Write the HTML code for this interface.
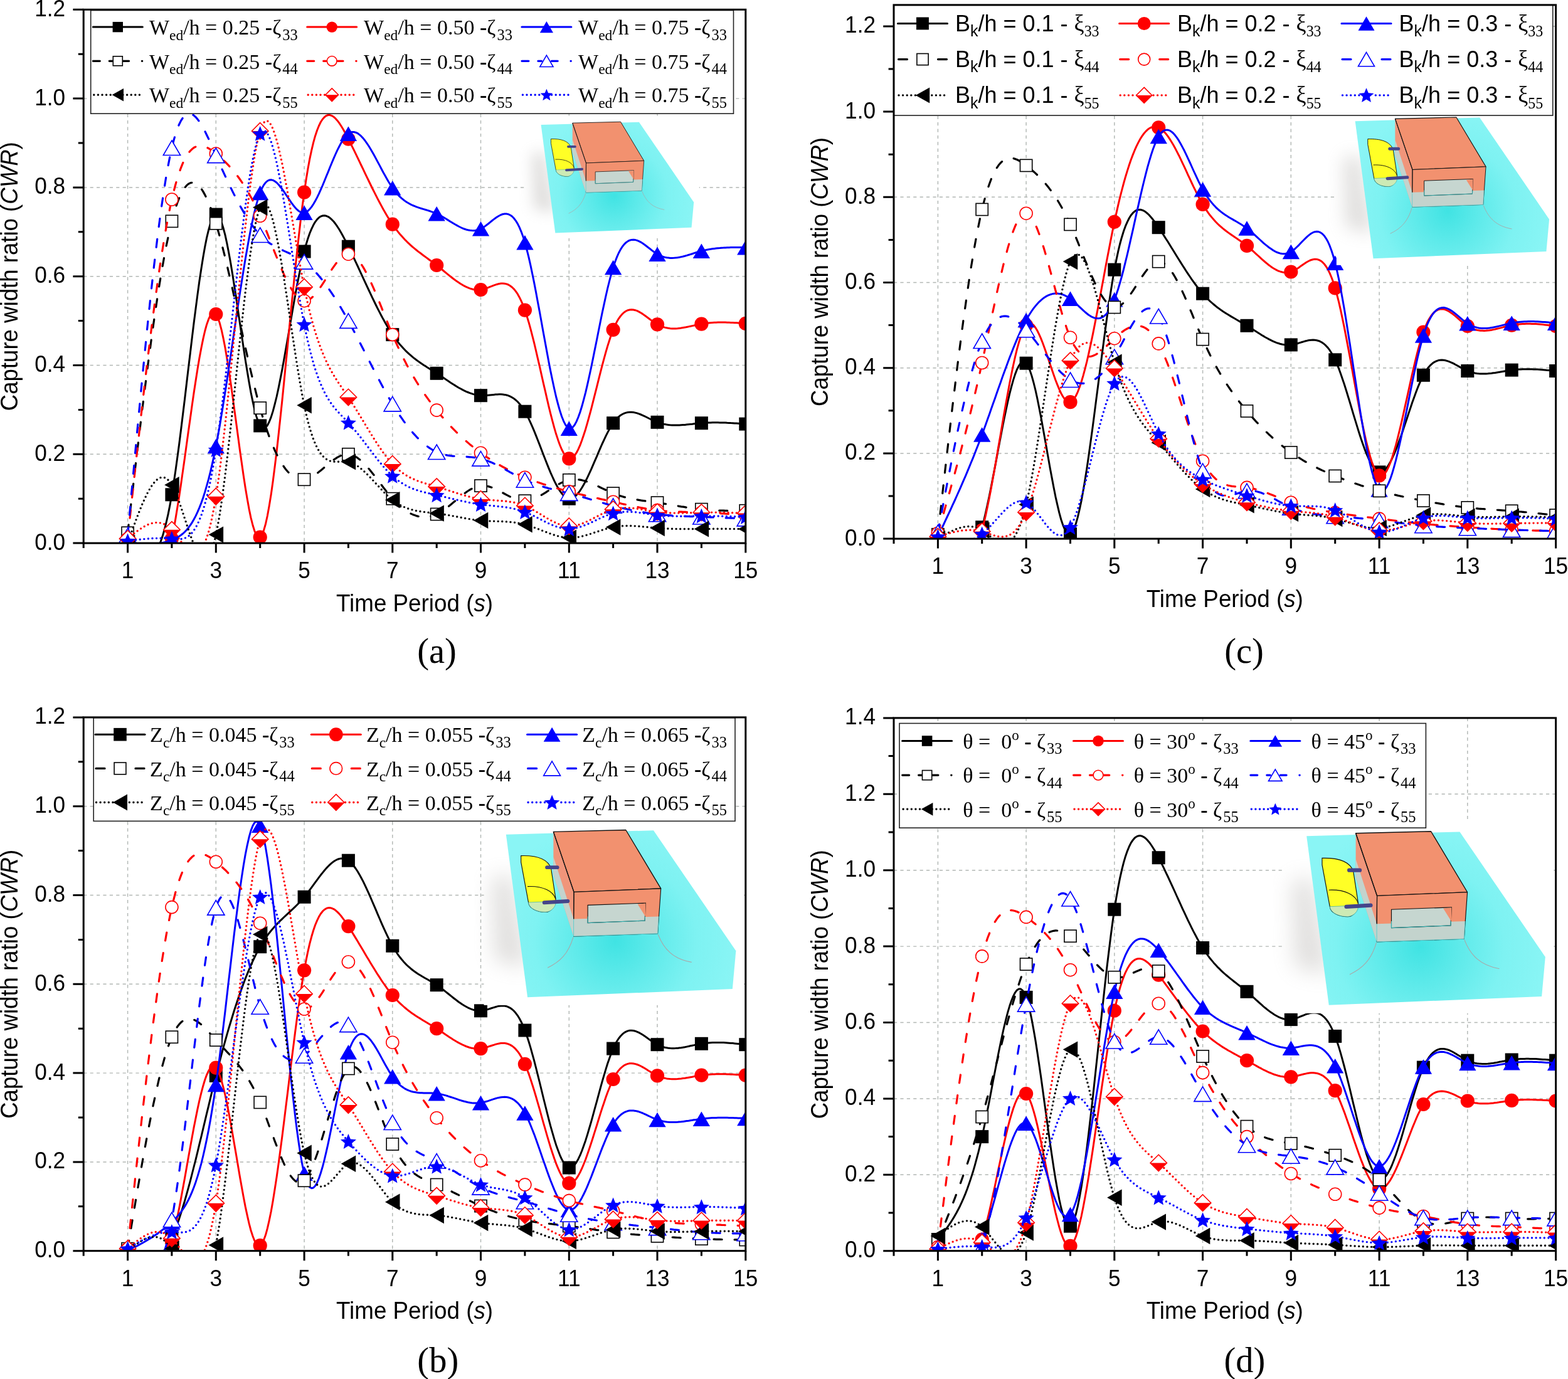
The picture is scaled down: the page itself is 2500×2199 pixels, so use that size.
<!DOCTYPE html>
<html><head><meta charset="utf-8"><title>CWR figure</title>
<style>html,body{margin:0;padding:0;background:#fff;} svg{display:block;}</style></head>
<body><svg xmlns="http://www.w3.org/2000/svg" width="2500" height="2199" viewBox="0 0 2500 2199">
<defs>
<filter id="blur" x="-50%" y="-50%" width="200%" height="200%"><feGaussianBlur stdDeviation="75"/></filter>
<radialGradient id="water" gradientUnits="userSpaceOnUse" cx="1080" cy="900" r="900">
<stop offset="0" stop-color="#40e3e3"/><stop offset="0.3" stop-color="#5eeaea"/><stop offset="0.65" stop-color="#7ef2f2"/><stop offset="1" stop-color="#8af5f5"/></radialGradient>
<clipPath id="clipa"><rect x="133.2" y="15.3" width="1055.6" height="850.8"/></clipPath>
<clipPath id="clipc"><rect x="1425" y="7.9" width="1055.6" height="851.2"/></clipPath>
<clipPath id="clipb"><rect x="133.2" y="1143.9" width="1055.6" height="850.8"/></clipPath>
<clipPath id="clipd"><rect x="1425" y="1144.9" width="1055.6" height="849.8"/></clipPath>
</defs>
<rect width="2500" height="2199" fill="#fff"/>
<path d="M203.6 15.3V866.1M344.3 15.3V866.1M485.1 15.3V866.1M625.8 15.3V866.1M766.5 15.3V866.1M907.3 15.3V866.1M1048 15.3V866.1M133.2 724.3H1188.8M133.2 582.5H1188.8M133.2 440.7H1188.8M133.2 298.9H1188.8M133.2 157.1H1188.8" stroke="#b2b7b4" stroke-width="1.45" stroke-dasharray="5.2 5.2" fill="none"/>
<g clip-path="url(#clipa)">
<g><path d="M203.6 866.1 L206.5 869.9 L209.4 873.6 L212.4 877.1 L215.3 880.5 L218.2 883.5 L221.2 886.2 L224.1 888.4 L227 890.2 L230 891.3 L232.9 891.8 L235.8 891.6 L238.8 890.5 L241.7 888.6 L244.6 885.8 L247.6 881.9 L250.5 876.9 L253.4 870.7 L256.3 863.3 L259.3 854.6 L262.2 844.5 L265.1 833 L268.1 819.9 L271 805.2 L273.9 788.8 L276.9 770.7 L279.8 751.1 L282.7 730.1 L285.7 708 L288.6 685 L291.5 661.2 L294.5 636.9 L297.4 612.3 L300.3 587.6 L303.3 563 L306.2 538.6 L309.1 514.8 L312.1 491.6 L315 469.4 L317.9 448.3 L320.9 428.5 L323.8 410.2 L326.7 393.7 L329.6 379.1 L332.6 366.6 L335.5 356.4 L338.4 348.9 L341.4 344 L344.3 342.1 L347.2 343.4 L350.2 347.5 L353.1 354.3 L356 363.5 L359 374.9 L361.9 388.2 L364.8 403.2 L367.8 419.7 L370.7 437.4 L373.6 456 L376.6 475.3 L379.5 495.1 L382.4 515 L385.4 535 L388.3 554.7 L391.2 573.9 L394.2 592.2 L397.1 609.6 L400 625.8 L403 640.4 L405.9 653.3 L408.8 664.1 L411.7 672.8 L414.7 678.9 L417.6 682.4 L420.5 683.3 L423.5 681.9 L426.4 678.2 L429.3 672.5 L432.3 664.9 L435.2 655.6 L438.1 644.7 L441.1 632.5 L444 619.1 L446.9 604.6 L449.9 589.3 L452.8 573.3 L455.7 556.8 L458.7 540 L461.6 523 L464.5 506 L467.5 489.1 L470.4 472.6 L473.3 456.6 L476.3 441.2 L479.2 426.7 L482.1 413.3 L485.1 401 L488 390 L490.9 380.4 L493.8 372 L496.8 364.8 L499.7 358.8 L502.6 353.8 L505.6 349.9 L508.5 347 L511.4 345.1 L514.4 344 L517.3 343.8 L520.2 344.3 L523.2 345.6 L526.1 347.6 L529 350.2 L532 353.3 L534.9 357 L537.8 361.2 L540.8 365.8 L543.7 370.8 L546.6 376 L549.6 381.6 L552.5 387.3 L555.4 393.2 L558.4 399.2 L561.3 405.3 L564.2 411.5 L567.1 417.7 L570.1 424 L573 430.4 L575.9 436.7 L578.9 443.1 L581.8 449.4 L584.7 455.7 L587.7 462 L590.6 468.2 L593.5 474.4 L596.5 480.5 L599.4 486.5 L602.3 492.3 L605.3 498.1 L608.2 503.7 L611.1 509.1 L614.1 514.4 L617 519.5 L619.9 524.4 L622.9 529.1 L625.8 533.6 L628.7 537.8 L631.7 541.8 L634.6 545.6 L637.5 549.2 L640.5 552.5 L643.4 555.7 L646.3 558.8 L649.2 561.6 L652.2 564.4 L655.1 566.9 L658 569.4 L661 571.8 L663.9 574 L666.8 576.1 L669.8 578.2 L672.7 580.2 L675.6 582.2 L678.6 584.1 L681.5 586 L684.4 587.8 L687.4 589.7 L690.3 591.5 L693.2 593.4 L696.2 595.3 L699.1 597.2 L702 599.1 L705 601.1 L707.9 603.1 L710.8 605.1 L713.8 607 L716.7 609 L719.6 610.9 L722.5 612.8 L725.5 614.6 L728.4 616.4 L731.3 618.2 L734.3 619.8 L737.2 621.4 L740.1 622.9 L743.1 624.3 L746 625.5 L748.9 626.7 L751.9 627.7 L754.8 628.6 L757.7 629.4 L760.7 630 L763.6 630.4 L766.5 630.7 L769.5 630.8 L772.4 630.8 L775.3 630.6 L778.3 630.3 L781.2 630 L784.1 629.7 L787.1 629.4 L790 629.1 L792.9 628.9 L795.9 628.8 L798.8 628.8 L801.7 629 L804.6 629.4 L807.6 630 L810.5 630.9 L813.4 632.1 L816.4 633.7 L819.3 635.6 L822.2 637.8 L825.2 640.5 L828.1 643.7 L831 647.4 L834 651.5 L836.9 656.2 L839.8 661.5 L842.8 667.3 L845.7 673.6 L848.6 680.2 L851.6 687.2 L854.5 694.4 L857.4 701.8 L860.4 709.4 L863.3 717 L866.2 724.6 L869.2 732.2 L872.1 739.6 L875 746.9 L877.9 753.8 L880.9 760.5 L883.8 766.8 L886.7 772.6 L889.7 777.9 L892.6 782.6 L895.5 786.7 L898.5 790 L901.4 792.6 L904.3 794.4 L907.3 795.2 L910.2 795.1 L913.1 794.1 L916.1 792.2 L919 789.6 L921.9 786.3 L924.9 782.3 L927.8 777.8 L930.7 772.7 L933.7 767.2 L936.6 761.3 L939.5 755.1 L942.5 748.6 L945.4 741.9 L948.3 735.1 L951.3 728.3 L954.2 721.4 L957.1 714.7 L960 708 L963 701.6 L965.9 695.4 L968.8 689.6 L971.8 684.1 L974.7 679.1 L977.6 674.7 L980.6 670.8 L983.5 667.4 L986.4 664.6 L989.4 662.3 L992.3 660.5 L995.2 659.1 L998.2 658.1 L1001.1 657.5 L1004 657.2 L1007 657.2 L1009.9 657.5 L1012.8 658.1 L1015.8 658.9 L1018.7 659.9 L1021.6 661 L1024.6 662.3 L1027.5 663.6 L1030.4 665 L1033.3 666.5 L1036.3 668 L1039.2 669.4 L1042.1 670.8 L1045.1 672.1 L1048 673.3 L1050.9 674.3 L1053.9 675.2 L1056.8 675.9 L1059.7 676.6 L1062.7 677.1 L1065.6 677.5 L1068.5 677.8 L1071.5 678 L1074.4 678.1 L1077.3 678.1 L1080.3 678.1 L1083.2 678 L1086.1 677.8 L1089.1 677.6 L1092 677.4 L1094.9 677.1 L1097.9 676.8 L1100.8 676.5 L1103.7 676.2 L1106.7 675.8 L1109.6 675.5 L1112.5 675.2 L1115.4 674.9 L1118.4 674.7 L1121.3 674.4 L1124.2 674.3 L1127.2 674.1 L1130.1 674 L1133 673.9 L1136 673.8 L1138.9 673.8 L1141.8 673.8 L1144.8 673.8 L1147.7 673.9 L1150.6 673.9 L1153.6 674 L1156.5 674.1 L1159.4 674.3 L1162.4 674.4 L1165.3 674.6 L1168.2 674.7 L1171.2 674.9 L1174.1 675.1 L1177 675.3 L1180 675.5 L1182.9 675.7 L1185.8 675.9 L1188.8 676.1" fill="none" stroke="#000000" stroke-width="3" stroke-linejoin="round"/><rect x="193.1" y="855.6" width="21" height="21" fill="#000000"/><rect x="263.4" y="778.3" width="21" height="21" fill="#000000"/><rect x="333.8" y="331.6" width="21" height="21" fill="#000000"/><rect x="404.2" y="668.4" width="21" height="21" fill="#000000"/><rect x="474.6" y="390.5" width="21" height="21" fill="#000000"/><rect x="544.9" y="382.7" width="21" height="21" fill="#000000"/><rect x="615.3" y="523.1" width="21" height="21" fill="#000000"/><rect x="685.7" y="584.8" width="21" height="21" fill="#000000"/><rect x="756" y="620.2" width="21" height="21" fill="#000000"/><rect x="826.4" y="645.7" width="21" height="21" fill="#000000"/><rect x="896.8" y="784.7" width="21" height="21" fill="#000000"/><rect x="967.1" y="664.2" width="21" height="21" fill="#000000"/><rect x="1037.5" y="662.8" width="21" height="21" fill="#000000"/><rect x="1107.9" y="664.2" width="21" height="21" fill="#000000"/><rect x="1178.3" y="665.6" width="21" height="21" fill="#000000"/></g>
<g><path d="M203.6 866.1 L206.5 872.7 L209.4 879.1 L212.4 885.5 L215.3 891.6 L218.2 897.5 L221.2 902.9 L224.1 908 L227 912.6 L230 916.5 L232.9 919.9 L235.8 922.5 L238.8 924.3 L241.7 925.3 L244.6 925.4 L247.6 924.4 L250.5 922.4 L253.4 919.2 L256.3 914.8 L259.3 909.2 L262.2 902.1 L265.1 893.7 L268.1 883.7 L271 872.2 L273.9 859 L276.9 844.2 L279.8 827.8 L282.7 810.1 L285.7 791.4 L288.6 771.7 L291.5 751.4 L294.5 730.5 L297.4 709.4 L300.3 688.2 L303.3 667.2 L306.2 646.4 L309.1 626.2 L312.1 606.8 L315 588.3 L317.9 571 L320.9 555 L323.8 540.6 L326.7 528 L329.6 517.4 L332.6 508.9 L335.5 502.8 L338.4 499.3 L341.4 498.6 L344.3 501 L347.2 506.4 L350.2 514.8 L353.1 525.8 L356 539.1 L359 554.5 L361.9 571.7 L364.8 590.4 L367.8 610.2 L370.7 631 L373.6 652.4 L376.6 674.2 L379.5 695.9 L382.4 717.5 L385.4 738.5 L388.3 758.7 L391.2 777.8 L394.2 795.5 L397.1 811.6 L400 825.6 L403 837.5 L405.9 846.8 L408.8 853.2 L411.7 856.6 L414.7 856.5 L417.6 852.9 L420.5 845.8 L423.5 835.5 L426.4 822.3 L429.3 806.3 L432.3 787.8 L435.2 767.1 L438.1 744.4 L441.1 720 L444 694 L446.9 666.8 L449.9 638.5 L452.8 609.5 L455.7 579.9 L458.7 550 L461.6 520 L464.5 490.2 L467.5 460.8 L470.4 432.1 L473.3 404.2 L476.3 377.5 L479.2 352.2 L482.1 328.5 L485.1 306.7 L488 286.9 L490.9 269.2 L493.8 253.4 L496.8 239.4 L499.7 227.2 L502.6 216.7 L505.6 207.8 L508.5 200.5 L511.4 194.5 L514.4 190 L517.3 186.7 L520.2 184.5 L523.2 183.5 L526.1 183.6 L529 184.5 L532 186.3 L534.9 188.9 L537.8 192.2 L540.8 196.1 L543.7 200.5 L546.6 205.3 L549.6 210.5 L552.5 216 L555.4 221.6 L558.4 227.4 L561.3 233.3 L564.2 239.2 L567.1 245.2 L570.1 251.3 L573 257.4 L575.9 263.5 L578.9 269.6 L581.8 275.8 L584.7 281.9 L587.7 288 L590.6 294 L593.5 300 L596.5 305.9 L599.4 311.7 L602.3 317.4 L605.3 323 L608.2 328.4 L611.1 333.8 L614.1 338.9 L617 343.9 L619.9 348.7 L622.9 353.3 L625.8 357.7 L628.7 361.9 L631.7 365.9 L634.6 369.6 L637.5 373.2 L640.5 376.6 L643.4 379.8 L646.3 382.9 L649.2 385.8 L652.2 388.6 L655.1 391.3 L658 393.9 L661 396.4 L663.9 398.7 L666.8 401.1 L669.8 403.3 L672.7 405.5 L675.6 407.7 L678.6 409.9 L681.5 412 L684.4 414.2 L687.4 416.3 L690.3 418.5 L693.2 420.7 L696.2 423 L699.1 425.3 L702 427.7 L705 430 L707.9 432.5 L710.8 434.9 L713.8 437.3 L716.7 439.6 L719.6 442 L722.5 444.3 L725.5 446.5 L728.4 448.6 L731.3 450.6 L734.3 452.5 L737.2 454.3 L740.1 455.9 L743.1 457.4 L746 458.7 L748.9 459.9 L751.9 460.8 L754.8 461.5 L757.7 462 L760.7 462.3 L763.6 462.3 L766.5 462 L769.5 461.4 L772.4 460.6 L775.3 459.7 L778.3 458.6 L781.2 457.4 L784.1 456.3 L787.1 455.1 L790 454.1 L792.9 453.2 L795.9 452.5 L798.8 452.1 L801.7 452 L804.6 452.2 L807.6 452.9 L810.5 454 L813.4 455.7 L816.4 458 L819.3 460.8 L822.2 464.4 L825.2 468.7 L828.1 473.9 L831 479.8 L834 486.7 L836.9 494.6 L839.8 503.4 L842.8 513.2 L845.7 523.7 L848.6 534.9 L851.6 546.7 L854.5 559 L857.4 571.6 L860.4 584.4 L863.3 597.4 L866.2 610.3 L869.2 623.2 L872.1 635.9 L875 648.3 L877.9 660.2 L880.9 671.6 L883.8 682.3 L886.7 692.3 L889.7 701.4 L892.6 709.5 L895.5 716.5 L898.5 722.3 L901.4 726.8 L904.3 729.9 L907.3 731.4 L910.2 731.3 L913.1 729.6 L916.1 726.6 L919 722.2 L921.9 716.6 L924.9 709.9 L927.8 702.1 L930.7 693.6 L933.7 684.2 L936.6 674.2 L939.5 663.6 L942.5 652.6 L945.4 641.2 L948.3 629.6 L951.3 617.9 L954.2 606.2 L957.1 594.7 L960 583.3 L963 572.2 L965.9 561.6 L968.8 551.6 L971.8 542.2 L974.7 533.5 L977.6 525.8 L980.6 519 L983.5 513.1 L986.4 508.1 L989.4 504 L992.3 500.6 L995.2 498 L998.2 496 L1001.1 494.7 L1004 494 L1007 493.8 L1009.9 494 L1012.8 494.7 L1015.8 495.7 L1018.7 497.1 L1021.6 498.8 L1024.6 500.6 L1027.5 502.7 L1030.4 504.8 L1033.3 507 L1036.3 509.2 L1039.2 511.4 L1042.1 513.5 L1045.1 515.5 L1048 517.3 L1050.9 518.8 L1053.9 520.1 L1056.8 521.2 L1059.7 522.1 L1062.7 522.8 L1065.6 523.3 L1068.5 523.7 L1071.5 523.9 L1074.4 524 L1077.3 523.9 L1080.3 523.7 L1083.2 523.4 L1086.1 523.1 L1089.1 522.6 L1092 522.1 L1094.9 521.5 L1097.9 520.9 L1100.8 520.3 L1103.7 519.6 L1106.7 519 L1109.6 518.3 L1112.5 517.7 L1115.4 517.1 L1118.4 516.6 L1121.3 516.1 L1124.2 515.7 L1127.2 515.3 L1130.1 515 L1133 514.7 L1136 514.5 L1138.9 514.3 L1141.8 514.2 L1144.8 514.1 L1147.7 514 L1150.6 514 L1153.6 514 L1156.5 514.1 L1159.4 514.2 L1162.4 514.3 L1165.3 514.4 L1168.2 514.5 L1171.2 514.7 L1174.1 514.8 L1177 515 L1180 515.2 L1182.9 515.4 L1185.8 515.6 L1188.8 515.9" fill="none" stroke="#ff0000" stroke-width="3" stroke-linejoin="round"/><circle cx="203.6" cy="866.1" r="11.1" fill="#ff0000"/><circle cx="273.9" cy="859" r="11.1" fill="#ff0000"/><circle cx="344.3" cy="501" r="11.1" fill="#ff0000"/><circle cx="414.7" cy="856.5" r="11.1" fill="#ff0000"/><circle cx="485.1" cy="306.7" r="11.1" fill="#ff0000"/><circle cx="555.4" cy="221.6" r="11.1" fill="#ff0000"/><circle cx="625.8" cy="357.7" r="11.1" fill="#ff0000"/><circle cx="696.2" cy="423" r="11.1" fill="#ff0000"/><circle cx="766.5" cy="462" r="11.1" fill="#ff0000"/><circle cx="836.9" cy="494.6" r="11.1" fill="#ff0000"/><circle cx="907.3" cy="731.4" r="11.1" fill="#ff0000"/><circle cx="977.6" cy="525.8" r="11.1" fill="#ff0000"/><circle cx="1048" cy="517.3" r="11.1" fill="#ff0000"/><circle cx="1118.4" cy="516.6" r="11.1" fill="#ff0000"/><circle cx="1188.8" cy="515.9" r="11.1" fill="#ff0000"/></g>
<g><path d="M203.6 866.1 L206.5 866.3 L209.4 866.6 L212.4 866.8 L215.3 867 L218.2 867.3 L221.2 867.4 L224.1 867.6 L227 867.7 L230 867.8 L232.9 867.8 L235.8 867.8 L238.8 867.7 L241.7 867.6 L244.6 867.4 L247.6 867.2 L250.5 866.9 L253.4 866.5 L256.3 866 L259.3 865.4 L262.2 864.8 L265.1 864 L268.1 863.2 L271 862.2 L273.9 861.1 L276.9 860 L279.8 858.6 L282.7 857.1 L285.7 855.3 L288.6 853.3 L291.5 851 L294.5 848.3 L297.4 845.2 L300.3 841.7 L303.3 837.7 L306.2 833.3 L309.1 828.2 L312.1 822.6 L315 816.4 L317.9 809.6 L320.9 802 L323.8 793.7 L326.7 784.6 L329.6 774.7 L332.6 763.9 L335.5 752.3 L338.4 739.7 L341.4 726.1 L344.3 711.5 L347.2 695.9 L350.2 679.4 L353.1 662.1 L356 644 L359 625.3 L361.9 606.2 L364.8 586.7 L367.8 566.9 L370.7 547 L373.6 527 L376.6 507.1 L379.5 487.4 L382.4 468.1 L385.4 449.1 L388.3 430.7 L391.2 412.9 L394.2 395.9 L397.1 379.7 L400 364.5 L403 350.5 L405.9 337.6 L408.8 326.1 L411.7 316 L414.7 307.4 L417.6 300.5 L420.5 295.1 L423.5 291.1 L426.4 288.5 L429.3 287.1 L432.3 286.8 L435.2 287.4 L438.1 289 L441.1 291.3 L444 294.2 L446.9 297.7 L449.9 301.5 L452.8 305.7 L455.7 310.1 L458.7 314.5 L461.6 318.9 L464.5 323.2 L467.5 327.2 L470.4 330.8 L473.3 333.9 L476.3 336.5 L479.2 338.3 L482.1 339.3 L485.1 339.3 L488 338.3 L490.9 336.4 L493.8 333.5 L496.8 329.9 L499.7 325.5 L502.6 320.5 L505.6 314.9 L508.5 308.8 L511.4 302.3 L514.4 295.5 L517.3 288.5 L520.2 281.3 L523.2 274.1 L526.1 266.8 L529 259.7 L532 252.7 L534.9 246 L537.8 239.6 L540.8 233.7 L543.7 228.2 L546.6 223.4 L549.6 219.2 L552.5 215.7 L555.4 213.1 L558.4 211.4 L561.3 210.5 L564.2 210.5 L567.1 211.2 L570.1 212.5 L573 214.6 L575.9 217.2 L578.9 220.4 L581.8 224 L584.7 228.1 L587.7 232.5 L590.6 237.3 L593.5 242.3 L596.5 247.5 L599.4 252.9 L602.3 258.4 L605.3 263.9 L608.2 269.5 L611.1 275 L614.1 280.3 L617 285.5 L619.9 290.5 L622.9 295.2 L625.8 299.6 L628.7 303.6 L631.7 307.3 L634.6 310.6 L637.5 313.6 L640.5 316.3 L643.4 318.7 L646.3 320.9 L649.2 322.8 L652.2 324.5 L655.1 326.1 L658 327.5 L661 328.7 L663.9 329.9 L666.8 330.9 L669.8 331.9 L672.7 332.8 L675.6 333.6 L678.6 334.5 L681.5 335.4 L684.4 336.3 L687.4 337.3 L690.3 338.3 L693.2 339.5 L696.2 340.7 L699.1 342.1 L702 343.7 L705 345.3 L707.9 347 L710.8 348.8 L713.8 350.6 L716.7 352.4 L719.6 354.2 L722.5 356 L725.5 357.8 L728.4 359.4 L731.3 361 L734.3 362.5 L737.2 363.8 L740.1 365 L743.1 366 L746 366.7 L748.9 367.3 L751.9 367.6 L754.8 367.7 L757.7 367.5 L760.7 366.9 L763.6 366.1 L766.5 364.8 L769.5 363.3 L772.4 361.4 L775.3 359.3 L778.3 357 L781.2 354.6 L784.1 352.3 L787.1 349.9 L790 347.7 L792.9 345.7 L795.9 344 L798.8 342.5 L801.7 341.5 L804.6 341 L807.6 341 L810.5 341.6 L813.4 343 L816.4 345 L819.3 348 L822.2 351.8 L825.2 356.6 L828.1 362.4 L831 369.3 L834 377.4 L836.9 386.8 L839.8 397.5 L842.8 409.3 L845.7 422.2 L848.6 436 L851.6 450.6 L854.5 465.8 L857.4 481.4 L860.4 497.4 L863.3 513.6 L866.2 529.8 L869.2 545.9 L872.1 561.8 L875 577.4 L877.9 592.4 L880.9 606.8 L883.8 620.3 L886.7 633 L889.7 644.5 L892.6 654.8 L895.5 663.8 L898.5 671.3 L901.4 677.1 L904.3 681.1 L907.3 683.2 L910.2 683.2 L913.1 681.4 L916.1 677.7 L919 672.4 L921.9 665.5 L924.9 657.3 L927.8 647.8 L930.7 637.2 L933.7 625.6 L936.6 613.1 L939.5 600 L942.5 586.2 L945.4 572.1 L948.3 557.6 L951.3 543 L954.2 528.3 L957.1 513.8 L960 499.5 L963 485.6 L965.9 472.2 L968.8 459.5 L971.8 447.5 L974.7 436.5 L977.6 426.5 L980.6 417.7 L983.5 410.1 L986.4 403.5 L989.4 397.9 L992.3 393.3 L995.2 389.6 L998.2 386.7 L1001.1 384.6 L1004 383.2 L1007 382.4 L1009.9 382.2 L1012.8 382.6 L1015.8 383.4 L1018.7 384.6 L1021.6 386.1 L1024.6 388 L1027.5 390 L1030.4 392.2 L1033.3 394.5 L1036.3 396.8 L1039.2 399.1 L1042.1 401.3 L1045.1 403.4 L1048 405.2 L1050.9 406.8 L1053.9 408.2 L1056.8 409.2 L1059.7 410.1 L1062.7 410.7 L1065.6 411.1 L1068.5 411.4 L1071.5 411.4 L1074.4 411.3 L1077.3 411.1 L1080.3 410.7 L1083.2 410.2 L1086.1 409.6 L1089.1 409 L1092 408.2 L1094.9 407.4 L1097.9 406.5 L1100.8 405.6 L1103.7 404.7 L1106.7 403.7 L1109.6 402.8 L1112.5 401.9 L1115.4 401.1 L1118.4 400.3 L1121.3 399.6 L1124.2 398.9 L1127.2 398.3 L1130.1 397.7 L1133 397.2 L1136 396.8 L1138.9 396.4 L1141.8 396 L1144.8 395.7 L1147.7 395.5 L1150.6 395.2 L1153.6 395.1 L1156.5 394.9 L1159.4 394.8 L1162.4 394.7 L1165.3 394.6 L1168.2 394.6 L1171.2 394.5 L1174.1 394.5 L1177 394.5 L1180 394.5 L1182.9 394.6 L1185.8 394.6 L1188.8 394.6" fill="none" stroke="#0000ff" stroke-width="3" stroke-linejoin="round"/><polygon points="203.6,854.4 217.2,877.9 189.9,877.9" fill="#0000ff"/><polygon points="273.9,849.4 287.6,872.9 260.3,872.9" fill="#0000ff"/><polygon points="344.3,699.8 358,723.3 330.7,723.3" fill="#0000ff"/><polygon points="414.7,295.7 428.3,319.2 401,319.2" fill="#0000ff"/><polygon points="485.1,327.6 498.7,351.1 471.4,351.1" fill="#0000ff"/><polygon points="555.4,201.4 569.1,224.9 541.8,224.9" fill="#0000ff"/><polygon points="625.8,287.9 639.4,311.4 612.1,311.4" fill="#0000ff"/><polygon points="696.2,329 709.8,352.5 682.5,352.5" fill="#0000ff"/><polygon points="766.5,353.1 780.2,376.6 752.9,376.6" fill="#0000ff"/><polygon points="836.9,375.1 850.6,398.6 823.3,398.6" fill="#0000ff"/><polygon points="907.3,671.4 920.9,694.9 893.6,694.9" fill="#0000ff"/><polygon points="977.6,414.8 991.3,438.3 964,438.3" fill="#0000ff"/><polygon points="1048,393.5 1061.7,417 1034.4,417" fill="#0000ff"/><polygon points="1118.4,388.5 1132,412 1104.7,412" fill="#0000ff"/><polygon points="1188.8,382.9 1202.4,406.4 1175.1,406.4" fill="#0000ff"/></g>
<g><path d="M203.6 849.8 L206.5 824.5 L209.4 799.2 L212.4 774 L215.3 749 L218.2 724.2 L221.2 699.6 L224.1 675.3 L227 651.3 L230 627.7 L232.9 604.6 L235.8 581.9 L238.8 559.8 L241.7 538.2 L244.6 517.3 L247.6 497 L250.5 477.4 L253.4 458.7 L256.3 440.7 L259.3 423.6 L262.2 407.4 L265.1 392.2 L268.1 378 L271 364.8 L273.9 352.8 L276.9 341.9 L279.8 332.1 L282.7 323.4 L285.7 315.8 L288.6 309.3 L291.5 303.8 L294.5 299.4 L297.4 295.9 L300.3 293.4 L303.3 291.8 L306.2 291.2 L309.1 291.4 L312.1 292.6 L315 294.6 L317.9 297.4 L320.9 301 L323.8 305.4 L326.7 310.6 L329.6 316.5 L332.6 323.1 L335.5 330.5 L338.4 338.4 L341.4 347.1 L344.3 356.3 L347.2 366.2 L350.2 376.6 L353.1 387.5 L356 398.9 L359 410.6 L361.9 422.8 L364.8 435.3 L367.8 448 L370.7 461 L373.6 474.1 L376.6 487.4 L379.5 500.7 L382.4 514.1 L385.4 527.5 L388.3 540.8 L391.2 554.1 L394.2 567.1 L397.1 580 L400 592.7 L403 605 L405.9 617 L408.8 628.6 L411.7 639.8 L414.7 650.6 L417.6 660.8 L420.5 670.5 L423.5 679.6 L426.4 688.3 L429.3 696.5 L432.3 704.1 L435.2 711.3 L438.1 718 L441.1 724.2 L444 730 L446.9 735.3 L449.9 740.1 L452.8 744.5 L455.7 748.5 L458.7 752 L461.6 755 L464.5 757.7 L467.5 759.9 L470.4 761.7 L473.3 763.1 L476.3 764.1 L479.2 764.7 L482.1 764.9 L485.1 764.7 L488 764.2 L490.9 763.3 L493.8 762.1 L496.8 760.6 L499.7 758.8 L502.6 756.9 L505.6 754.8 L508.5 752.5 L511.4 750.2 L514.4 747.7 L517.3 745.2 L520.2 742.7 L523.2 740.3 L526.1 737.8 L529 735.5 L532 733.3 L534.9 731.3 L537.8 729.4 L540.8 727.8 L543.7 726.5 L546.6 725.4 L549.6 724.7 L552.5 724.3 L555.4 724.3 L558.4 724.7 L561.3 725.6 L564.2 726.8 L567.1 728.4 L570.1 730.2 L573 732.4 L575.9 734.9 L578.9 737.6 L581.8 740.6 L584.7 743.8 L587.7 747.1 L590.6 750.6 L593.5 754.2 L596.5 757.9 L599.4 761.7 L602.3 765.5 L605.3 769.4 L608.2 773.3 L611.1 777.2 L614.1 781 L617 784.7 L619.9 788.3 L622.9 791.8 L625.8 795.2 L628.7 798.4 L631.7 801.4 L634.6 804.3 L637.5 806.9 L640.5 809.4 L643.4 811.7 L646.3 813.8 L649.2 815.8 L652.2 817.5 L655.1 819.1 L658 820.4 L661 821.6 L663.9 822.6 L666.8 823.4 L669.8 824 L672.7 824.3 L675.6 824.5 L678.6 824.5 L681.5 824.3 L684.4 823.9 L687.4 823.2 L690.3 822.4 L693.2 821.3 L696.2 820 L699.1 818.5 L702 816.8 L705 815 L707.9 813 L710.8 810.8 L713.8 808.6 L716.7 806.3 L719.6 803.9 L722.5 801.4 L725.5 799 L728.4 796.5 L731.3 794.1 L734.3 791.7 L737.2 789.4 L740.1 787.2 L743.1 785 L746 783 L748.9 781.2 L751.9 779.5 L754.8 778.1 L757.7 776.8 L760.7 775.8 L763.6 775.1 L766.5 774.6 L769.5 774.5 L772.4 774.6 L775.3 775 L778.3 775.6 L781.2 776.4 L784.1 777.4 L787.1 778.6 L790 779.9 L792.9 781.3 L795.9 782.8 L798.8 784.3 L801.7 785.9 L804.6 787.5 L807.6 789.1 L810.5 790.6 L813.4 792.1 L816.4 793.5 L819.3 794.8 L822.2 795.9 L825.2 796.9 L828.1 797.7 L831 798.3 L834 798.7 L836.9 798.7 L839.8 798.6 L842.8 798.1 L845.7 797.4 L848.6 796.5 L851.6 795.4 L854.5 794.1 L857.4 792.7 L860.4 791.1 L863.3 789.4 L866.2 787.7 L869.2 785.8 L872.1 783.9 L875 782 L877.9 780.1 L880.9 778.2 L883.8 776.3 L886.7 774.5 L889.7 772.8 L892.6 771.2 L895.5 769.7 L898.5 768.4 L901.4 767.2 L904.3 766.2 L907.3 765.4 L910.2 764.9 L913.1 764.5 L916.1 764.4 L919 764.5 L921.9 764.8 L924.9 765.2 L927.8 765.7 L930.7 766.5 L933.7 767.3 L936.6 768.3 L939.5 769.3 L942.5 770.5 L945.4 771.7 L948.3 773 L951.3 774.4 L954.2 775.8 L957.1 777.2 L960 778.6 L963 780 L965.9 781.4 L968.8 782.8 L971.8 784.2 L974.7 785.5 L977.6 786.7 L980.6 787.8 L983.5 788.9 L986.4 789.9 L989.4 790.9 L992.3 791.7 L995.2 792.6 L998.2 793.3 L1001.1 794 L1004 794.7 L1007 795.3 L1009.9 795.9 L1012.8 796.4 L1015.8 796.9 L1018.7 797.4 L1021.6 797.9 L1024.6 798.3 L1027.5 798.7 L1030.4 799.2 L1033.3 799.6 L1036.3 800 L1039.2 800.4 L1042.1 800.8 L1045.1 801.2 L1048 801.6 L1050.9 802 L1053.9 802.5 L1056.8 802.9 L1059.7 803.4 L1062.7 803.9 L1065.6 804.3 L1068.5 804.8 L1071.5 805.3 L1074.4 805.8 L1077.3 806.3 L1080.3 806.8 L1083.2 807.3 L1086.1 807.8 L1089.1 808.2 L1092 808.7 L1094.9 809.2 L1097.9 809.6 L1100.8 810 L1103.7 810.4 L1106.7 810.8 L1109.6 811.2 L1112.5 811.6 L1115.4 811.9 L1118.4 812.2 L1121.3 812.5 L1124.2 812.8 L1127.2 813 L1130.1 813.2 L1133 813.4 L1136 813.6 L1138.9 813.7 L1141.8 813.8 L1144.8 814 L1147.7 814.1 L1150.6 814.1 L1153.6 814.2 L1156.5 814.3 L1159.4 814.3 L1162.4 814.3 L1165.3 814.4 L1168.2 814.4 L1171.2 814.4 L1174.1 814.4 L1177 814.4 L1180 814.4 L1182.9 814.4 L1185.8 814.4 L1188.8 814.3" fill="none" stroke="#000000" stroke-width="3.2" stroke-dasharray="13 20" stroke-linecap="round" stroke-linejoin="round"/><rect x="194" y="840.2" width="19.2" height="19.2" fill="#fff" stroke="#000000" stroke-width="1.6"/><rect x="264.3" y="343.2" width="19.2" height="19.2" fill="#fff" stroke="#000000" stroke-width="1.6"/><rect x="334.7" y="346.7" width="19.2" height="19.2" fill="#fff" stroke="#000000" stroke-width="1.6"/><rect x="405.1" y="641" width="19.2" height="19.2" fill="#fff" stroke="#000000" stroke-width="1.6"/><rect x="475.4" y="755.1" width="19.2" height="19.2" fill="#fff" stroke="#000000" stroke-width="1.6"/><rect x="545.8" y="714.7" width="19.2" height="19.2" fill="#fff" stroke="#000000" stroke-width="1.6"/><rect x="616.2" y="785.6" width="19.2" height="19.2" fill="#fff" stroke="#000000" stroke-width="1.6"/><rect x="686.6" y="810.4" width="19.2" height="19.2" fill="#fff" stroke="#000000" stroke-width="1.6"/><rect x="756.9" y="765" width="19.2" height="19.2" fill="#fff" stroke="#000000" stroke-width="1.6"/><rect x="827.3" y="789.1" width="19.2" height="19.2" fill="#fff" stroke="#000000" stroke-width="1.6"/><rect x="897.7" y="755.8" width="19.2" height="19.2" fill="#fff" stroke="#000000" stroke-width="1.6"/><rect x="968" y="777.1" width="19.2" height="19.2" fill="#fff" stroke="#000000" stroke-width="1.6"/><rect x="1038.4" y="792" width="19.2" height="19.2" fill="#fff" stroke="#000000" stroke-width="1.6"/><rect x="1108.8" y="802.6" width="19.2" height="19.2" fill="#fff" stroke="#000000" stroke-width="1.6"/><rect x="1179.2" y="804.7" width="19.2" height="19.2" fill="#fff" stroke="#000000" stroke-width="1.6"/></g>
<g><path d="M203.6 859 L206.5 831.7 L209.4 804.4 L212.4 777.2 L215.3 750.2 L218.2 723.4 L221.2 696.8 L224.1 670.5 L227 644.6 L230 619.1 L232.9 594 L235.8 569.4 L238.8 545.4 L241.7 521.9 L244.6 499.2 L247.6 477.1 L250.5 455.7 L253.4 435.2 L256.3 415.5 L259.3 396.7 L262.2 378.9 L265.1 362.1 L268.1 346.3 L271 331.6 L273.9 318 L276.9 305.7 L279.8 294.5 L282.7 284.4 L285.7 275.3 L288.6 267.3 L291.5 260.2 L294.5 254.1 L297.4 248.8 L300.3 244.4 L303.3 240.7 L306.2 237.8 L309.1 235.5 L312.1 233.9 L315 232.9 L317.9 232.4 L320.9 232.4 L323.8 232.9 L326.7 233.8 L329.6 235 L332.6 236.6 L335.5 238.4 L338.4 240.5 L341.4 242.7 L344.3 245 L347.2 247.4 L350.2 250 L353.1 252.6 L356 255.3 L359 258.1 L361.9 261.1 L364.8 264.2 L367.8 267.4 L370.7 270.8 L373.6 274.3 L376.6 278 L379.5 281.8 L382.4 285.8 L385.4 290.1 L388.3 294.5 L391.2 299.1 L394.2 303.9 L397.1 308.9 L400 314.2 L403 319.7 L405.9 325.5 L408.8 331.5 L411.7 337.7 L414.7 344.3 L417.6 351.1 L420.5 358.1 L423.5 365.3 L426.4 372.7 L429.3 380.1 L432.3 387.6 L435.2 395.2 L438.1 402.6 L441.1 410 L444 417.3 L446.9 424.3 L449.9 431.2 L452.8 437.8 L455.7 444.1 L458.7 450 L461.6 455.5 L464.5 460.6 L467.5 465.1 L470.4 469.2 L473.3 472.6 L476.3 475.5 L479.2 477.6 L482.1 479 L485.1 479.7 L488 479.6 L490.9 478.7 L493.8 477.1 L496.8 475 L499.7 472.3 L502.6 469.1 L505.6 465.5 L508.5 461.5 L511.4 457.3 L514.4 452.8 L517.3 448.3 L520.2 443.6 L523.2 438.9 L526.1 434.3 L529 429.7 L532 425.4 L534.9 421.3 L537.8 417.5 L540.8 414.1 L543.7 411.2 L546.6 408.8 L549.6 406.9 L552.5 405.7 L555.4 405.2 L558.4 405.5 L561.3 406.5 L564.2 408.3 L567.1 410.6 L570.1 413.6 L573 417.2 L575.9 421.3 L578.9 425.9 L581.8 430.9 L584.7 436.4 L587.7 442.2 L590.6 448.4 L593.5 454.9 L596.5 461.6 L599.4 468.5 L602.3 475.6 L605.3 482.8 L608.2 490.1 L611.1 497.5 L614.1 504.9 L617 512.2 L619.9 519.5 L622.9 526.6 L625.8 533.6 L628.7 540.4 L631.7 547 L634.6 553.4 L637.5 559.6 L640.5 565.7 L643.4 571.6 L646.3 577.3 L649.2 582.9 L652.2 588.3 L655.1 593.5 L658 598.6 L661 603.6 L663.9 608.5 L666.8 613.2 L669.8 617.7 L672.7 622.2 L675.6 626.5 L678.6 630.8 L681.5 634.9 L684.4 638.9 L687.4 642.8 L690.3 646.7 L693.2 650.4 L696.2 654.1 L699.1 657.7 L702 661.2 L705 664.7 L707.9 668.1 L710.8 671.4 L713.8 674.6 L716.7 677.8 L719.6 680.9 L722.5 683.9 L725.5 686.9 L728.4 689.8 L731.3 692.6 L734.3 695.4 L737.2 698.1 L740.1 700.8 L743.1 703.4 L746 705.9 L748.9 708.4 L751.9 710.8 L754.8 713.2 L757.7 715.5 L760.7 717.8 L763.6 720 L766.5 722.2 L769.5 724.3 L772.4 726.3 L775.3 728.4 L778.3 730.3 L781.2 732.2 L784.1 734.1 L787.1 735.9 L790 737.7 L792.9 739.5 L795.9 741.2 L798.8 742.8 L801.7 744.5 L804.6 746 L807.6 747.6 L810.5 749.1 L813.4 750.6 L816.4 752 L819.3 753.4 L822.2 754.8 L825.2 756.1 L828.1 757.4 L831 758.7 L834 759.9 L836.9 761.2 L839.8 762.4 L842.8 763.5 L845.7 764.7 L848.6 765.8 L851.6 766.9 L854.5 767.9 L857.4 769 L860.4 770 L863.3 771 L866.2 772 L869.2 772.9 L872.1 773.9 L875 774.8 L877.9 775.7 L880.9 776.6 L883.8 777.4 L886.7 778.3 L889.7 779.1 L892.6 779.9 L895.5 780.8 L898.5 781.5 L901.4 782.3 L904.3 783.1 L907.3 783.9 L910.2 784.6 L913.1 785.3 L916.1 786.1 L919 786.8 L921.9 787.5 L924.9 788.2 L927.8 788.9 L930.7 789.6 L933.7 790.3 L936.6 791 L939.5 791.6 L942.5 792.3 L945.4 793 L948.3 793.6 L951.3 794.3 L954.2 794.9 L957.1 795.6 L960 796.2 L963 796.9 L965.9 797.5 L968.8 798.2 L971.8 798.9 L974.7 799.5 L977.6 800.2 L980.6 800.8 L983.5 801.5 L986.4 802.1 L989.4 802.8 L992.3 803.5 L995.2 804.1 L998.2 804.7 L1001.1 805.4 L1004 806 L1007 806.6 L1009.9 807.2 L1012.8 807.8 L1015.8 808.4 L1018.7 809 L1021.6 809.6 L1024.6 810.1 L1027.5 810.6 L1030.4 811.1 L1033.3 811.6 L1036.3 812.1 L1039.2 812.5 L1042.1 812.9 L1045.1 813.3 L1048 813.6 L1050.9 814 L1053.9 814.3 L1056.8 814.5 L1059.7 814.8 L1062.7 815 L1065.6 815.2 L1068.5 815.4 L1071.5 815.6 L1074.4 815.7 L1077.3 815.9 L1080.3 816 L1083.2 816.1 L1086.1 816.2 L1089.1 816.3 L1092 816.4 L1094.9 816.5 L1097.9 816.6 L1100.8 816.7 L1103.7 816.7 L1106.7 816.8 L1109.6 816.9 L1112.5 817 L1115.4 817.1 L1118.4 817.2 L1121.3 817.3 L1124.2 817.4 L1127.2 817.5 L1130.1 817.7 L1133 817.8 L1136 818 L1138.9 818.1 L1141.8 818.3 L1144.8 818.4 L1147.7 818.6 L1150.6 818.8 L1153.6 819 L1156.5 819.2 L1159.4 819.4 L1162.4 819.6 L1165.3 819.8 L1168.2 820 L1171.2 820.2 L1174.1 820.4 L1177 820.6 L1180 820.8 L1182.9 821 L1185.8 821.2 L1188.8 821.4" fill="none" stroke="#ff0000" stroke-width="3.2" stroke-dasharray="13 20" stroke-linecap="round" stroke-linejoin="round"/><circle cx="203.6" cy="859" r="10" fill="#fff" stroke="#ff0000" stroke-width="1.6"/><circle cx="273.9" cy="318" r="10" fill="#fff" stroke="#ff0000" stroke-width="1.6"/><circle cx="344.3" cy="245" r="10" fill="#fff" stroke="#ff0000" stroke-width="1.6"/><circle cx="414.7" cy="344.3" r="10" fill="#fff" stroke="#ff0000" stroke-width="1.6"/><circle cx="485.1" cy="479.7" r="10" fill="#fff" stroke="#ff0000" stroke-width="1.6"/><circle cx="555.4" cy="405.2" r="10" fill="#fff" stroke="#ff0000" stroke-width="1.6"/><circle cx="625.8" cy="533.6" r="10" fill="#fff" stroke="#ff0000" stroke-width="1.6"/><circle cx="696.2" cy="654.1" r="10" fill="#fff" stroke="#ff0000" stroke-width="1.6"/><circle cx="766.5" cy="722.2" r="10" fill="#fff" stroke="#ff0000" stroke-width="1.6"/><circle cx="836.9" cy="761.2" r="10" fill="#fff" stroke="#ff0000" stroke-width="1.6"/><circle cx="907.3" cy="783.9" r="10" fill="#fff" stroke="#ff0000" stroke-width="1.6"/><circle cx="977.6" cy="800.2" r="10" fill="#fff" stroke="#ff0000" stroke-width="1.6"/><circle cx="1048" cy="813.6" r="10" fill="#fff" stroke="#ff0000" stroke-width="1.6"/><circle cx="1118.4" cy="817.2" r="10" fill="#fff" stroke="#ff0000" stroke-width="1.6"/><circle cx="1188.8" cy="821.4" r="10" fill="#fff" stroke="#ff0000" stroke-width="1.6"/></g>
<g><path d="M203.6 854 L206.5 821.7 L209.4 789.4 L212.4 757.2 L215.3 725.3 L218.2 693.6 L221.2 662.3 L224.1 631.3 L227 600.9 L230 571 L232.9 541.8 L235.8 513.2 L238.8 485.4 L241.7 458.4 L244.6 432.3 L247.6 407.2 L250.5 383.1 L253.4 360.1 L256.3 338.2 L259.3 317.7 L262.2 298.4 L265.1 280.5 L268.1 264.1 L271 249.1 L273.9 235.8 L276.9 224.1 L279.8 214 L282.7 205.3 L285.7 198.2 L288.6 192.4 L291.5 187.9 L294.5 184.6 L297.4 182.5 L300.3 181.4 L303.3 181.4 L306.2 182.3 L309.1 184.1 L312.1 186.7 L315 190.1 L317.9 194 L320.9 198.6 L323.8 203.7 L326.7 209.2 L329.6 215.2 L332.6 221.4 L335.5 227.8 L338.4 234.4 L341.4 241.1 L344.3 247.9 L347.2 254.5 L350.2 261.1 L353.1 267.7 L356 274.2 L359 280.6 L361.9 286.9 L364.8 293 L367.8 299.1 L370.7 305.1 L373.6 310.9 L376.6 316.6 L379.5 322.2 L382.4 327.6 L385.4 332.9 L388.3 337.9 L391.2 342.8 L394.2 347.6 L397.1 352.1 L400 356.4 L403 360.5 L405.9 364.4 L408.8 368.1 L411.7 371.6 L414.7 374.8 L417.6 377.7 L420.5 380.4 L423.5 382.9 L426.4 385.2 L429.3 387.4 L432.3 389.3 L435.2 391.2 L438.1 392.9 L441.1 394.4 L444 395.9 L446.9 397.4 L449.9 398.7 L452.8 400.1 L455.7 401.4 L458.7 402.7 L461.6 404 L464.5 405.4 L467.5 406.8 L470.4 408.3 L473.3 409.8 L476.3 411.5 L479.2 413.3 L482.1 415.2 L485.1 417.3 L488 419.6 L490.9 422 L493.8 424.6 L496.8 427.4 L499.7 430.3 L502.6 433.4 L505.6 436.6 L508.5 440 L511.4 443.5 L514.4 447.2 L517.3 451 L520.2 455 L523.2 459.1 L526.1 463.3 L529 467.6 L532 472.1 L534.9 476.6 L537.8 481.3 L540.8 486.1 L543.7 491 L546.6 496 L549.6 501.1 L552.5 506.3 L555.4 511.6 L558.4 517 L561.3 522.4 L564.2 527.9 L567.1 533.5 L570.1 539.1 L573 544.8 L575.9 550.5 L578.9 556.3 L581.8 562 L584.7 567.8 L587.7 573.5 L590.6 579.3 L593.5 585 L596.5 590.7 L599.4 596.3 L602.3 602 L605.3 607.5 L608.2 613 L611.1 618.4 L614.1 623.8 L617 629 L619.9 634.2 L622.9 639.2 L625.8 644.2 L628.7 649 L631.7 653.7 L634.6 658.2 L637.5 662.7 L640.5 666.9 L643.4 671.1 L646.3 675.1 L649.2 679 L652.2 682.7 L655.1 686.3 L658 689.8 L661 693.1 L663.9 696.3 L666.8 699.3 L669.8 702.1 L672.7 704.9 L675.6 707.4 L678.6 709.8 L681.5 712 L684.4 714.1 L687.4 716 L690.3 717.8 L693.2 719.3 L696.2 720.8 L699.1 722 L702 723.1 L705 724 L707.9 724.8 L710.8 725.5 L713.8 726.1 L716.7 726.6 L719.6 726.9 L722.5 727.3 L725.5 727.5 L728.4 727.7 L731.3 727.9 L734.3 728 L737.2 728.1 L740.1 728.3 L743.1 728.4 L746 728.6 L748.9 728.8 L751.9 729 L754.8 729.3 L757.7 729.7 L760.7 730.2 L763.6 730.7 L766.5 731.4 L769.5 732.2 L772.4 733.1 L775.3 734.1 L778.3 735.2 L781.2 736.4 L784.1 737.6 L787.1 739 L790 740.4 L792.9 741.8 L795.9 743.4 L798.8 744.9 L801.7 746.5 L804.6 748.1 L807.6 749.8 L810.5 751.4 L813.4 753.1 L816.4 754.7 L819.3 756.3 L822.2 757.9 L825.2 759.5 L828.1 761.1 L831 762.6 L834 764 L836.9 765.4 L839.8 766.7 L842.8 768 L845.7 769.2 L848.6 770.4 L851.6 771.4 L854.5 772.5 L857.4 773.5 L860.4 774.4 L863.3 775.3 L866.2 776.2 L869.2 777.1 L872.1 777.9 L875 778.7 L877.9 779.4 L880.9 780.2 L883.8 780.9 L886.7 781.6 L889.7 782.4 L892.6 783.1 L895.5 783.8 L898.5 784.5 L901.4 785.2 L904.3 785.9 L907.3 786.7 L910.2 787.5 L913.1 788.2 L916.1 789 L919 789.8 L921.9 790.6 L924.9 791.5 L927.8 792.3 L930.7 793.1 L933.7 794 L936.6 794.9 L939.5 795.7 L942.5 796.6 L945.4 797.4 L948.3 798.3 L951.3 799.1 L954.2 800 L957.1 800.8 L960 801.7 L963 802.5 L965.9 803.4 L968.8 804.2 L971.8 805 L974.7 805.8 L977.6 806.5 L980.6 807.3 L983.5 808.1 L986.4 808.8 L989.4 809.5 L992.3 810.2 L995.2 810.9 L998.2 811.5 L1001.1 812.2 L1004 812.8 L1007 813.4 L1009.9 814 L1012.8 814.6 L1015.8 815.1 L1018.7 815.7 L1021.6 816.2 L1024.6 816.7 L1027.5 817.2 L1030.4 817.6 L1033.3 818.1 L1036.3 818.5 L1039.2 818.9 L1042.1 819.3 L1045.1 819.7 L1048 820 L1050.9 820.3 L1053.9 820.6 L1056.8 820.9 L1059.7 821.2 L1062.7 821.5 L1065.6 821.7 L1068.5 821.9 L1071.5 822.1 L1074.4 822.3 L1077.3 822.5 L1080.3 822.7 L1083.2 822.8 L1086.1 823 L1089.1 823.1 L1092 823.3 L1094.9 823.4 L1097.9 823.5 L1100.8 823.6 L1103.7 823.7 L1106.7 823.8 L1109.6 824 L1112.5 824.1 L1115.4 824.2 L1118.4 824.3 L1121.3 824.4 L1124.2 824.5 L1127.2 824.6 L1130.1 824.7 L1133 824.8 L1136 824.9 L1138.9 825 L1141.8 825.2 L1144.8 825.3 L1147.7 825.4 L1150.6 825.5 L1153.6 825.6 L1156.5 825.8 L1159.4 825.9 L1162.4 826 L1165.3 826.1 L1168.2 826.2 L1171.2 826.4 L1174.1 826.5 L1177 826.6 L1180 826.7 L1182.9 826.9 L1185.8 827 L1188.8 827.1" fill="none" stroke="#0000ff" stroke-width="3.2" stroke-dasharray="13 20" stroke-linecap="round" stroke-linejoin="round"/><polygon points="203.6,842.3 217.2,865.8 189.9,865.8" fill="#fff" stroke="#0000ff" stroke-width="1.6"/><polygon points="273.9,224 287.6,247.5 260.3,247.5" fill="#fff" stroke="#0000ff" stroke-width="1.6"/><polygon points="344.3,236.1 358,259.6 330.7,259.6" fill="#fff" stroke="#0000ff" stroke-width="1.6"/><polygon points="414.7,363 428.3,386.5 401,386.5" fill="#fff" stroke="#0000ff" stroke-width="1.6"/><polygon points="485.1,405.6 498.7,429.1 471.4,429.1" fill="#fff" stroke="#0000ff" stroke-width="1.6"/><polygon points="555.4,499.9 569.1,523.4 541.8,523.4" fill="#fff" stroke="#0000ff" stroke-width="1.6"/><polygon points="625.8,632.4 639.4,655.9 612.1,655.9" fill="#fff" stroke="#0000ff" stroke-width="1.6"/><polygon points="696.2,709 709.8,732.5 682.5,732.5" fill="#fff" stroke="#0000ff" stroke-width="1.6"/><polygon points="766.5,719.6 780.2,743.1 752.9,743.1" fill="#fff" stroke="#0000ff" stroke-width="1.6"/><polygon points="836.9,753.7 850.6,777.2 823.3,777.2" fill="#fff" stroke="#0000ff" stroke-width="1.6"/><polygon points="907.3,774.9 920.9,798.4 893.6,798.4" fill="#fff" stroke="#0000ff" stroke-width="1.6"/><polygon points="977.6,794.8 991.3,818.3 964,818.3" fill="#fff" stroke="#0000ff" stroke-width="1.6"/><polygon points="1048,808.3 1061.7,831.8 1034.4,831.8" fill="#fff" stroke="#0000ff" stroke-width="1.6"/><polygon points="1118.4,812.5 1132,836 1104.7,836" fill="#fff" stroke="#0000ff" stroke-width="1.6"/><polygon points="1188.8,815.4 1202.4,838.9 1175.1,838.9" fill="#fff" stroke="#0000ff" stroke-width="1.6"/></g>
<g><path d="M203.6 866.1 L206.5 857.8 L209.4 849.5 L212.4 841.4 L215.3 833.4 L218.2 825.5 L221.2 817.9 L224.1 810.6 L227 803.6 L230 796.9 L232.9 790.7 L235.8 784.9 L238.8 779.7 L241.7 775 L244.6 770.9 L247.6 767.5 L250.5 764.7 L253.4 762.7 L256.3 761.5 L259.3 761.1 L262.2 761.6 L265.1 763 L268.1 765.4 L271 768.8 L273.9 773.2 L276.9 778.8 L279.8 785.3 L282.7 792.5 L285.7 800.5 L288.6 808.9 L291.5 817.6 L294.5 826.6 L297.4 835.5 L300.3 844.3 L303.3 852.8 L306.2 860.8 L309.1 868.2 L312.1 874.9 L315 880.6 L317.9 885.2 L320.9 888.7 L323.8 890.7 L326.7 891.1 L329.6 889.9 L332.6 886.8 L335.5 881.7 L338.4 874.4 L341.4 864.8 L344.3 852.6 L347.2 837.9 L350.2 820.8 L353.1 801.6 L356 780.4 L359 757.5 L361.9 733.3 L364.8 707.8 L367.8 681.4 L370.7 654.4 L373.6 626.8 L376.6 599.1 L379.5 571.4 L382.4 544 L385.4 517.1 L388.3 490.9 L391.2 465.8 L394.2 442 L397.1 419.7 L400 399.1 L403 380.4 L405.9 364.1 L408.8 350.2 L411.7 339 L414.7 330.8 L417.6 325.7 L420.5 323.7 L423.5 324.5 L426.4 327.9 L429.3 333.7 L432.3 341.7 L435.2 351.8 L438.1 363.8 L441.1 377.4 L444 392.4 L446.9 408.7 L449.9 426.1 L452.8 444.3 L455.7 463.2 L458.7 482.6 L461.6 502.3 L464.5 522 L467.5 541.7 L470.4 561 L473.3 579.8 L476.3 598 L479.2 615.2 L482.1 631.4 L485.1 646.3 L488 659.8 L490.9 671.8 L493.8 682.6 L496.8 692.1 L499.7 700.4 L502.6 707.6 L505.6 713.8 L508.5 719 L511.4 723.4 L514.4 727 L517.3 729.9 L520.2 732.1 L523.2 733.8 L526.1 735 L529 735.7 L532 736.1 L534.9 736.3 L537.8 736.3 L540.8 736.1 L543.7 735.9 L546.6 735.8 L549.6 735.8 L552.5 735.9 L555.4 736.4 L558.4 737.1 L561.3 738.2 L564.2 739.6 L567.1 741.2 L570.1 743.1 L573 745.3 L575.9 747.6 L578.9 750.1 L581.8 752.8 L584.7 755.6 L587.7 758.6 L590.6 761.6 L593.5 764.7 L596.5 767.9 L599.4 771.1 L602.3 774.3 L605.3 777.5 L608.2 780.6 L611.1 783.7 L614.1 786.7 L617 789.5 L619.9 792.3 L622.9 794.9 L625.8 797.3 L628.7 799.6 L631.7 801.6 L634.6 803.5 L637.5 805.2 L640.5 806.7 L643.4 808.1 L646.3 809.3 L649.2 810.5 L652.2 811.5 L655.1 812.4 L658 813.1 L661 813.8 L663.9 814.5 L666.8 815 L669.8 815.5 L672.7 815.9 L675.6 816.3 L678.6 816.6 L681.5 817 L684.4 817.3 L687.4 817.6 L690.3 817.9 L693.2 818.2 L696.2 818.6 L699.1 819 L702 819.4 L705 819.8 L707.9 820.3 L710.8 820.8 L713.8 821.3 L716.7 821.8 L719.6 822.4 L722.5 822.9 L725.5 823.5 L728.4 824 L731.3 824.6 L734.3 825.1 L737.2 825.7 L740.1 826.2 L743.1 826.7 L746 827.2 L748.9 827.7 L751.9 828.1 L754.8 828.6 L757.7 829 L760.7 829.3 L763.6 829.7 L766.5 829.9 L769.5 830.2 L772.4 830.4 L775.3 830.6 L778.3 830.7 L781.2 830.9 L784.1 831 L787.1 831.1 L790 831.2 L792.9 831.3 L795.9 831.4 L798.8 831.5 L801.7 831.6 L804.6 831.8 L807.6 831.9 L810.5 832.1 L813.4 832.4 L816.4 832.7 L819.3 833 L822.2 833.4 L825.2 833.8 L828.1 834.4 L831 834.9 L834 835.6 L836.9 836.3 L839.8 837.1 L842.8 838 L845.7 839 L848.6 840 L851.6 841.1 L854.5 842.2 L857.4 843.3 L860.4 844.5 L863.3 845.6 L866.2 846.8 L869.2 847.9 L872.1 849 L875 850.1 L877.9 851.2 L880.9 852.2 L883.8 853.2 L886.7 854.1 L889.7 854.9 L892.6 855.6 L895.5 856.2 L898.5 856.7 L901.4 857.2 L904.3 857.4 L907.3 857.6 L910.2 857.6 L913.1 857.5 L916.1 857.2 L919 856.9 L921.9 856.4 L924.9 855.8 L927.8 855.2 L930.7 854.5 L933.7 853.7 L936.6 852.8 L939.5 851.9 L942.5 851 L945.4 850.1 L948.3 849.1 L951.3 848.1 L954.2 847.1 L957.1 846.2 L960 845.2 L963 844.3 L965.9 843.5 L968.8 842.6 L971.8 841.9 L974.7 841.2 L977.6 840.6 L980.6 840.1 L983.5 839.6 L986.4 839.3 L989.4 839 L992.3 838.8 L995.2 838.6 L998.2 838.5 L1001.1 838.5 L1004 838.5 L1007 838.6 L1009.9 838.7 L1012.8 838.9 L1015.8 839.1 L1018.7 839.3 L1021.6 839.5 L1024.6 839.8 L1027.5 840.1 L1030.4 840.3 L1033.3 840.6 L1036.3 840.9 L1039.2 841.2 L1042.1 841.5 L1045.1 841.7 L1048 842 L1050.9 842.2 L1053.9 842.4 L1056.8 842.6 L1059.7 842.8 L1062.7 842.9 L1065.6 843 L1068.5 843.1 L1071.5 843.2 L1074.4 843.3 L1077.3 843.4 L1080.3 843.4 L1083.2 843.5 L1086.1 843.5 L1089.1 843.5 L1092 843.5 L1094.9 843.5 L1097.9 843.5 L1100.8 843.5 L1103.7 843.5 L1106.7 843.5 L1109.6 843.5 L1112.5 843.4 L1115.4 843.4 L1118.4 843.4 L1121.3 843.4 L1124.2 843.4 L1127.2 843.4 L1130.1 843.4 L1133 843.4 L1136 843.3 L1138.9 843.3 L1141.8 843.3 L1144.8 843.3 L1147.7 843.3 L1150.6 843.3 L1153.6 843.3 L1156.5 843.3 L1159.4 843.3 L1162.4 843.3 L1165.3 843.4 L1168.2 843.4 L1171.2 843.4 L1174.1 843.4 L1177 843.4 L1180 843.4 L1182.9 843.4 L1185.8 843.4 L1188.8 843.4" fill="none" stroke="#000000" stroke-width="3.4" stroke-dasharray="0 6.6" stroke-linecap="round" stroke-linejoin="round"/><polygon points="191.8,866.1 215.3,852.9 215.3,879.3" fill="#000000"/><polygon points="262.2,773.2 285.7,760 285.7,786.4" fill="#000000"/><polygon points="332.6,852.6 356.1,839.4 356.1,865.8" fill="#000000"/><polygon points="402.9,330.8 426.4,317.6 426.4,344" fill="#000000"/><polygon points="473.3,646.3 496.8,633.1 496.8,659.5" fill="#000000"/><polygon points="543.7,736.4 567.2,723.2 567.2,749.6" fill="#000000"/><polygon points="614,797.3 637.5,784.1 637.5,810.5" fill="#000000"/><polygon points="684.4,818.6 707.9,805.4 707.9,831.8" fill="#000000"/><polygon points="754.8,829.9 778.3,816.7 778.3,843.1" fill="#000000"/><polygon points="825.2,836.3 848.7,823.1 848.7,849.5" fill="#000000"/><polygon points="895.5,857.6 919,844.4 919,870.8" fill="#000000"/><polygon points="965.9,840.6 989.4,827.4 989.4,853.8" fill="#000000"/><polygon points="1036.3,842 1059.8,828.8 1059.8,855.2" fill="#000000"/><polygon points="1106.6,843.4 1130.1,830.2 1130.1,856.6" fill="#000000"/><polygon points="1177,843.4 1200.5,830.2 1200.5,856.6" fill="#000000"/></g>
<g><path d="M203.6 859 L206.5 856.6 L209.4 854.2 L212.4 851.8 L215.3 849.5 L218.2 847.3 L221.2 845.2 L224.1 843.2 L227 841.3 L230 839.6 L232.9 838 L235.8 836.6 L238.8 835.5 L241.7 834.5 L244.6 833.9 L247.6 833.4 L250.5 833.3 L253.4 833.5 L256.3 834 L259.3 834.8 L262.2 836 L265.1 837.6 L268.1 839.6 L271 842 L273.9 844.8 L276.9 848.1 L279.8 851.7 L282.7 855.6 L285.7 859.6 L288.6 863.5 L291.5 867.4 L294.5 871.1 L297.4 874.4 L300.3 877.3 L303.3 879.7 L306.2 881.3 L309.1 882.2 L312.1 882.2 L315 881.3 L317.9 879.2 L320.9 875.8 L323.8 871.2 L326.7 865.1 L329.6 857.4 L332.6 848 L335.5 836.9 L338.4 823.9 L341.4 808.8 L344.3 791.7 L347.2 772.3 L350.2 750.9 L353.1 727.8 L356 703 L359 676.9 L361.9 649.6 L364.8 621.4 L367.8 592.5 L370.7 563.1 L373.6 533.4 L376.6 503.6 L379.5 474 L382.4 444.7 L385.4 416 L388.3 388.2 L391.2 361.3 L394.2 335.6 L397.1 311.5 L400 288.9 L403 268.3 L405.9 249.7 L408.8 233.5 L411.7 219.8 L414.7 208.9 L417.6 200.8 L420.5 195.6 L423.5 192.9 L426.4 192.8 L429.3 195 L432.3 199.3 L435.2 205.6 L438.1 213.7 L441.1 223.5 L444 234.8 L446.9 247.4 L449.9 261.1 L452.8 275.9 L455.7 291.5 L458.7 307.8 L461.6 324.6 L464.5 341.7 L467.5 359 L470.4 376.4 L473.3 393.6 L476.3 410.5 L479.2 426.9 L482.1 442.7 L485.1 457.7 L488 471.8 L490.9 485 L493.8 497.2 L496.8 508.7 L499.7 519.4 L502.6 529.3 L505.6 538.6 L508.5 547.2 L511.4 555.2 L514.4 562.7 L517.3 569.6 L520.2 576.1 L523.2 582.1 L526.1 587.8 L529 593.1 L532 598.2 L534.9 603 L537.8 607.6 L540.8 612.1 L543.7 616.4 L546.6 620.7 L549.6 624.9 L552.5 629.2 L555.4 633.5 L558.4 638 L561.3 642.5 L564.2 647.2 L567.1 651.9 L570.1 656.7 L573 661.5 L575.9 666.3 L578.9 671.2 L581.8 676 L584.7 680.9 L587.7 685.7 L590.6 690.5 L593.5 695.2 L596.5 699.9 L599.4 704.5 L602.3 709 L605.3 713.4 L608.2 717.6 L611.1 721.8 L614.1 725.7 L617 729.6 L619.9 733.2 L622.9 736.7 L625.8 739.9 L628.7 742.9 L631.7 745.8 L634.6 748.4 L637.5 750.8 L640.5 753.1 L643.4 755.2 L646.3 757.1 L649.2 758.9 L652.2 760.6 L655.1 762.1 L658 763.5 L661 764.8 L663.9 766 L666.8 767.2 L669.8 768.2 L672.7 769.2 L675.6 770.2 L678.6 771 L681.5 771.9 L684.4 772.7 L687.4 773.6 L690.3 774.4 L693.2 775.2 L696.2 776.1 L699.1 776.9 L702 777.8 L705 778.7 L707.9 779.7 L710.8 780.6 L713.8 781.6 L716.7 782.5 L719.6 783.5 L722.5 784.4 L725.5 785.4 L728.4 786.3 L731.3 787.3 L734.3 788.2 L737.2 789.1 L740.1 789.9 L743.1 790.7 L746 791.5 L748.9 792.3 L751.9 793 L754.8 793.7 L757.7 794.3 L760.7 794.9 L763.6 795.4 L766.5 795.9 L769.5 796.3 L772.4 796.7 L775.3 797 L778.3 797.2 L781.2 797.4 L784.1 797.7 L787.1 797.8 L790 798 L792.9 798.2 L795.9 798.4 L798.8 798.6 L801.7 798.9 L804.6 799.1 L807.6 799.4 L810.5 799.8 L813.4 800.2 L816.4 800.7 L819.3 801.2 L822.2 801.9 L825.2 802.6 L828.1 803.4 L831 804.3 L834 805.4 L836.9 806.5 L839.8 807.8 L842.8 809.2 L845.7 810.7 L848.6 812.3 L851.6 814 L854.5 815.7 L857.4 817.4 L860.4 819.2 L863.3 821 L866.2 822.8 L869.2 824.6 L872.1 826.3 L875 828 L877.9 829.6 L880.9 831.2 L883.8 832.6 L886.7 834 L889.7 835.2 L892.6 836.3 L895.5 837.2 L898.5 838 L901.4 838.6 L904.3 839 L907.3 839.2 L910.2 839.1 L913.1 838.9 L916.1 838.4 L919 837.8 L921.9 837.1 L924.9 836.1 L927.8 835.1 L930.7 833.9 L933.7 832.6 L936.6 831.3 L939.5 829.9 L942.5 828.4 L945.4 826.9 L948.3 825.3 L951.3 823.8 L954.2 822.3 L957.1 820.8 L960 819.3 L963 817.9 L965.9 816.5 L968.8 815.3 L971.8 814.1 L974.7 813.1 L977.6 812.2 L980.6 811.5 L983.5 810.9 L986.4 810.4 L989.4 810 L992.3 809.8 L995.2 809.7 L998.2 809.7 L1001.1 809.7 L1004 809.9 L1007 810.1 L1009.9 810.4 L1012.8 810.8 L1015.8 811.2 L1018.7 811.6 L1021.6 812.1 L1024.6 812.6 L1027.5 813.1 L1030.4 813.6 L1033.3 814.1 L1036.3 814.7 L1039.2 815.2 L1042.1 815.6 L1045.1 816.1 L1048 816.5 L1050.9 816.8 L1053.9 817.1 L1056.8 817.4 L1059.7 817.6 L1062.7 817.8 L1065.6 817.9 L1068.5 818 L1071.5 818.1 L1074.4 818.1 L1077.3 818.1 L1080.3 818.1 L1083.2 818.1 L1086.1 818.1 L1089.1 818 L1092 817.9 L1094.9 817.9 L1097.9 817.8 L1100.8 817.7 L1103.7 817.6 L1106.7 817.5 L1109.6 817.4 L1112.5 817.3 L1115.4 817.2 L1118.4 817.2 L1121.3 817.1 L1124.2 817.1 L1127.2 817.1 L1130.1 817.1 L1133 817.1 L1136 817.1 L1138.9 817.1 L1141.8 817.1 L1144.8 817.2 L1147.7 817.2 L1150.6 817.3 L1153.6 817.4 L1156.5 817.4 L1159.4 817.5 L1162.4 817.6 L1165.3 817.7 L1168.2 817.8 L1171.2 817.9 L1174.1 818 L1177 818.1 L1180 818.2 L1182.9 818.4 L1185.8 818.5 L1188.8 818.6" fill="none" stroke="#ff0000" stroke-width="3.4" stroke-dasharray="0 6.6" stroke-linecap="round" stroke-linejoin="round"/><polygon points="203.6,845.8 216.8,859 203.6,872.2 190.4,859" fill="#fff" stroke="#ff0000" stroke-width="1.6"/><polygon points="190.4,859 216.8,859 203.6,872.2" fill="#ff0000"/><polygon points="273.9,831.6 287.1,844.8 273.9,858 260.7,844.8" fill="#fff" stroke="#ff0000" stroke-width="1.6"/><polygon points="260.7,844.8 287.1,844.8 273.9,858" fill="#ff0000"/><polygon points="344.3,778.5 357.5,791.7 344.3,804.9 331.1,791.7" fill="#fff" stroke="#ff0000" stroke-width="1.6"/><polygon points="331.1,791.7 357.5,791.7 344.3,804.9" fill="#ff0000"/><polygon points="414.7,195.7 427.9,208.9 414.7,222.1 401.5,208.9" fill="#fff" stroke="#ff0000" stroke-width="1.6"/><polygon points="401.5,208.9 427.9,208.9 414.7,222.1" fill="#ff0000"/><polygon points="485.1,444.5 498.2,457.7 485.1,470.9 471.9,457.7" fill="#fff" stroke="#ff0000" stroke-width="1.6"/><polygon points="471.9,457.7 498.2,457.7 485.1,470.9" fill="#ff0000"/><polygon points="555.4,620.3 568.6,633.5 555.4,646.7 542.2,633.5" fill="#fff" stroke="#ff0000" stroke-width="1.6"/><polygon points="542.2,633.5 568.6,633.5 555.4,646.7" fill="#ff0000"/><polygon points="625.8,726.7 639,739.9 625.8,753.1 612.6,739.9" fill="#fff" stroke="#ff0000" stroke-width="1.6"/><polygon points="612.6,739.9 639,739.9 625.8,753.1" fill="#ff0000"/><polygon points="696.2,762.9 709.4,776.1 696.2,789.3 683,776.1" fill="#fff" stroke="#ff0000" stroke-width="1.6"/><polygon points="683,776.1 709.4,776.1 696.2,789.3" fill="#ff0000"/><polygon points="766.5,782.7 779.7,795.9 766.5,809.1 753.3,795.9" fill="#fff" stroke="#ff0000" stroke-width="1.6"/><polygon points="753.3,795.9 779.7,795.9 766.5,809.1" fill="#ff0000"/><polygon points="836.9,793.3 850.1,806.5 836.9,819.7 823.7,806.5" fill="#fff" stroke="#ff0000" stroke-width="1.6"/><polygon points="823.7,806.5 850.1,806.5 836.9,819.7" fill="#ff0000"/><polygon points="907.3,826 920.5,839.2 907.3,852.4 894.1,839.2" fill="#fff" stroke="#ff0000" stroke-width="1.6"/><polygon points="894.1,839.2 920.5,839.2 907.3,852.4" fill="#ff0000"/><polygon points="977.6,799 990.8,812.2 977.6,825.4 964.4,812.2" fill="#fff" stroke="#ff0000" stroke-width="1.6"/><polygon points="964.4,812.2 990.8,812.2 977.6,825.4" fill="#ff0000"/><polygon points="1048,803.3 1061.2,816.5 1048,829.7 1034.8,816.5" fill="#fff" stroke="#ff0000" stroke-width="1.6"/><polygon points="1034.8,816.5 1061.2,816.5 1048,829.7" fill="#ff0000"/><polygon points="1118.4,804 1131.6,817.2 1118.4,830.4 1105.2,817.2" fill="#fff" stroke="#ff0000" stroke-width="1.6"/><polygon points="1105.2,817.2 1131.6,817.2 1118.4,830.4" fill="#ff0000"/><polygon points="1188.8,805.4 1202,818.6 1188.8,831.8 1175.6,818.6" fill="#fff" stroke="#ff0000" stroke-width="1.6"/><polygon points="1175.6,818.6 1202,818.6 1188.8,831.8" fill="#ff0000"/></g>
<g><path d="M203.6 862.6 L206.5 862.2 L209.4 861.8 L212.4 861.5 L215.3 861.1 L218.2 860.8 L221.2 860.5 L224.1 860.1 L227 859.8 L230 859.6 L232.9 859.3 L235.8 859 L238.8 858.8 L241.7 858.6 L244.6 858.5 L247.6 858.4 L250.5 858.3 L253.4 858.2 L256.3 858.2 L259.3 858.2 L262.2 858.3 L265.1 858.4 L268.1 858.5 L271 858.8 L273.9 859 L276.9 859.3 L279.8 859.6 L282.7 859.8 L285.7 859.8 L288.6 859.6 L291.5 859.1 L294.5 858.3 L297.4 856.9 L300.3 855.1 L303.3 852.7 L306.2 849.6 L309.1 845.8 L312.1 841.2 L315 835.7 L317.9 829.3 L320.9 821.8 L323.8 813.3 L326.7 803.6 L329.6 792.7 L332.6 780.5 L335.5 766.9 L338.4 751.9 L341.4 735.3 L344.3 717.2 L347.2 697.5 L350.2 676.3 L353.1 653.8 L356 630.2 L359 605.6 L361.9 580.4 L364.8 554.6 L367.8 528.5 L370.7 502.2 L373.6 475.9 L376.6 449.8 L379.5 424.1 L382.4 398.9 L385.4 374.5 L388.3 351.1 L391.2 328.8 L394.2 307.8 L397.1 288.3 L400 270.4 L403 254.5 L405.9 240.6 L408.8 228.9 L411.7 219.7 L414.7 213.1 L417.6 209.2 L420.5 208 L423.5 209.2 L426.4 212.8 L429.3 218.5 L432.3 226.2 L435.2 235.7 L438.1 246.8 L441.1 259.4 L444 273.4 L446.9 288.6 L449.9 304.7 L452.8 321.7 L455.7 339.3 L458.7 357.5 L461.6 376 L464.5 394.8 L467.5 413.5 L470.4 432.1 L473.3 450.4 L476.3 468.2 L479.2 485.4 L482.1 501.8 L485.1 517.3 L488 531.6 L490.9 544.9 L493.8 557.2 L496.8 568.6 L499.7 579 L502.6 588.6 L505.6 597.3 L508.5 605.3 L511.4 612.6 L514.4 619.3 L517.3 625.4 L520.2 630.9 L523.2 635.9 L526.1 640.5 L529 644.7 L532 648.6 L534.9 652.2 L537.8 655.6 L540.8 658.8 L543.7 661.9 L546.6 664.9 L549.6 667.8 L552.5 670.9 L555.4 674 L558.4 677.2 L561.3 680.5 L564.2 684 L567.1 687.6 L570.1 691.2 L573 694.9 L575.9 698.7 L578.9 702.5 L581.8 706.4 L584.7 710.3 L587.7 714.1 L590.6 718 L593.5 721.9 L596.5 725.7 L599.4 729.4 L602.3 733.2 L605.3 736.8 L608.2 740.3 L611.1 743.8 L614.1 747.1 L617 750.3 L619.9 753.4 L622.9 756.3 L625.8 759 L628.7 761.6 L631.7 764 L634.6 766.2 L637.5 768.3 L640.5 770.2 L643.4 772 L646.3 773.7 L649.2 775.2 L652.2 776.7 L655.1 778 L658 779.2 L661 780.3 L663.9 781.3 L666.8 782.3 L669.8 783.2 L672.7 784 L675.6 784.8 L678.6 785.5 L681.5 786.3 L684.4 786.9 L687.4 787.6 L690.3 788.2 L693.2 788.9 L696.2 789.5 L699.1 790.2 L702 790.9 L705 791.5 L707.9 792.2 L710.8 792.9 L713.8 793.6 L716.7 794.3 L719.6 795 L722.5 795.7 L725.5 796.4 L728.4 797.1 L731.3 797.7 L734.3 798.4 L737.2 799.1 L740.1 799.7 L743.1 800.3 L746 800.9 L748.9 801.5 L751.9 802 L754.8 802.6 L757.7 803.1 L760.7 803.6 L763.6 804 L766.5 804.4 L769.5 804.8 L772.4 805.1 L775.3 805.5 L778.3 805.8 L781.2 806.1 L784.1 806.4 L787.1 806.7 L790 807 L792.9 807.3 L795.9 807.6 L798.8 807.9 L801.7 808.3 L804.6 808.6 L807.6 809.1 L810.5 809.5 L813.4 810 L816.4 810.6 L819.3 811.2 L822.2 811.9 L825.2 812.7 L828.1 813.5 L831 814.4 L834 815.4 L836.9 816.5 L839.8 817.6 L842.8 818.9 L845.7 820.2 L848.6 821.6 L851.6 823 L854.5 824.5 L857.4 826 L860.4 827.5 L863.3 829 L866.2 830.5 L869.2 832 L872.1 833.4 L875 834.8 L877.9 836.1 L880.9 837.3 L883.8 838.5 L886.7 839.6 L889.7 840.5 L892.6 841.4 L895.5 842.1 L898.5 842.7 L901.4 843.1 L904.3 843.3 L907.3 843.4 L910.2 843.3 L913.1 843 L916.1 842.5 L919 841.9 L921.9 841.2 L924.9 840.3 L927.8 839.3 L930.7 838.2 L933.7 837.1 L936.6 835.8 L939.5 834.6 L942.5 833.2 L945.4 831.9 L948.3 830.5 L951.3 829.1 L954.2 827.7 L957.1 826.3 L960 825 L963 823.7 L965.9 822.5 L968.8 821.4 L971.8 820.4 L974.7 819.4 L977.6 818.6 L980.6 817.9 L983.5 817.3 L986.4 816.9 L989.4 816.5 L992.3 816.3 L995.2 816.1 L998.2 816 L1001.1 816 L1004 816.1 L1007 816.3 L1009.9 816.5 L1012.8 816.7 L1015.8 817 L1018.7 817.4 L1021.6 817.8 L1024.6 818.2 L1027.5 818.6 L1030.4 819 L1033.3 819.5 L1036.3 819.9 L1039.2 820.3 L1042.1 820.7 L1045.1 821.1 L1048 821.4 L1050.9 821.7 L1053.9 822 L1056.8 822.3 L1059.7 822.5 L1062.7 822.6 L1065.6 822.8 L1068.5 822.9 L1071.5 823 L1074.4 823.1 L1077.3 823.1 L1080.3 823.2 L1083.2 823.2 L1086.1 823.2 L1089.1 823.2 L1092 823.2 L1094.9 823.1 L1097.9 823.1 L1100.8 823.1 L1103.7 823 L1106.7 823 L1109.6 822.9 L1112.5 822.9 L1115.4 822.9 L1118.4 822.9 L1121.3 822.8 L1124.2 822.8 L1127.2 822.8 L1130.1 822.9 L1133 822.9 L1136 822.9 L1138.9 822.9 L1141.8 823 L1144.8 823 L1147.7 823.1 L1150.6 823.1 L1153.6 823.2 L1156.5 823.3 L1159.4 823.4 L1162.4 823.4 L1165.3 823.5 L1168.2 823.6 L1171.2 823.7 L1174.1 823.8 L1177 823.9 L1180 824 L1182.9 824.1 L1185.8 824.2 L1188.8 824.3" fill="none" stroke="#0000ff" stroke-width="3.4" stroke-dasharray="0 6.6" stroke-linecap="round" stroke-linejoin="round"/><polygon points="203.6,850.4 207.1,858.7 216.1,859.5 209.2,865.4 211.3,874.2 203.6,869.5 195.8,874.2 197.9,865.4 191,859.5 200.1,858.7" fill="#0000ff"/><polygon points="273.9,846.8 277.4,855.2 286.5,855.9 279.6,861.8 281.7,870.7 273.9,866 266.2,870.7 268.3,861.8 261.4,855.9 270.4,855.2" fill="#0000ff"/><polygon points="344.3,705 347.8,713.4 356.9,714.1 350,720 352.1,728.9 344.3,724.2 336.6,728.9 338.7,720 331.8,714.1 340.8,713.4" fill="#0000ff"/><polygon points="414.7,200.9 418.2,209.3 427.2,210 420.3,215.9 422.4,224.8 414.7,220.1 406.9,224.8 409,215.9 402.1,210 411.2,209.3" fill="#0000ff"/><polygon points="485.1,505.1 488.5,513.5 497.6,514.2 490.7,520.1 492.8,529 485.1,524.2 477.3,529 479.4,520.1 472.5,514.2 481.6,513.5" fill="#0000ff"/><polygon points="555.4,661.8 558.9,670.2 568,670.9 561.1,676.8 563.2,685.6 555.4,680.9 547.7,685.6 549.8,676.8 542.9,670.9 551.9,670.2" fill="#0000ff"/><polygon points="625.8,746.8 629.3,755.2 638.3,756 631.4,761.9 633.5,770.7 625.8,766 618,770.7 620.1,761.9 613.2,756 622.3,755.2" fill="#0000ff"/><polygon points="696.2,777.3 699.7,785.7 708.7,786.4 701.8,792.4 703.9,801.2 696.2,796.5 688.4,801.2 690.5,792.4 683.6,786.4 692.7,785.7" fill="#0000ff"/><polygon points="766.5,792.2 770,800.6 779.1,801.3 772.2,807.3 774.3,816.1 766.5,811.4 758.8,816.1 760.9,807.3 754,801.3 763,800.6" fill="#0000ff"/><polygon points="836.9,804.3 840.4,812.7 849.5,813.4 842.5,819.3 844.7,828.1 836.9,823.4 829.1,828.1 831.3,819.3 824.3,813.4 833.4,812.7" fill="#0000ff"/><polygon points="907.3,831.2 910.8,839.6 919.8,840.3 912.9,846.2 915,855.1 907.3,850.4 899.5,855.1 901.6,846.2 894.7,840.3 903.8,839.6" fill="#0000ff"/><polygon points="977.6,806.4 981.1,814.8 990.2,815.5 983.3,821.4 985.4,830.3 977.6,825.5 969.9,830.3 972,821.4 965.1,815.5 974.1,814.8" fill="#0000ff"/><polygon points="1048,809.2 1051.5,817.6 1060.6,818.4 1053.7,824.3 1055.8,833.1 1048,828.4 1040.3,833.1 1042.4,824.3 1035.5,818.4 1044.5,817.6" fill="#0000ff"/><polygon points="1118.4,810.7 1121.9,819 1130.9,819.8 1124,825.7 1126.1,834.5 1118.4,829.8 1110.6,834.5 1112.7,825.7 1105.8,819.8 1114.9,819" fill="#0000ff"/><polygon points="1188.8,812.1 1192.2,820.5 1201.3,821.2 1194.4,827.1 1196.5,835.9 1188.8,831.2 1181,835.9 1183.1,827.1 1176.2,821.2 1185.3,820.5" fill="#0000ff"/></g>
</g>
<g transform="translate(820,180) scale(0.14678)">
<rect x="130" y="32" width="1878" height="1330" fill="#fff"/>
<polygon points="190,440 330,420 450,1090 210,1040" fill="#a09c98" opacity="0.32" filter="url(#blur)"/>
<polygon points="290,130 1355,100 1950,970 1925,1245 445,1305" fill="url(#water)"/>
<polygon points="632,110 780,545 778,865 632,420" fill="#f0957a"/>
<polygon points="632,110 1155,97 1408,520 780,545" fill="#f2916f" stroke="#111" stroke-width="6" stroke-linejoin="round"/>
<polygon points="780,545 1408,520 1385,845 778,865" fill="#f2916f" stroke="#111" stroke-width="5" stroke-linejoin="round"/>
<polygon points="632,290 778,740 1392,722 1385,845 778,865 632,420" fill="#c3d3cd"/>
<polygon points="880,640 1298,625 1292,752 880,768" fill="#c6d6d0" stroke="#111" stroke-width="5"/>
<polygon points="1240,632 1298,627 1296,722" fill="#f2916f"/>
<path d="M880,722 L880,768 L1292,752 L1294,722" fill="none" stroke="#3cc" stroke-width="4"/>
<path d="M778,740 L778,865 L1385,845 L1392,722" fill="none" stroke="#5cc" stroke-width="4"/>
<path d="M632,110 L780,545 L778,740" fill="none" stroke="#111" stroke-width="5"/>
<path d="M398,283 C500,280 590,300 615,375 L648,590 C655,640 615,690 575,690 C510,690 458,662 452,622 L398,330 Z" fill="#ffff26" stroke="#111" stroke-width="5"/>
<path d="M452,620 L648,612 C655,650 615,690 575,690 C510,690 458,662 452,622 Z" fill="#cdeab5" stroke="#3aa" stroke-width="3"/>
<path d="M445,505 C560,500 630,540 648,595" fill="none" stroke="#111" stroke-width="5"/>
<path d="M586,367 L660,367" stroke="#45458a" stroke-width="27" stroke-linecap="round"/>
<path d="M566,621 L736,611" stroke="#45458a" stroke-width="27" stroke-linecap="round"/>
<path d="M775,872 C740,990 680,1050 590,1092" fill="none" stroke="#a8a8a8" stroke-width="5"/>
<path d="M1388,852 C1430,960 1500,1030 1630,1052" fill="none" stroke="#a8a8a8" stroke-width="5"/>
</g>
<rect x="144.7" y="16.5" width="1024.8" height="164.7" fill="#fff" stroke="#222" stroke-width="1.6"/>
<path d="M148.3 43.1H227.3" stroke="#000000" stroke-width="3" fill="none" stroke-linecap="round"/>
<rect x="179.6" y="34.9" width="16.4" height="16.4" fill="#000000"/>
<text x="237.9" y="55.3" font-family="'Liberation Serif', 'Times New Roman', serif" font-size="34">W<tspan dy="8.5" font-size="23.5">ed</tspan><tspan dy="-8.5">/h = 0.25 </tspan><tspan font-weight="bold">-</tspan>ζ<tspan dy="8.5" dx="2" font-size="24.5">33</tspan></text>
<path d="M148.4 97.3H159.3M174.3 97.3H179.8M195.8 97.3H205.6M226.4 97.3H226.7" stroke="#000000" stroke-width="3.2" fill="none" stroke-linecap="round"/>
<rect x="180.3" y="89.8" width="15" height="15" fill="#fff" stroke="#000000" stroke-width="1.6"/>
<text x="237.9" y="109.5" font-family="'Liberation Serif', 'Times New Roman', serif" font-size="34">W<tspan dy="8.5" font-size="23.5">ed</tspan><tspan dy="-8.5">/h = 0.25 </tspan><tspan font-weight="bold">-</tspan>ζ<tspan dy="8.5" dx="2" font-size="24.5">44</tspan></text>
<path d="M149.8 151.2h0M156.4 151.2h0M163 151.2h0M169.6 151.2h0M176.2 151.2h0M196 151.2h0M202.6 151.2h0M209.2 151.2h0M215.8 151.2h0M222.4 151.2h0" stroke="#000000" stroke-width="3.4" fill="none" stroke-linecap="round"/>
<polygon points="178.6,151.2 197,140.9 197,161.5" fill="#000000"/>
<text x="237.9" y="163.4" font-family="'Liberation Serif', 'Times New Roman', serif" font-size="34">W<tspan dy="8.5" font-size="23.5">ed</tspan><tspan dy="-8.5">/h = 0.25 </tspan><tspan font-weight="bold">-</tspan>ζ<tspan dy="8.5" dx="2" font-size="24.5">55</tspan></text>
<path d="M489.7 43.1H568.7" stroke="#ff0000" stroke-width="3" fill="none" stroke-linecap="round"/>
<circle cx="529.2" cy="43.1" r="8.7" fill="#ff0000"/>
<text x="580.1" y="55.3" font-family="'Liberation Serif', 'Times New Roman', serif" font-size="34">W<tspan dy="8.5" font-size="23.5">ed</tspan><tspan dy="-8.5">/h = 0.50 </tspan><tspan font-weight="bold">-</tspan>ζ<tspan dy="8.5" dx="2" font-size="24.5">33</tspan></text>
<path d="M489.8 97.3H500.7M515.7 97.3H521.2M537.2 97.3H547M567.8 97.3H568.1" stroke="#ff0000" stroke-width="3.2" fill="none" stroke-linecap="round"/>
<circle cx="529.2" cy="97.3" r="7.8" fill="#fff" stroke="#ff0000" stroke-width="1.6"/>
<text x="580.1" y="109.5" font-family="'Liberation Serif', 'Times New Roman', serif" font-size="34">W<tspan dy="8.5" font-size="23.5">ed</tspan><tspan dy="-8.5">/h = 0.50 </tspan><tspan font-weight="bold">-</tspan>ζ<tspan dy="8.5" dx="2" font-size="24.5">44</tspan></text>
<path d="M491.2 151.2h0M497.8 151.2h0M504.4 151.2h0M511 151.2h0M517.6 151.2h0M537.4 151.2h0M544 151.2h0M550.6 151.2h0M557.2 151.2h0M563.8 151.2h0" stroke="#ff0000" stroke-width="3.4" fill="none" stroke-linecap="round"/>
<polygon points="529.2,140.9 539.5,151.2 529.2,161.5 518.9,151.2" fill="#fff" stroke="#ff0000" stroke-width="1.6"/><polygon points="518.9,151.2 539.5,151.2 529.2,161.5" fill="#ff0000"/>
<text x="580.1" y="163.4" font-family="'Liberation Serif', 'Times New Roman', serif" font-size="34">W<tspan dy="8.5" font-size="23.5">ed</tspan><tspan dy="-8.5">/h = 0.50 </tspan><tspan font-weight="bold">-</tspan>ζ<tspan dy="8.5" dx="2" font-size="24.5">55</tspan></text>
<path d="M831.9 43.1H910.9" stroke="#0000ff" stroke-width="3" fill="none" stroke-linecap="round"/>
<polygon points="871.4,33.9 882,52.3 860.8,52.3" fill="#0000ff"/>
<text x="922.1" y="55.3" font-family="'Liberation Serif', 'Times New Roman', serif" font-size="34">W<tspan dy="8.5" font-size="23.5">ed</tspan><tspan dy="-8.5">/h = 0.75 </tspan><tspan font-weight="bold">-</tspan>ζ<tspan dy="8.5" dx="2" font-size="24.5">33</tspan></text>
<path d="M832 97.3H842.9M857.9 97.3H863.4M879.4 97.3H889.2M910 97.3H910.3" stroke="#0000ff" stroke-width="3.2" fill="none" stroke-linecap="round"/>
<polygon points="871.4,88.1 882,106.5 860.8,106.5" fill="#fff" stroke="#0000ff" stroke-width="1.6"/>
<text x="922.1" y="109.5" font-family="'Liberation Serif', 'Times New Roman', serif" font-size="34">W<tspan dy="8.5" font-size="23.5">ed</tspan><tspan dy="-8.5">/h = 0.75 </tspan><tspan font-weight="bold">-</tspan>ζ<tspan dy="8.5" dx="2" font-size="24.5">44</tspan></text>
<path d="M833.4 151.2h0M840 151.2h0M846.6 151.2h0M853.2 151.2h0M859.8 151.2h0M879.6 151.2h0M886.2 151.2h0M892.8 151.2h0M899.4 151.2h0M906 151.2h0" stroke="#0000ff" stroke-width="3.4" fill="none" stroke-linecap="round"/>
<polygon points="871.4,141.7 874.1,148.2 881.2,148.8 875.8,153.4 877.5,160.3 871.4,156.6 865.3,160.3 867,153.4 861.6,148.8 868.7,148.2" fill="#0000ff"/>
<text x="922.1" y="163.4" font-family="'Liberation Serif', 'Times New Roman', serif" font-size="34">W<tspan dy="8.5" font-size="23.5">ed</tspan><tspan dy="-8.5">/h = 0.75 </tspan><tspan font-weight="bold">-</tspan>ζ<tspan dy="8.5" dx="2" font-size="24.5">55</tspan></text>
<path d="M133.2 866.1v8M203.6 866.1v15.5M273.9 866.1v8M344.3 866.1v15.5M414.7 866.1v8M485.1 866.1v15.5M555.4 866.1v8M625.8 866.1v15.5M696.2 866.1v8M766.5 866.1v15.5M836.9 866.1v8M907.3 866.1v15.5M977.6 866.1v8M1048 866.1v15.5M1118.4 866.1v8M1188.8 866.1v15.5M133.2 866.1h-16.8M133.2 795.2h-8.4M133.2 724.3h-16.8M133.2 653.4h-8.4M133.2 582.5h-16.8M133.2 511.6h-8.4M133.2 440.7h-16.8M133.2 369.8h-8.4M133.2 298.9h-16.8M133.2 228h-8.4M133.2 157.1h-16.8M133.2 86.2h-8.4M133.2 15.3h-16.8" stroke="#000" stroke-width="3" fill="none"/>
<rect x="133.2" y="15.3" width="1055.6" height="850.8" fill="none" stroke="#000" stroke-width="3"/>
<g font-family="'Liberation Sans', Arial, sans-serif" font-size="35.2" fill="#000"><text transform="translate(203.6,922.2) scale(1,1.045)" text-anchor="middle">1</text><text transform="translate(344.3,922.2) scale(1,1.045)" text-anchor="middle">3</text><text transform="translate(485.1,922.2) scale(1,1.045)" text-anchor="middle">5</text><text transform="translate(625.8,922.2) scale(1,1.045)" text-anchor="middle">7</text><text transform="translate(766.5,922.2) scale(1,1.045)" text-anchor="middle">9</text><text transform="translate(907.3,922.2) scale(1,1.045)" text-anchor="middle">11</text><text transform="translate(1048,922.2) scale(1,1.045)" text-anchor="middle">13</text><text transform="translate(1188.8,922.2) scale(1,1.045)" text-anchor="middle">15</text><text transform="translate(104.2,876.5) scale(1,1.045)" text-anchor="end">0.0</text><text transform="translate(104.2,734.7) scale(1,1.045)" text-anchor="end">0.2</text><text transform="translate(104.2,592.9) scale(1,1.045)" text-anchor="end">0.4</text><text transform="translate(104.2,451.1) scale(1,1.045)" text-anchor="end">0.6</text><text transform="translate(104.2,309.3) scale(1,1.045)" text-anchor="end">0.8</text><text transform="translate(104.2,167.5) scale(1,1.045)" text-anchor="end">1.0</text><text transform="translate(104.2,25.7) scale(1,1.045)" text-anchor="end">1.2</text></g>
<text transform="translate(661,974.8) scale(1,1.04)" text-anchor="middle" font-family="'Liberation Sans', Arial, sans-serif" font-size="36.8">Time Period (<tspan font-style="italic">s</tspan>)</text>
<text transform="translate(27.7,440.7) rotate(-90) scale(1,1.04)" text-anchor="middle" font-family="'Liberation Sans', Arial, sans-serif" font-size="36.6">Capture width ratio (<tspan font-style="italic">CWR</tspan>)</text>
<path d="M1495.4 7.9V859.1M1636.1 7.9V859.1M1776.8 7.9V859.1M1917.6 7.9V859.1M2058.3 7.9V859.1M2199.1 7.9V859.1M2339.8 7.9V859.1M1425 722.9H2480.6M1425 586.7H2480.6M1425 450.5H2480.6M1425 314.3H2480.6M1425 178.1H2480.6M1425 41.9H2480.6" stroke="#b2b7b4" stroke-width="1.45" stroke-dasharray="5.2 5.2" fill="none"/>
<g clip-path="url(#clipc)">
<g><path d="M1495.4 855.7 L1498.3 860 L1501.2 864.3 L1504.2 868.5 L1507.1 872.5 L1510 876.4 L1513 879.9 L1515.9 883.2 L1518.8 886.1 L1521.8 888.5 L1524.7 890.5 L1527.6 892 L1530.6 892.9 L1533.5 893.2 L1536.4 892.9 L1539.4 891.8 L1542.3 889.9 L1545.2 887.2 L1548.1 883.6 L1551.1 879.1 L1554 873.6 L1556.9 867.1 L1559.9 859.4 L1562.8 850.7 L1565.7 840.7 L1568.7 829.6 L1571.6 817.3 L1574.5 804.1 L1577.5 790.1 L1580.4 775.5 L1583.3 760.4 L1586.3 745 L1589.2 729.4 L1592.1 713.7 L1595.1 698.2 L1598 683 L1600.9 668.2 L1603.9 654 L1606.8 640.5 L1609.7 627.9 L1612.7 616.3 L1615.6 605.9 L1618.5 596.9 L1621.4 589.3 L1624.4 583.4 L1627.3 579.3 L1630.2 577.1 L1633.2 577 L1636.1 579.2 L1639 583.7 L1642 590.4 L1644.9 599.1 L1647.8 609.5 L1650.8 621.5 L1653.7 634.8 L1656.6 649.2 L1659.6 664.4 L1662.5 680.4 L1665.4 696.8 L1668.4 713.4 L1671.3 730 L1674.2 746.4 L1677.2 762.4 L1680.1 777.8 L1683 792.3 L1686 805.7 L1688.9 817.9 L1691.8 828.5 L1694.8 837.5 L1697.7 844.5 L1700.6 849.3 L1703.5 851.7 L1706.5 851.6 L1709.4 848.7 L1712.3 843.2 L1715.3 835.3 L1718.2 825.1 L1721.1 812.8 L1724.1 798.7 L1727 782.8 L1729.9 765.4 L1732.9 746.7 L1735.8 726.8 L1738.7 705.9 L1741.7 684.3 L1744.6 662.1 L1747.5 639.4 L1750.5 616.5 L1753.4 593.5 L1756.3 570.7 L1759.3 548.2 L1762.2 526.2 L1765.1 504.9 L1768.1 484.4 L1771 465 L1773.9 446.8 L1776.8 430.1 L1779.8 414.9 L1782.7 401.2 L1785.6 389 L1788.6 378.2 L1791.5 368.8 L1794.4 360.7 L1797.4 353.8 L1800.3 348 L1803.2 343.3 L1806.2 339.7 L1809.1 337.1 L1812 335.3 L1815 334.4 L1817.9 334.3 L1820.8 335 L1823.8 336.2 L1826.7 338.1 L1829.6 340.5 L1832.6 343.4 L1835.5 346.7 L1838.4 350.3 L1841.4 354.2 L1844.3 358.4 L1847.2 362.7 L1850.2 367 L1853.1 371.5 L1856 376.1 L1858.9 380.7 L1861.9 385.3 L1864.8 390 L1867.7 394.8 L1870.7 399.5 L1873.6 404.3 L1876.5 409 L1879.5 413.7 L1882.4 418.4 L1885.3 423 L1888.3 427.6 L1891.2 432.2 L1894.1 436.6 L1897.1 441 L1900 445.3 L1902.9 449.4 L1905.9 453.5 L1908.8 457.4 L1911.7 461.1 L1914.7 464.8 L1917.6 468.2 L1920.5 471.5 L1923.5 474.6 L1926.4 477.5 L1929.3 480.3 L1932.3 483 L1935.2 485.5 L1938.1 487.9 L1941 490.2 L1944 492.4 L1946.9 494.5 L1949.8 496.5 L1952.8 498.4 L1955.7 500.3 L1958.6 502.1 L1961.6 503.9 L1964.5 505.6 L1967.4 507.3 L1970.4 509 L1973.3 510.7 L1976.2 512.4 L1979.2 514.1 L1982.1 515.8 L1985 517.5 L1988 519.3 L1990.9 521.1 L1993.8 522.9 L1996.8 524.8 L1999.7 526.7 L2002.6 528.6 L2005.6 530.5 L2008.5 532.3 L2011.4 534.2 L2014.3 535.9 L2017.3 537.7 L2020.2 539.3 L2023.1 540.9 L2026.1 542.4 L2029 543.8 L2031.9 545.1 L2034.9 546.3 L2037.8 547.3 L2040.7 548.2 L2043.7 549 L2046.6 549.5 L2049.5 549.9 L2052.5 550.1 L2055.4 550.1 L2058.3 549.9 L2061.3 549.5 L2064.2 548.9 L2067.1 548.2 L2070.1 547.3 L2073 546.4 L2075.9 545.5 L2078.9 544.6 L2081.8 543.8 L2084.7 543.1 L2087.7 542.6 L2090.6 542.2 L2093.5 542.1 L2096.4 542.2 L2099.4 542.7 L2102.3 543.5 L2105.2 544.7 L2108.2 546.4 L2111.1 548.5 L2114 551.2 L2117 554.4 L2119.9 558.2 L2122.8 562.7 L2125.8 567.9 L2128.7 573.8 L2131.6 580.4 L2134.6 587.7 L2137.5 595.7 L2140.4 604.2 L2143.4 613 L2146.3 622.3 L2149.2 631.8 L2152.2 641.5 L2155.1 651.3 L2158 661.1 L2161 670.9 L2163.9 680.4 L2166.8 689.8 L2169.7 698.8 L2172.7 707.4 L2175.6 715.6 L2178.5 723.1 L2181.5 730 L2184.4 736.2 L2187.3 741.5 L2190.3 745.9 L2193.2 749.3 L2196.1 751.7 L2199.1 752.9 L2202 752.8 L2204.9 751.6 L2207.9 749.3 L2210.8 746 L2213.7 741.8 L2216.7 736.8 L2219.6 731 L2222.5 724.6 L2225.5 717.5 L2228.4 710 L2231.3 702 L2234.3 693.7 L2237.2 685.2 L2240.1 676.5 L2243.1 667.7 L2246 658.9 L2248.9 650.2 L2251.8 641.6 L2254.8 633.3 L2257.7 625.3 L2260.6 617.7 L2263.6 610.6 L2266.5 604.1 L2269.4 598.3 L2272.4 593.2 L2275.3 588.7 L2278.2 585 L2281.2 581.9 L2284.1 579.3 L2287 577.3 L2290 575.9 L2292.9 574.8 L2295.8 574.3 L2298.8 574.1 L2301.7 574.3 L2304.6 574.8 L2307.6 575.6 L2310.5 576.6 L2313.4 577.8 L2316.4 579.2 L2319.3 580.7 L2322.2 582.3 L2325.1 583.9 L2328.1 585.6 L2331 587.2 L2333.9 588.7 L2336.9 590.2 L2339.8 591.5 L2342.7 592.6 L2345.7 593.5 L2348.6 594.3 L2351.5 594.9 L2354.5 595.4 L2357.4 595.8 L2360.3 596 L2363.3 596.1 L2366.2 596.1 L2369.1 596 L2372.1 595.8 L2375 595.5 L2377.9 595.2 L2380.9 594.8 L2383.8 594.4 L2386.7 593.9 L2389.7 593.4 L2392.6 592.9 L2395.5 592.4 L2398.5 591.9 L2401.4 591.4 L2404.3 590.9 L2407.2 590.5 L2410.2 590.1 L2413.1 589.8 L2416 589.5 L2419 589.2 L2421.9 589 L2424.8 588.9 L2427.8 588.8 L2430.7 588.7 L2433.6 588.7 L2436.6 588.7 L2439.5 588.7 L2442.4 588.8 L2445.4 588.9 L2448.3 589 L2451.2 589.1 L2454.2 589.3 L2457.1 589.5 L2460 589.7 L2463 589.9 L2465.9 590.2 L2468.8 590.4 L2471.8 590.7 L2474.7 590.9 L2477.6 591.2 L2480.6 591.5" fill="none" stroke="#000000" stroke-width="3" stroke-linejoin="round"/><rect x="1484.9" y="845.2" width="21" height="21" fill="#000000"/><rect x="1555.2" y="830.2" width="21" height="21" fill="#000000"/><rect x="1625.6" y="568.7" width="21" height="21" fill="#000000"/><rect x="1696" y="841.1" width="21" height="21" fill="#000000"/><rect x="1766.3" y="419.6" width="21" height="21" fill="#000000"/><rect x="1836.7" y="352.2" width="21" height="21" fill="#000000"/><rect x="1907.1" y="457.7" width="21" height="21" fill="#000000"/><rect x="1977.5" y="508.8" width="21" height="21" fill="#000000"/><rect x="2047.8" y="539.4" width="21" height="21" fill="#000000"/><rect x="2118.2" y="563.3" width="21" height="21" fill="#000000"/><rect x="2188.6" y="742.4" width="21" height="21" fill="#000000"/><rect x="2258.9" y="587.8" width="21" height="21" fill="#000000"/><rect x="2329.3" y="581" width="21" height="21" fill="#000000"/><rect x="2399.7" y="579.6" width="21" height="21" fill="#000000"/><rect x="2470.1" y="581" width="21" height="21" fill="#000000"/></g>
<g><path d="M1495.4 855.7 L1498.3 860.5 L1501.2 865.2 L1504.2 869.8 L1507.1 874.3 L1510 878.5 L1513 882.5 L1515.9 886.2 L1518.8 889.4 L1521.8 892.2 L1524.7 894.6 L1527.6 896.4 L1530.6 897.6 L1533.5 898.1 L1536.4 898 L1539.4 897 L1542.3 895.3 L1545.2 892.7 L1548.1 889.2 L1551.1 884.6 L1554 879.1 L1556.9 872.5 L1559.9 864.7 L1562.8 855.7 L1565.7 845.5 L1568.7 834 L1571.6 821.3 L1574.5 807.6 L1577.5 793 L1580.4 777.6 L1583.3 761.6 L1586.3 745.1 L1589.2 728.2 L1592.1 711.1 L1595.1 693.9 L1598 676.8 L1600.9 659.8 L1603.9 643.1 L1606.8 626.9 L1609.7 611.3 L1612.7 596.3 L1615.6 582.2 L1618.5 569.1 L1621.4 557.1 L1624.4 546.4 L1627.3 537 L1630.2 529.2 L1633.2 523 L1636.1 518.6 L1639 516.1 L1642 515.3 L1644.9 516.2 L1647.8 518.5 L1650.8 522.2 L1653.7 527 L1656.6 532.9 L1659.6 539.6 L1662.5 547 L1665.4 555 L1668.4 563.4 L1671.3 572 L1674.2 580.8 L1677.2 589.5 L1680.1 598 L1683 606.2 L1686 613.9 L1688.9 620.9 L1691.8 627.2 L1694.8 632.5 L1697.7 636.7 L1700.6 639.6 L1703.5 641.2 L1706.5 641.2 L1709.4 639.5 L1712.3 636.2 L1715.3 631.5 L1718.2 625.3 L1721.1 617.7 L1724.1 609 L1727 599.1 L1729.9 588.3 L1732.9 576.5 L1735.8 563.8 L1738.7 550.4 L1741.7 536.4 L1744.6 521.9 L1747.5 506.9 L1750.5 491.5 L1753.4 475.9 L1756.3 460.2 L1759.3 444.4 L1762.2 428.6 L1765.1 413 L1768.1 397.6 L1771 382.5 L1773.9 367.9 L1776.8 353.8 L1779.8 340.3 L1782.7 327.4 L1785.6 315.2 L1788.6 303.5 L1791.5 292.5 L1794.4 282.2 L1797.4 272.4 L1800.3 263.3 L1803.2 254.8 L1806.2 246.9 L1809.1 239.7 L1812 233.1 L1815 227.1 L1817.9 221.8 L1820.8 217.1 L1823.8 213 L1826.7 209.6 L1829.6 206.8 L1832.6 204.6 L1835.5 203.1 L1838.4 202.2 L1841.4 201.9 L1844.3 202.3 L1847.2 203.3 L1850.2 204.9 L1853.1 207.2 L1856 210 L1858.9 213.3 L1861.9 217.1 L1864.8 221.4 L1867.7 226 L1870.7 231 L1873.6 236.3 L1876.5 241.9 L1879.5 247.7 L1882.4 253.7 L1885.3 259.8 L1888.3 266.1 L1891.2 272.4 L1894.1 278.8 L1897.1 285.2 L1900 291.5 L1902.9 297.7 L1905.9 303.7 L1908.8 309.6 L1911.7 315.3 L1914.7 320.7 L1917.6 325.9 L1920.5 330.7 L1923.5 335.2 L1926.4 339.4 L1929.3 343.3 L1932.3 346.9 L1935.2 350.3 L1938.1 353.5 L1941 356.5 L1944 359.3 L1946.9 361.9 L1949.8 364.4 L1952.8 366.7 L1955.7 369 L1958.6 371.1 L1961.6 373.2 L1964.5 375.2 L1967.4 377.2 L1970.4 379.2 L1973.3 381.2 L1976.2 383.2 L1979.2 385.3 L1982.1 387.4 L1985 389.6 L1988 391.9 L1990.9 394.4 L1993.8 396.9 L1996.8 399.5 L1999.7 402.1 L2002.6 404.8 L2005.6 407.5 L2008.5 410.2 L2011.4 412.8 L2014.3 415.4 L2017.3 418 L2020.2 420.4 L2023.1 422.7 L2026.1 424.9 L2029 426.9 L2031.9 428.7 L2034.9 430.4 L2037.8 431.8 L2040.7 432.9 L2043.7 433.8 L2046.6 434.4 L2049.5 434.7 L2052.5 434.6 L2055.4 434.2 L2058.3 433.5 L2061.3 432.3 L2064.2 430.8 L2067.1 429.1 L2070.1 427.2 L2073 425.1 L2075.9 423.1 L2078.9 421 L2081.8 419.1 L2084.7 417.3 L2087.7 415.7 L2090.6 414.5 L2093.5 413.7 L2096.4 413.3 L2099.4 413.4 L2102.3 414.2 L2105.2 415.6 L2108.2 417.7 L2111.1 420.7 L2114 424.5 L2117 429.3 L2119.9 435.1 L2122.8 442 L2125.8 450.1 L2128.7 459.4 L2131.6 469.9 L2134.6 481.7 L2137.5 494.4 L2140.4 508.1 L2143.4 522.6 L2146.3 537.6 L2149.2 553.1 L2152.2 569 L2155.1 585.1 L2158 601.3 L2161 617.4 L2163.9 633.3 L2166.8 648.8 L2169.7 663.9 L2172.7 678.4 L2175.6 692.1 L2178.5 704.9 L2181.5 716.7 L2184.4 727.4 L2187.3 736.7 L2190.3 744.6 L2193.2 750.9 L2196.1 755.5 L2199.1 758.3 L2202 759.1 L2204.9 758.1 L2207.9 755.4 L2210.8 751 L2213.7 745.2 L2216.7 738 L2219.6 729.7 L2222.5 720.3 L2225.5 709.9 L2228.4 698.7 L2231.3 686.8 L2234.3 674.4 L2237.2 661.6 L2240.1 648.4 L2243.1 635.1 L2246 621.8 L2248.9 608.5 L2251.8 595.5 L2254.8 582.9 L2257.7 570.7 L2260.6 559.1 L2263.6 548.3 L2266.5 538.4 L2269.4 529.5 L2272.4 521.7 L2275.3 515 L2278.2 509.2 L2281.2 504.5 L2284.1 500.6 L2287 497.6 L2290 495.4 L2292.9 493.9 L2295.8 493.1 L2298.8 492.8 L2301.7 493.1 L2304.6 493.9 L2307.6 495.2 L2310.5 496.8 L2313.4 498.7 L2316.4 500.8 L2319.3 503.2 L2322.2 505.6 L2325.1 508.2 L2328.1 510.8 L2331 513.3 L2333.9 515.7 L2336.9 517.9 L2339.8 520 L2342.7 521.7 L2345.7 523.2 L2348.6 524.4 L2351.5 525.4 L2354.5 526.2 L2357.4 526.8 L2360.3 527.2 L2363.3 527.3 L2366.2 527.4 L2369.1 527.3 L2372.1 527 L2375 526.7 L2377.9 526.2 L2380.9 525.6 L2383.8 525 L2386.7 524.3 L2389.7 523.6 L2392.6 522.9 L2395.5 522.1 L2398.5 521.3 L2401.4 520.6 L2404.3 519.9 L2407.2 519.2 L2410.2 518.6 L2413.1 518.1 L2416 517.6 L2419 517.2 L2421.9 516.9 L2424.8 516.7 L2427.8 516.5 L2430.7 516.4 L2433.6 516.3 L2436.6 516.3 L2439.5 516.3 L2442.4 516.4 L2445.4 516.5 L2448.3 516.6 L2451.2 516.8 L2454.2 517 L2457.1 517.3 L2460 517.6 L2463 517.9 L2465.9 518.2 L2468.8 518.5 L2471.8 518.9 L2474.7 519.2 L2477.6 519.6 L2480.6 520" fill="none" stroke="#ff0000" stroke-width="3" stroke-linejoin="round"/><circle cx="1495.4" cy="855.7" r="11.1" fill="#ff0000"/><circle cx="1565.7" cy="845.5" r="11.1" fill="#ff0000"/><circle cx="1636.1" cy="518.6" r="11.1" fill="#ff0000"/><circle cx="1706.5" cy="641.2" r="11.1" fill="#ff0000"/><circle cx="1776.8" cy="353.8" r="11.1" fill="#ff0000"/><circle cx="1847.2" cy="203.3" r="11.1" fill="#ff0000"/><circle cx="1917.6" cy="325.9" r="11.1" fill="#ff0000"/><circle cx="1988" cy="391.9" r="11.1" fill="#ff0000"/><circle cx="2058.3" cy="433.5" r="11.1" fill="#ff0000"/><circle cx="2128.7" cy="459.4" r="11.1" fill="#ff0000"/><circle cx="2199.1" cy="758.3" r="11.1" fill="#ff0000"/><circle cx="2269.4" cy="529.5" r="11.1" fill="#ff0000"/><circle cx="2339.8" cy="520" r="11.1" fill="#ff0000"/><circle cx="2410.2" cy="518.6" r="11.1" fill="#ff0000"/><circle cx="2480.6" cy="520" r="11.1" fill="#ff0000"/></g>
<g><path d="M1495.4 855.7 L1498.3 849.5 L1501.2 843.2 L1504.2 837 L1507.1 830.7 L1510 824.5 L1513 818.2 L1515.9 811.8 L1518.8 805.4 L1521.8 799 L1524.7 792.5 L1527.6 786 L1530.6 779.4 L1533.5 772.7 L1536.4 765.9 L1539.4 759.1 L1542.3 752.2 L1545.2 745.1 L1548.1 738 L1551.1 730.8 L1554 723.5 L1556.9 716 L1559.9 708.5 L1562.8 700.8 L1565.7 692.9 L1568.7 685 L1571.6 676.9 L1574.5 668.7 L1577.5 660.4 L1580.4 652.1 L1583.3 643.8 L1586.3 635.4 L1589.2 627 L1592.1 618.7 L1595.1 610.4 L1598 602.1 L1600.9 594 L1603.9 585.9 L1606.8 578 L1609.7 570.3 L1612.7 562.7 L1615.6 555.2 L1618.5 548.1 L1621.4 541.1 L1624.4 534.4 L1627.3 527.9 L1630.2 521.8 L1633.2 515.9 L1636.1 510.4 L1639 505.3 L1642 500.5 L1644.9 496 L1647.8 491.9 L1650.8 488.1 L1653.7 484.7 L1656.6 481.6 L1659.6 478.8 L1662.5 476.4 L1665.4 474.2 L1668.4 472.4 L1671.3 470.9 L1674.2 469.8 L1677.2 468.9 L1680.1 468.3 L1683 468.1 L1686 468.1 L1688.9 468.4 L1691.8 469 L1694.8 469.9 L1697.7 471.1 L1700.6 472.6 L1703.5 474.4 L1706.5 476.4 L1709.4 478.7 L1712.3 481.2 L1715.3 483.8 L1718.2 486.6 L1721.1 489.4 L1724.1 492.2 L1727 494.9 L1729.9 497.5 L1732.9 500 L1735.8 502.2 L1738.7 504.1 L1741.7 505.7 L1744.6 506.9 L1747.5 507.6 L1750.5 507.8 L1753.4 507.5 L1756.3 506.5 L1759.3 504.9 L1762.2 502.5 L1765.1 499.4 L1768.1 495.4 L1771 490.5 L1773.9 484.6 L1776.8 477.7 L1779.8 469.8 L1782.7 461 L1785.6 451.2 L1788.6 440.7 L1791.5 429.5 L1794.4 417.7 L1797.4 405.5 L1800.3 392.8 L1803.2 379.9 L1806.2 366.8 L1809.1 353.6 L1812 340.4 L1815 327.3 L1817.9 314.4 L1820.8 301.8 L1823.8 289.5 L1826.7 277.8 L1829.6 266.7 L1832.6 256.2 L1835.5 246.5 L1838.4 237.7 L1841.4 229.9 L1844.3 223.2 L1847.2 217.6 L1850.2 213.3 L1853.1 210.1 L1856 208.1 L1858.9 207.2 L1861.9 207.2 L1864.8 208.1 L1867.7 209.9 L1870.7 212.5 L1873.6 215.8 L1876.5 219.7 L1879.5 224.2 L1882.4 229.2 L1885.3 234.6 L1888.3 240.3 L1891.2 246.4 L1894.1 252.6 L1897.1 259 L1900 265.5 L1902.9 272 L1905.9 278.4 L1908.8 284.7 L1911.7 290.8 L1914.7 296.6 L1917.6 302 L1920.5 307.1 L1923.5 311.8 L1926.4 316.1 L1929.3 320 L1932.3 323.6 L1935.2 327 L1938.1 330.1 L1941 332.9 L1944 335.5 L1946.9 337.9 L1949.8 340.1 L1952.8 342.2 L1955.7 344.1 L1958.6 345.9 L1961.6 347.7 L1964.5 349.4 L1967.4 351.1 L1970.4 352.8 L1973.3 354.5 L1976.2 356.2 L1979.2 358 L1982.1 359.9 L1985 361.9 L1988 364 L1990.9 366.3 L1993.8 368.7 L1996.8 371.3 L1999.7 373.9 L2002.6 376.6 L2005.6 379.3 L2008.5 382 L2011.4 384.6 L2014.3 387.3 L2017.3 389.8 L2020.2 392.2 L2023.1 394.5 L2026.1 396.6 L2029 398.6 L2031.9 400.3 L2034.9 401.8 L2037.8 403 L2040.7 403.9 L2043.7 404.4 L2046.6 404.7 L2049.5 404.5 L2052.5 403.9 L2055.4 402.9 L2058.3 401.5 L2061.3 399.5 L2064.2 397.2 L2067.1 394.5 L2070.1 391.7 L2073 388.6 L2075.9 385.5 L2078.9 382.5 L2081.8 379.6 L2084.7 376.8 L2087.7 374.4 L2090.6 372.3 L2093.5 370.7 L2096.4 369.7 L2099.4 369.2 L2102.3 369.6 L2105.2 370.7 L2108.2 372.7 L2111.1 375.7 L2114 379.8 L2117 385 L2119.9 391.4 L2122.8 399.2 L2125.8 408.5 L2128.7 419.2 L2131.6 431.4 L2134.6 445.1 L2137.5 460.1 L2140.4 476.2 L2143.4 493.2 L2146.3 511 L2149.2 529.4 L2152.2 548.2 L2155.1 567.4 L2158 586.7 L2161 606 L2163.9 625.1 L2166.8 643.8 L2169.7 662.1 L2172.7 679.6 L2175.6 696.4 L2178.5 712.1 L2181.5 726.7 L2184.4 739.9 L2187.3 751.7 L2190.3 761.8 L2193.2 770.2 L2196.1 776.5 L2199.1 780.8 L2202 782.8 L2204.9 782.7 L2207.9 780.5 L2210.8 776.6 L2213.7 770.9 L2216.7 763.7 L2219.6 755 L2222.5 745.1 L2225.5 734.1 L2228.4 722.1 L2231.3 709.3 L2234.3 695.9 L2237.2 681.9 L2240.1 667.5 L2243.1 652.9 L2246 638.2 L2248.9 623.5 L2251.8 609.1 L2254.8 595 L2257.7 581.4 L2260.6 568.4 L2263.6 556.3 L2266.5 545.1 L2269.4 534.9 L2272.4 526 L2275.3 518.2 L2278.2 511.6 L2281.2 506 L2284.1 501.3 L2287 497.6 L2290 494.8 L2292.9 492.7 L2295.8 491.4 L2298.8 490.7 L2301.7 490.6 L2304.6 491.1 L2307.6 492 L2310.5 493.4 L2313.4 495.1 L2316.4 497.1 L2319.3 499.3 L2322.2 501.7 L2325.1 504.2 L2328.1 506.7 L2331 509.2 L2333.9 511.6 L2336.9 513.8 L2339.8 515.9 L2342.7 517.6 L2345.7 519.2 L2348.6 520.4 L2351.5 521.4 L2354.5 522.3 L2357.4 522.9 L2360.3 523.3 L2363.3 523.5 L2366.2 523.6 L2369.1 523.5 L2372.1 523.3 L2375 523 L2377.9 522.5 L2380.9 522 L2383.8 521.4 L2386.7 520.8 L2389.7 520.1 L2392.6 519.4 L2395.5 518.6 L2398.5 517.9 L2401.4 517.2 L2404.3 516.5 L2407.2 515.8 L2410.2 515.2 L2413.1 514.7 L2416 514.2 L2419 513.8 L2421.9 513.5 L2424.8 513.2 L2427.8 513 L2430.7 512.8 L2433.6 512.7 L2436.6 512.6 L2439.5 512.6 L2442.4 512.6 L2445.4 512.6 L2448.3 512.7 L2451.2 512.8 L2454.2 513 L2457.1 513.2 L2460 513.4 L2463 513.6 L2465.9 513.8 L2468.8 514.1 L2471.8 514.4 L2474.7 514.6 L2477.6 514.9 L2480.6 515.2" fill="none" stroke="#0000ff" stroke-width="3" stroke-linejoin="round"/><polygon points="1495.4,843.9 1509,867.4 1481.7,867.4" fill="#0000ff"/><polygon points="1565.7,681.2 1579.4,704.7 1552.1,704.7" fill="#0000ff"/><polygon points="1636.1,498.7 1649.8,522.2 1622.5,522.2" fill="#0000ff"/><polygon points="1706.5,464.6 1720.1,488.1 1692.8,488.1" fill="#0000ff"/><polygon points="1776.8,466 1790.5,489.5 1763.2,489.5" fill="#0000ff"/><polygon points="1847.2,205.8 1860.9,229.3 1833.6,229.3" fill="#0000ff"/><polygon points="1917.6,290.3 1931.2,313.8 1903.9,313.8" fill="#0000ff"/><polygon points="1988,352.3 2001.6,375.8 1974.3,375.8" fill="#0000ff"/><polygon points="2058.3,389.7 2072,413.2 2044.7,413.2" fill="#0000ff"/><polygon points="2128.7,407.4 2142.3,430.9 2115,430.9" fill="#0000ff"/><polygon points="2199.1,769 2212.7,792.5 2185.4,792.5" fill="#0000ff"/><polygon points="2269.4,523.2 2283.1,546.7 2255.8,546.7" fill="#0000ff"/><polygon points="2339.8,504.1 2353.5,527.6 2326.2,527.6" fill="#0000ff"/><polygon points="2410.2,503.4 2423.8,526.9 2396.5,526.9" fill="#0000ff"/><polygon points="2480.6,503.4 2494.2,526.9 2466.9,526.9" fill="#0000ff"/></g>
<g><path d="M1495.4 852.3 L1498.3 826.1 L1501.2 800 L1504.2 773.9 L1507.1 748 L1510 722.3 L1513 696.9 L1515.9 671.7 L1518.8 646.8 L1521.8 622.4 L1524.7 598.4 L1527.6 574.8 L1530.6 551.8 L1533.5 529.3 L1536.4 507.5 L1539.4 486.4 L1542.3 465.9 L1545.2 446.3 L1548.1 427.4 L1551.1 409.4 L1554 392.3 L1556.9 376.2 L1559.9 361.1 L1562.8 347 L1565.7 334 L1568.7 322.2 L1571.6 311.5 L1574.5 301.8 L1577.5 293.2 L1580.4 285.5 L1583.3 278.7 L1586.3 272.9 L1589.2 267.8 L1592.1 263.6 L1595.1 260 L1598 257.2 L1600.9 255.1 L1603.9 253.5 L1606.8 252.6 L1609.7 252.1 L1612.7 252.1 L1615.6 252.5 L1618.5 253.4 L1621.4 254.5 L1624.4 256 L1627.3 257.7 L1630.2 259.6 L1633.2 261.7 L1636.1 263.9 L1639 266.2 L1642 268.5 L1644.9 271 L1647.8 273.5 L1650.8 276.1 L1653.7 278.9 L1656.6 281.8 L1659.6 284.8 L1662.5 287.9 L1665.4 291.2 L1668.4 294.7 L1671.3 298.3 L1674.2 302.1 L1677.2 306.1 L1680.1 310.2 L1683 314.6 L1686 319.2 L1688.9 324 L1691.8 329 L1694.8 334.3 L1697.7 339.8 L1700.6 345.6 L1703.5 351.6 L1706.5 357.9 L1709.4 364.5 L1712.3 371.3 L1715.3 378.3 L1718.2 385.4 L1721.1 392.6 L1724.1 399.9 L1727 407.3 L1729.9 414.5 L1732.9 421.7 L1735.8 428.8 L1738.7 435.7 L1741.7 442.4 L1744.6 448.9 L1747.5 455 L1750.5 460.8 L1753.4 466.2 L1756.3 471.2 L1759.3 475.7 L1762.2 479.6 L1765.1 483 L1768.1 485.8 L1771 487.9 L1773.9 489.3 L1776.8 490 L1779.8 489.9 L1782.7 489 L1785.6 487.5 L1788.6 485.4 L1791.5 482.8 L1794.4 479.7 L1797.4 476.2 L1800.3 472.3 L1803.2 468.2 L1806.2 463.8 L1809.1 459.3 L1812 454.8 L1815 450.2 L1817.9 445.6 L1820.8 441.2 L1823.8 437 L1826.7 432.9 L1829.6 429.2 L1832.6 425.9 L1835.5 423 L1838.4 420.6 L1841.4 418.8 L1844.3 417.6 L1847.2 417.1 L1850.2 417.4 L1853.1 418.3 L1856 420 L1858.9 422.3 L1861.9 425.2 L1864.8 428.6 L1867.7 432.6 L1870.7 437.1 L1873.6 442 L1876.5 447.3 L1879.5 452.9 L1882.4 458.9 L1885.3 465.1 L1888.3 471.6 L1891.2 478.3 L1894.1 485.2 L1897.1 492.2 L1900 499.2 L1902.9 506.4 L1905.9 513.5 L1908.8 520.5 L1911.7 527.5 L1914.7 534.4 L1917.6 541.1 L1920.5 547.6 L1923.5 553.9 L1926.4 560 L1929.3 566 L1932.3 571.8 L1935.2 577.4 L1938.1 582.8 L1941 588.1 L1944 593.2 L1946.9 598.2 L1949.8 603 L1952.8 607.7 L1955.7 612.3 L1958.6 616.7 L1961.6 621 L1964.5 625.2 L1967.4 629.3 L1970.4 633.3 L1973.3 637.2 L1976.2 641 L1979.2 644.8 L1982.1 648.4 L1985 652 L1988 655.5 L1990.9 658.9 L1993.8 662.3 L1996.8 665.6 L1999.7 668.9 L2002.6 672.1 L2005.6 675.2 L2008.5 678.3 L2011.4 681.3 L2014.3 684.2 L2017.3 687.1 L2020.2 689.9 L2023.1 692.7 L2026.1 695.4 L2029 698.1 L2031.9 700.7 L2034.9 703.2 L2037.8 705.7 L2040.7 708.1 L2043.7 710.5 L2046.6 712.8 L2049.5 715.1 L2052.5 717.3 L2055.4 719.4 L2058.3 721.5 L2061.3 723.6 L2064.2 725.6 L2067.1 727.5 L2070.1 729.4 L2073 731.2 L2075.9 733 L2078.9 734.8 L2081.8 736.5 L2084.7 738.1 L2087.7 739.7 L2090.6 741.3 L2093.5 742.9 L2096.4 744.4 L2099.4 745.8 L2102.3 747.3 L2105.2 748.7 L2108.2 750.1 L2111.1 751.4 L2114 752.7 L2117 754 L2119.9 755.3 L2122.8 756.6 L2125.8 757.8 L2128.7 759 L2131.6 760.2 L2134.6 761.4 L2137.5 762.5 L2140.4 763.6 L2143.4 764.8 L2146.3 765.9 L2149.2 767 L2152.2 768 L2155.1 769.1 L2158 770.1 L2161 771.1 L2163.9 772.1 L2166.8 773.1 L2169.7 774.1 L2172.7 775 L2175.6 775.9 L2178.5 776.9 L2181.5 777.8 L2184.4 778.6 L2187.3 779.5 L2190.3 780.4 L2193.2 781.2 L2196.1 782 L2199.1 782.8 L2202 783.6 L2204.9 784.4 L2207.9 785.1 L2210.8 785.9 L2213.7 786.6 L2216.7 787.3 L2219.6 788 L2222.5 788.7 L2225.5 789.4 L2228.4 790.1 L2231.3 790.7 L2234.3 791.4 L2237.2 792 L2240.1 792.7 L2243.1 793.3 L2246 793.9 L2248.9 794.5 L2251.8 795.1 L2254.8 795.7 L2257.7 796.2 L2260.6 796.8 L2263.6 797.4 L2266.5 797.9 L2269.4 798.5 L2272.4 799 L2275.3 799.6 L2278.2 800.1 L2281.2 800.7 L2284.1 801.2 L2287 801.7 L2290 802.2 L2292.9 802.7 L2295.8 803.2 L2298.8 803.7 L2301.7 804.2 L2304.6 804.6 L2307.6 805.1 L2310.5 805.6 L2313.4 806 L2316.4 806.4 L2319.3 806.8 L2322.2 807.2 L2325.1 807.6 L2328.1 808 L2331 808.4 L2333.9 808.7 L2336.9 809.1 L2339.8 809.4 L2342.7 809.7 L2345.7 810 L2348.6 810.3 L2351.5 810.5 L2354.5 810.8 L2357.4 811.1 L2360.3 811.3 L2363.3 811.5 L2366.2 811.7 L2369.1 812 L2372.1 812.2 L2375 812.4 L2377.9 812.6 L2380.9 812.8 L2383.8 813 L2386.7 813.2 L2389.7 813.4 L2392.6 813.6 L2395.5 813.8 L2398.5 814 L2401.4 814.2 L2404.3 814.4 L2407.2 814.6 L2410.2 814.8 L2413.1 815.1 L2416 815.3 L2419 815.5 L2421.9 815.8 L2424.8 816 L2427.8 816.3 L2430.7 816.6 L2433.6 816.8 L2436.6 817.1 L2439.5 817.4 L2442.4 817.7 L2445.4 818 L2448.3 818.3 L2451.2 818.6 L2454.2 818.9 L2457.1 819.2 L2460 819.5 L2463 819.8 L2465.9 820.1 L2468.8 820.4 L2471.8 820.7 L2474.7 821 L2477.6 821.3 L2480.6 821.6" fill="none" stroke="#000000" stroke-width="3.2" stroke-dasharray="13 20" stroke-linecap="round" stroke-linejoin="round"/><rect x="1485.8" y="842.7" width="19.2" height="19.2" fill="#fff" stroke="#000000" stroke-width="1.6"/><rect x="1556.1" y="324.4" width="19.2" height="19.2" fill="#fff" stroke="#000000" stroke-width="1.6"/><rect x="1626.5" y="254.3" width="19.2" height="19.2" fill="#fff" stroke="#000000" stroke-width="1.6"/><rect x="1696.9" y="348.3" width="19.2" height="19.2" fill="#fff" stroke="#000000" stroke-width="1.6"/><rect x="1767.2" y="480.4" width="19.2" height="19.2" fill="#fff" stroke="#000000" stroke-width="1.6"/><rect x="1837.6" y="407.5" width="19.2" height="19.2" fill="#fff" stroke="#000000" stroke-width="1.6"/><rect x="1908" y="531.5" width="19.2" height="19.2" fill="#fff" stroke="#000000" stroke-width="1.6"/><rect x="1978.4" y="645.9" width="19.2" height="19.2" fill="#fff" stroke="#000000" stroke-width="1.6"/><rect x="2048.7" y="711.9" width="19.2" height="19.2" fill="#fff" stroke="#000000" stroke-width="1.6"/><rect x="2119.1" y="749.4" width="19.2" height="19.2" fill="#fff" stroke="#000000" stroke-width="1.6"/><rect x="2189.5" y="773.2" width="19.2" height="19.2" fill="#fff" stroke="#000000" stroke-width="1.6"/><rect x="2259.8" y="788.9" width="19.2" height="19.2" fill="#fff" stroke="#000000" stroke-width="1.6"/><rect x="2330.2" y="799.8" width="19.2" height="19.2" fill="#fff" stroke="#000000" stroke-width="1.6"/><rect x="2400.6" y="805.2" width="19.2" height="19.2" fill="#fff" stroke="#000000" stroke-width="1.6"/><rect x="2471" y="812" width="19.2" height="19.2" fill="#fff" stroke="#000000" stroke-width="1.6"/></g>
<g><path d="M1495.4 850.2 L1498.3 840 L1501.2 829.7 L1504.2 819.5 L1507.1 809.2 L1510 798.8 L1513 788.4 L1515.9 777.9 L1518.8 767.4 L1521.8 756.7 L1524.7 746 L1527.6 735.1 L1530.6 724.1 L1533.5 713 L1536.4 701.7 L1539.4 690.3 L1542.3 678.7 L1545.2 666.9 L1548.1 655 L1551.1 642.8 L1554 630.4 L1556.9 617.8 L1559.9 605 L1562.8 591.9 L1565.7 578.5 L1568.7 564.9 L1571.6 551.1 L1574.5 537.2 L1577.5 523.2 L1580.4 509.2 L1583.3 495.3 L1586.3 481.6 L1589.2 468.1 L1592.1 454.9 L1595.1 442 L1598 429.6 L1600.9 417.7 L1603.9 406.4 L1606.8 395.7 L1609.7 385.7 L1612.7 376.5 L1615.6 368.2 L1618.5 360.9 L1621.4 354.5 L1624.4 349.2 L1627.3 345.1 L1630.2 342.1 L1633.2 340.5 L1636.1 340.2 L1639 341.3 L1642 343.7 L1644.9 347.4 L1647.8 352.2 L1650.8 358.1 L1653.7 364.9 L1656.6 372.5 L1659.6 380.9 L1662.5 389.9 L1665.4 399.5 L1668.4 409.6 L1671.3 420 L1674.2 430.7 L1677.2 441.6 L1680.1 452.5 L1683 463.5 L1686 474.2 L1688.9 484.8 L1691.8 495.1 L1694.8 505 L1697.7 514.3 L1700.6 523.1 L1703.5 531.1 L1706.5 538.3 L1709.4 544.7 L1712.3 550.3 L1715.3 555 L1718.2 558.9 L1721.1 562.1 L1724.1 564.7 L1727 566.6 L1729.9 567.8 L1732.9 568.5 L1735.8 568.7 L1738.7 568.5 L1741.7 567.7 L1744.6 566.6 L1747.5 565.1 L1750.5 563.3 L1753.4 561.2 L1756.3 558.9 L1759.3 556.4 L1762.2 553.8 L1765.1 551 L1768.1 548.2 L1771 545.3 L1773.9 542.5 L1776.8 539.7 L1779.8 537 L1782.7 534.4 L1785.6 532 L1788.6 529.7 L1791.5 527.6 L1794.4 525.7 L1797.4 524 L1800.3 522.5 L1803.2 521.3 L1806.2 520.4 L1809.1 519.8 L1812 519.5 L1815 519.5 L1817.9 519.9 L1820.8 520.7 L1823.8 521.8 L1826.7 523.4 L1829.6 525.4 L1832.6 527.9 L1835.5 530.9 L1838.4 534.3 L1841.4 538.3 L1844.3 542.8 L1847.2 547.9 L1850.2 553.5 L1853.1 559.7 L1856 566.4 L1858.9 573.5 L1861.9 580.9 L1864.8 588.8 L1867.7 596.9 L1870.7 605.3 L1873.6 613.9 L1876.5 622.6 L1879.5 631.5 L1882.4 640.4 L1885.3 649.3 L1888.3 658.2 L1891.2 667 L1894.1 675.7 L1897.1 684.2 L1900 692.6 L1902.9 700.6 L1905.9 708.3 L1908.8 715.7 L1911.7 722.6 L1914.7 729.2 L1917.6 735.2 L1920.5 740.6 L1923.5 745.6 L1926.4 750 L1929.3 754 L1932.3 757.6 L1935.2 760.7 L1938.1 763.5 L1941 765.9 L1944 767.9 L1946.9 769.7 L1949.8 771.2 L1952.8 772.4 L1955.7 773.4 L1958.6 774.2 L1961.6 774.8 L1964.5 775.3 L1967.4 775.7 L1970.4 776 L1973.3 776.2 L1976.2 776.4 L1979.2 776.6 L1982.1 776.8 L1985 777.1 L1988 777.4 L1990.9 777.8 L1993.8 778.3 L1996.8 778.9 L1999.7 779.6 L2002.6 780.3 L2005.6 781.2 L2008.5 782 L2011.4 783 L2014.3 784 L2017.3 785 L2020.2 786.1 L2023.1 787.2 L2026.1 788.4 L2029 789.6 L2031.9 790.8 L2034.9 792 L2037.8 793.2 L2040.7 794.4 L2043.7 795.6 L2046.6 796.7 L2049.5 797.9 L2052.5 799 L2055.4 800.1 L2058.3 801.2 L2061.3 802.2 L2064.2 803.2 L2067.1 804.2 L2070.1 805.1 L2073 806 L2075.9 806.8 L2078.9 807.6 L2081.8 808.4 L2084.7 809.1 L2087.7 809.8 L2090.6 810.5 L2093.5 811.2 L2096.4 811.8 L2099.4 812.4 L2102.3 813 L2105.2 813.6 L2108.2 814.1 L2111.1 814.7 L2114 815.2 L2117 815.7 L2119.9 816.2 L2122.8 816.6 L2125.8 817.1 L2128.7 817.6 L2131.6 818 L2134.6 818.5 L2137.5 818.9 L2140.4 819.3 L2143.4 819.7 L2146.3 820.2 L2149.2 820.6 L2152.2 821 L2155.1 821.4 L2158 821.8 L2161 822.2 L2163.9 822.6 L2166.8 823 L2169.7 823.4 L2172.7 823.7 L2175.6 824.1 L2178.5 824.5 L2181.5 824.9 L2184.4 825.2 L2187.3 825.6 L2190.3 826 L2193.2 826.4 L2196.1 826.7 L2199.1 827.1 L2202 827.5 L2204.9 827.8 L2207.9 828.2 L2210.8 828.6 L2213.7 828.9 L2216.7 829.3 L2219.6 829.7 L2222.5 830 L2225.5 830.4 L2228.4 830.7 L2231.3 831.1 L2234.3 831.4 L2237.2 831.8 L2240.1 832.1 L2243.1 832.5 L2246 832.8 L2248.9 833.1 L2251.8 833.4 L2254.8 833.8 L2257.7 834.1 L2260.6 834.4 L2263.6 834.7 L2266.5 835 L2269.4 835.3 L2272.4 835.5 L2275.3 835.8 L2278.2 836.1 L2281.2 836.4 L2284.1 836.6 L2287 836.9 L2290 837.1 L2292.9 837.3 L2295.8 837.6 L2298.8 837.8 L2301.7 838 L2304.6 838.3 L2307.6 838.5 L2310.5 838.7 L2313.4 838.9 L2316.4 839.1 L2319.3 839.3 L2322.2 839.5 L2325.1 839.7 L2328.1 839.9 L2331 840.1 L2333.9 840.3 L2336.9 840.5 L2339.8 840.7 L2342.7 840.9 L2345.7 841.1 L2348.6 841.3 L2351.5 841.5 L2354.5 841.7 L2357.4 841.9 L2360.3 842.1 L2363.3 842.2 L2366.2 842.4 L2369.1 842.6 L2372.1 842.8 L2375 843 L2377.9 843.1 L2380.9 843.3 L2383.8 843.5 L2386.7 843.6 L2389.7 843.8 L2392.6 844 L2395.5 844.1 L2398.5 844.3 L2401.4 844.4 L2404.3 844.5 L2407.2 844.7 L2410.2 844.8 L2413.1 844.9 L2416 845 L2419 845.2 L2421.9 845.3 L2424.8 845.4 L2427.8 845.5 L2430.7 845.6 L2433.6 845.7 L2436.6 845.8 L2439.5 845.8 L2442.4 845.9 L2445.4 846 L2448.3 846.1 L2451.2 846.2 L2454.2 846.2 L2457.1 846.3 L2460 846.4 L2463 846.4 L2465.9 846.5 L2468.8 846.6 L2471.8 846.6 L2474.7 846.7 L2477.6 846.8 L2480.6 846.8" fill="none" stroke="#ff0000" stroke-width="3.2" stroke-dasharray="13 20" stroke-linecap="round" stroke-linejoin="round"/><circle cx="1495.4" cy="850.2" r="10" fill="#fff" stroke="#ff0000" stroke-width="1.6"/><circle cx="1565.7" cy="578.5" r="10" fill="#fff" stroke="#ff0000" stroke-width="1.6"/><circle cx="1636.1" cy="340.2" r="10" fill="#fff" stroke="#ff0000" stroke-width="1.6"/><circle cx="1706.5" cy="538.3" r="10" fill="#fff" stroke="#ff0000" stroke-width="1.6"/><circle cx="1776.8" cy="539.7" r="10" fill="#fff" stroke="#ff0000" stroke-width="1.6"/><circle cx="1847.2" cy="547.9" r="10" fill="#fff" stroke="#ff0000" stroke-width="1.6"/><circle cx="1917.6" cy="735.2" r="10" fill="#fff" stroke="#ff0000" stroke-width="1.6"/><circle cx="1988" cy="777.4" r="10" fill="#fff" stroke="#ff0000" stroke-width="1.6"/><circle cx="2058.3" cy="801.2" r="10" fill="#fff" stroke="#ff0000" stroke-width="1.6"/><circle cx="2128.7" cy="817.6" r="10" fill="#fff" stroke="#ff0000" stroke-width="1.6"/><circle cx="2199.1" cy="827.1" r="10" fill="#fff" stroke="#ff0000" stroke-width="1.6"/><circle cx="2269.4" cy="835.3" r="10" fill="#fff" stroke="#ff0000" stroke-width="1.6"/><circle cx="2339.8" cy="840.7" r="10" fill="#fff" stroke="#ff0000" stroke-width="1.6"/><circle cx="2410.2" cy="844.8" r="10" fill="#fff" stroke="#ff0000" stroke-width="1.6"/><circle cx="2480.6" cy="846.8" r="10" fill="#fff" stroke="#ff0000" stroke-width="1.6"/></g>
<g><path d="M1495.4 848.9 L1498.3 833.3 L1501.2 817.8 L1504.2 802.3 L1507.1 786.9 L1510 771.7 L1513 756.6 L1515.9 741.6 L1518.8 726.9 L1521.8 712.4 L1524.7 698.2 L1527.6 684.3 L1530.6 670.7 L1533.5 657.4 L1536.4 644.6 L1539.4 632.1 L1542.3 620.2 L1545.2 608.6 L1548.1 597.6 L1551.1 587.1 L1554 577.2 L1556.9 567.9 L1559.9 559.2 L1562.8 551.2 L1565.7 543.8 L1568.7 537.1 L1571.6 531.2 L1574.5 525.9 L1577.5 521.2 L1580.4 517.2 L1583.3 513.7 L1586.3 510.8 L1589.2 508.5 L1592.1 506.7 L1595.1 505.4 L1598 504.5 L1600.9 504.2 L1603.9 504.2 L1606.8 504.6 L1609.7 505.5 L1612.7 506.7 L1615.6 508.2 L1618.5 510 L1621.4 512.1 L1624.4 514.5 L1627.3 517.1 L1630.2 519.9 L1633.2 522.9 L1636.1 526.1 L1639 529.4 L1642 532.9 L1644.9 536.4 L1647.8 540.1 L1650.8 543.8 L1653.7 547.6 L1656.6 551.4 L1659.6 555.2 L1662.5 559.1 L1665.4 562.9 L1668.4 566.7 L1671.3 570.5 L1674.2 574.2 L1677.2 577.8 L1680.1 581.3 L1683 584.7 L1686 588 L1688.9 591.1 L1691.8 594.1 L1694.8 596.8 L1697.7 599.4 L1700.6 601.8 L1703.5 603.9 L1706.5 605.8 L1709.4 607.4 L1712.3 608.7 L1715.3 609.8 L1718.2 610.6 L1721.1 611.1 L1724.1 611.4 L1727 611.4 L1729.9 611.1 L1732.9 610.5 L1735.8 609.7 L1738.7 608.6 L1741.7 607.2 L1744.6 605.5 L1747.5 603.6 L1750.5 601.4 L1753.4 598.9 L1756.3 596.1 L1759.3 593.1 L1762.2 589.8 L1765.1 586.2 L1768.1 582.3 L1771 578.1 L1773.9 573.7 L1776.8 569 L1779.8 564 L1782.7 558.8 L1785.6 553.4 L1788.6 547.9 L1791.5 542.4 L1794.4 536.8 L1797.4 531.4 L1800.3 526 L1803.2 520.9 L1806.2 515.9 L1809.1 511.3 L1812 507 L1815 503.2 L1817.9 499.8 L1820.8 496.9 L1823.8 494.6 L1826.7 493 L1829.6 492 L1832.6 491.8 L1835.5 492.5 L1838.4 494 L1841.4 496.4 L1844.3 499.8 L1847.2 504.3 L1850.2 509.8 L1853.1 516.4 L1856 523.9 L1858.9 532.3 L1861.9 541.4 L1864.8 551.2 L1867.7 561.7 L1870.7 572.6 L1873.6 584 L1876.5 595.7 L1879.5 607.7 L1882.4 620 L1885.3 632.3 L1888.3 644.6 L1891.2 656.9 L1894.1 669 L1897.1 680.9 L1900 692.5 L1902.9 703.7 L1905.9 714.4 L1908.8 724.5 L1911.7 734.1 L1914.7 742.8 L1917.6 750.8 L1920.5 757.9 L1923.5 764.2 L1926.4 769.7 L1929.3 774.4 L1932.3 778.4 L1935.2 781.7 L1938.1 784.5 L1941 786.6 L1944 788.3 L1946.9 789.5 L1949.8 790.2 L1952.8 790.6 L1955.7 790.7 L1958.6 790.4 L1961.6 790 L1964.5 789.3 L1967.4 788.5 L1970.4 787.6 L1973.3 786.7 L1976.2 785.7 L1979.2 784.8 L1982.1 784 L1985 783.3 L1988 782.8 L1990.9 782.6 L1993.8 782.5 L1996.8 782.7 L1999.7 783 L2002.6 783.5 L2005.6 784.2 L2008.5 785.1 L2011.4 786.1 L2014.3 787.2 L2017.3 788.4 L2020.2 789.7 L2023.1 791.1 L2026.1 792.6 L2029 794.1 L2031.9 795.6 L2034.9 797.2 L2037.8 798.8 L2040.7 800.4 L2043.7 802 L2046.6 803.6 L2049.5 805.2 L2052.5 806.6 L2055.4 808 L2058.3 809.4 L2061.3 810.6 L2064.2 811.8 L2067.1 812.9 L2070.1 813.9 L2073 814.8 L2075.9 815.6 L2078.9 816.4 L2081.8 817.1 L2084.7 817.8 L2087.7 818.4 L2090.6 818.9 L2093.5 819.4 L2096.4 819.8 L2099.4 820.2 L2102.3 820.6 L2105.2 821 L2108.2 821.3 L2111.1 821.6 L2114 821.8 L2117 822.1 L2119.9 822.3 L2122.8 822.6 L2125.8 822.8 L2128.7 823 L2131.6 823.2 L2134.6 823.5 L2137.5 823.7 L2140.4 824 L2143.4 824.2 L2146.3 824.5 L2149.2 824.7 L2152.2 825 L2155.1 825.2 L2158 825.5 L2161 825.8 L2163.9 826.1 L2166.8 826.4 L2169.7 826.6 L2172.7 826.9 L2175.6 827.2 L2178.5 827.5 L2181.5 827.8 L2184.4 828.2 L2187.3 828.5 L2190.3 828.8 L2193.2 829.1 L2196.1 829.5 L2199.1 829.8 L2202 830.2 L2204.9 830.5 L2207.9 830.9 L2210.8 831.2 L2213.7 831.6 L2216.7 832 L2219.6 832.3 L2222.5 832.7 L2225.5 833.1 L2228.4 833.4 L2231.3 833.8 L2234.3 834.1 L2237.2 834.5 L2240.1 834.8 L2243.1 835.2 L2246 835.5 L2248.9 835.9 L2251.8 836.2 L2254.8 836.5 L2257.7 836.8 L2260.6 837.1 L2263.6 837.4 L2266.5 837.7 L2269.4 838 L2272.4 838.2 L2275.3 838.5 L2278.2 838.7 L2281.2 839 L2284.1 839.2 L2287 839.4 L2290 839.6 L2292.9 839.8 L2295.8 840 L2298.8 840.1 L2301.7 840.3 L2304.6 840.5 L2307.6 840.6 L2310.5 840.8 L2313.4 840.9 L2316.4 841.1 L2319.3 841.2 L2322.2 841.3 L2325.1 841.5 L2328.1 841.6 L2331 841.7 L2333.9 841.8 L2336.9 842 L2339.8 842.1 L2342.7 842.2 L2345.7 842.3 L2348.6 842.4 L2351.5 842.6 L2354.5 842.7 L2357.4 842.8 L2360.3 842.9 L2363.3 843 L2366.2 843.2 L2369.1 843.3 L2372.1 843.4 L2375 843.5 L2377.9 843.6 L2380.9 843.7 L2383.8 843.8 L2386.7 844 L2389.7 844.1 L2392.6 844.2 L2395.5 844.3 L2398.5 844.4 L2401.4 844.5 L2404.3 844.6 L2407.2 844.7 L2410.2 844.8 L2413.1 844.9 L2416 845 L2419 845.1 L2421.9 845.2 L2424.8 845.3 L2427.8 845.4 L2430.7 845.5 L2433.6 845.5 L2436.6 845.6 L2439.5 845.7 L2442.4 845.8 L2445.4 845.9 L2448.3 846 L2451.2 846 L2454.2 846.1 L2457.1 846.2 L2460 846.3 L2463 846.4 L2465.9 846.4 L2468.8 846.5 L2471.8 846.6 L2474.7 846.7 L2477.6 846.8 L2480.6 846.8" fill="none" stroke="#0000ff" stroke-width="3.2" stroke-dasharray="13 20" stroke-linecap="round" stroke-linejoin="round"/><polygon points="1495.4,837.1 1509,860.6 1481.7,860.6" fill="#fff" stroke="#0000ff" stroke-width="1.6"/><polygon points="1565.7,532 1579.4,555.5 1552.1,555.5" fill="#fff" stroke="#0000ff" stroke-width="1.6"/><polygon points="1636.1,514.3 1649.8,537.8 1622.5,537.8" fill="#fff" stroke="#0000ff" stroke-width="1.6"/><polygon points="1706.5,594 1720.1,617.5 1692.8,617.5" fill="#fff" stroke="#0000ff" stroke-width="1.6"/><polygon points="1776.8,557.2 1790.5,580.7 1763.2,580.7" fill="#fff" stroke="#0000ff" stroke-width="1.6"/><polygon points="1847.2,492.5 1860.9,516 1833.6,516" fill="#fff" stroke="#0000ff" stroke-width="1.6"/><polygon points="1917.6,739.1 1931.2,762.6 1903.9,762.6" fill="#fff" stroke="#0000ff" stroke-width="1.6"/><polygon points="1988,771.1 2001.6,794.6 1974.3,794.6" fill="#fff" stroke="#0000ff" stroke-width="1.6"/><polygon points="2058.3,797.6 2072,821.1 2044.7,821.1" fill="#fff" stroke="#0000ff" stroke-width="1.6"/><polygon points="2128.7,811.3 2142.3,834.8 2115,834.8" fill="#fff" stroke="#0000ff" stroke-width="1.6"/><polygon points="2199.1,818.1 2212.7,841.6 2185.4,841.6" fill="#fff" stroke="#0000ff" stroke-width="1.6"/><polygon points="2269.4,826.2 2283.1,849.7 2255.8,849.7" fill="#fff" stroke="#0000ff" stroke-width="1.6"/><polygon points="2339.8,830.3 2353.5,853.8 2326.2,853.8" fill="#fff" stroke="#0000ff" stroke-width="1.6"/><polygon points="2410.2,833 2423.8,856.5 2396.5,856.5" fill="#fff" stroke="#0000ff" stroke-width="1.6"/><polygon points="2480.6,835.1 2494.2,858.6 2466.9,858.6" fill="#fff" stroke="#0000ff" stroke-width="1.6"/></g>
<g><path d="M1495.4 859.1 L1498.3 857.4 L1501.2 855.6 L1504.2 853.9 L1507.1 852.3 L1510 850.6 L1513 849.1 L1515.9 847.6 L1518.8 846.2 L1521.8 844.9 L1524.7 843.7 L1527.6 842.6 L1530.6 841.7 L1533.5 840.9 L1536.4 840.3 L1539.4 839.8 L1542.3 839.6 L1545.2 839.5 L1548.1 839.6 L1551.1 840 L1554 840.6 L1556.9 841.4 L1559.9 842.5 L1562.8 843.8 L1565.7 845.5 L1568.7 847.4 L1571.6 849.5 L1574.5 851.8 L1577.5 854.2 L1580.4 856.6 L1583.3 858.9 L1586.3 861 L1589.2 862.9 L1592.1 864.6 L1595.1 865.9 L1598 866.7 L1600.9 867 L1603.9 866.8 L1606.8 865.9 L1609.7 864.2 L1612.7 861.8 L1615.6 858.5 L1618.5 854.2 L1621.4 848.9 L1624.4 842.6 L1627.3 835 L1630.2 826.2 L1633.2 816.1 L1636.1 804.6 L1639 791.7 L1642 777.5 L1644.9 762.1 L1647.8 745.6 L1650.8 728.3 L1653.7 710.2 L1656.6 691.5 L1659.6 672.3 L1662.5 652.8 L1665.4 633.1 L1668.4 613.3 L1671.3 593.7 L1674.2 574.3 L1677.2 555.3 L1680.1 536.8 L1683 518.9 L1686 501.9 L1688.9 485.8 L1691.8 470.8 L1694.8 457.1 L1697.7 444.7 L1700.6 433.8 L1703.5 424.6 L1706.5 417.1 L1709.4 411.6 L1712.3 407.9 L1715.3 405.9 L1718.2 405.6 L1721.1 406.7 L1724.1 409.3 L1727 413.2 L1729.9 418.3 L1732.9 424.5 L1735.8 431.7 L1738.7 439.7 L1741.7 448.6 L1744.6 458.1 L1747.5 468.2 L1750.5 478.8 L1753.4 489.8 L1756.3 501 L1759.3 512.3 L1762.2 523.7 L1765.1 535.1 L1768.1 546.3 L1771 557.2 L1773.9 567.8 L1776.8 577.8 L1779.8 587.4 L1782.7 596.3 L1785.6 604.8 L1788.6 612.7 L1791.5 620.2 L1794.4 627.2 L1797.4 633.8 L1800.3 640 L1803.2 645.8 L1806.2 651.3 L1809.1 656.4 L1812 661.3 L1815 665.9 L1817.9 670.2 L1820.8 674.3 L1823.8 678.3 L1826.7 682 L1829.6 685.6 L1832.6 689.2 L1835.5 692.6 L1838.4 695.9 L1841.4 699.2 L1844.3 702.6 L1847.2 705.9 L1850.2 709.2 L1853.1 712.6 L1856 716 L1858.9 719.5 L1861.9 722.9 L1864.8 726.3 L1867.7 729.8 L1870.7 733.2 L1873.6 736.6 L1876.5 740 L1879.5 743.3 L1882.4 746.6 L1885.3 749.9 L1888.3 753.1 L1891.2 756.2 L1894.1 759.2 L1897.1 762.2 L1900 765.1 L1902.9 767.9 L1905.9 770.6 L1908.8 773.1 L1911.7 775.6 L1914.7 777.9 L1917.6 780.1 L1920.5 782.2 L1923.5 784.1 L1926.4 785.9 L1929.3 787.5 L1932.3 789.1 L1935.2 790.5 L1938.1 791.9 L1941 793.1 L1944 794.3 L1946.9 795.4 L1949.8 796.4 L1952.8 797.3 L1955.7 798.2 L1958.6 799 L1961.6 799.7 L1964.5 800.4 L1967.4 801.1 L1970.4 801.8 L1973.3 802.4 L1976.2 803 L1979.2 803.6 L1982.1 804.1 L1985 804.7 L1988 805.3 L1990.9 805.9 L1993.8 806.5 L1996.8 807.1 L1999.7 807.8 L2002.6 808.4 L2005.6 809 L2008.5 809.7 L2011.4 810.3 L2014.3 810.9 L2017.3 811.6 L2020.2 812.2 L2023.1 812.8 L2026.1 813.4 L2029 814 L2031.9 814.6 L2034.9 815.2 L2037.8 815.7 L2040.7 816.2 L2043.7 816.7 L2046.6 817.2 L2049.5 817.7 L2052.5 818.1 L2055.4 818.5 L2058.3 818.9 L2061.3 819.3 L2064.2 819.6 L2067.1 819.9 L2070.1 820.2 L2073 820.4 L2075.9 820.7 L2078.9 820.9 L2081.8 821.1 L2084.7 821.3 L2087.7 821.6 L2090.6 821.8 L2093.5 822.1 L2096.4 822.3 L2099.4 822.6 L2102.3 822.9 L2105.2 823.2 L2108.2 823.5 L2111.1 823.9 L2114 824.3 L2117 824.8 L2119.9 825.3 L2122.8 825.8 L2125.8 826.4 L2128.7 827.1 L2131.6 827.8 L2134.6 828.6 L2137.5 829.4 L2140.4 830.2 L2143.4 831.1 L2146.3 832 L2149.2 832.9 L2152.2 833.7 L2155.1 834.6 L2158 835.5 L2161 836.4 L2163.9 837.2 L2166.8 838 L2169.7 838.8 L2172.7 839.5 L2175.6 840.1 L2178.5 840.7 L2181.5 841.2 L2184.4 841.6 L2187.3 841.9 L2190.3 842.1 L2193.2 842.2 L2196.1 842.2 L2199.1 842.1 L2202 841.8 L2204.9 841.4 L2207.9 840.9 L2210.8 840.3 L2213.7 839.6 L2216.7 838.9 L2219.6 838 L2222.5 837.1 L2225.5 836.1 L2228.4 835.1 L2231.3 834.1 L2234.3 833 L2237.2 831.9 L2240.1 830.8 L2243.1 829.7 L2246 828.7 L2248.9 827.6 L2251.8 826.6 L2254.8 825.6 L2257.7 824.7 L2260.6 823.8 L2263.6 823 L2266.5 822.3 L2269.4 821.6 L2272.4 821.1 L2275.3 820.7 L2278.2 820.3 L2281.2 820.1 L2284.1 819.9 L2287 819.8 L2290 819.7 L2292.9 819.7 L2295.8 819.8 L2298.8 819.9 L2301.7 820.1 L2304.6 820.3 L2307.6 820.5 L2310.5 820.8 L2313.4 821 L2316.4 821.4 L2319.3 821.7 L2322.2 822 L2325.1 822.3 L2328.1 822.6 L2331 822.9 L2333.9 823.2 L2336.9 823.5 L2339.8 823.7 L2342.7 823.9 L2345.7 824.1 L2348.6 824.2 L2351.5 824.3 L2354.5 824.4 L2357.4 824.5 L2360.3 824.5 L2363.3 824.5 L2366.2 824.5 L2369.1 824.5 L2372.1 824.5 L2375 824.5 L2377.9 824.4 L2380.9 824.3 L2383.8 824.3 L2386.7 824.2 L2389.7 824.1 L2392.6 824.1 L2395.5 824 L2398.5 823.9 L2401.4 823.8 L2404.3 823.8 L2407.2 823.7 L2410.2 823.7 L2413.1 823.7 L2416 823.6 L2419 823.6 L2421.9 823.6 L2424.8 823.6 L2427.8 823.7 L2430.7 823.7 L2433.6 823.7 L2436.6 823.8 L2439.5 823.8 L2442.4 823.9 L2445.4 823.9 L2448.3 824 L2451.2 824.1 L2454.2 824.2 L2457.1 824.3 L2460 824.3 L2463 824.4 L2465.9 824.5 L2468.8 824.6 L2471.8 824.7 L2474.7 824.8 L2477.6 824.9 L2480.6 825.1" fill="none" stroke="#000000" stroke-width="3.4" stroke-dasharray="0 6.6" stroke-linecap="round" stroke-linejoin="round"/><polygon points="1483.6,859.1 1507.1,845.9 1507.1,872.3" fill="#000000"/><polygon points="1554,845.5 1577.5,832.3 1577.5,858.7" fill="#000000"/><polygon points="1624.4,804.6 1647.9,791.4 1647.9,817.8" fill="#000000"/><polygon points="1694.7,417.1 1718.2,403.9 1718.2,430.3" fill="#000000"/><polygon points="1765.1,577.8 1788.6,564.6 1788.6,591" fill="#000000"/><polygon points="1835.5,705.9 1859,692.7 1859,719.1" fill="#000000"/><polygon points="1905.8,780.1 1929.3,766.9 1929.3,793.3" fill="#000000"/><polygon points="1976.2,805.3 1999.7,792.1 1999.7,818.5" fill="#000000"/><polygon points="2046.6,818.9 2070.1,805.7 2070.1,832.1" fill="#000000"/><polygon points="2116.9,827.1 2140.4,813.9 2140.4,840.3" fill="#000000"/><polygon points="2187.3,842.1 2210.8,828.9 2210.8,855.3" fill="#000000"/><polygon points="2257.7,821.6 2281.2,808.4 2281.2,834.8" fill="#000000"/><polygon points="2328.1,823.7 2351.6,810.5 2351.6,836.9" fill="#000000"/><polygon points="2398.4,823.7 2421.9,810.5 2421.9,836.9" fill="#000000"/><polygon points="2468.8,825.1 2492.3,811.9 2492.3,838.3" fill="#000000"/></g>
<g><path d="M1495.4 855.7 L1498.3 854.8 L1501.2 853.9 L1504.2 853 L1507.1 852.2 L1510 851.3 L1513 850.5 L1515.9 849.7 L1518.8 849 L1521.8 848.3 L1524.7 847.7 L1527.6 847.1 L1530.6 846.6 L1533.5 846.1 L1536.4 845.7 L1539.4 845.5 L1542.3 845.3 L1545.2 845.2 L1548.1 845.1 L1551.1 845.2 L1554 845.5 L1556.9 845.8 L1559.9 846.2 L1562.8 846.8 L1565.7 847.5 L1568.7 848.4 L1571.6 849.3 L1574.5 850.3 L1577.5 851.4 L1580.4 852.4 L1583.3 853.3 L1586.3 854.2 L1589.2 854.9 L1592.1 855.5 L1595.1 855.9 L1598 856 L1600.9 855.8 L1603.9 855.3 L1606.8 854.4 L1609.7 853.1 L1612.7 851.4 L1615.6 849.2 L1618.5 846.4 L1621.4 843.1 L1624.4 839.2 L1627.3 834.7 L1630.2 829.5 L1633.2 823.6 L1636.1 816.9 L1639 809.4 L1642 801.2 L1644.9 792.4 L1647.8 782.9 L1650.8 773 L1653.7 762.6 L1656.6 751.8 L1659.6 740.6 L1662.5 729.3 L1665.4 717.7 L1668.4 706.1 L1671.3 694.3 L1674.2 682.7 L1677.2 671.1 L1680.1 659.6 L1683 648.4 L1686 637.5 L1688.9 627 L1691.8 616.8 L1694.8 607.2 L1697.7 598.2 L1700.6 589.8 L1703.5 582.1 L1706.5 575.1 L1709.4 569 L1712.3 563.7 L1715.3 559.2 L1718.2 555.4 L1721.1 552.4 L1724.1 550 L1727 548.2 L1729.9 547.1 L1732.9 546.6 L1735.8 546.6 L1738.7 547.2 L1741.7 548.2 L1744.6 549.7 L1747.5 551.7 L1750.5 554 L1753.4 556.7 L1756.3 559.7 L1759.3 563 L1762.2 566.6 L1765.1 570.4 L1768.1 574.4 L1771 578.6 L1773.9 582.9 L1776.8 587.4 L1779.8 591.9 L1782.7 596.5 L1785.6 601.1 L1788.6 605.9 L1791.5 610.6 L1794.4 615.4 L1797.4 620.2 L1800.3 625.1 L1803.2 629.9 L1806.2 634.8 L1809.1 639.7 L1812 644.5 L1815 649.4 L1817.9 654.2 L1820.8 659 L1823.8 663.8 L1826.7 668.5 L1829.6 673.2 L1832.6 677.8 L1835.5 682.4 L1838.4 686.8 L1841.4 691.2 L1844.3 695.5 L1847.2 699.7 L1850.2 703.9 L1853.1 707.9 L1856 711.8 L1858.9 715.6 L1861.9 719.3 L1864.8 722.9 L1867.7 726.4 L1870.7 729.8 L1873.6 733.1 L1876.5 736.4 L1879.5 739.5 L1882.4 742.5 L1885.3 745.5 L1888.3 748.3 L1891.2 751.1 L1894.1 753.7 L1897.1 756.3 L1900 758.8 L1902.9 761.2 L1905.9 763.5 L1908.8 765.8 L1911.7 767.9 L1914.7 770 L1917.6 771.9 L1920.5 773.8 L1923.5 775.6 L1926.4 777.4 L1929.3 779 L1932.3 780.6 L1935.2 782.2 L1938.1 783.6 L1941 785 L1944 786.4 L1946.9 787.6 L1949.8 788.9 L1952.8 790 L1955.7 791.2 L1958.6 792.3 L1961.6 793.3 L1964.5 794.3 L1967.4 795.3 L1970.4 796.2 L1973.3 797.1 L1976.2 798 L1979.2 798.8 L1982.1 799.6 L1985 800.4 L1988 801.2 L1990.9 802 L1993.8 802.7 L1996.8 803.5 L1999.7 804.2 L2002.6 804.9 L2005.6 805.6 L2008.5 806.3 L2011.4 807 L2014.3 807.6 L2017.3 808.2 L2020.2 808.8 L2023.1 809.4 L2026.1 810 L2029 810.5 L2031.9 811.1 L2034.9 811.6 L2037.8 812.1 L2040.7 812.5 L2043.7 813 L2046.6 813.4 L2049.5 813.8 L2052.5 814.2 L2055.4 814.5 L2058.3 814.8 L2061.3 815.1 L2064.2 815.4 L2067.1 815.7 L2070.1 815.9 L2073 816.2 L2075.9 816.4 L2078.9 816.6 L2081.8 816.9 L2084.7 817.1 L2087.7 817.4 L2090.6 817.6 L2093.5 817.9 L2096.4 818.2 L2099.4 818.6 L2102.3 818.9 L2105.2 819.3 L2108.2 819.8 L2111.1 820.3 L2114 820.8 L2117 821.4 L2119.9 822.1 L2122.8 822.8 L2125.8 823.5 L2128.7 824.4 L2131.6 825.3 L2134.6 826.2 L2137.5 827.3 L2140.4 828.3 L2143.4 829.5 L2146.3 830.6 L2149.2 831.8 L2152.2 832.9 L2155.1 834.1 L2158 835.3 L2161 836.4 L2163.9 837.5 L2166.8 838.6 L2169.7 839.7 L2172.7 840.7 L2175.6 841.7 L2178.5 842.5 L2181.5 843.4 L2184.4 844.1 L2187.3 844.7 L2190.3 845.3 L2193.2 845.7 L2196.1 846 L2199.1 846.2 L2202 846.2 L2204.9 846.1 L2207.9 845.9 L2210.8 845.6 L2213.7 845.2 L2216.7 844.7 L2219.6 844.2 L2222.5 843.5 L2225.5 842.8 L2228.4 842.1 L2231.3 841.3 L2234.3 840.4 L2237.2 839.6 L2240.1 838.7 L2243.1 837.8 L2246 836.9 L2248.9 836.1 L2251.8 835.2 L2254.8 834.4 L2257.7 833.7 L2260.6 832.9 L2263.6 832.3 L2266.5 831.7 L2269.4 831.2 L2272.4 830.8 L2275.3 830.4 L2278.2 830.1 L2281.2 829.9 L2284.1 829.8 L2287 829.7 L2290 829.7 L2292.9 829.8 L2295.8 829.9 L2298.8 830 L2301.7 830.2 L2304.6 830.4 L2307.6 830.7 L2310.5 830.9 L2313.4 831.2 L2316.4 831.5 L2319.3 831.8 L2322.2 832.1 L2325.1 832.5 L2328.1 832.8 L2331 833.1 L2333.9 833.4 L2336.9 833.7 L2339.8 833.9 L2342.7 834.1 L2345.7 834.3 L2348.6 834.5 L2351.5 834.6 L2354.5 834.8 L2357.4 834.9 L2360.3 835 L2363.3 835 L2366.2 835.1 L2369.1 835.1 L2372.1 835.1 L2375 835.1 L2377.9 835.1 L2380.9 835.1 L2383.8 835.1 L2386.7 835 L2389.7 835 L2392.6 834.9 L2395.5 834.9 L2398.5 834.8 L2401.4 834.8 L2404.3 834.7 L2407.2 834.6 L2410.2 834.6 L2413.1 834.5 L2416 834.5 L2419 834.4 L2421.9 834.4 L2424.8 834.3 L2427.8 834.3 L2430.7 834.3 L2433.6 834.2 L2436.6 834.2 L2439.5 834.2 L2442.4 834.1 L2445.4 834.1 L2448.3 834.1 L2451.2 834.1 L2454.2 834.1 L2457.1 834 L2460 834 L2463 834 L2465.9 834 L2468.8 834 L2471.8 833.9 L2474.7 833.9 L2477.6 833.9 L2480.6 833.9" fill="none" stroke="#ff0000" stroke-width="3.4" stroke-dasharray="0 6.6" stroke-linecap="round" stroke-linejoin="round"/><polygon points="1495.4,842.5 1508.6,855.7 1495.4,868.9 1482.2,855.7" fill="#fff" stroke="#ff0000" stroke-width="1.6"/><polygon points="1482.2,855.7 1508.6,855.7 1495.4,868.9" fill="#ff0000"/><polygon points="1565.7,834.3 1578.9,847.5 1565.7,860.7 1552.5,847.5" fill="#fff" stroke="#ff0000" stroke-width="1.6"/><polygon points="1552.5,847.5 1578.9,847.5 1565.7,860.7" fill="#ff0000"/><polygon points="1636.1,803.7 1649.3,816.9 1636.1,830.1 1622.9,816.9" fill="#fff" stroke="#ff0000" stroke-width="1.6"/><polygon points="1622.9,816.9 1649.3,816.9 1636.1,830.1" fill="#ff0000"/><polygon points="1706.5,561.9 1719.7,575.1 1706.5,588.3 1693.3,575.1" fill="#fff" stroke="#ff0000" stroke-width="1.6"/><polygon points="1693.3,575.1 1719.7,575.1 1706.5,588.3" fill="#ff0000"/><polygon points="1776.8,574.2 1790,587.4 1776.8,600.6 1763.6,587.4" fill="#fff" stroke="#ff0000" stroke-width="1.6"/><polygon points="1763.6,587.4 1790,587.4 1776.8,600.6" fill="#ff0000"/><polygon points="1847.2,686.5 1860.4,699.7 1847.2,712.9 1834,699.7" fill="#fff" stroke="#ff0000" stroke-width="1.6"/><polygon points="1834,699.7 1860.4,699.7 1847.2,712.9" fill="#ff0000"/><polygon points="1917.6,758.7 1930.8,771.9 1917.6,785.1 1904.4,771.9" fill="#fff" stroke="#ff0000" stroke-width="1.6"/><polygon points="1904.4,771.9 1930.8,771.9 1917.6,785.1" fill="#ff0000"/><polygon points="1988,788 2001.2,801.2 1988,814.4 1974.8,801.2" fill="#fff" stroke="#ff0000" stroke-width="1.6"/><polygon points="1974.8,801.2 2001.2,801.2 1988,814.4" fill="#ff0000"/><polygon points="2058.3,801.6 2071.5,814.8 2058.3,828 2045.1,814.8" fill="#fff" stroke="#ff0000" stroke-width="1.6"/><polygon points="2045.1,814.8 2071.5,814.8 2058.3,828" fill="#ff0000"/><polygon points="2128.7,811.2 2141.9,824.4 2128.7,837.6 2115.5,824.4" fill="#fff" stroke="#ff0000" stroke-width="1.6"/><polygon points="2115.5,824.4 2141.9,824.4 2128.7,837.6" fill="#ff0000"/><polygon points="2199.1,833 2212.3,846.2 2199.1,859.4 2185.9,846.2" fill="#fff" stroke="#ff0000" stroke-width="1.6"/><polygon points="2185.9,846.2 2212.3,846.2 2199.1,859.4" fill="#ff0000"/><polygon points="2269.4,818 2282.6,831.2 2269.4,844.4 2256.2,831.2" fill="#fff" stroke="#ff0000" stroke-width="1.6"/><polygon points="2256.2,831.2 2282.6,831.2 2269.4,844.4" fill="#ff0000"/><polygon points="2339.8,820.7 2353,833.9 2339.8,847.1 2326.6,833.9" fill="#fff" stroke="#ff0000" stroke-width="1.6"/><polygon points="2326.6,833.9 2353,833.9 2339.8,847.1" fill="#ff0000"/><polygon points="2410.2,821.4 2423.4,834.6 2410.2,847.8 2397,834.6" fill="#fff" stroke="#ff0000" stroke-width="1.6"/><polygon points="2397,834.6 2423.4,834.6 2410.2,847.8" fill="#ff0000"/><polygon points="2480.6,820.7 2493.8,833.9 2480.6,847.1 2467.4,833.9" fill="#fff" stroke="#ff0000" stroke-width="1.6"/><polygon points="2467.4,833.9 2493.8,833.9 2480.6,847.1" fill="#ff0000"/></g>
<g><path d="M1495.4 855.7 L1498.3 856.6 L1501.2 857.5 L1504.2 858.3 L1507.1 859.2 L1510 860 L1513 860.7 L1515.9 861.3 L1518.8 861.9 L1521.8 862.4 L1524.7 862.8 L1527.6 863.1 L1530.6 863.3 L1533.5 863.3 L1536.4 863.2 L1539.4 862.9 L1542.3 862.5 L1545.2 861.8 L1548.1 861 L1551.1 860 L1554 858.8 L1556.9 857.4 L1559.9 855.7 L1562.8 853.8 L1565.7 851.6 L1568.7 849.2 L1571.6 846.5 L1574.5 843.6 L1577.5 840.6 L1580.4 837.5 L1583.3 834.2 L1586.3 831 L1589.2 827.7 L1592.1 824.4 L1595.1 821.1 L1598 818 L1600.9 814.9 L1603.9 812.1 L1606.8 809.4 L1609.7 807 L1612.7 804.8 L1615.6 802.9 L1618.5 801.4 L1621.4 800.2 L1624.4 799.5 L1627.3 799.1 L1630.2 799.3 L1633.2 800 L1636.1 801.2 L1639 803 L1642 805.3 L1644.9 808.1 L1647.8 811.2 L1650.8 814.6 L1653.7 818.3 L1656.6 822.1 L1659.6 825.9 L1662.5 829.8 L1665.4 833.7 L1668.4 837.4 L1671.3 840.9 L1674.2 844.1 L1677.2 847 L1680.1 849.4 L1683 851.4 L1686 852.8 L1688.9 853.5 L1691.8 853.6 L1694.8 852.9 L1697.7 851.3 L1700.6 848.8 L1703.5 845.3 L1706.5 840.7 L1709.4 835 L1712.3 828.3 L1715.3 820.7 L1718.2 812.1 L1721.1 802.9 L1724.1 793 L1727 782.5 L1729.9 771.5 L1732.9 760.2 L1735.8 748.6 L1738.7 736.8 L1741.7 725 L1744.6 713.1 L1747.5 701.4 L1750.5 689.9 L1753.4 678.6 L1756.3 667.8 L1759.3 657.5 L1762.2 647.7 L1765.1 638.7 L1768.1 630.4 L1771 623 L1773.9 616.6 L1776.8 611.2 L1779.8 607 L1782.7 603.9 L1785.6 601.8 L1788.6 600.8 L1791.5 600.6 L1794.4 601.3 L1797.4 602.8 L1800.3 605 L1803.2 608 L1806.2 611.5 L1809.1 615.6 L1812 620.2 L1815 625.2 L1817.9 630.6 L1820.8 636.3 L1823.8 642.2 L1826.7 648.4 L1829.6 654.7 L1832.6 661 L1835.5 667.3 L1838.4 673.6 L1841.4 679.8 L1844.3 685.8 L1847.2 691.6 L1850.2 697 L1853.1 702.2 L1856 707.1 L1858.9 711.8 L1861.9 716.2 L1864.8 720.3 L1867.7 724.2 L1870.7 727.9 L1873.6 731.3 L1876.5 734.6 L1879.5 737.6 L1882.4 740.5 L1885.3 743.2 L1888.3 745.7 L1891.2 748.1 L1894.1 750.4 L1897.1 752.5 L1900 754.5 L1902.9 756.3 L1905.9 758.1 L1908.8 759.8 L1911.7 761.4 L1914.7 763 L1917.6 764.4 L1920.5 765.9 L1923.5 767.3 L1926.4 768.6 L1929.3 769.9 L1932.3 771.2 L1935.2 772.4 L1938.1 773.6 L1941 774.7 L1944 775.8 L1946.9 776.9 L1949.8 778 L1952.8 779 L1955.7 780 L1958.6 781 L1961.6 782 L1964.5 783 L1967.4 783.9 L1970.4 784.9 L1973.3 785.8 L1976.2 786.7 L1979.2 787.6 L1982.1 788.5 L1985 789.4 L1988 790.3 L1990.9 791.2 L1993.8 792.1 L1996.8 793 L1999.7 793.9 L2002.6 794.8 L2005.6 795.7 L2008.5 796.6 L2011.4 797.4 L2014.3 798.2 L2017.3 799 L2020.2 799.8 L2023.1 800.6 L2026.1 801.3 L2029 802 L2031.9 802.7 L2034.9 803.3 L2037.8 803.9 L2040.7 804.4 L2043.7 804.9 L2046.6 805.4 L2049.5 805.8 L2052.5 806.1 L2055.4 806.4 L2058.3 806.7 L2061.3 806.8 L2064.2 807 L2067.1 807 L2070.1 807.1 L2073 807.1 L2075.9 807.1 L2078.9 807.1 L2081.8 807.1 L2084.7 807.1 L2087.7 807.1 L2090.6 807.1 L2093.5 807.2 L2096.4 807.3 L2099.4 807.4 L2102.3 807.6 L2105.2 807.9 L2108.2 808.2 L2111.1 808.7 L2114 809.2 L2117 809.8 L2119.9 810.6 L2122.8 811.4 L2125.8 812.4 L2128.7 813.5 L2131.6 814.7 L2134.6 816.1 L2137.5 817.6 L2140.4 819.1 L2143.4 820.8 L2146.3 822.5 L2149.2 824.3 L2152.2 826.1 L2155.1 828 L2158 829.8 L2161 831.6 L2163.9 833.5 L2166.8 835.2 L2169.7 837 L2172.7 838.6 L2175.6 840.2 L2178.5 841.7 L2181.5 843.1 L2184.4 844.3 L2187.3 845.5 L2190.3 846.4 L2193.2 847.2 L2196.1 847.8 L2199.1 848.2 L2202 848.4 L2204.9 848.4 L2207.9 848.2 L2210.8 847.8 L2213.7 847.3 L2216.7 846.6 L2219.6 845.8 L2222.5 844.9 L2225.5 843.9 L2228.4 842.8 L2231.3 841.6 L2234.3 840.4 L2237.2 839.1 L2240.1 837.7 L2243.1 836.4 L2246 835 L2248.9 833.7 L2251.8 832.4 L2254.8 831.1 L2257.7 829.9 L2260.6 828.7 L2263.6 827.6 L2266.5 826.6 L2269.4 825.7 L2272.4 825 L2275.3 824.3 L2278.2 823.8 L2281.2 823.3 L2284.1 822.9 L2287 822.7 L2290 822.5 L2292.9 822.4 L2295.8 822.4 L2298.8 822.4 L2301.7 822.5 L2304.6 822.6 L2307.6 822.8 L2310.5 823 L2313.4 823.2 L2316.4 823.5 L2319.3 823.8 L2322.2 824.1 L2325.1 824.4 L2328.1 824.7 L2331 825 L2333.9 825.2 L2336.9 825.5 L2339.8 825.7 L2342.7 825.9 L2345.7 826.1 L2348.6 826.2 L2351.5 826.4 L2354.5 826.4 L2357.4 826.5 L2360.3 826.5 L2363.3 826.6 L2366.2 826.6 L2369.1 826.6 L2372.1 826.5 L2375 826.5 L2377.9 826.4 L2380.9 826.4 L2383.8 826.3 L2386.7 826.3 L2389.7 826.2 L2392.6 826.1 L2395.5 826 L2398.5 826 L2401.4 825.9 L2404.3 825.8 L2407.2 825.8 L2410.2 825.7 L2413.1 825.7 L2416 825.7 L2419 825.7 L2421.9 825.7 L2424.8 825.7 L2427.8 825.7 L2430.7 825.7 L2433.6 825.8 L2436.6 825.8 L2439.5 825.9 L2442.4 825.9 L2445.4 826 L2448.3 826.1 L2451.2 826.1 L2454.2 826.2 L2457.1 826.3 L2460 826.4 L2463 826.5 L2465.9 826.6 L2468.8 826.7 L2471.8 826.8 L2474.7 826.9 L2477.6 827 L2480.6 827.1" fill="none" stroke="#0000ff" stroke-width="3.4" stroke-dasharray="0 6.6" stroke-linecap="round" stroke-linejoin="round"/><polygon points="1495.4,843.5 1498.9,851.9 1507.9,852.6 1501,858.5 1503.1,867.4 1495.4,862.6 1487.6,867.4 1489.7,858.5 1482.8,852.6 1491.9,851.9" fill="#0000ff"/><polygon points="1565.7,839.4 1569.2,847.8 1578.3,848.5 1571.4,854.4 1573.5,863.3 1565.7,858.5 1558,863.3 1560.1,854.4 1553.2,848.5 1562.2,847.8" fill="#0000ff"/><polygon points="1636.1,789 1639.6,797.4 1648.7,798.1 1641.8,804.1 1643.9,812.9 1636.1,808.2 1628.4,812.9 1630.5,804.1 1623.6,798.1 1632.6,797.4" fill="#0000ff"/><polygon points="1706.5,828.5 1710,836.9 1719,837.6 1712.1,843.5 1714.2,852.4 1706.5,847.7 1698.7,852.4 1700.8,843.5 1693.9,837.6 1703,836.9" fill="#0000ff"/><polygon points="1776.8,599 1780.3,607.4 1789.4,608.1 1782.5,614.1 1784.6,622.9 1776.8,618.2 1769.1,622.9 1771.2,614.1 1764.3,608.1 1773.4,607.4" fill="#0000ff"/><polygon points="1847.2,679.4 1850.7,687.8 1859.8,688.5 1852.9,694.4 1855,703.3 1847.2,698.5 1839.5,703.3 1841.6,694.4 1834.7,688.5 1843.7,687.8" fill="#0000ff"/><polygon points="1917.6,752.2 1921.1,760.6 1930.1,761.4 1923.2,767.3 1925.3,776.1 1917.6,771.4 1909.8,776.1 1911.9,767.3 1905,761.4 1914.1,760.6" fill="#0000ff"/><polygon points="1988,778.1 1991.5,786.5 2000.5,787.2 1993.6,793.2 1995.7,802 1988,797.3 1980.2,802 1982.3,793.2 1975.4,787.2 1984.5,786.5" fill="#0000ff"/><polygon points="2058.3,794.5 2061.8,802.9 2070.9,803.6 2064,809.5 2066.1,818.3 2058.3,813.6 2050.6,818.3 2052.7,809.5 2045.8,803.6 2054.8,802.9" fill="#0000ff"/><polygon points="2128.7,801.3 2132.2,809.7 2141.3,810.4 2134.3,816.3 2136.5,825.2 2128.7,820.4 2120.9,825.2 2123.1,816.3 2116.1,810.4 2125.2,809.7" fill="#0000ff"/><polygon points="2199.1,836 2202.6,844.4 2211.6,845.1 2204.7,851 2206.8,859.9 2199.1,855.1 2191.3,859.9 2193.4,851 2186.5,845.1 2195.6,844.4" fill="#0000ff"/><polygon points="2269.4,813.5 2272.9,821.9 2282,822.7 2275.1,828.6 2277.2,837.4 2269.4,832.7 2261.7,837.4 2263.8,828.6 2256.9,822.7 2265.9,821.9" fill="#0000ff"/><polygon points="2339.8,813.5 2343.3,821.9 2352.4,822.7 2345.5,828.6 2347.6,837.4 2339.8,832.7 2332.1,837.4 2334.2,828.6 2327.3,822.7 2336.3,821.9" fill="#0000ff"/><polygon points="2410.2,813.5 2413.7,821.9 2422.7,822.7 2415.8,828.6 2417.9,837.4 2410.2,832.7 2402.4,837.4 2404.5,828.6 2397.6,822.7 2406.7,821.9" fill="#0000ff"/><polygon points="2480.6,814.9 2484,823.3 2493.1,824 2486.2,829.9 2488.3,838.8 2480.6,834 2472.8,838.8 2474.9,829.9 2468,824 2477.1,823.3" fill="#0000ff"/></g>
</g>
<g transform="translate(2106.6,168.9) scale(0.18640)">
<rect x="130" y="32" width="1878" height="1330" fill="#fff"/>
<polygon points="190,440 330,420 450,1090 210,1040" fill="#a09c98" opacity="0.32" filter="url(#blur)"/>
<polygon points="290,130 1355,100 1950,970 1925,1245 445,1305" fill="url(#water)"/>
<polygon points="632,110 780,545 778,865 632,420" fill="#f0957a"/>
<polygon points="632,110 1155,97 1408,520 780,545" fill="#f2916f" stroke="#111" stroke-width="6" stroke-linejoin="round"/>
<polygon points="780,545 1408,520 1385,845 778,865" fill="#f2916f" stroke="#111" stroke-width="5" stroke-linejoin="round"/>
<polygon points="632,290 778,740 1392,722 1385,845 778,865 632,420" fill="#c3d3cd"/>
<polygon points="880,640 1298,625 1292,752 880,768" fill="#c6d6d0" stroke="#111" stroke-width="5"/>
<polygon points="1240,632 1298,627 1296,722" fill="#f2916f"/>
<path d="M880,722 L880,768 L1292,752 L1294,722" fill="none" stroke="#3cc" stroke-width="4"/>
<path d="M778,740 L778,865 L1385,845 L1392,722" fill="none" stroke="#5cc" stroke-width="4"/>
<path d="M632,110 L780,545 L778,740" fill="none" stroke="#111" stroke-width="5"/>
<path d="M398,283 C500,280 590,300 615,375 L648,590 C655,640 615,690 575,690 C510,690 458,662 452,622 L398,330 Z" fill="#ffff26" stroke="#111" stroke-width="5"/>
<path d="M452,620 L648,612 C655,650 615,690 575,690 C510,690 458,662 452,622 Z" fill="#cdeab5" stroke="#3aa" stroke-width="3"/>
<path d="M445,505 C560,500 630,540 648,595" fill="none" stroke="#111" stroke-width="5"/>
<path d="M586,367 L660,367" stroke="#45458a" stroke-width="27" stroke-linecap="round"/>
<path d="M566,621 L736,611" stroke="#45458a" stroke-width="27" stroke-linecap="round"/>
<path d="M775,872 C740,990 680,1050 590,1092" fill="none" stroke="#a8a8a8" stroke-width="5"/>
<path d="M1388,852 C1430,960 1500,1030 1630,1052" fill="none" stroke="#a8a8a8" stroke-width="5"/>
</g>
<rect x="1425" y="7.9" width="1050.8" height="176.2" fill="#fff" stroke="#222" stroke-width="1.6"/>
<path d="M1431.5 37.5H1510.5" stroke="#000000" stroke-width="3" fill="none" stroke-linecap="round"/>
<rect x="1461" y="27.5" width="19.9" height="19.9" fill="#000000"/>
<text transform="translate(1523,49.8) scale(1,1.04)" font-family="'Liberation Sans', Arial, sans-serif" font-size="36">B<tspan dy="8" font-size="25">k</tspan><tspan dy="-8">/h = 0.1 - </tspan><tspan font-family="'Liberation Serif', 'Times New Roman', serif">ξ</tspan><tspan dy="8" font-size="24" font-family="'Liberation Serif', 'Times New Roman', serif">33</tspan></text>
<path d="M1432.5 94.6H1446.5M1495.5 94.6H1509.5" stroke="#000000" stroke-width="3.2" fill="none" stroke-linecap="round"/>
<rect x="1461.9" y="85.5" width="18.2" height="18.2" fill="#fff" stroke="#000000" stroke-width="1.6"/>
<text transform="translate(1523,106.9) scale(1,1.04)" font-family="'Liberation Sans', Arial, sans-serif" font-size="36">B<tspan dy="8" font-size="25">k</tspan><tspan dy="-8">/h = 0.1 - </tspan><tspan font-family="'Liberation Serif', 'Times New Roman', serif">ξ</tspan><tspan dy="8" font-size="24" font-family="'Liberation Serif', 'Times New Roman', serif">44</tspan></text>
<path d="M1433 151.9h0M1439.6 151.9h0M1446.2 151.9h0M1452.8 151.9h0M1459.4 151.9h0M1485.8 151.9h0M1492.4 151.9h0M1499 151.9h0M1505.6 151.9h0" stroke="#000000" stroke-width="3.4" fill="none" stroke-linecap="round"/>
<polygon points="1459.8,151.9 1482.2,139.4 1482.2,164.4" fill="#000000"/>
<text transform="translate(1523,164.2) scale(1,1.04)" font-family="'Liberation Sans', Arial, sans-serif" font-size="36">B<tspan dy="8" font-size="25">k</tspan><tspan dy="-8">/h = 0.1 - </tspan><tspan font-family="'Liberation Serif', 'Times New Roman', serif">ξ</tspan><tspan dy="8" font-size="24" font-family="'Liberation Serif', 'Times New Roman', serif">55</tspan></text>
<path d="M1784.7 37.5H1863.7" stroke="#ff0000" stroke-width="3" fill="none" stroke-linecap="round"/>
<circle cx="1824.2" cy="37.5" r="10.5" fill="#ff0000"/>
<text transform="translate(1877,49.8) scale(1,1.04)" font-family="'Liberation Sans', Arial, sans-serif" font-size="36">B<tspan dy="8" font-size="25">k</tspan><tspan dy="-8">/h = 0.2 - </tspan><tspan font-family="'Liberation Serif', 'Times New Roman', serif">ξ</tspan><tspan dy="8" font-size="24" font-family="'Liberation Serif', 'Times New Roman', serif">33</tspan></text>
<path d="M1785.7 94.6H1799.7M1848.7 94.6H1862.7" stroke="#ff0000" stroke-width="3.2" fill="none" stroke-linecap="round"/>
<circle cx="1824.2" cy="94.6" r="9.5" fill="#fff" stroke="#ff0000" stroke-width="1.6"/>
<text transform="translate(1877,106.9) scale(1,1.04)" font-family="'Liberation Sans', Arial, sans-serif" font-size="36">B<tspan dy="8" font-size="25">k</tspan><tspan dy="-8">/h = 0.2 - </tspan><tspan font-family="'Liberation Serif', 'Times New Roman', serif">ξ</tspan><tspan dy="8" font-size="24" font-family="'Liberation Serif', 'Times New Roman', serif">44</tspan></text>
<path d="M1786.2 151.9h0M1792.8 151.9h0M1799.4 151.9h0M1806 151.9h0M1812.6 151.9h0M1839 151.9h0M1845.6 151.9h0M1852.2 151.9h0M1858.8 151.9h0" stroke="#ff0000" stroke-width="3.4" fill="none" stroke-linecap="round"/>
<polygon points="1824.2,139.4 1836.7,151.9 1824.2,164.4 1811.7,151.9" fill="#fff" stroke="#ff0000" stroke-width="1.6"/><polygon points="1811.7,151.9 1836.7,151.9 1824.2,164.4" fill="#ff0000"/>
<text transform="translate(1877,164.2) scale(1,1.04)" font-family="'Liberation Sans', Arial, sans-serif" font-size="36">B<tspan dy="8" font-size="25">k</tspan><tspan dy="-8">/h = 0.2 - </tspan><tspan font-family="'Liberation Serif', 'Times New Roman', serif">ξ</tspan><tspan dy="8" font-size="24" font-family="'Liberation Serif', 'Times New Roman', serif">55</tspan></text>
<path d="M2139 37.5H2218" stroke="#0000ff" stroke-width="3" fill="none" stroke-linecap="round"/>
<polygon points="2178.5,26.3 2191.5,48.7 2165.5,48.7" fill="#0000ff"/>
<text transform="translate(2230.6,49.8) scale(1,1.04)" font-family="'Liberation Sans', Arial, sans-serif" font-size="36">B<tspan dy="8" font-size="25">k</tspan><tspan dy="-8">/h = 0.3 - </tspan><tspan font-family="'Liberation Serif', 'Times New Roman', serif">ξ</tspan><tspan dy="8" font-size="24" font-family="'Liberation Serif', 'Times New Roman', serif">33</tspan></text>
<path d="M2140 94.6H2154M2203 94.6H2217" stroke="#0000ff" stroke-width="3.2" fill="none" stroke-linecap="round"/>
<polygon points="2178.5,83.4 2191.5,105.8 2165.5,105.8" fill="#fff" stroke="#0000ff" stroke-width="1.6"/>
<text transform="translate(2230.6,106.9) scale(1,1.04)" font-family="'Liberation Sans', Arial, sans-serif" font-size="36">B<tspan dy="8" font-size="25">k</tspan><tspan dy="-8">/h = 0.3 - </tspan><tspan font-family="'Liberation Serif', 'Times New Roman', serif">ξ</tspan><tspan dy="8" font-size="24" font-family="'Liberation Serif', 'Times New Roman', serif">44</tspan></text>
<path d="M2140.5 151.9h0M2147.1 151.9h0M2153.7 151.9h0M2160.3 151.9h0M2166.9 151.9h0M2193.3 151.9h0M2199.9 151.9h0M2206.5 151.9h0M2213.1 151.9h0" stroke="#0000ff" stroke-width="3.4" fill="none" stroke-linecap="round"/>
<polygon points="2178.5,140.3 2181.8,148.3 2190.4,149 2183.9,154.6 2185.9,163 2178.5,158.5 2171.1,163 2173.1,154.6 2166.6,149 2175.2,148.3" fill="#0000ff"/>
<text transform="translate(2230.6,164.2) scale(1,1.04)" font-family="'Liberation Sans', Arial, sans-serif" font-size="36">B<tspan dy="8" font-size="25">k</tspan><tspan dy="-8">/h = 0.3 - </tspan><tspan font-family="'Liberation Serif', 'Times New Roman', serif">ξ</tspan><tspan dy="8" font-size="24" font-family="'Liberation Serif', 'Times New Roman', serif">55</tspan></text>
<path d="M1425 859.1v8M1495.4 859.1v15.5M1565.7 859.1v8M1636.1 859.1v15.5M1706.5 859.1v8M1776.8 859.1v15.5M1847.2 859.1v8M1917.6 859.1v15.5M1988 859.1v8M2058.3 859.1v15.5M2128.7 859.1v8M2199.1 859.1v15.5M2269.4 859.1v8M2339.8 859.1v15.5M2410.2 859.1v8M2480.6 859.1v15.5M1425 859.1h-16.8M1425 791h-8.4M1425 722.9h-16.8M1425 654.8h-8.4M1425 586.7h-16.8M1425 518.6h-8.4M1425 450.5h-16.8M1425 382.4h-8.4M1425 314.3h-16.8M1425 246.2h-8.4M1425 178.1h-16.8M1425 110h-8.4M1425 41.9h-16.8" stroke="#000" stroke-width="3" fill="none"/>
<rect x="1425" y="7.9" width="1055.6" height="851.2" fill="none" stroke="#000" stroke-width="3"/>
<g font-family="'Liberation Sans', Arial, sans-serif" font-size="35.2" fill="#000"><text transform="translate(1495.4,915.2) scale(1,1.045)" text-anchor="middle">1</text><text transform="translate(1636.1,915.2) scale(1,1.045)" text-anchor="middle">3</text><text transform="translate(1776.8,915.2) scale(1,1.045)" text-anchor="middle">5</text><text transform="translate(1917.6,915.2) scale(1,1.045)" text-anchor="middle">7</text><text transform="translate(2058.3,915.2) scale(1,1.045)" text-anchor="middle">9</text><text transform="translate(2199.1,915.2) scale(1,1.045)" text-anchor="middle">11</text><text transform="translate(2339.8,915.2) scale(1,1.045)" text-anchor="middle">13</text><text transform="translate(2480.6,915.2) scale(1,1.045)" text-anchor="middle">15</text><text transform="translate(1396,869.5) scale(1,1.045)" text-anchor="end">0.0</text><text transform="translate(1396,733.3) scale(1,1.045)" text-anchor="end">0.2</text><text transform="translate(1396,597.1) scale(1,1.045)" text-anchor="end">0.4</text><text transform="translate(1396,460.9) scale(1,1.045)" text-anchor="end">0.6</text><text transform="translate(1396,324.7) scale(1,1.045)" text-anchor="end">0.8</text><text transform="translate(1396,188.5) scale(1,1.045)" text-anchor="end">1.0</text><text transform="translate(1396,52.3) scale(1,1.045)" text-anchor="end">1.2</text></g>
<text transform="translate(1952.8,967.8) scale(1,1.04)" text-anchor="middle" font-family="'Liberation Sans', Arial, sans-serif" font-size="36.8">Time Period (<tspan font-style="italic">s</tspan>)</text>
<text transform="translate(1319.5,433.5) rotate(-90) scale(1,1.04)" text-anchor="middle" font-family="'Liberation Sans', Arial, sans-serif" font-size="36.6">Capture width ratio (<tspan font-style="italic">CWR</tspan>)</text>
<path d="M203.6 1143.9V1994.7M344.3 1143.9V1994.7M485.1 1143.9V1994.7M625.8 1143.9V1994.7M766.5 1143.9V1994.7M907.3 1143.9V1994.7M1048 1143.9V1994.7M133.2 1852.9H1188.8M133.2 1711.1H1188.8M133.2 1569.3H1188.8M133.2 1427.5H1188.8M133.2 1285.7H1188.8" stroke="#b2b7b4" stroke-width="1.45" stroke-dasharray="5.2 5.2" fill="none"/>
<g clip-path="url(#clipb)">
<g><path d="M203.6 1994.7 L206.5 1996.5 L209.4 1998.3 L212.4 2000 L215.3 2001.6 L218.2 2003.1 L221.2 2004.5 L224.1 2005.7 L227 2006.8 L230 2007.5 L232.9 2008.1 L235.8 2008.3 L238.8 2008.3 L241.7 2007.9 L244.6 2007.2 L247.6 2006 L250.5 2004.4 L253.4 2002.4 L256.3 1999.9 L259.3 1997 L262.2 1993.4 L265.1 1989.3 L268.1 1984.7 L271 1979.4 L273.9 1973.4 L276.9 1966.8 L279.8 1959.6 L282.7 1951.8 L285.7 1943.4 L288.6 1934.4 L291.5 1925 L294.5 1915.2 L297.4 1904.9 L300.3 1894.3 L303.3 1883.3 L306.2 1872 L309.1 1860.5 L312.1 1848.8 L315 1836.8 L317.9 1824.7 L320.9 1812.5 L323.8 1800.2 L326.7 1787.9 L329.6 1775.6 L332.6 1763.3 L335.5 1751.1 L338.4 1739 L341.4 1727.1 L344.3 1715.4 L347.2 1703.8 L350.2 1692.5 L353.1 1681.5 L356 1670.6 L359 1660 L361.9 1649.7 L364.8 1639.6 L367.8 1629.7 L370.7 1620.2 L373.6 1610.8 L376.6 1601.8 L379.5 1593 L382.4 1584.4 L385.4 1576.2 L388.3 1568.2 L391.2 1560.5 L394.2 1553.1 L397.1 1546 L400 1539.2 L403 1532.7 L405.9 1526.5 L408.8 1520.6 L411.7 1515 L414.7 1509.7 L417.6 1504.8 L420.5 1500.1 L423.5 1495.7 L426.4 1491.6 L429.3 1487.7 L432.3 1484 L435.2 1480.6 L438.1 1477.2 L441.1 1474.1 L444 1471 L446.9 1468.1 L449.9 1465.3 L452.8 1462.5 L455.7 1459.8 L458.7 1457.1 L461.6 1454.4 L464.5 1451.6 L467.5 1448.9 L470.4 1446.1 L473.3 1443.2 L476.3 1440.2 L479.2 1437 L482.1 1433.8 L485.1 1430.3 L488 1426.7 L490.9 1423 L493.8 1419.1 L496.8 1415.1 L499.7 1411.1 L502.6 1407.1 L505.6 1403.1 L508.5 1399.1 L511.4 1395.3 L514.4 1391.6 L517.3 1388 L520.2 1384.6 L523.2 1381.5 L526.1 1378.6 L529 1376.1 L532 1373.8 L534.9 1372 L537.8 1370.5 L540.8 1369.5 L543.7 1368.9 L546.6 1368.9 L549.6 1369.4 L552.5 1370.5 L555.4 1372.2 L558.4 1374.5 L561.3 1377.5 L564.2 1381 L567.1 1385 L570.1 1389.5 L573 1394.4 L575.9 1399.7 L578.9 1405.4 L581.8 1411.4 L584.7 1417.6 L587.7 1424.1 L590.6 1430.7 L593.5 1437.5 L596.5 1444.3 L599.4 1451.2 L602.3 1458.1 L605.3 1465 L608.2 1471.8 L611.1 1478.4 L614.1 1484.9 L617 1491.2 L619.9 1497.2 L622.9 1502.9 L625.8 1508.3 L628.7 1513.3 L631.7 1518 L634.6 1522.3 L637.5 1526.3 L640.5 1530 L643.4 1533.4 L646.3 1536.6 L649.2 1539.5 L652.2 1542.2 L655.1 1544.7 L658 1547 L661 1549.2 L663.9 1551.3 L666.8 1553.2 L669.8 1555 L672.7 1556.8 L675.6 1558.5 L678.6 1560.2 L681.5 1561.8 L684.4 1563.5 L687.4 1565.2 L690.3 1567 L693.2 1568.8 L696.2 1570.7 L699.1 1572.7 L702 1574.9 L705 1577.1 L707.9 1579.3 L710.8 1581.6 L713.8 1584 L716.7 1586.3 L719.6 1588.7 L722.5 1591 L725.5 1593.3 L728.4 1595.5 L731.3 1597.7 L734.3 1599.7 L737.2 1601.7 L740.1 1603.5 L743.1 1605.2 L746 1606.8 L748.9 1608.2 L751.9 1609.3 L754.8 1610.3 L757.7 1611.1 L760.7 1611.6 L763.6 1611.9 L766.5 1611.8 L769.5 1611.5 L772.4 1611 L775.3 1610.3 L778.3 1609.4 L781.2 1608.5 L784.1 1607.5 L787.1 1606.6 L790 1605.7 L792.9 1604.9 L795.9 1604.3 L798.8 1604 L801.7 1603.9 L804.6 1604.1 L807.6 1604.7 L810.5 1605.8 L813.4 1607.3 L816.4 1609.4 L819.3 1612 L822.2 1615.3 L825.2 1619.3 L828.1 1624 L831 1629.5 L834 1635.8 L836.9 1643 L839.8 1651.2 L842.8 1660.2 L845.7 1669.9 L848.6 1680.3 L851.6 1691.2 L854.5 1702.5 L857.4 1714.2 L860.4 1726 L863.3 1738 L866.2 1750 L869.2 1762 L872.1 1773.7 L875 1785.1 L877.9 1796.2 L880.9 1806.7 L883.8 1816.7 L886.7 1825.9 L889.7 1834.3 L892.6 1841.8 L895.5 1848.3 L898.5 1853.7 L901.4 1857.9 L904.3 1860.7 L907.3 1862.1 L910.2 1862 L913.1 1860.5 L916.1 1857.7 L919 1853.6 L921.9 1848.4 L924.9 1842.2 L927.8 1835 L930.7 1827.1 L933.7 1818.4 L936.6 1809.1 L939.5 1799.3 L942.5 1789.1 L945.4 1778.6 L948.3 1767.9 L951.3 1757.1 L954.2 1746.3 L957.1 1735.6 L960 1725.1 L963 1714.9 L965.9 1705.1 L968.8 1695.8 L971.8 1687.2 L974.7 1679.2 L977.6 1672.1 L980.6 1665.9 L983.5 1660.5 L986.4 1656 L989.4 1652.2 L992.3 1649.2 L995.2 1646.8 L998.2 1645.1 L1001.1 1643.9 L1004 1643.3 L1007 1643.2 L1009.9 1643.5 L1012.8 1644.2 L1015.8 1645.3 L1018.7 1646.6 L1021.6 1648.2 L1024.6 1650 L1027.5 1651.9 L1030.4 1654 L1033.3 1656.1 L1036.3 1658.2 L1039.2 1660.3 L1042.1 1662.2 L1045.1 1664.1 L1048 1665.7 L1050.9 1667.2 L1053.9 1668.4 L1056.8 1669.4 L1059.7 1670.2 L1062.7 1670.8 L1065.6 1671.2 L1068.5 1671.5 L1071.5 1671.7 L1074.4 1671.7 L1077.3 1671.6 L1080.3 1671.4 L1083.2 1671 L1086.1 1670.7 L1089.1 1670.2 L1092 1669.7 L1094.9 1669.1 L1097.9 1668.5 L1100.8 1667.8 L1103.7 1667.2 L1106.7 1666.6 L1109.6 1665.9 L1112.5 1665.4 L1115.4 1664.8 L1118.4 1664.3 L1121.3 1663.9 L1124.2 1663.5 L1127.2 1663.2 L1130.1 1662.9 L1133 1662.7 L1136 1662.6 L1138.9 1662.5 L1141.8 1662.4 L1144.8 1662.4 L1147.7 1662.5 L1150.6 1662.5 L1153.6 1662.6 L1156.5 1662.8 L1159.4 1663 L1162.4 1663.2 L1165.3 1663.4 L1168.2 1663.6 L1171.2 1663.9 L1174.1 1664.2 L1177 1664.5 L1180 1664.8 L1182.9 1665.1 L1185.8 1665.4 L1188.8 1665.7" fill="none" stroke="#000000" stroke-width="3" stroke-linejoin="round"/><rect x="193.1" y="1984.2" width="21" height="21" fill="#000000"/><rect x="263.4" y="1962.9" width="21" height="21" fill="#000000"/><rect x="333.8" y="1704.9" width="21" height="21" fill="#000000"/><rect x="404.2" y="1499.2" width="21" height="21" fill="#000000"/><rect x="474.6" y="1419.8" width="21" height="21" fill="#000000"/><rect x="544.9" y="1361.7" width="21" height="21" fill="#000000"/><rect x="615.3" y="1497.8" width="21" height="21" fill="#000000"/><rect x="685.7" y="1560.2" width="21" height="21" fill="#000000"/><rect x="756" y="1601.3" width="21" height="21" fill="#000000"/><rect x="826.4" y="1632.5" width="21" height="21" fill="#000000"/><rect x="896.8" y="1851.6" width="21" height="21" fill="#000000"/><rect x="967.1" y="1661.6" width="21" height="21" fill="#000000"/><rect x="1037.5" y="1655.2" width="21" height="21" fill="#000000"/><rect x="1107.9" y="1653.8" width="21" height="21" fill="#000000"/><rect x="1178.3" y="1655.2" width="21" height="21" fill="#000000"/></g>
<g><path d="M203.6 1994.7 L206.5 1999.3 L209.4 2003.9 L212.4 2008.4 L215.3 2012.6 L218.2 2016.7 L221.2 2020.5 L224.1 2024 L227 2027.1 L230 2029.7 L232.9 2031.9 L235.8 2033.5 L238.8 2034.5 L241.7 2034.9 L244.6 2034.5 L247.6 2033.4 L250.5 2031.5 L253.4 2028.7 L256.3 2024.9 L259.3 2020.2 L262.2 2014.4 L265.1 2007.5 L268.1 1999.5 L271 1990.3 L273.9 1979.8 L276.9 1968.1 L279.8 1955.1 L282.7 1941.2 L285.7 1926.5 L288.6 1911.1 L291.5 1895.2 L294.5 1878.9 L297.4 1862.4 L300.3 1845.9 L303.3 1829.5 L306.2 1813.4 L309.1 1797.7 L312.1 1782.7 L315 1768.4 L317.9 1755 L320.9 1742.7 L323.8 1731.7 L326.7 1722 L329.6 1714 L332.6 1707.6 L335.5 1703.1 L338.4 1700.7 L341.4 1700.5 L344.3 1702.6 L347.2 1707.2 L350.2 1714.1 L353.1 1723 L356 1733.8 L359 1746.2 L361.9 1760 L364.8 1774.9 L367.8 1790.8 L370.7 1807.4 L373.6 1824.4 L376.6 1841.7 L379.5 1859.1 L382.4 1876.2 L385.4 1892.9 L388.3 1908.9 L391.2 1924.1 L394.2 1938.1 L397.1 1950.8 L400 1962 L403 1971.3 L405.9 1978.6 L408.8 1983.7 L411.7 1986.3 L414.7 1986.2 L417.6 1983.2 L420.5 1977.5 L423.5 1969.3 L426.4 1958.7 L429.3 1945.9 L432.3 1931.2 L435.2 1914.7 L438.1 1896.6 L441.1 1877.1 L444 1856.4 L446.9 1834.7 L449.9 1812.1 L452.8 1789 L455.7 1765.4 L458.7 1741.5 L461.6 1717.6 L464.5 1693.8 L467.5 1670.4 L470.4 1647.5 L473.3 1625.3 L476.3 1603.9 L479.2 1583.7 L482.1 1564.8 L485.1 1547.3 L488 1531.5 L490.9 1517.3 L493.8 1504.6 L496.8 1493.3 L499.7 1483.5 L502.6 1475 L505.6 1467.8 L508.5 1461.8 L511.4 1457 L514.4 1453.2 L517.3 1450.5 L520.2 1448.7 L523.2 1447.7 L526.1 1447.6 L529 1448.3 L532 1449.6 L534.9 1451.6 L537.8 1454.1 L540.8 1457.1 L543.7 1460.5 L546.6 1464.3 L549.6 1468.3 L552.5 1472.7 L555.4 1477.1 L558.4 1481.7 L561.3 1486.4 L564.2 1491.1 L567.1 1495.9 L570.1 1500.8 L573 1505.7 L575.9 1510.6 L578.9 1515.5 L581.8 1520.5 L584.7 1525.4 L587.7 1530.3 L590.6 1535.2 L593.5 1540 L596.5 1544.8 L599.4 1549.5 L602.3 1554.2 L605.3 1558.7 L608.2 1563.2 L611.1 1567.5 L614.1 1571.7 L617 1575.8 L619.9 1579.7 L622.9 1583.4 L625.8 1587 L628.7 1590.4 L631.7 1593.7 L634.6 1596.7 L637.5 1599.6 L640.5 1602.4 L643.4 1605 L646.3 1607.5 L649.2 1609.9 L652.2 1612.2 L655.1 1614.4 L658 1616.4 L661 1618.5 L663.9 1620.4 L666.8 1622.3 L669.8 1624.1 L672.7 1626 L675.6 1627.7 L678.6 1629.5 L681.5 1631.2 L684.4 1633 L687.4 1634.8 L690.3 1636.5 L693.2 1638.3 L696.2 1640.2 L699.1 1642.1 L702 1644 L705 1646 L707.9 1648 L710.8 1650 L713.8 1651.9 L716.7 1653.9 L719.6 1655.8 L722.5 1657.7 L725.5 1659.5 L728.4 1661.2 L731.3 1662.9 L734.3 1664.4 L737.2 1665.9 L740.1 1667.2 L743.1 1668.5 L746 1669.5 L748.9 1670.5 L751.9 1671.2 L754.8 1671.8 L757.7 1672.2 L760.7 1672.4 L763.6 1672.4 L766.5 1672.1 L769.5 1671.6 L772.4 1671 L775.3 1670.1 L778.3 1669.2 L781.2 1668.2 L784.1 1667.3 L787.1 1666.3 L790 1665.4 L792.9 1664.6 L795.9 1664 L798.8 1663.6 L801.7 1663.4 L804.6 1663.5 L807.6 1664 L810.5 1664.9 L813.4 1666.1 L816.4 1667.9 L819.3 1670.1 L822.2 1672.9 L825.2 1676.4 L828.1 1680.4 L831 1685.2 L834 1690.7 L836.9 1696.9 L839.8 1704 L842.8 1711.8 L845.7 1720.2 L848.6 1729.2 L851.6 1738.7 L854.5 1748.5 L857.4 1758.6 L860.4 1768.9 L863.3 1779.3 L866.2 1789.8 L869.2 1800.1 L872.1 1810.3 L875 1820.2 L877.9 1829.8 L880.9 1839 L883.8 1847.6 L886.7 1855.6 L889.7 1862.9 L892.6 1869.4 L895.5 1875 L898.5 1879.7 L901.4 1883.3 L904.3 1885.7 L907.3 1886.9 L910.2 1886.8 L913.1 1885.5 L916.1 1883 L919 1879.4 L921.9 1874.9 L924.9 1869.4 L927.8 1863.2 L930.7 1856.2 L933.7 1848.7 L936.6 1840.6 L939.5 1832 L942.5 1823.1 L945.4 1814 L948.3 1804.6 L951.3 1795.2 L954.2 1785.8 L957.1 1776.4 L960 1767.3 L963 1758.4 L965.9 1749.8 L968.8 1741.7 L971.8 1734.2 L974.7 1727.3 L977.6 1721 L980.6 1715.6 L983.5 1710.9 L986.4 1706.9 L989.4 1703.6 L992.3 1701 L995.2 1698.9 L998.2 1697.4 L1001.1 1696.4 L1004 1695.8 L1007 1695.7 L1009.9 1696 L1012.8 1696.6 L1015.8 1697.5 L1018.7 1698.7 L1021.6 1700 L1024.6 1701.6 L1027.5 1703.3 L1030.4 1705.1 L1033.3 1706.9 L1036.3 1708.7 L1039.2 1710.5 L1042.1 1712.3 L1045.1 1713.9 L1048 1715.4 L1050.9 1716.6 L1053.9 1717.7 L1056.8 1718.6 L1059.7 1719.3 L1062.7 1719.9 L1065.6 1720.3 L1068.5 1720.6 L1071.5 1720.8 L1074.4 1720.8 L1077.3 1720.7 L1080.3 1720.6 L1083.2 1720.3 L1086.1 1720 L1089.1 1719.6 L1092 1719.2 L1094.9 1718.7 L1097.9 1718.2 L1100.8 1717.7 L1103.7 1717.2 L1106.7 1716.6 L1109.6 1716.1 L1112.5 1715.6 L1115.4 1715.1 L1118.4 1714.6 L1121.3 1714.3 L1124.2 1713.9 L1127.2 1713.6 L1130.1 1713.4 L1133 1713.2 L1136 1713 L1138.9 1712.9 L1141.8 1712.8 L1144.8 1712.7 L1147.7 1712.7 L1150.6 1712.7 L1153.6 1712.8 L1156.5 1712.8 L1159.4 1712.9 L1162.4 1713 L1165.3 1713.2 L1168.2 1713.3 L1171.2 1713.5 L1174.1 1713.7 L1177 1713.8 L1180 1714 L1182.9 1714.2 L1185.8 1714.4 L1188.8 1714.6" fill="none" stroke="#ff0000" stroke-width="3" stroke-linejoin="round"/><circle cx="203.6" cy="1994.7" r="11.1" fill="#ff0000"/><circle cx="273.9" cy="1979.8" r="11.1" fill="#ff0000"/><circle cx="344.3" cy="1702.6" r="11.1" fill="#ff0000"/><circle cx="414.7" cy="1986.2" r="11.1" fill="#ff0000"/><circle cx="485.1" cy="1547.3" r="11.1" fill="#ff0000"/><circle cx="555.4" cy="1477.1" r="11.1" fill="#ff0000"/><circle cx="625.8" cy="1587" r="11.1" fill="#ff0000"/><circle cx="696.2" cy="1640.2" r="11.1" fill="#ff0000"/><circle cx="766.5" cy="1672.1" r="11.1" fill="#ff0000"/><circle cx="836.9" cy="1696.9" r="11.1" fill="#ff0000"/><circle cx="907.3" cy="1886.9" r="11.1" fill="#ff0000"/><circle cx="977.6" cy="1721" r="11.1" fill="#ff0000"/><circle cx="1048" cy="1715.4" r="11.1" fill="#ff0000"/><circle cx="1118.4" cy="1714.6" r="11.1" fill="#ff0000"/><circle cx="1188.8" cy="1714.6" r="11.1" fill="#ff0000"/></g>
<g><path d="M203.6 1994.7 L206.5 1993.2 L209.4 1991.7 L212.4 1990.1 L215.3 1988.6 L218.2 1987 L221.2 1985.4 L224.1 1983.8 L227 1982.2 L230 1980.5 L232.9 1978.8 L235.8 1977 L238.8 1975.3 L241.7 1973.4 L244.6 1971.5 L247.6 1969.5 L250.5 1967.5 L253.4 1965.4 L256.3 1963.3 L259.3 1961 L262.2 1958.7 L265.1 1956.3 L268.1 1953.9 L271 1951.3 L273.9 1948.6 L276.9 1945.8 L279.8 1942.9 L282.7 1939.8 L285.7 1936.4 L288.6 1932.6 L291.5 1928.5 L294.5 1924 L297.4 1919 L300.3 1913.5 L303.3 1907.4 L306.2 1900.6 L309.1 1893.2 L312.1 1884.9 L315 1875.9 L317.9 1866.1 L320.9 1855.3 L323.8 1843.5 L326.7 1830.7 L329.6 1816.9 L332.6 1801.9 L335.5 1785.7 L338.4 1768.3 L341.4 1749.6 L344.3 1729.5 L347.2 1708.1 L350.2 1685.5 L353.1 1661.9 L356 1637.6 L359 1612.7 L361.9 1587.4 L364.8 1562.1 L367.8 1536.8 L370.7 1511.8 L373.6 1487.3 L376.6 1463.5 L379.5 1440.6 L382.4 1418.9 L385.4 1398.6 L388.3 1379.8 L391.2 1362.8 L394.2 1347.8 L397.1 1335 L400 1324.6 L403 1316.8 L405.9 1311.8 L408.8 1310 L411.7 1311.3 L414.7 1316.2 L417.6 1324.6 L420.5 1336.5 L423.5 1351.4 L426.4 1369.2 L429.3 1389.5 L432.3 1412.1 L435.2 1436.6 L438.1 1462.7 L441.1 1490.3 L444 1518.9 L446.9 1548.3 L449.9 1578.2 L452.8 1608.3 L455.7 1638.4 L458.7 1668.1 L461.6 1697.1 L464.5 1725.2 L467.5 1752.1 L470.4 1777.5 L473.3 1801 L476.3 1822.5 L479.2 1841.5 L482.1 1857.9 L485.1 1871.3 L488 1881.6 L490.9 1888.8 L493.8 1893.1 L496.8 1894.8 L499.7 1894 L502.6 1891 L505.6 1885.9 L508.5 1879 L511.4 1870.4 L514.4 1860.3 L517.3 1849 L520.2 1836.6 L523.2 1823.3 L526.1 1809.4 L529 1795.1 L532 1780.4 L534.9 1765.7 L537.8 1751.2 L540.8 1736.9 L543.7 1723.2 L546.6 1710.3 L549.6 1698.2 L552.5 1687.3 L555.4 1677.8 L558.4 1669.7 L561.3 1663.1 L564.2 1657.8 L567.1 1653.8 L570.1 1651 L573 1649.4 L575.9 1648.7 L578.9 1649.1 L581.8 1650.2 L584.7 1652.2 L587.7 1654.9 L590.6 1658.2 L593.5 1662.1 L596.5 1666.4 L599.4 1671.1 L602.3 1676.1 L605.3 1681.3 L608.2 1686.6 L611.1 1692 L614.1 1697.4 L617 1702.6 L619.9 1707.6 L622.9 1712.4 L625.8 1716.8 L628.7 1720.7 L631.7 1724.3 L634.6 1727.4 L637.5 1730.2 L640.5 1732.6 L643.4 1734.6 L646.3 1736.4 L649.2 1737.9 L652.2 1739.2 L655.1 1740.2 L658 1741 L661 1741.6 L663.9 1742.1 L666.8 1742.4 L669.8 1742.7 L672.7 1742.8 L675.6 1742.9 L678.6 1742.9 L681.5 1743 L684.4 1743 L687.4 1743.1 L690.3 1743.2 L693.2 1743.4 L696.2 1743.7 L699.1 1744.2 L702 1744.7 L705 1745.4 L707.9 1746.1 L710.8 1746.9 L713.8 1747.8 L716.7 1748.8 L719.6 1749.7 L722.5 1750.7 L725.5 1751.7 L728.4 1752.7 L731.3 1753.7 L734.3 1754.6 L737.2 1755.5 L740.1 1756.3 L743.1 1757 L746 1757.7 L748.9 1758.2 L751.9 1758.7 L754.8 1759 L757.7 1759.1 L760.7 1759.1 L763.6 1759 L766.5 1758.6 L769.5 1758.1 L772.4 1757.3 L775.3 1756.5 L778.3 1755.6 L781.2 1754.6 L784.1 1753.6 L787.1 1752.6 L790 1751.7 L792.9 1750.9 L795.9 1750.2 L798.8 1749.7 L801.7 1749.4 L804.6 1749.3 L807.6 1749.5 L810.5 1750 L813.4 1750.9 L816.4 1752.1 L819.3 1753.8 L822.2 1756 L825.2 1758.6 L828.1 1761.8 L831 1765.5 L834 1769.9 L836.9 1774.9 L839.8 1780.6 L842.8 1786.9 L845.7 1793.7 L848.6 1801 L851.6 1808.6 L854.5 1816.6 L857.4 1824.8 L860.4 1833.2 L863.3 1841.7 L866.2 1850.2 L869.2 1858.6 L872.1 1866.9 L875 1875 L877.9 1882.8 L880.9 1890.3 L883.8 1897.4 L886.7 1903.9 L889.7 1909.9 L892.6 1915.2 L895.5 1919.8 L898.5 1923.6 L901.4 1926.5 L904.3 1928.5 L907.3 1929.5 L910.2 1929.4 L913.1 1928.3 L916.1 1926.2 L919 1923.2 L921.9 1919.5 L924.9 1915 L927.8 1909.9 L930.7 1904.2 L933.7 1898 L936.6 1891.3 L939.5 1884.3 L942.5 1877 L945.4 1869.4 L948.3 1861.7 L951.3 1854 L954.2 1846.2 L957.1 1838.5 L960 1830.9 L963 1823.6 L965.9 1816.5 L968.8 1809.8 L971.8 1803.6 L974.7 1797.8 L977.6 1792.6 L980.6 1788.1 L983.5 1784.2 L986.4 1780.8 L989.4 1778 L992.3 1775.7 L995.2 1773.9 L998.2 1772.6 L1001.1 1771.6 L1004 1771.1 L1007 1770.9 L1009.9 1771 L1012.8 1771.4 L1015.8 1772 L1018.7 1772.8 L1021.6 1773.9 L1024.6 1775 L1027.5 1776.3 L1030.4 1777.7 L1033.3 1779.1 L1036.3 1780.5 L1039.2 1781.9 L1042.1 1783.2 L1045.1 1784.4 L1048 1785.5 L1050.9 1786.5 L1053.9 1787.3 L1056.8 1788 L1059.7 1788.5 L1062.7 1788.9 L1065.6 1789.2 L1068.5 1789.4 L1071.5 1789.5 L1074.4 1789.5 L1077.3 1789.4 L1080.3 1789.3 L1083.2 1789 L1086.1 1788.8 L1089.1 1788.4 L1092 1788 L1094.9 1787.6 L1097.9 1787.2 L1100.8 1786.7 L1103.7 1786.3 L1106.7 1785.8 L1109.6 1785.4 L1112.5 1784.9 L1115.4 1784.5 L1118.4 1784.1 L1121.3 1783.8 L1124.2 1783.5 L1127.2 1783.2 L1130.1 1783 L1133 1782.8 L1136 1782.6 L1138.9 1782.5 L1141.8 1782.4 L1144.8 1782.3 L1147.7 1782.3 L1150.6 1782.3 L1153.6 1782.3 L1156.5 1782.3 L1159.4 1782.3 L1162.4 1782.4 L1165.3 1782.5 L1168.2 1782.6 L1171.2 1782.7 L1174.1 1782.8 L1177 1782.9 L1180 1783 L1182.9 1783.1 L1185.8 1783.3 L1188.8 1783.4" fill="none" stroke="#0000ff" stroke-width="3" stroke-linejoin="round"/><polygon points="203.6,1983 217.2,2006.5 189.9,2006.5" fill="#0000ff"/><polygon points="273.9,1936.9 287.6,1960.4 260.3,1960.4" fill="#0000ff"/><polygon points="344.3,1717.8 358,1741.3 330.7,1741.3" fill="#0000ff"/><polygon points="414.7,1304.4 428.3,1327.9 401,1327.9" fill="#0000ff"/><polygon points="485.1,1859.6 498.7,1883.1 471.4,1883.1" fill="#0000ff"/><polygon points="555.4,1666 569.1,1689.5 541.8,1689.5" fill="#0000ff"/><polygon points="625.8,1705 639.4,1728.5 612.1,1728.5" fill="#0000ff"/><polygon points="696.2,1732 709.8,1755.5 682.5,1755.5" fill="#0000ff"/><polygon points="766.5,1746.9 780.2,1770.4 752.9,1770.4" fill="#0000ff"/><polygon points="836.9,1763.2 850.6,1786.7 823.3,1786.7" fill="#0000ff"/><polygon points="907.3,1917.7 920.9,1941.2 893.6,1941.2" fill="#0000ff"/><polygon points="977.6,1780.9 991.3,1804.4 964,1804.4" fill="#0000ff"/><polygon points="1048,1773.8 1061.7,1797.3 1034.4,1797.3" fill="#0000ff"/><polygon points="1118.4,1772.4 1132,1795.9 1104.7,1795.9" fill="#0000ff"/><polygon points="1188.8,1771.7 1202.4,1795.2 1175.1,1795.2" fill="#0000ff"/></g>
<g><path d="M203.6 1991.2 L206.5 1973.5 L209.4 1955.8 L212.4 1938.2 L215.3 1920.7 L218.2 1903.4 L221.2 1886.3 L224.1 1869.4 L227 1852.7 L230 1836.4 L232.9 1820.4 L235.8 1804.8 L238.8 1789.6 L241.7 1774.9 L244.6 1760.6 L247.6 1746.9 L250.5 1733.8 L253.4 1721.2 L256.3 1709.3 L259.3 1698.1 L262.2 1687.6 L265.1 1677.9 L268.1 1669 L271 1660.9 L273.9 1653.7 L276.9 1647.3 L279.8 1641.9 L282.7 1637.3 L285.7 1633.4 L288.6 1630.3 L291.5 1628 L294.5 1626.2 L297.4 1625.1 L300.3 1624.6 L303.3 1624.6 L306.2 1625.2 L309.1 1626.1 L312.1 1627.5 L315 1629.3 L317.9 1631.4 L320.9 1633.8 L323.8 1636.5 L326.7 1639.3 L329.6 1642.4 L332.6 1645.5 L335.5 1648.8 L338.4 1652.1 L341.4 1655.4 L344.3 1658.6 L347.2 1661.8 L350.2 1665 L353.1 1668.1 L356 1671.1 L359 1674.2 L361.9 1677.3 L364.8 1680.4 L367.8 1683.6 L370.7 1686.9 L373.6 1690.2 L376.6 1693.7 L379.5 1697.3 L382.4 1701.1 L385.4 1705 L388.3 1709.1 L391.2 1713.4 L394.2 1718 L397.1 1722.8 L400 1727.9 L403 1733.2 L405.9 1738.9 L408.8 1744.9 L411.7 1751.2 L414.7 1757.9 L417.6 1765 L420.5 1772.3 L423.5 1780 L426.4 1787.8 L429.3 1795.7 L432.3 1803.7 L435.2 1811.7 L438.1 1819.6 L441.1 1827.3 L444 1834.9 L446.9 1842.2 L449.9 1849.1 L452.8 1855.7 L455.7 1861.8 L458.7 1867.3 L461.6 1872.3 L464.5 1876.6 L467.5 1880.2 L470.4 1882.9 L473.3 1884.9 L476.3 1885.9 L479.2 1885.9 L482.1 1884.8 L485.1 1882.7 L488 1879.4 L490.9 1875 L493.8 1869.6 L496.8 1863.3 L499.7 1856.3 L502.6 1848.5 L505.6 1840.2 L508.5 1831.4 L511.4 1822.2 L514.4 1812.6 L517.3 1802.9 L520.2 1793.1 L523.2 1783.3 L526.1 1773.7 L529 1764.2 L532 1755 L534.9 1746.2 L537.8 1737.9 L540.8 1730.2 L543.7 1723.1 L546.6 1716.9 L549.6 1711.6 L552.5 1707.3 L555.4 1704 L558.4 1701.9 L561.3 1701 L564.2 1701 L567.1 1702.1 L570.1 1704.1 L573 1706.9 L575.9 1710.5 L578.9 1714.8 L581.8 1719.8 L584.7 1725.3 L587.7 1731.4 L590.6 1737.8 L593.5 1744.7 L596.5 1751.8 L599.4 1759.2 L602.3 1766.7 L605.3 1774.3 L608.2 1782 L611.1 1789.6 L614.1 1797.1 L617 1804.4 L619.9 1811.4 L622.9 1818.2 L625.8 1824.5 L628.7 1830.5 L631.7 1836 L634.6 1841 L637.5 1845.7 L640.5 1850 L643.4 1854 L646.3 1857.6 L649.2 1861 L652.2 1864 L655.1 1866.8 L658 1869.3 L661 1871.6 L663.9 1873.7 L666.8 1875.6 L669.8 1877.4 L672.7 1879 L675.6 1880.4 L678.6 1881.8 L681.5 1883.1 L684.4 1884.3 L687.4 1885.5 L690.3 1886.7 L693.2 1887.9 L696.2 1889.1 L699.1 1890.3 L702 1891.6 L705 1892.9 L707.9 1894.2 L710.8 1895.6 L713.8 1897 L716.7 1898.4 L719.6 1899.8 L722.5 1901.3 L725.5 1902.8 L728.4 1904.2 L731.3 1905.7 L734.3 1907.2 L737.2 1908.7 L740.1 1910.2 L743.1 1911.7 L746 1913.2 L748.9 1914.7 L751.9 1916.1 L754.8 1917.6 L757.7 1919 L760.7 1920.4 L763.6 1921.7 L766.5 1923.1 L769.5 1924.4 L772.4 1925.7 L775.3 1926.9 L778.3 1928.1 L781.2 1929.3 L784.1 1930.5 L787.1 1931.6 L790 1932.7 L792.9 1933.7 L795.9 1934.7 L798.8 1935.7 L801.7 1936.7 L804.6 1937.6 L807.6 1938.5 L810.5 1939.4 L813.4 1940.2 L816.4 1941 L819.3 1941.8 L822.2 1942.5 L825.2 1943.2 L828.1 1943.9 L831 1944.6 L834 1945.2 L836.9 1945.8 L839.8 1946.3 L842.8 1946.9 L845.7 1947.4 L848.6 1947.9 L851.6 1948.3 L854.5 1948.8 L857.4 1949.2 L860.4 1949.6 L863.3 1950 L866.2 1950.3 L869.2 1950.7 L872.1 1951 L875 1951.4 L877.9 1951.7 L880.9 1952 L883.8 1952.3 L886.7 1952.7 L889.7 1953 L892.6 1953.3 L895.5 1953.6 L898.5 1954 L901.4 1954.3 L904.3 1954.6 L907.3 1955 L910.2 1955.4 L913.1 1955.7 L916.1 1956.1 L919 1956.5 L921.9 1956.9 L924.9 1957.4 L927.8 1957.8 L930.7 1958.2 L933.7 1958.6 L936.6 1959.1 L939.5 1959.5 L942.5 1960 L945.4 1960.4 L948.3 1960.8 L951.3 1961.3 L954.2 1961.7 L957.1 1962.1 L960 1962.5 L963 1963 L965.9 1963.4 L968.8 1963.8 L971.8 1964.2 L974.7 1964.6 L977.6 1964.9 L980.6 1965.3 L983.5 1965.6 L986.4 1966 L989.4 1966.3 L992.3 1966.6 L995.2 1966.9 L998.2 1967.2 L1001.1 1967.5 L1004 1967.8 L1007 1968.1 L1009.9 1968.3 L1012.8 1968.6 L1015.8 1968.8 L1018.7 1969.1 L1021.6 1969.3 L1024.6 1969.5 L1027.5 1969.8 L1030.4 1970 L1033.3 1970.2 L1036.3 1970.4 L1039.2 1970.7 L1042.1 1970.9 L1045.1 1971.1 L1048 1971.3 L1050.9 1971.5 L1053.9 1971.7 L1056.8 1971.9 L1059.7 1972.1 L1062.7 1972.3 L1065.6 1972.6 L1068.5 1972.8 L1071.5 1973 L1074.4 1973.1 L1077.3 1973.3 L1080.3 1973.5 L1083.2 1973.7 L1086.1 1973.9 L1089.1 1974.1 L1092 1974.2 L1094.9 1974.4 L1097.9 1974.6 L1100.8 1974.7 L1103.7 1974.9 L1106.7 1975 L1109.6 1975.2 L1112.5 1975.3 L1115.4 1975.4 L1118.4 1975.6 L1121.3 1975.7 L1124.2 1975.8 L1127.2 1975.9 L1130.1 1976 L1133 1976.1 L1136 1976.1 L1138.9 1976.2 L1141.8 1976.3 L1144.8 1976.4 L1147.7 1976.4 L1150.6 1976.5 L1153.6 1976.5 L1156.5 1976.6 L1159.4 1976.6 L1162.4 1976.7 L1165.3 1976.7 L1168.2 1976.7 L1171.2 1976.8 L1174.1 1976.8 L1177 1976.9 L1180 1976.9 L1182.9 1976.9 L1185.8 1976.9 L1188.8 1977" fill="none" stroke="#000000" stroke-width="3.2" stroke-dasharray="13 20" stroke-linecap="round" stroke-linejoin="round"/><rect x="194" y="1981.6" width="19.2" height="19.2" fill="#fff" stroke="#000000" stroke-width="1.6"/><rect x="264.3" y="1644.1" width="19.2" height="19.2" fill="#fff" stroke="#000000" stroke-width="1.6"/><rect x="334.7" y="1649" width="19.2" height="19.2" fill="#fff" stroke="#000000" stroke-width="1.6"/><rect x="405.1" y="1748.3" width="19.2" height="19.2" fill="#fff" stroke="#000000" stroke-width="1.6"/><rect x="475.4" y="1873.1" width="19.2" height="19.2" fill="#fff" stroke="#000000" stroke-width="1.6"/><rect x="545.8" y="1694.4" width="19.2" height="19.2" fill="#fff" stroke="#000000" stroke-width="1.6"/><rect x="616.2" y="1814.9" width="19.2" height="19.2" fill="#fff" stroke="#000000" stroke-width="1.6"/><rect x="686.6" y="1879.5" width="19.2" height="19.2" fill="#fff" stroke="#000000" stroke-width="1.6"/><rect x="756.9" y="1913.5" width="19.2" height="19.2" fill="#fff" stroke="#000000" stroke-width="1.6"/><rect x="827.3" y="1936.2" width="19.2" height="19.2" fill="#fff" stroke="#000000" stroke-width="1.6"/><rect x="897.7" y="1945.4" width="19.2" height="19.2" fill="#fff" stroke="#000000" stroke-width="1.6"/><rect x="968" y="1955.3" width="19.2" height="19.2" fill="#fff" stroke="#000000" stroke-width="1.6"/><rect x="1038.4" y="1961.7" width="19.2" height="19.2" fill="#fff" stroke="#000000" stroke-width="1.6"/><rect x="1108.8" y="1966" width="19.2" height="19.2" fill="#fff" stroke="#000000" stroke-width="1.6"/><rect x="1179.2" y="1967.4" width="19.2" height="19.2" fill="#fff" stroke="#000000" stroke-width="1.6"/></g>
<g><path d="M203.6 1991.2 L206.5 1963.6 L209.4 1936.1 L212.4 1908.8 L215.3 1881.5 L218.2 1854.5 L221.2 1827.7 L224.1 1801.3 L227 1775.2 L230 1749.4 L232.9 1724.2 L235.8 1699.4 L238.8 1675.2 L241.7 1651.6 L244.6 1628.7 L247.6 1606.5 L250.5 1585 L253.4 1564.4 L256.3 1544.6 L259.3 1525.7 L262.2 1507.7 L265.1 1490.8 L268.1 1475 L271 1460.2 L273.9 1446.6 L276.9 1434.3 L279.8 1423 L282.7 1412.9 L285.7 1403.9 L288.6 1395.9 L291.5 1388.8 L294.5 1382.7 L297.4 1377.5 L300.3 1373.1 L303.3 1369.5 L306.2 1366.6 L309.1 1364.4 L312.1 1362.8 L315 1361.9 L317.9 1361.5 L320.9 1361.5 L323.8 1362.1 L326.7 1363 L329.6 1364.3 L332.6 1365.9 L335.5 1367.7 L338.4 1369.8 L341.4 1372 L344.3 1374.3 L347.2 1376.7 L350.2 1379.2 L353.1 1381.8 L356 1384.5 L359 1387.2 L361.9 1390.1 L364.8 1393.2 L367.8 1396.3 L370.7 1399.6 L373.6 1403 L376.6 1406.6 L379.5 1410.4 L382.4 1414.3 L385.4 1418.5 L388.3 1422.8 L391.2 1427.3 L394.2 1432.1 L397.1 1437.1 L400 1442.3 L403 1447.7 L405.9 1453.4 L408.8 1459.4 L411.7 1465.6 L414.7 1472.2 L417.6 1479 L420.5 1486 L423.5 1493.3 L426.4 1500.7 L429.3 1508.2 L432.3 1515.7 L435.2 1523.3 L438.1 1530.8 L441.1 1538.3 L444 1545.6 L446.9 1552.8 L449.9 1559.7 L452.8 1566.4 L455.7 1572.7 L458.7 1578.7 L461.6 1584.3 L464.5 1589.5 L467.5 1594.1 L470.4 1598.2 L473.3 1601.8 L476.3 1604.6 L479.2 1606.8 L482.1 1608.3 L485.1 1609 L488 1608.9 L490.9 1608 L493.8 1606.5 L496.8 1604.3 L499.7 1601.6 L502.6 1598.4 L505.6 1594.8 L508.5 1590.8 L511.4 1586.6 L514.4 1582.1 L517.3 1577.4 L520.2 1572.7 L523.2 1568 L526.1 1563.3 L529 1558.7 L532 1554.3 L534.9 1550.2 L537.8 1546.4 L540.8 1543 L543.7 1540 L546.6 1537.5 L549.6 1535.6 L552.5 1534.4 L555.4 1533.8 L558.4 1534.1 L561.3 1535.1 L564.2 1536.8 L567.1 1539.1 L570.1 1542.1 L573 1545.7 L575.9 1549.8 L578.9 1554.4 L581.8 1559.4 L584.7 1564.9 L587.7 1570.7 L590.6 1576.9 L593.5 1583.4 L596.5 1590.1 L599.4 1597 L602.3 1604.1 L605.3 1611.4 L608.2 1618.7 L611.1 1626.1 L614.1 1633.4 L617 1640.8 L619.9 1648 L622.9 1655.2 L625.8 1662.2 L628.7 1669 L631.7 1675.6 L634.6 1682 L637.5 1688.2 L640.5 1694.3 L643.4 1700.2 L646.3 1705.9 L649.2 1711.5 L652.2 1716.9 L655.1 1722.1 L658 1727.2 L661 1732.2 L663.9 1737 L666.8 1741.7 L669.8 1746.3 L672.7 1750.8 L675.6 1755.1 L678.6 1759.3 L681.5 1763.5 L684.4 1767.5 L687.4 1771.4 L690.3 1775.3 L693.2 1779 L696.2 1782.7 L699.1 1786.3 L702 1789.9 L705 1793.3 L707.9 1796.7 L710.8 1800 L713.8 1803.3 L716.7 1806.5 L719.6 1809.6 L722.5 1812.6 L725.5 1815.6 L728.4 1818.5 L731.3 1821.4 L734.3 1824.2 L737.2 1826.9 L740.1 1829.6 L743.1 1832.2 L746 1834.7 L748.9 1837.2 L751.9 1839.6 L754.8 1841.9 L757.7 1844.2 L760.7 1846.5 L763.6 1848.6 L766.5 1850.8 L769.5 1852.8 L772.4 1854.9 L775.3 1856.8 L778.3 1858.7 L781.2 1860.6 L784.1 1862.4 L787.1 1864.2 L790 1865.9 L792.9 1867.6 L795.9 1869.2 L798.8 1870.8 L801.7 1872.4 L804.6 1873.9 L807.6 1875.4 L810.5 1876.9 L813.4 1878.4 L816.4 1879.8 L819.3 1881.2 L822.2 1882.5 L825.2 1883.9 L828.1 1885.2 L831 1886.5 L834 1887.8 L836.9 1889.1 L839.8 1890.3 L842.8 1891.6 L845.7 1892.8 L848.6 1894 L851.6 1895.2 L854.5 1896.4 L857.4 1897.6 L860.4 1898.7 L863.3 1899.9 L866.2 1901 L869.2 1902.1 L872.1 1903.2 L875 1904.2 L877.9 1905.3 L880.9 1906.3 L883.8 1907.3 L886.7 1908.3 L889.7 1909.3 L892.6 1910.2 L895.5 1911.1 L898.5 1912 L901.4 1912.9 L904.3 1913.8 L907.3 1914.6 L910.2 1915.4 L913.1 1916.2 L916.1 1916.9 L919 1917.7 L921.9 1918.4 L924.9 1919.1 L927.8 1919.8 L930.7 1920.5 L933.7 1921.1 L936.6 1921.8 L939.5 1922.4 L942.5 1923.1 L945.4 1923.7 L948.3 1924.4 L951.3 1925 L954.2 1925.6 L957.1 1926.3 L960 1926.9 L963 1927.5 L965.9 1928.2 L968.8 1928.9 L971.8 1929.5 L974.7 1930.2 L977.6 1930.9 L980.6 1931.6 L983.5 1932.3 L986.4 1933 L989.4 1933.8 L992.3 1934.5 L995.2 1935.3 L998.2 1936 L1001.1 1936.8 L1004 1937.5 L1007 1938.3 L1009.9 1939 L1012.8 1939.7 L1015.8 1940.5 L1018.7 1941.2 L1021.6 1941.9 L1024.6 1942.6 L1027.5 1943.2 L1030.4 1943.9 L1033.3 1944.5 L1036.3 1945.1 L1039.2 1945.7 L1042.1 1946.2 L1045.1 1946.7 L1048 1947.2 L1050.9 1947.6 L1053.9 1948.1 L1056.8 1948.5 L1059.7 1948.8 L1062.7 1949.1 L1065.6 1949.4 L1068.5 1949.7 L1071.5 1950 L1074.4 1950.2 L1077.3 1950.4 L1080.3 1950.6 L1083.2 1950.8 L1086.1 1951 L1089.1 1951.1 L1092 1951.2 L1094.9 1951.4 L1097.9 1951.5 L1100.8 1951.6 L1103.7 1951.7 L1106.7 1951.8 L1109.6 1951.9 L1112.5 1952 L1115.4 1952.1 L1118.4 1952.2 L1121.3 1952.3 L1124.2 1952.4 L1127.2 1952.5 L1130.1 1952.6 L1133 1952.7 L1136 1952.8 L1138.9 1952.9 L1141.8 1953 L1144.8 1953.1 L1147.7 1953.2 L1150.6 1953.4 L1153.6 1953.5 L1156.5 1953.6 L1159.4 1953.7 L1162.4 1953.8 L1165.3 1954 L1168.2 1954.1 L1171.2 1954.2 L1174.1 1954.3 L1177 1954.5 L1180 1954.6 L1182.9 1954.7 L1185.8 1954.9 L1188.8 1955" fill="none" stroke="#ff0000" stroke-width="3.2" stroke-dasharray="13 20" stroke-linecap="round" stroke-linejoin="round"/><circle cx="203.6" cy="1991.2" r="10" fill="#fff" stroke="#ff0000" stroke-width="1.6"/><circle cx="273.9" cy="1446.6" r="10" fill="#fff" stroke="#ff0000" stroke-width="1.6"/><circle cx="344.3" cy="1374.3" r="10" fill="#fff" stroke="#ff0000" stroke-width="1.6"/><circle cx="414.7" cy="1472.2" r="10" fill="#fff" stroke="#ff0000" stroke-width="1.6"/><circle cx="485.1" cy="1609" r="10" fill="#fff" stroke="#ff0000" stroke-width="1.6"/><circle cx="555.4" cy="1533.8" r="10" fill="#fff" stroke="#ff0000" stroke-width="1.6"/><circle cx="625.8" cy="1662.2" r="10" fill="#fff" stroke="#ff0000" stroke-width="1.6"/><circle cx="696.2" cy="1782.7" r="10" fill="#fff" stroke="#ff0000" stroke-width="1.6"/><circle cx="766.5" cy="1850.8" r="10" fill="#fff" stroke="#ff0000" stroke-width="1.6"/><circle cx="836.9" cy="1889.1" r="10" fill="#fff" stroke="#ff0000" stroke-width="1.6"/><circle cx="907.3" cy="1914.6" r="10" fill="#fff" stroke="#ff0000" stroke-width="1.6"/><circle cx="977.6" cy="1930.9" r="10" fill="#fff" stroke="#ff0000" stroke-width="1.6"/><circle cx="1048" cy="1947.2" r="10" fill="#fff" stroke="#ff0000" stroke-width="1.6"/><circle cx="1118.4" cy="1952.2" r="10" fill="#fff" stroke="#ff0000" stroke-width="1.6"/><circle cx="1188.8" cy="1955" r="10" fill="#fff" stroke="#ff0000" stroke-width="1.6"/></g>
<g><path d="M203.6 1991.2 L206.5 1996.3 L209.4 2001.3 L212.4 2006.1 L215.3 2010.8 L218.2 2015.2 L221.2 2019.2 L224.1 2022.7 L227 2025.8 L230 2028.2 L232.9 2030 L235.8 2031.1 L238.8 2031.4 L241.7 2030.7 L244.6 2029.2 L247.6 2026.6 L250.5 2022.9 L253.4 2018 L256.3 2011.9 L259.3 2004.5 L262.2 1995.7 L265.1 1985.4 L268.1 1973.6 L271 1960.2 L273.9 1945.1 L276.9 1928.2 L279.8 1909.8 L282.7 1890 L285.7 1868.9 L288.6 1846.8 L291.5 1823.7 L294.5 1799.9 L297.4 1775.5 L300.3 1750.8 L303.3 1725.8 L306.2 1700.8 L309.1 1675.8 L312.1 1651.2 L315 1627 L317.9 1603.4 L320.9 1580.6 L323.8 1558.8 L326.7 1538.1 L329.6 1518.8 L332.6 1500.8 L335.5 1484.6 L338.4 1470.1 L341.4 1457.7 L344.3 1447.4 L347.2 1439.3 L350.2 1433.5 L353.1 1429.7 L356 1427.9 L359 1427.9 L361.9 1429.5 L364.8 1432.8 L367.8 1437.5 L370.7 1443.5 L373.6 1450.7 L376.6 1458.9 L379.5 1468.1 L382.4 1478.1 L385.4 1488.8 L388.3 1500.1 L391.2 1511.7 L394.2 1523.7 L397.1 1535.9 L400 1548.1 L403 1560.2 L405.9 1572.1 L408.8 1583.7 L411.7 1594.9 L414.7 1605.5 L417.6 1615.4 L420.5 1624.6 L423.5 1633.1 L426.4 1641 L429.3 1648.2 L432.3 1654.8 L435.2 1660.8 L438.1 1666.2 L441.1 1671 L444 1675.2 L446.9 1678.9 L449.9 1682 L452.8 1684.7 L455.7 1686.8 L458.7 1688.4 L461.6 1689.6 L464.5 1690.2 L467.5 1690.5 L470.4 1690.3 L473.3 1689.7 L476.3 1688.7 L479.2 1687.3 L482.1 1685.6 L485.1 1683.4 L488 1681 L490.9 1678.3 L493.8 1675.3 L496.8 1672.1 L499.7 1668.7 L502.6 1665.3 L505.6 1661.7 L508.5 1658.1 L511.4 1654.6 L514.4 1651.1 L517.3 1647.7 L520.2 1644.5 L523.2 1641.4 L526.1 1638.7 L529 1636.1 L532 1634 L534.9 1632.2 L537.8 1630.8 L540.8 1629.9 L543.7 1629.5 L546.6 1629.6 L549.6 1630.4 L552.5 1631.7 L555.4 1633.8 L558.4 1636.6 L561.3 1640.1 L564.2 1644.2 L567.1 1648.9 L570.1 1654.1 L573 1659.8 L575.9 1666 L578.9 1672.5 L581.8 1679.4 L584.7 1686.6 L587.7 1694 L590.6 1701.6 L593.5 1709.3 L596.5 1717.2 L599.4 1725 L602.3 1732.9 L605.3 1740.7 L608.2 1748.5 L611.1 1756 L614.1 1763.4 L617 1770.5 L619.9 1777.3 L622.9 1783.7 L625.8 1789.8 L628.7 1795.4 L631.7 1800.6 L634.6 1805.4 L637.5 1809.8 L640.5 1813.9 L643.4 1817.6 L646.3 1821 L649.2 1824.1 L652.2 1826.9 L655.1 1829.5 L658 1831.8 L661 1833.9 L663.9 1835.9 L666.8 1837.7 L669.8 1839.3 L672.7 1840.9 L675.6 1842.3 L678.6 1843.7 L681.5 1845 L684.4 1846.2 L687.4 1847.5 L690.3 1848.8 L693.2 1850.1 L696.2 1851.5 L699.1 1852.9 L702 1854.4 L705 1856 L707.9 1857.7 L710.8 1859.4 L713.8 1861.1 L716.7 1862.9 L719.6 1864.7 L722.5 1866.6 L725.5 1868.4 L728.4 1870.3 L731.3 1872.2 L734.3 1874.1 L737.2 1876 L740.1 1877.9 L743.1 1879.8 L746 1881.6 L748.9 1883.4 L751.9 1885.2 L754.8 1886.9 L757.7 1888.6 L760.7 1890.2 L763.6 1891.8 L766.5 1893.3 L769.5 1894.7 L772.4 1896.1 L775.3 1897.4 L778.3 1898.6 L781.2 1899.8 L784.1 1900.9 L787.1 1902 L790 1903 L792.9 1904 L795.9 1904.9 L798.8 1905.8 L801.7 1906.7 L804.6 1907.5 L807.6 1908.3 L810.5 1909.1 L813.4 1909.9 L816.4 1910.7 L819.3 1911.4 L822.2 1912.2 L825.2 1912.9 L828.1 1913.7 L831 1914.4 L834 1915.2 L836.9 1916 L839.8 1916.8 L842.8 1917.6 L845.7 1918.5 L848.6 1919.3 L851.6 1920.2 L854.5 1921 L857.4 1921.9 L860.4 1922.8 L863.3 1923.7 L866.2 1924.6 L869.2 1925.5 L872.1 1926.4 L875 1927.3 L877.9 1928.1 L880.9 1929 L883.8 1929.9 L886.7 1930.8 L889.7 1931.7 L892.6 1932.5 L895.5 1933.4 L898.5 1934.2 L901.4 1935 L904.3 1935.8 L907.3 1936.6 L910.2 1937.3 L913.1 1938.1 L916.1 1938.8 L919 1939.5 L921.9 1940.2 L924.9 1940.8 L927.8 1941.5 L930.7 1942.1 L933.7 1942.7 L936.6 1943.3 L939.5 1943.9 L942.5 1944.4 L945.4 1945 L948.3 1945.5 L951.3 1946 L954.2 1946.5 L957.1 1947 L960 1947.5 L963 1947.9 L965.9 1948.4 L968.8 1948.8 L971.8 1949.2 L974.7 1949.6 L977.6 1950 L980.6 1950.4 L983.5 1950.8 L986.4 1951.2 L989.4 1951.5 L992.3 1951.9 L995.2 1952.2 L998.2 1952.6 L1001.1 1952.9 L1004 1953.2 L1007 1953.5 L1009.9 1953.9 L1012.8 1954.2 L1015.8 1954.5 L1018.7 1954.8 L1021.6 1955.1 L1024.6 1955.4 L1027.5 1955.7 L1030.4 1956 L1033.3 1956.3 L1036.3 1956.6 L1039.2 1956.9 L1042.1 1957.2 L1045.1 1957.5 L1048 1957.8 L1050.9 1958.2 L1053.9 1958.5 L1056.8 1958.8 L1059.7 1959.1 L1062.7 1959.5 L1065.6 1959.8 L1068.5 1960.1 L1071.5 1960.4 L1074.4 1960.8 L1077.3 1961.1 L1080.3 1961.4 L1083.2 1961.7 L1086.1 1962 L1089.1 1962.3 L1092 1962.6 L1094.9 1962.9 L1097.9 1963.2 L1100.8 1963.5 L1103.7 1963.8 L1106.7 1964 L1109.6 1964.3 L1112.5 1964.5 L1115.4 1964.7 L1118.4 1964.9 L1121.3 1965.1 L1124.2 1965.3 L1127.2 1965.5 L1130.1 1965.6 L1133 1965.8 L1136 1965.9 L1138.9 1966 L1141.8 1966.1 L1144.8 1966.2 L1147.7 1966.3 L1150.6 1966.4 L1153.6 1966.5 L1156.5 1966.6 L1159.4 1966.6 L1162.4 1966.7 L1165.3 1966.7 L1168.2 1966.8 L1171.2 1966.8 L1174.1 1966.9 L1177 1966.9 L1180 1966.9 L1182.9 1967 L1185.8 1967 L1188.8 1967" fill="none" stroke="#0000ff" stroke-width="3.2" stroke-dasharray="13 20" stroke-linecap="round" stroke-linejoin="round"/><polygon points="203.6,1979.4 217.2,2002.9 189.9,2002.9" fill="#fff" stroke="#0000ff" stroke-width="1.6"/><polygon points="273.9,1933.3 287.6,1956.8 260.3,1956.8" fill="#fff" stroke="#0000ff" stroke-width="1.6"/><polygon points="344.3,1435.6 358,1459.1 330.7,1459.1" fill="#fff" stroke="#0000ff" stroke-width="1.6"/><polygon points="414.7,1593.7 428.3,1617.2 401,1617.2" fill="#fff" stroke="#0000ff" stroke-width="1.6"/><polygon points="485.1,1671.7 498.7,1695.2 471.4,1695.2" fill="#fff" stroke="#0000ff" stroke-width="1.6"/><polygon points="555.4,1622.1 569.1,1645.6 541.8,1645.6" fill="#fff" stroke="#0000ff" stroke-width="1.6"/><polygon points="625.8,1778 639.4,1801.5 612.1,1801.5" fill="#fff" stroke="#0000ff" stroke-width="1.6"/><polygon points="696.2,1839.7 709.8,1863.2 682.5,1863.2" fill="#fff" stroke="#0000ff" stroke-width="1.6"/><polygon points="766.5,1881.6 780.2,1905.1 752.9,1905.1" fill="#fff" stroke="#0000ff" stroke-width="1.6"/><polygon points="836.9,1904.3 850.6,1927.8 823.3,1927.8" fill="#fff" stroke="#0000ff" stroke-width="1.6"/><polygon points="907.3,1924.8 920.9,1948.3 893.6,1948.3" fill="#fff" stroke="#0000ff" stroke-width="1.6"/><polygon points="977.6,1938.3 991.3,1961.8 964,1961.8" fill="#fff" stroke="#0000ff" stroke-width="1.6"/><polygon points="1048,1946.1 1061.7,1969.6 1034.4,1969.6" fill="#fff" stroke="#0000ff" stroke-width="1.6"/><polygon points="1118.4,1953.2 1132,1976.7 1104.7,1976.7" fill="#fff" stroke="#0000ff" stroke-width="1.6"/><polygon points="1188.8,1955.3 1202.4,1978.8 1175.1,1978.8" fill="#fff" stroke="#0000ff" stroke-width="1.6"/></g>
<g><path d="M203.6 1994.7 L206.5 1992.4 L209.4 1990 L212.4 1987.8 L215.3 1985.6 L218.2 1983.5 L221.2 1981.5 L224.1 1979.6 L227 1977.9 L230 1976.4 L232.9 1975.1 L235.8 1974 L238.8 1973.2 L241.7 1972.6 L244.6 1972.4 L247.6 1972.4 L250.5 1972.8 L253.4 1973.6 L256.3 1974.8 L259.3 1976.3 L262.2 1978.3 L265.1 1980.8 L268.1 1983.7 L271 1987.2 L273.9 1991.2 L276.9 1995.6 L279.8 2000.6 L282.7 2005.8 L285.7 2011.3 L288.6 2016.8 L291.5 2022.3 L294.5 2027.7 L297.4 2032.8 L300.3 2037.5 L303.3 2041.8 L306.2 2045.4 L309.1 2048.3 L312.1 2050.4 L315 2051.6 L317.9 2051.6 L320.9 2050.5 L323.8 2048.1 L326.7 2044.3 L329.6 2039 L332.6 2032.1 L335.5 2023.3 L338.4 2012.7 L341.4 2000.2 L344.3 1985.5 L347.2 1968.6 L350.2 1949.8 L353.1 1929.2 L356 1907.1 L359 1883.7 L361.9 1859.2 L364.8 1833.8 L367.8 1807.8 L370.7 1781.3 L373.6 1754.7 L376.6 1728.2 L379.5 1701.9 L382.4 1676.1 L385.4 1651 L388.3 1626.9 L391.2 1604 L394.2 1582.4 L397.1 1562.5 L400 1544.5 L403 1528.5 L405.9 1514.8 L408.8 1503.7 L411.7 1495.3 L414.7 1489.9 L417.6 1487.6 L420.5 1488.4 L423.5 1491.9 L426.4 1498 L429.3 1506.5 L432.3 1517.1 L435.2 1529.7 L438.1 1544 L441.1 1559.9 L444 1577 L446.9 1595.3 L449.9 1614.5 L452.8 1634.4 L455.7 1654.8 L458.7 1675.4 L461.6 1696.1 L464.5 1716.6 L467.5 1736.8 L470.4 1756.5 L473.3 1775.3 L476.3 1793.2 L479.2 1809.8 L482.1 1825.1 L485.1 1838.7 L488 1850.6 L490.9 1860.7 L493.8 1869.2 L496.8 1876.2 L499.7 1881.8 L502.6 1886.1 L505.6 1889.2 L508.5 1891.1 L511.4 1892.1 L514.4 1892.1 L517.3 1891.4 L520.2 1889.9 L523.2 1887.9 L526.1 1885.4 L529 1882.4 L532 1879.2 L534.9 1875.9 L537.8 1872.4 L540.8 1869 L543.7 1865.7 L546.6 1862.6 L549.6 1859.8 L552.5 1857.5 L555.4 1855.7 L558.4 1854.6 L561.3 1854 L564.2 1854 L567.1 1854.6 L570.1 1855.6 L573 1857 L575.9 1858.9 L578.9 1861.2 L581.8 1863.8 L584.7 1866.6 L587.7 1869.8 L590.6 1873.2 L593.5 1876.7 L596.5 1880.4 L599.4 1884.2 L602.3 1888 L605.3 1891.9 L608.2 1895.8 L611.1 1899.6 L614.1 1903.4 L617 1907 L619.9 1910.4 L622.9 1913.7 L625.8 1916.7 L628.7 1919.5 L631.7 1921.9 L634.6 1924.2 L637.5 1926.2 L640.5 1928 L643.4 1929.5 L646.3 1930.9 L649.2 1932.1 L652.2 1933.1 L655.1 1934 L658 1934.7 L661 1935.3 L663.9 1935.8 L666.8 1936.2 L669.8 1936.6 L672.7 1936.8 L675.6 1937 L678.6 1937.2 L681.5 1937.3 L684.4 1937.4 L687.4 1937.5 L690.3 1937.6 L693.2 1937.8 L696.2 1938 L699.1 1938.2 L702 1938.5 L705 1938.9 L707.9 1939.3 L710.8 1939.7 L713.8 1940.1 L716.7 1940.6 L719.6 1941.2 L722.5 1941.7 L725.5 1942.3 L728.4 1942.8 L731.3 1943.4 L734.3 1944 L737.2 1944.6 L740.1 1945.3 L743.1 1945.9 L746 1946.4 L748.9 1947 L751.9 1947.6 L754.8 1948.1 L757.7 1948.7 L760.7 1949.1 L763.6 1949.6 L766.5 1950 L769.5 1950.4 L772.4 1950.8 L775.3 1951.1 L778.3 1951.4 L781.2 1951.7 L784.1 1951.9 L787.1 1952.2 L790 1952.4 L792.9 1952.7 L795.9 1952.9 L798.8 1953.2 L801.7 1953.4 L804.6 1953.7 L807.6 1954 L810.5 1954.3 L813.4 1954.7 L816.4 1955.1 L819.3 1955.5 L822.2 1956 L825.2 1956.5 L828.1 1957.1 L831 1957.8 L834 1958.5 L836.9 1959.2 L839.8 1960.1 L842.8 1961 L845.7 1962 L848.6 1963 L851.6 1964 L854.5 1965.1 L857.4 1966.2 L860.4 1967.3 L863.3 1968.4 L866.2 1969.5 L869.2 1970.6 L872.1 1971.7 L875 1972.7 L877.9 1973.7 L880.9 1974.6 L883.8 1975.5 L886.7 1976.3 L889.7 1977 L892.6 1977.6 L895.5 1978.1 L898.5 1978.6 L901.4 1978.9 L904.3 1979.1 L907.3 1979.1 L910.2 1979 L913.1 1978.8 L916.1 1978.4 L919 1978 L921.9 1977.4 L924.9 1976.8 L927.8 1976 L930.7 1975.2 L933.7 1974.3 L936.6 1973.4 L939.5 1972.4 L942.5 1971.4 L945.4 1970.4 L948.3 1969.4 L951.3 1968.4 L954.2 1967.3 L957.1 1966.3 L960 1965.4 L963 1964.4 L965.9 1963.5 L968.8 1962.7 L971.8 1961.9 L974.7 1961.3 L977.6 1960.7 L980.6 1960.2 L983.5 1959.8 L986.4 1959.5 L989.4 1959.2 L992.3 1959.1 L995.2 1959 L998.2 1959 L1001.1 1959 L1004 1959.2 L1007 1959.3 L1009.9 1959.5 L1012.8 1959.7 L1015.8 1960 L1018.7 1960.3 L1021.6 1960.6 L1024.6 1960.9 L1027.5 1961.3 L1030.4 1961.6 L1033.3 1962 L1036.3 1962.3 L1039.2 1962.6 L1042.1 1963 L1045.1 1963.2 L1048 1963.5 L1050.9 1963.7 L1053.9 1963.9 L1056.8 1964.1 L1059.7 1964.2 L1062.7 1964.3 L1065.6 1964.4 L1068.5 1964.5 L1071.5 1964.5 L1074.4 1964.5 L1077.3 1964.5 L1080.3 1964.5 L1083.2 1964.4 L1086.1 1964.4 L1089.1 1964.3 L1092 1964.3 L1094.9 1964.2 L1097.9 1964.1 L1100.8 1964 L1103.7 1963.9 L1106.7 1963.8 L1109.6 1963.7 L1112.5 1963.7 L1115.4 1963.6 L1118.4 1963.5 L1121.3 1963.4 L1124.2 1963.4 L1127.2 1963.3 L1130.1 1963.3 L1133 1963.3 L1136 1963.2 L1138.9 1963.2 L1141.8 1963.2 L1144.8 1963.2 L1147.7 1963.2 L1150.6 1963.2 L1153.6 1963.2 L1156.5 1963.2 L1159.4 1963.2 L1162.4 1963.2 L1165.3 1963.3 L1168.2 1963.3 L1171.2 1963.3 L1174.1 1963.3 L1177 1963.4 L1180 1963.4 L1182.9 1963.4 L1185.8 1963.5 L1188.8 1963.5" fill="none" stroke="#000000" stroke-width="3.4" stroke-dasharray="0 6.6" stroke-linecap="round" stroke-linejoin="round"/><polygon points="191.8,1994.7 215.3,1981.5 215.3,2007.9" fill="#000000"/><polygon points="262.2,1991.2 285.7,1978 285.7,2004.4" fill="#000000"/><polygon points="332.6,1985.5 356.1,1972.3 356.1,1998.7" fill="#000000"/><polygon points="402.9,1489.9 426.4,1476.7 426.4,1503.1" fill="#000000"/><polygon points="473.3,1838.7 496.8,1825.5 496.8,1851.9" fill="#000000"/><polygon points="543.7,1855.7 567.2,1842.5 567.2,1868.9" fill="#000000"/><polygon points="614,1916.7 637.5,1903.5 637.5,1929.9" fill="#000000"/><polygon points="684.4,1938 707.9,1924.8 707.9,1951.2" fill="#000000"/><polygon points="754.8,1950 778.3,1936.8 778.3,1963.2" fill="#000000"/><polygon points="825.2,1959.2 848.7,1946 848.7,1972.5" fill="#000000"/><polygon points="895.5,1979.1 919,1965.9 919,1992.3" fill="#000000"/><polygon points="965.9,1960.7 989.4,1947.5 989.4,1973.9" fill="#000000"/><polygon points="1036.3,1963.5 1059.8,1950.3 1059.8,1976.7" fill="#000000"/><polygon points="1106.6,1963.5 1130.1,1950.3 1130.1,1976.7" fill="#000000"/><polygon points="1177,1963.5 1200.5,1950.3 1200.5,1976.7" fill="#000000"/></g>
<g><path d="M203.6 1991.2 L206.5 1988.7 L209.4 1986.2 L212.4 1983.8 L215.3 1981.4 L218.2 1979.1 L221.2 1976.9 L224.1 1974.9 L227 1972.9 L230 1971.1 L232.9 1969.5 L235.8 1968 L238.8 1966.8 L241.7 1965.8 L244.6 1965 L247.6 1964.5 L250.5 1964.3 L253.4 1964.3 L256.3 1964.7 L259.3 1965.5 L262.2 1966.6 L265.1 1968 L268.1 1969.9 L271 1972.1 L273.9 1974.8 L276.9 1978 L279.8 1981.4 L282.7 1985.1 L285.7 1989 L288.6 1992.8 L291.5 1996.5 L294.5 2000 L297.4 2003.2 L300.3 2005.9 L303.3 2008.1 L306.2 2009.6 L309.1 2010.4 L312.1 2010.2 L315 2009.1 L317.9 2006.9 L320.9 2003.5 L323.8 1998.7 L326.7 1992.5 L329.6 1984.7 L332.6 1975.3 L335.5 1964.1 L338.4 1951.1 L341.4 1936 L344.3 1918.8 L347.2 1899.5 L350.2 1878.2 L353.1 1855.1 L356 1830.4 L359 1804.4 L361.9 1777.2 L364.8 1749.1 L367.8 1720.3 L370.7 1691 L373.6 1661.4 L376.6 1631.8 L379.5 1602.3 L382.4 1573.1 L385.4 1544.6 L388.3 1516.8 L391.2 1490 L394.2 1464.5 L397.1 1440.4 L400 1418 L403 1397.4 L405.9 1379 L408.8 1362.8 L411.7 1349.1 L414.7 1338.2 L417.6 1330.1 L420.5 1324.8 L423.5 1322.2 L426.4 1322 L429.3 1324.1 L432.3 1328.3 L435.2 1334.5 L438.1 1342.5 L441.1 1352.2 L444 1363.4 L446.9 1375.8 L449.9 1389.5 L452.8 1404.1 L455.7 1419.6 L458.7 1435.8 L461.6 1452.4 L464.5 1469.5 L467.5 1486.7 L470.4 1503.9 L473.3 1521 L476.3 1537.8 L479.2 1554.2 L482.1 1569.9 L485.1 1584.9 L488 1598.9 L490.9 1612.1 L493.8 1624.4 L496.8 1635.9 L499.7 1646.6 L502.6 1656.6 L505.6 1665.9 L508.5 1674.6 L511.4 1682.7 L514.4 1690.2 L517.3 1697.2 L520.2 1703.8 L523.2 1709.9 L526.1 1715.7 L529 1721.1 L532 1726.2 L534.9 1731.1 L537.8 1735.8 L540.8 1740.3 L543.7 1744.8 L546.6 1749.1 L549.6 1753.4 L552.5 1757.8 L555.4 1762.1 L558.4 1766.6 L561.3 1771.2 L564.2 1775.9 L567.1 1780.6 L570.1 1785.3 L573 1790.2 L575.9 1795 L578.9 1799.8 L581.8 1804.7 L584.7 1809.5 L587.7 1814.3 L590.6 1819.1 L593.5 1823.8 L596.5 1828.4 L599.4 1833 L602.3 1837.5 L605.3 1841.9 L608.2 1846.1 L611.1 1850.2 L614.1 1854.2 L617 1858.1 L619.9 1861.7 L622.9 1865.2 L625.8 1868.5 L628.7 1871.6 L631.7 1874.5 L634.6 1877.2 L637.5 1879.7 L640.5 1882 L643.4 1884.2 L646.3 1886.3 L649.2 1888.2 L652.2 1889.9 L655.1 1891.6 L658 1893.1 L661 1894.5 L663.9 1895.9 L666.8 1897.1 L669.8 1898.3 L672.7 1899.3 L675.6 1900.4 L678.6 1901.4 L681.5 1902.3 L684.4 1903.2 L687.4 1904.1 L690.3 1905 L693.2 1905.9 L696.2 1906.8 L699.1 1907.7 L702 1908.6 L705 1909.5 L707.9 1910.5 L710.8 1911.4 L713.8 1912.3 L716.7 1913.3 L719.6 1914.2 L722.5 1915.1 L725.5 1916 L728.4 1916.9 L731.3 1917.8 L734.3 1918.6 L737.2 1919.5 L740.1 1920.3 L743.1 1921.1 L746 1921.8 L748.9 1922.5 L751.9 1923.2 L754.8 1923.8 L757.7 1924.4 L760.7 1925 L763.6 1925.5 L766.5 1925.9 L769.5 1926.3 L772.4 1926.7 L775.3 1927 L778.3 1927.2 L781.2 1927.5 L784.1 1927.7 L787.1 1927.9 L790 1928.2 L792.9 1928.4 L795.9 1928.6 L798.8 1928.9 L801.7 1929.2 L804.6 1929.6 L807.6 1929.9 L810.5 1930.4 L813.4 1930.9 L816.4 1931.4 L819.3 1932.1 L822.2 1932.8 L825.2 1933.6 L828.1 1934.5 L831 1935.6 L834 1936.7 L836.9 1938 L839.8 1939.4 L842.8 1940.9 L845.7 1942.5 L848.6 1944.2 L851.6 1946 L854.5 1947.8 L857.4 1949.7 L860.4 1951.5 L863.3 1953.4 L866.2 1955.3 L869.2 1957.2 L872.1 1959 L875 1960.8 L877.9 1962.5 L880.9 1964.2 L883.8 1965.7 L886.7 1967.1 L889.7 1968.4 L892.6 1969.6 L895.5 1970.6 L898.5 1971.4 L901.4 1972.1 L904.3 1972.5 L907.3 1972.7 L910.2 1972.7 L913.1 1972.5 L916.1 1972.1 L919 1971.4 L921.9 1970.6 L924.9 1969.7 L927.8 1968.6 L930.7 1967.4 L933.7 1966.1 L936.6 1964.7 L939.5 1963.2 L942.5 1961.7 L945.4 1960.1 L948.3 1958.5 L951.3 1956.9 L954.2 1955.3 L957.1 1953.7 L960 1952.1 L963 1950.6 L965.9 1949.2 L968.8 1947.8 L971.8 1946.5 L974.7 1945.4 L977.6 1944.4 L980.6 1943.5 L983.5 1942.7 L986.4 1942.1 L989.4 1941.7 L992.3 1941.3 L995.2 1941 L998.2 1940.9 L1001.1 1940.8 L1004 1940.8 L1007 1940.9 L1009.9 1941 L1012.8 1941.3 L1015.8 1941.5 L1018.7 1941.9 L1021.6 1942.2 L1024.6 1942.6 L1027.5 1943 L1030.4 1943.4 L1033.3 1943.8 L1036.3 1944.3 L1039.2 1944.7 L1042.1 1945.1 L1045.1 1945.4 L1048 1945.8 L1050.9 1946.1 L1053.9 1946.3 L1056.8 1946.6 L1059.7 1946.8 L1062.7 1946.9 L1065.6 1947 L1068.5 1947.1 L1071.5 1947.2 L1074.4 1947.3 L1077.3 1947.3 L1080.3 1947.3 L1083.2 1947.3 L1086.1 1947.3 L1089.1 1947.2 L1092 1947.2 L1094.9 1947.1 L1097.9 1947 L1100.8 1947 L1103.7 1946.9 L1106.7 1946.8 L1109.6 1946.7 L1112.5 1946.6 L1115.4 1946.6 L1118.4 1946.5 L1121.3 1946.4 L1124.2 1946.4 L1127.2 1946.3 L1130.1 1946.3 L1133 1946.3 L1136 1946.2 L1138.9 1946.2 L1141.8 1946.2 L1144.8 1946.2 L1147.7 1946.2 L1150.6 1946.2 L1153.6 1946.2 L1156.5 1946.2 L1159.4 1946.2 L1162.4 1946.2 L1165.3 1946.3 L1168.2 1946.3 L1171.2 1946.3 L1174.1 1946.3 L1177 1946.4 L1180 1946.4 L1182.9 1946.4 L1185.8 1946.5 L1188.8 1946.5" fill="none" stroke="#ff0000" stroke-width="3.4" stroke-dasharray="0 6.6" stroke-linecap="round" stroke-linejoin="round"/><polygon points="203.6,1978 216.8,1991.2 203.6,2004.4 190.4,1991.2" fill="#fff" stroke="#ff0000" stroke-width="1.6"/><polygon points="190.4,1991.2 216.8,1991.2 203.6,2004.4" fill="#ff0000"/><polygon points="273.9,1961.6 287.1,1974.8 273.9,1988 260.7,1974.8" fill="#fff" stroke="#ff0000" stroke-width="1.6"/><polygon points="260.7,1974.8 287.1,1974.8 273.9,1988" fill="#ff0000"/><polygon points="344.3,1905.6 357.5,1918.8 344.3,1932 331.1,1918.8" fill="#fff" stroke="#ff0000" stroke-width="1.6"/><polygon points="331.1,1918.8 357.5,1918.8 344.3,1932" fill="#ff0000"/><polygon points="414.7,1325 427.9,1338.2 414.7,1351.4 401.5,1338.2" fill="#fff" stroke="#ff0000" stroke-width="1.6"/><polygon points="401.5,1338.2 427.9,1338.2 414.7,1351.4" fill="#ff0000"/><polygon points="485.1,1571.7 498.2,1584.9 485.1,1598.1 471.9,1584.9" fill="#fff" stroke="#ff0000" stroke-width="1.6"/><polygon points="471.9,1584.9 498.2,1584.9 485.1,1598.1" fill="#ff0000"/><polygon points="555.4,1748.9 568.6,1762.1 555.4,1775.3 542.2,1762.1" fill="#fff" stroke="#ff0000" stroke-width="1.6"/><polygon points="542.2,1762.1 568.6,1762.1 555.4,1775.3" fill="#ff0000"/><polygon points="625.8,1855.3 639,1868.5 625.8,1881.7 612.6,1868.5" fill="#fff" stroke="#ff0000" stroke-width="1.6"/><polygon points="612.6,1868.5 639,1868.5 625.8,1881.7" fill="#ff0000"/><polygon points="696.2,1893.6 709.4,1906.8 696.2,1920 683,1906.8" fill="#fff" stroke="#ff0000" stroke-width="1.6"/><polygon points="683,1906.8 709.4,1906.8 696.2,1920" fill="#ff0000"/><polygon points="766.5,1912.7 779.7,1925.9 766.5,1939.1 753.3,1925.9" fill="#fff" stroke="#ff0000" stroke-width="1.6"/><polygon points="753.3,1925.9 779.7,1925.9 766.5,1939.1" fill="#ff0000"/><polygon points="836.9,1924.8 850.1,1938 836.9,1951.2 823.7,1938" fill="#fff" stroke="#ff0000" stroke-width="1.6"/><polygon points="823.7,1938 850.1,1938 836.9,1951.2" fill="#ff0000"/><polygon points="907.3,1959.5 920.5,1972.7 907.3,1985.9 894.1,1972.7" fill="#fff" stroke="#ff0000" stroke-width="1.6"/><polygon points="894.1,1972.7 920.5,1972.7 907.3,1985.9" fill="#ff0000"/><polygon points="977.6,1931.2 990.8,1944.4 977.6,1957.6 964.4,1944.4" fill="#fff" stroke="#ff0000" stroke-width="1.6"/><polygon points="964.4,1944.4 990.8,1944.4 977.6,1957.6" fill="#ff0000"/><polygon points="1048,1932.6 1061.2,1945.8 1048,1959 1034.8,1945.8" fill="#fff" stroke="#ff0000" stroke-width="1.6"/><polygon points="1034.8,1945.8 1061.2,1945.8 1048,1959" fill="#ff0000"/><polygon points="1118.4,1933.3 1131.6,1946.5 1118.4,1959.7 1105.2,1946.5" fill="#fff" stroke="#ff0000" stroke-width="1.6"/><polygon points="1105.2,1946.5 1131.6,1946.5 1118.4,1959.7" fill="#ff0000"/><polygon points="1188.8,1933.3 1202,1946.5 1188.8,1959.7 1175.6,1946.5" fill="#fff" stroke="#ff0000" stroke-width="1.6"/><polygon points="1175.6,1946.5 1202,1946.5 1188.8,1959.7" fill="#ff0000"/></g>
<g><path d="M203.6 1991.2 L206.5 1989.4 L209.4 1987.7 L212.4 1986 L215.3 1984.3 L218.2 1982.6 L221.2 1981 L224.1 1979.4 L227 1977.8 L230 1976.3 L232.9 1974.9 L235.8 1973.5 L238.8 1972.2 L241.7 1970.9 L244.6 1969.8 L247.6 1968.7 L250.5 1967.7 L253.4 1966.9 L256.3 1966.1 L259.3 1965.5 L262.2 1965 L265.1 1964.6 L268.1 1964.3 L271 1964.2 L273.9 1964.2 L276.9 1964.4 L279.8 1964.6 L282.7 1964.9 L285.7 1965.2 L288.6 1965.3 L291.5 1965.2 L294.5 1964.9 L297.4 1964.3 L300.3 1963.3 L303.3 1961.9 L306.2 1959.9 L309.1 1957.4 L312.1 1954.2 L315 1950.3 L317.9 1945.7 L320.9 1940.2 L323.8 1933.8 L326.7 1926.4 L329.6 1918 L332.6 1908.4 L335.5 1897.7 L338.4 1885.8 L341.4 1872.5 L344.3 1857.9 L347.2 1841.8 L350.2 1824.5 L353.1 1806 L356 1786.6 L359 1766.3 L361.9 1745.4 L364.8 1724 L367.8 1702.2 L370.7 1680.1 L373.6 1658.1 L376.6 1636.1 L379.5 1614.4 L382.4 1593.1 L385.4 1572.4 L388.3 1552.4 L391.2 1533.3 L394.2 1515.2 L397.1 1498.3 L400 1482.7 L403 1468.6 L405.9 1456.2 L408.8 1445.6 L411.7 1436.9 L414.7 1430.3 L417.6 1426 L420.5 1423.8 L423.5 1423.6 L426.4 1425.3 L429.3 1428.8 L432.3 1433.9 L435.2 1440.5 L438.1 1448.5 L441.1 1457.7 L444 1468.1 L446.9 1479.5 L449.9 1491.8 L452.8 1504.8 L455.7 1518.5 L458.7 1532.6 L461.6 1547.2 L464.5 1562 L467.5 1576.9 L470.4 1591.9 L473.3 1606.7 L476.3 1621.2 L479.2 1635.4 L482.1 1649.1 L485.1 1662.2 L488 1674.5 L490.9 1686.1 L493.8 1697 L496.8 1707.3 L499.7 1716.9 L502.6 1726 L505.6 1734.4 L508.5 1742.3 L511.4 1749.7 L514.4 1756.7 L517.3 1763.2 L520.2 1769.2 L523.2 1774.9 L526.1 1780.2 L529 1785.2 L532 1789.9 L534.9 1794.3 L537.8 1798.5 L540.8 1802.5 L543.7 1806.3 L546.6 1809.9 L549.6 1813.4 L552.5 1816.9 L555.4 1820.3 L558.4 1823.6 L561.3 1827 L564.2 1830.3 L567.1 1833.5 L570.1 1836.7 L573 1839.8 L575.9 1842.8 L578.9 1845.8 L581.8 1848.6 L584.7 1851.4 L587.7 1854.1 L590.6 1856.6 L593.5 1859 L596.5 1861.3 L599.4 1863.4 L602.3 1865.4 L605.3 1867.2 L608.2 1868.9 L611.1 1870.4 L614.1 1871.7 L617 1872.8 L619.9 1873.7 L622.9 1874.4 L625.8 1874.9 L628.7 1875.1 L631.7 1875.2 L634.6 1875.1 L637.5 1874.8 L640.5 1874.3 L643.4 1873.7 L646.3 1873 L649.2 1872.2 L652.2 1871.3 L655.1 1870.3 L658 1869.3 L661 1868.3 L663.9 1867.2 L666.8 1866.2 L669.8 1865.2 L672.7 1864.2 L675.6 1863.3 L678.6 1862.4 L681.5 1861.7 L684.4 1861.1 L687.4 1860.6 L690.3 1860.2 L693.2 1860 L696.2 1860 L699.1 1860.2 L702 1860.5 L705 1861.1 L707.9 1861.8 L710.8 1862.7 L713.8 1863.6 L716.7 1864.8 L719.6 1866 L722.5 1867.3 L725.5 1868.7 L728.4 1870.1 L731.3 1871.6 L734.3 1873.2 L737.2 1874.8 L740.1 1876.4 L743.1 1877.9 L746 1879.5 L748.9 1881.1 L751.9 1882.6 L754.8 1884 L757.7 1885.4 L760.7 1886.7 L763.6 1888 L766.5 1889.1 L769.5 1890.1 L772.4 1890.9 L775.3 1891.7 L778.3 1892.4 L781.2 1893.1 L784.1 1893.7 L787.1 1894.2 L790 1894.7 L792.9 1895.2 L795.9 1895.7 L798.8 1896.2 L801.7 1896.7 L804.6 1897.3 L807.6 1897.9 L810.5 1898.6 L813.4 1899.3 L816.4 1900.2 L819.3 1901.1 L822.2 1902.2 L825.2 1903.4 L828.1 1904.7 L831 1906.2 L834 1907.8 L836.9 1909.6 L839.8 1911.6 L842.8 1913.8 L845.7 1916.1 L848.6 1918.6 L851.6 1921.2 L854.5 1923.8 L857.4 1926.5 L860.4 1929.3 L863.3 1932 L866.2 1934.8 L869.2 1937.5 L872.1 1940.2 L875 1942.8 L877.9 1945.3 L880.9 1947.7 L883.8 1950 L886.7 1952.1 L889.7 1954.1 L892.6 1955.8 L895.5 1957.3 L898.5 1958.6 L901.4 1959.6 L904.3 1960.3 L907.3 1960.7 L910.2 1960.7 L913.1 1960.5 L916.1 1960 L919 1959.2 L921.9 1958.1 L924.9 1956.9 L927.8 1955.4 L930.7 1953.8 L933.7 1952 L936.6 1950 L939.5 1948 L942.5 1945.9 L945.4 1943.7 L948.3 1941.5 L951.3 1939.2 L954.2 1937 L957.1 1934.7 L960 1932.6 L963 1930.4 L965.9 1928.4 L968.8 1926.5 L971.8 1924.7 L974.7 1923.1 L977.6 1921.7 L980.6 1920.4 L983.5 1919.4 L986.4 1918.5 L989.4 1917.8 L992.3 1917.3 L995.2 1916.9 L998.2 1916.6 L1001.1 1916.5 L1004 1916.5 L1007 1916.6 L1009.9 1916.8 L1012.8 1917.1 L1015.8 1917.4 L1018.7 1917.8 L1021.6 1918.3 L1024.6 1918.8 L1027.5 1919.3 L1030.4 1919.9 L1033.3 1920.5 L1036.3 1921 L1039.2 1921.6 L1042.1 1922.1 L1045.1 1922.6 L1048 1923.1 L1050.9 1923.5 L1053.9 1923.9 L1056.8 1924.2 L1059.7 1924.4 L1062.7 1924.6 L1065.6 1924.8 L1068.5 1925 L1071.5 1925.1 L1074.4 1925.1 L1077.3 1925.2 L1080.3 1925.2 L1083.2 1925.2 L1086.1 1925.2 L1089.1 1925.1 L1092 1925.1 L1094.9 1925 L1097.9 1925 L1100.8 1924.9 L1103.7 1924.8 L1106.7 1924.7 L1109.6 1924.7 L1112.5 1924.6 L1115.4 1924.6 L1118.4 1924.5 L1121.3 1924.5 L1124.2 1924.5 L1127.2 1924.5 L1130.1 1924.5 L1133 1924.5 L1136 1924.6 L1138.9 1924.6 L1141.8 1924.7 L1144.8 1924.7 L1147.7 1924.8 L1150.6 1924.9 L1153.6 1925 L1156.5 1925.1 L1159.4 1925.2 L1162.4 1925.4 L1165.3 1925.5 L1168.2 1925.6 L1171.2 1925.8 L1174.1 1925.9 L1177 1926 L1180 1926.2 L1182.9 1926.3 L1185.8 1926.5 L1188.8 1926.6" fill="none" stroke="#0000ff" stroke-width="3.4" stroke-dasharray="0 6.6" stroke-linecap="round" stroke-linejoin="round"/><polygon points="203.6,1979 207.1,1987.3 216.1,1988.1 209.2,1994 211.3,2002.8 203.6,1998.1 195.8,2002.8 197.9,1994 191,1988.1 200.1,1987.3" fill="#0000ff"/><polygon points="273.9,1952 277.4,1960.4 286.5,1961.1 279.6,1967 281.7,1975.9 273.9,1971.2 266.2,1975.9 268.3,1967 261.4,1961.1 270.4,1960.4" fill="#0000ff"/><polygon points="344.3,1845.7 347.8,1854.1 356.9,1854.8 350,1860.7 352.1,1869.5 344.3,1864.8 336.6,1869.5 338.7,1860.7 331.8,1854.8 340.8,1854.1" fill="#0000ff"/><polygon points="414.7,1418.1 418.2,1426.5 427.2,1427.3 420.3,1433.2 422.4,1442 414.7,1437.3 406.9,1442 409,1433.2 402.1,1427.3 411.2,1426.5" fill="#0000ff"/><polygon points="485.1,1650 488.5,1658.4 497.6,1659.1 490.7,1665 492.8,1673.9 485.1,1669.1 477.3,1673.9 479.4,1665 472.5,1659.1 481.6,1658.4" fill="#0000ff"/><polygon points="555.4,1808.1 558.9,1816.5 568,1817.2 561.1,1823.1 563.2,1832 555.4,1827.2 547.7,1832 549.8,1823.1 542.9,1817.2 551.9,1816.5" fill="#0000ff"/><polygon points="625.8,1862.7 629.3,1871.1 638.3,1871.8 631.4,1877.7 633.5,1886.6 625.8,1881.8 618,1886.6 620.1,1877.7 613.2,1871.8 622.3,1871.1" fill="#0000ff"/><polygon points="696.2,1847.8 699.7,1856.2 708.7,1856.9 701.8,1862.8 703.9,1871.7 696.2,1866.9 688.4,1871.7 690.5,1862.8 683.6,1856.9 692.7,1856.2" fill="#0000ff"/><polygon points="766.5,1876.9 770,1885.3 779.1,1886 772.2,1891.9 774.3,1900.7 766.5,1896 758.8,1900.7 760.9,1891.9 754,1886 763,1885.3" fill="#0000ff"/><polygon points="836.9,1897.4 840.4,1905.8 849.5,1906.5 842.5,1912.5 844.7,1921.3 836.9,1916.6 829.1,1921.3 831.3,1912.5 824.3,1906.5 833.4,1905.8" fill="#0000ff"/><polygon points="907.3,1948.5 910.8,1956.9 919.8,1957.6 912.9,1963.5 915,1972.3 907.3,1967.6 899.5,1972.3 901.6,1963.5 894.7,1957.6 903.8,1956.9" fill="#0000ff"/><polygon points="977.6,1909.5 981.1,1917.9 990.2,1918.6 983.3,1924.5 985.4,1933.4 977.6,1928.6 969.9,1933.4 972,1924.5 965.1,1918.6 974.1,1917.9" fill="#0000ff"/><polygon points="1048,1910.9 1051.5,1919.3 1060.6,1920 1053.7,1925.9 1055.8,1934.8 1048,1930 1040.3,1934.8 1042.4,1925.9 1035.5,1920 1044.5,1919.3" fill="#0000ff"/><polygon points="1118.4,1912.3 1121.9,1920.7 1130.9,1921.4 1124,1927.3 1126.1,1936.2 1118.4,1931.4 1110.6,1936.2 1112.7,1927.3 1105.8,1921.4 1114.9,1920.7" fill="#0000ff"/><polygon points="1188.8,1914.4 1192.2,1922.8 1201.3,1923.6 1194.4,1929.5 1196.5,1938.3 1188.8,1933.6 1181,1938.3 1183.1,1929.5 1176.2,1923.6 1185.3,1922.8" fill="#0000ff"/></g>
</g>
<g transform="translate(742.8,1302.1) scale(0.22080)">
<rect x="130" y="32" width="1878" height="1330" fill="#fff"/>
<polygon points="190,440 330,420 450,1090 210,1040" fill="#a09c98" opacity="0.32" filter="url(#blur)"/>
<polygon points="290,130 1355,100 1950,970 1925,1245 445,1305" fill="url(#water)"/>
<polygon points="632,110 780,545 778,865 632,420" fill="#f0957a"/>
<polygon points="632,110 1155,97 1408,520 780,545" fill="#f2916f" stroke="#111" stroke-width="6" stroke-linejoin="round"/>
<polygon points="780,545 1408,520 1385,845 778,865" fill="#f2916f" stroke="#111" stroke-width="5" stroke-linejoin="round"/>
<polygon points="632,290 778,740 1392,722 1385,845 778,865 632,420" fill="#c3d3cd"/>
<polygon points="880,640 1298,625 1292,752 880,768" fill="#c6d6d0" stroke="#111" stroke-width="5"/>
<polygon points="1240,632 1298,627 1296,722" fill="#f2916f"/>
<path d="M880,722 L880,768 L1292,752 L1294,722" fill="none" stroke="#3cc" stroke-width="4"/>
<path d="M778,740 L778,865 L1385,845 L1392,722" fill="none" stroke="#5cc" stroke-width="4"/>
<path d="M632,110 L780,545 L778,740" fill="none" stroke="#111" stroke-width="5"/>
<path d="M398,283 C500,280 590,300 615,375 L648,590 C655,640 615,690 575,690 C510,690 458,662 452,622 L398,330 Z" fill="#ffff26" stroke="#111" stroke-width="5"/>
<path d="M452,620 L648,612 C655,650 615,690 575,690 C510,690 458,662 452,622 Z" fill="#cdeab5" stroke="#3aa" stroke-width="3"/>
<path d="M445,505 C560,500 630,540 648,595" fill="none" stroke="#111" stroke-width="5"/>
<path d="M586,367 L660,367" stroke="#45458a" stroke-width="27" stroke-linecap="round"/>
<path d="M566,621 L736,611" stroke="#45458a" stroke-width="27" stroke-linecap="round"/>
<path d="M775,872 C740,990 680,1050 590,1092" fill="none" stroke="#a8a8a8" stroke-width="5"/>
<path d="M1388,852 C1430,960 1500,1030 1630,1052" fill="none" stroke="#a8a8a8" stroke-width="5"/>
</g>
<rect x="149.2" y="1144.6" width="1022.8" height="164.8" fill="#fff" stroke="#222" stroke-width="1.6"/>
<path d="M152 1171.2H231" stroke="#000000" stroke-width="3" fill="none" stroke-linecap="round"/>
<rect x="181.2" y="1160.9" width="20.6" height="20.6" fill="#000000"/>
<text x="239.1" y="1183.4" font-family="'Liberation Serif', 'Times New Roman', serif" font-size="34">Z<tspan dy="8.5" font-size="23.5">c</tspan><tspan dy="-8.5">/h = 0.045 </tspan><tspan font-weight="bold">-</tspan>ζ<tspan dy="8.5" dx="2" font-size="24.5">33</tspan></text>
<path d="M153 1225.4H167M216 1225.4H230" stroke="#000000" stroke-width="3.2" fill="none" stroke-linecap="round"/>
<rect x="182.1" y="1216" width="18.8" height="18.8" fill="#fff" stroke="#000000" stroke-width="1.6"/>
<text x="239.1" y="1237.6" font-family="'Liberation Serif', 'Times New Roman', serif" font-size="34">Z<tspan dy="8.5" font-size="23.5">c</tspan><tspan dy="-8.5">/h = 0.045 </tspan><tspan font-weight="bold">-</tspan>ζ<tspan dy="8.5" dx="2" font-size="24.5">44</tspan></text>
<path d="M153.5 1279.5h0M160.1 1279.5h0M166.7 1279.5h0M173.3 1279.5h0M179.9 1279.5h0M206.3 1279.5h0M212.9 1279.5h0M219.5 1279.5h0M226.1 1279.5h0" stroke="#000000" stroke-width="3.4" fill="none" stroke-linecap="round"/>
<polygon points="180,1279.5 203,1266.6 203,1292.4" fill="#000000"/>
<text x="239.1" y="1291.7" font-family="'Liberation Serif', 'Times New Roman', serif" font-size="34">Z<tspan dy="8.5" font-size="23.5">c</tspan><tspan dy="-8.5">/h = 0.045 </tspan><tspan font-weight="bold">-</tspan>ζ<tspan dy="8.5" dx="2" font-size="24.5">55</tspan></text>
<path d="M496.3 1171.2H575.3" stroke="#ff0000" stroke-width="3" fill="none" stroke-linecap="round"/>
<circle cx="535.8" cy="1171.2" r="10.9" fill="#ff0000"/>
<text x="583.9" y="1183.4" font-family="'Liberation Serif', 'Times New Roman', serif" font-size="34">Z<tspan dy="8.5" font-size="23.5">c</tspan><tspan dy="-8.5">/h = 0.055 </tspan><tspan font-weight="bold">-</tspan>ζ<tspan dy="8.5" dx="2" font-size="24.5">33</tspan></text>
<path d="M497.3 1225.4H511.3M560.3 1225.4H574.3" stroke="#ff0000" stroke-width="3.2" fill="none" stroke-linecap="round"/>
<circle cx="535.8" cy="1225.4" r="9.8" fill="#fff" stroke="#ff0000" stroke-width="1.6"/>
<text x="583.9" y="1237.6" font-family="'Liberation Serif', 'Times New Roman', serif" font-size="34">Z<tspan dy="8.5" font-size="23.5">c</tspan><tspan dy="-8.5">/h = 0.055 </tspan><tspan font-weight="bold">-</tspan>ζ<tspan dy="8.5" dx="2" font-size="24.5">44</tspan></text>
<path d="M497.8 1279.5h0M504.4 1279.5h0M511 1279.5h0M517.6 1279.5h0M524.2 1279.5h0M550.6 1279.5h0M557.2 1279.5h0M563.8 1279.5h0M570.4 1279.5h0" stroke="#ff0000" stroke-width="3.4" fill="none" stroke-linecap="round"/>
<polygon points="535.8,1266.6 548.7,1279.5 535.8,1292.4 522.9,1279.5" fill="#fff" stroke="#ff0000" stroke-width="1.6"/><polygon points="522.9,1279.5 548.7,1279.5 535.8,1292.4" fill="#ff0000"/>
<text x="583.9" y="1291.7" font-family="'Liberation Serif', 'Times New Roman', serif" font-size="34">Z<tspan dy="8.5" font-size="23.5">c</tspan><tspan dy="-8.5">/h = 0.055 </tspan><tspan font-weight="bold">-</tspan>ζ<tspan dy="8.5" dx="2" font-size="24.5">55</tspan></text>
<path d="M840.6 1171.2H919.6" stroke="#0000ff" stroke-width="3" fill="none" stroke-linecap="round"/>
<polygon points="880.1,1159.7 893.5,1182.7 866.7,1182.7" fill="#0000ff"/>
<text x="928.2" y="1183.4" font-family="'Liberation Serif', 'Times New Roman', serif" font-size="34">Z<tspan dy="8.5" font-size="23.5">c</tspan><tspan dy="-8.5">/h = 0.065 </tspan><tspan font-weight="bold">-</tspan>ζ<tspan dy="8.5" dx="2" font-size="24.5">33</tspan></text>
<path d="M841.6 1225.4H855.6M904.6 1225.4H918.6" stroke="#0000ff" stroke-width="3.2" fill="none" stroke-linecap="round"/>
<polygon points="880.1,1213.9 893.5,1236.9 866.7,1236.9" fill="#fff" stroke="#0000ff" stroke-width="1.6"/>
<text x="928.2" y="1237.6" font-family="'Liberation Serif', 'Times New Roman', serif" font-size="34">Z<tspan dy="8.5" font-size="23.5">c</tspan><tspan dy="-8.5">/h = 0.065 </tspan><tspan font-weight="bold">-</tspan>ζ<tspan dy="8.5" dx="2" font-size="24.5">44</tspan></text>
<path d="M842.1 1279.5h0M848.7 1279.5h0M855.3 1279.5h0M861.9 1279.5h0M868.5 1279.5h0M894.9 1279.5h0M901.5 1279.5h0M908.1 1279.5h0M914.7 1279.5h0" stroke="#0000ff" stroke-width="3.4" fill="none" stroke-linecap="round"/>
<polygon points="880.1,1267.5 883.5,1275.8 892.4,1276.5 885.6,1282.3 887.7,1290.9 880.1,1286.3 872.5,1290.9 874.6,1282.3 867.8,1276.5 876.7,1275.8" fill="#0000ff"/>
<text x="928.2" y="1291.7" font-family="'Liberation Serif', 'Times New Roman', serif" font-size="34">Z<tspan dy="8.5" font-size="23.5">c</tspan><tspan dy="-8.5">/h = 0.065 </tspan><tspan font-weight="bold">-</tspan>ζ<tspan dy="8.5" dx="2" font-size="24.5">55</tspan></text>
<path d="M133.2 1994.7v8M203.6 1994.7v15.5M273.9 1994.7v8M344.3 1994.7v15.5M414.7 1994.7v8M485.1 1994.7v15.5M555.4 1994.7v8M625.8 1994.7v15.5M696.2 1994.7v8M766.5 1994.7v15.5M836.9 1994.7v8M907.3 1994.7v15.5M977.6 1994.7v8M1048 1994.7v15.5M1118.4 1994.7v8M1188.8 1994.7v15.5M133.2 1994.7h-16.8M133.2 1923.8h-8.4M133.2 1852.9h-16.8M133.2 1782h-8.4M133.2 1711.1h-16.8M133.2 1640.2h-8.4M133.2 1569.3h-16.8M133.2 1498.4h-8.4M133.2 1427.5h-16.8M133.2 1356.6h-8.4M133.2 1285.7h-16.8M133.2 1214.8h-8.4M133.2 1143.9h-16.8" stroke="#000" stroke-width="3" fill="none"/>
<rect x="133.2" y="1143.9" width="1055.6" height="850.8" fill="none" stroke="#000" stroke-width="3"/>
<g font-family="'Liberation Sans', Arial, sans-serif" font-size="35.2" fill="#000"><text transform="translate(203.6,2050.8) scale(1,1.045)" text-anchor="middle">1</text><text transform="translate(344.3,2050.8) scale(1,1.045)" text-anchor="middle">3</text><text transform="translate(485.1,2050.8) scale(1,1.045)" text-anchor="middle">5</text><text transform="translate(625.8,2050.8) scale(1,1.045)" text-anchor="middle">7</text><text transform="translate(766.5,2050.8) scale(1,1.045)" text-anchor="middle">9</text><text transform="translate(907.3,2050.8) scale(1,1.045)" text-anchor="middle">11</text><text transform="translate(1048,2050.8) scale(1,1.045)" text-anchor="middle">13</text><text transform="translate(1188.8,2050.8) scale(1,1.045)" text-anchor="middle">15</text><text transform="translate(104.2,2005.1) scale(1,1.045)" text-anchor="end">0.0</text><text transform="translate(104.2,1863.3) scale(1,1.045)" text-anchor="end">0.2</text><text transform="translate(104.2,1721.5) scale(1,1.045)" text-anchor="end">0.4</text><text transform="translate(104.2,1579.7) scale(1,1.045)" text-anchor="end">0.6</text><text transform="translate(104.2,1437.9) scale(1,1.045)" text-anchor="end">0.8</text><text transform="translate(104.2,1296.1) scale(1,1.045)" text-anchor="end">1.0</text><text transform="translate(104.2,1154.3) scale(1,1.045)" text-anchor="end">1.2</text></g>
<text transform="translate(661,2103.4) scale(1,1.04)" text-anchor="middle" font-family="'Liberation Sans', Arial, sans-serif" font-size="36.8">Time Period (<tspan font-style="italic">s</tspan>)</text>
<text transform="translate(27.7,1569.3) rotate(-90) scale(1,1.04)" text-anchor="middle" font-family="'Liberation Sans', Arial, sans-serif" font-size="36.6">Capture width ratio (<tspan font-style="italic">CWR</tspan>)</text>
<path d="M1495.4 1144.9V1994.7M1636.1 1144.9V1994.7M1776.8 1144.9V1994.7M1917.6 1144.9V1994.7M2058.3 1144.9V1994.7M2199.1 1144.9V1994.7M2339.8 1144.9V1994.7M1425 1873.3H2480.6M1425 1751.9H2480.6M1425 1630.5H2480.6M1425 1509.1H2480.6M1425 1387.7H2480.6M1425 1266.3H2480.6" stroke="#b2b7b4" stroke-width="1.45" stroke-dasharray="5.2 5.2" fill="none"/>
<g clip-path="url(#clipd)">
<g><path d="M1495.4 1976.5 L1498.3 1972.8 L1501.2 1969.1 L1504.2 1965.4 L1507.1 1961.5 L1510 1957.6 L1513 1953.4 L1515.9 1949.1 L1518.8 1944.5 L1521.8 1939.6 L1524.7 1934.5 L1527.6 1929 L1530.6 1923.2 L1533.5 1916.9 L1536.4 1910.3 L1539.4 1903.1 L1542.3 1895.5 L1545.2 1887.3 L1548.1 1878.6 L1551.1 1869.3 L1554 1859.4 L1556.9 1848.7 L1559.9 1837.4 L1562.8 1825.4 L1565.7 1812.6 L1568.7 1799 L1571.6 1784.8 L1574.5 1770.1 L1577.5 1755 L1580.4 1739.6 L1583.3 1724.2 L1586.3 1708.8 L1589.2 1693.6 L1592.1 1678.7 L1595.1 1664.3 L1598 1650.5 L1600.9 1637.5 L1603.9 1625.3 L1606.8 1614.2 L1609.7 1604.3 L1612.7 1595.6 L1615.6 1588.4 L1618.5 1582.8 L1621.4 1578.9 L1624.4 1576.9 L1627.3 1576.9 L1630.2 1579.1 L1633.2 1583.6 L1636.1 1590.4 L1639 1599.8 L1642 1611.6 L1644.9 1625.3 L1647.8 1641 L1650.8 1658.2 L1653.7 1676.7 L1656.6 1696.3 L1659.6 1716.8 L1662.5 1737.8 L1665.4 1759.2 L1668.4 1780.7 L1671.3 1802 L1674.2 1822.9 L1677.2 1843.2 L1680.1 1862.6 L1683 1880.8 L1686 1897.6 L1688.9 1912.7 L1691.8 1926 L1694.8 1937.1 L1697.7 1945.9 L1700.6 1952 L1703.5 1955.2 L1706.5 1955.2 L1709.4 1952 L1712.3 1945.6 L1715.3 1936.3 L1718.2 1924.2 L1721.1 1909.6 L1724.1 1892.8 L1727 1873.9 L1729.9 1853.1 L1732.9 1830.8 L1735.8 1807 L1738.7 1782 L1741.7 1756.1 L1744.6 1729.4 L1747.5 1702.3 L1750.5 1674.8 L1753.4 1647.2 L1756.3 1619.8 L1759.3 1592.7 L1762.2 1566.2 L1765.1 1540.5 L1768.1 1515.9 L1771 1492.5 L1773.9 1470.5 L1776.8 1450.2 L1779.8 1431.8 L1782.7 1415.2 L1785.6 1400.4 L1788.6 1387.2 L1791.5 1375.7 L1794.4 1365.7 L1797.4 1357.1 L1800.3 1350 L1803.2 1344.2 L1806.2 1339.7 L1809.1 1336.3 L1812 1334.1 L1815 1332.9 L1817.9 1332.6 L1820.8 1333.3 L1823.8 1334.8 L1826.7 1337 L1829.6 1339.9 L1832.6 1343.4 L1835.5 1347.5 L1838.4 1352 L1841.4 1356.9 L1844.3 1362.2 L1847.2 1367.7 L1850.2 1373.3 L1853.1 1379.2 L1856 1385.2 L1858.9 1391.3 L1861.9 1397.5 L1864.8 1403.8 L1867.7 1410.2 L1870.7 1416.6 L1873.6 1423 L1876.5 1429.5 L1879.5 1436 L1882.4 1442.4 L1885.3 1448.8 L1888.3 1455.2 L1891.2 1461.4 L1894.1 1467.6 L1897.1 1473.7 L1900 1479.6 L1902.9 1485.4 L1905.9 1491 L1908.8 1496.5 L1911.7 1501.7 L1914.7 1506.7 L1917.6 1511.5 L1920.5 1516.1 L1923.5 1520.3 L1926.4 1524.4 L1929.3 1528.3 L1932.3 1531.9 L1935.2 1535.4 L1938.1 1538.6 L1941 1541.8 L1944 1544.7 L1946.9 1547.6 L1949.8 1550.3 L1952.8 1553 L1955.7 1555.5 L1958.6 1557.9 L1961.6 1560.3 L1964.5 1562.7 L1967.4 1565 L1970.4 1567.3 L1973.3 1569.6 L1976.2 1571.8 L1979.2 1574.2 L1982.1 1576.5 L1985 1578.9 L1988 1581.3 L1990.9 1583.9 L1993.8 1586.4 L1996.8 1589.1 L1999.7 1591.7 L2002.6 1594.4 L2005.6 1597 L2008.5 1599.6 L2011.4 1602.2 L2014.3 1604.8 L2017.3 1607.3 L2020.2 1609.6 L2023.1 1611.9 L2026.1 1614.1 L2029 1616.1 L2031.9 1618 L2034.9 1619.7 L2037.8 1621.3 L2040.7 1622.6 L2043.7 1623.8 L2046.6 1624.7 L2049.5 1625.3 L2052.5 1625.7 L2055.4 1625.8 L2058.3 1625.6 L2061.3 1625.2 L2064.2 1624.4 L2067.1 1623.5 L2070.1 1622.4 L2073 1621.2 L2075.9 1620 L2078.9 1618.8 L2081.8 1617.7 L2084.7 1616.7 L2087.7 1615.8 L2090.6 1615.2 L2093.5 1614.9 L2096.4 1614.9 L2099.4 1615.3 L2102.3 1616.1 L2105.2 1617.4 L2108.2 1619.3 L2111.1 1621.8 L2114 1624.9 L2117 1628.8 L2119.9 1633.4 L2122.8 1638.8 L2125.8 1645.1 L2128.7 1652.4 L2131.6 1660.5 L2134.6 1669.6 L2137.5 1679.4 L2140.4 1689.9 L2143.4 1701 L2146.3 1712.5 L2149.2 1724.4 L2152.2 1736.5 L2155.1 1748.8 L2158 1761.1 L2161 1773.4 L2163.9 1785.5 L2166.8 1797.3 L2169.7 1808.8 L2172.7 1819.8 L2175.6 1830.2 L2178.5 1839.9 L2181.5 1848.8 L2184.4 1856.8 L2187.3 1863.9 L2190.3 1869.8 L2193.2 1874.5 L2196.1 1878 L2199.1 1880 L2202 1880.5 L2204.9 1879.6 L2207.9 1877.4 L2210.8 1874 L2213.7 1869.4 L2216.7 1863.8 L2219.6 1857.3 L2222.5 1850 L2225.5 1842 L2228.4 1833.3 L2231.3 1824.1 L2234.3 1814.5 L2237.2 1804.6 L2240.1 1794.4 L2243.1 1784.1 L2246 1773.8 L2248.9 1763.5 L2251.8 1753.5 L2254.8 1743.7 L2257.7 1734.2 L2260.6 1725.2 L2263.6 1716.8 L2266.5 1709.1 L2269.4 1702.1 L2272.4 1696 L2275.3 1690.7 L2278.2 1686.2 L2281.2 1682.3 L2284.1 1679.2 L2287 1676.8 L2290 1674.9 L2292.9 1673.6 L2295.8 1672.7 L2298.8 1672.4 L2301.7 1672.5 L2304.6 1672.9 L2307.6 1673.7 L2310.5 1674.7 L2313.4 1676 L2316.4 1677.5 L2319.3 1679.2 L2322.2 1680.9 L2325.1 1682.7 L2328.1 1684.6 L2331 1686.4 L2333.9 1688.1 L2336.9 1689.7 L2339.8 1691.2 L2342.7 1692.5 L2345.7 1693.5 L2348.6 1694.4 L2351.5 1695.1 L2354.5 1695.7 L2357.4 1696.1 L2360.3 1696.3 L2363.3 1696.5 L2366.2 1696.5 L2369.1 1696.4 L2372.1 1696.2 L2375 1695.9 L2377.9 1695.6 L2380.9 1695.2 L2383.8 1694.7 L2386.7 1694.2 L2389.7 1693.6 L2392.6 1693.1 L2395.5 1692.5 L2398.5 1692 L2401.4 1691.4 L2404.3 1690.9 L2407.2 1690.4 L2410.2 1690 L2413.1 1689.6 L2416 1689.3 L2419 1689 L2421.9 1688.8 L2424.8 1688.6 L2427.8 1688.5 L2430.7 1688.4 L2433.6 1688.3 L2436.6 1688.3 L2439.5 1688.4 L2442.4 1688.4 L2445.4 1688.5 L2448.3 1688.6 L2451.2 1688.8 L2454.2 1689 L2457.1 1689.2 L2460 1689.4 L2463 1689.6 L2465.9 1689.8 L2468.8 1690.1 L2471.8 1690.4 L2474.7 1690.6 L2477.6 1690.9 L2480.6 1691.2" fill="none" stroke="#000000" stroke-width="3" stroke-linejoin="round"/><rect x="1484.9" y="1966" width="21" height="21" fill="#000000"/><rect x="1555.2" y="1802.1" width="21" height="21" fill="#000000"/><rect x="1625.6" y="1579.9" width="21" height="21" fill="#000000"/><rect x="1696" y="1944.7" width="21" height="21" fill="#000000"/><rect x="1766.3" y="1439.7" width="21" height="21" fill="#000000"/><rect x="1836.7" y="1357.2" width="21" height="21" fill="#000000"/><rect x="1907.1" y="1501" width="21" height="21" fill="#000000"/><rect x="1977.5" y="1570.8" width="21" height="21" fill="#000000"/><rect x="2047.8" y="1615.1" width="21" height="21" fill="#000000"/><rect x="2118.2" y="1641.9" width="21" height="21" fill="#000000"/><rect x="2188.6" y="1869.5" width="21" height="21" fill="#000000"/><rect x="2258.9" y="1691.6" width="21" height="21" fill="#000000"/><rect x="2329.3" y="1680.7" width="21" height="21" fill="#000000"/><rect x="2399.7" y="1679.5" width="21" height="21" fill="#000000"/><rect x="2470.1" y="1680.7" width="21" height="21" fill="#000000"/></g>
<g><path d="M1495.4 1991.7 L1498.3 1995.4 L1501.2 1999.1 L1504.2 2002.8 L1507.1 2006.3 L1510 2009.6 L1513 2012.6 L1515.9 2015.4 L1518.8 2017.9 L1521.8 2020 L1524.7 2021.7 L1527.6 2023 L1530.6 2023.7 L1533.5 2023.9 L1536.4 2023.5 L1539.4 2022.4 L1542.3 2020.7 L1545.2 2018.2 L1548.1 2015 L1551.1 2010.9 L1554 2005.9 L1556.9 2000.1 L1559.9 1993.2 L1562.8 1985.4 L1565.7 1976.5 L1568.7 1966.5 L1571.6 1955.6 L1574.5 1943.8 L1577.5 1931.4 L1580.4 1918.4 L1583.3 1904.9 L1586.3 1891.2 L1589.2 1877.3 L1592.1 1863.4 L1595.1 1849.6 L1598 1836 L1600.9 1822.9 L1603.9 1810.2 L1606.8 1798.2 L1609.7 1787 L1612.7 1776.8 L1615.6 1767.5 L1618.5 1759.5 L1621.4 1752.8 L1624.4 1747.6 L1627.3 1744 L1630.2 1742.1 L1633.2 1742 L1636.1 1744 L1639 1748.1 L1642 1754.1 L1644.9 1761.8 L1647.8 1771.1 L1650.8 1781.8 L1653.7 1793.7 L1656.6 1806.5 L1659.6 1820.1 L1662.5 1834.3 L1665.4 1848.9 L1668.4 1863.7 L1671.3 1878.6 L1674.2 1893.2 L1677.2 1907.4 L1680.1 1921.1 L1683 1934.1 L1686 1946 L1688.9 1956.9 L1691.8 1966.3 L1694.8 1974.3 L1697.7 1980.5 L1700.6 1984.8 L1703.5 1986.9 L1706.5 1986.8 L1709.4 1984.2 L1712.3 1979.3 L1715.3 1972.2 L1718.2 1963.1 L1721.1 1952.1 L1724.1 1939.5 L1727 1925.3 L1729.9 1909.8 L1732.9 1893.1 L1735.8 1875.4 L1738.7 1856.8 L1741.7 1837.5 L1744.6 1817.7 L1747.5 1797.5 L1750.5 1777.2 L1753.4 1756.7 L1756.3 1736.4 L1759.3 1716.4 L1762.2 1696.9 L1765.1 1677.9 L1768.1 1659.8 L1771 1642.6 L1773.9 1626.5 L1776.8 1611.7 L1779.8 1598.3 L1782.7 1586.2 L1785.6 1575.5 L1788.6 1566.1 L1791.5 1557.9 L1794.4 1550.8 L1797.4 1544.8 L1800.3 1539.9 L1803.2 1535.9 L1806.2 1532.9 L1809.1 1530.7 L1812 1529.3 L1815 1528.7 L1817.9 1528.7 L1820.8 1529.4 L1823.8 1530.7 L1826.7 1532.5 L1829.6 1534.7 L1832.6 1537.4 L1835.5 1540.4 L1838.4 1543.6 L1841.4 1547.2 L1844.3 1550.8 L1847.2 1554.6 L1850.2 1558.5 L1853.1 1562.4 L1856 1566.3 L1858.9 1570.3 L1861.9 1574.3 L1864.8 1578.3 L1867.7 1582.3 L1870.7 1586.4 L1873.6 1590.4 L1876.5 1594.4 L1879.5 1598.4 L1882.4 1602.3 L1885.3 1606.2 L1888.3 1610.1 L1891.2 1613.9 L1894.1 1617.6 L1897.1 1621.3 L1900 1624.9 L1902.9 1628.4 L1905.9 1631.9 L1908.8 1635.2 L1911.7 1638.4 L1914.7 1641.5 L1917.6 1644.5 L1920.5 1647.3 L1923.5 1650 L1926.4 1652.6 L1929.3 1655.1 L1932.3 1657.5 L1935.2 1659.7 L1938.1 1661.9 L1941 1664 L1944 1666 L1946.9 1668 L1949.8 1669.9 L1952.8 1671.7 L1955.7 1673.4 L1958.6 1675.2 L1961.6 1676.8 L1964.5 1678.5 L1967.4 1680.1 L1970.4 1681.7 L1973.3 1683.3 L1976.2 1684.8 L1979.2 1686.4 L1982.1 1688 L1985 1689.6 L1988 1691.2 L1990.9 1692.8 L1993.8 1694.5 L1996.8 1696.1 L1999.7 1697.8 L2002.6 1699.4 L2005.6 1701.1 L2008.5 1702.7 L2011.4 1704.2 L2014.3 1705.8 L2017.3 1707.2 L2020.2 1708.6 L2023.1 1710 L2026.1 1711.2 L2029 1712.4 L2031.9 1713.5 L2034.9 1714.4 L2037.8 1715.3 L2040.7 1716 L2043.7 1716.6 L2046.6 1717.1 L2049.5 1717.4 L2052.5 1717.5 L2055.4 1717.5 L2058.3 1717.3 L2061.3 1716.9 L2064.2 1716.4 L2067.1 1715.8 L2070.1 1715 L2073 1714.3 L2075.9 1713.5 L2078.9 1712.8 L2081.8 1712.1 L2084.7 1711.5 L2087.7 1711.1 L2090.6 1710.8 L2093.5 1710.8 L2096.4 1711 L2099.4 1711.4 L2102.3 1712.2 L2105.2 1713.3 L2108.2 1714.8 L2111.1 1716.8 L2114 1719.2 L2117 1722 L2119.9 1725.4 L2122.8 1729.4 L2125.8 1734 L2128.7 1739.2 L2131.6 1745 L2134.6 1751.4 L2137.5 1758.4 L2140.4 1765.8 L2143.4 1773.6 L2146.3 1781.7 L2149.2 1790 L2152.2 1798.5 L2155.1 1807.1 L2158 1815.7 L2161 1824.2 L2163.9 1832.5 L2166.8 1840.7 L2169.7 1848.6 L2172.7 1856.1 L2175.6 1863.2 L2178.5 1869.8 L2181.5 1875.8 L2184.4 1881.2 L2187.3 1885.9 L2190.3 1889.7 L2193.2 1892.7 L2196.1 1894.7 L2199.1 1895.8 L2202 1895.7 L2204.9 1894.7 L2207.9 1892.7 L2210.8 1889.8 L2213.7 1886.1 L2216.7 1881.8 L2219.6 1876.7 L2222.5 1871.1 L2225.5 1864.9 L2228.4 1858.4 L2231.3 1851.4 L2234.3 1844.2 L2237.2 1836.8 L2240.1 1829.2 L2243.1 1821.5 L2246 1813.8 L2248.9 1806.2 L2251.8 1798.7 L2254.8 1791.5 L2257.7 1784.5 L2260.6 1777.9 L2263.6 1771.8 L2266.5 1766.1 L2269.4 1761 L2272.4 1756.5 L2275.3 1752.7 L2278.2 1749.4 L2281.2 1746.7 L2284.1 1744.5 L2287 1742.8 L2290 1741.5 L2292.9 1740.7 L2295.8 1740.2 L2298.8 1740.1 L2301.7 1740.2 L2304.6 1740.7 L2307.6 1741.4 L2310.5 1742.3 L2313.4 1743.4 L2316.4 1744.6 L2319.3 1745.9 L2322.2 1747.4 L2325.1 1748.8 L2328.1 1750.3 L2331 1751.7 L2333.9 1753.1 L2336.9 1754.4 L2339.8 1755.5 L2342.7 1756.5 L2345.7 1757.4 L2348.6 1758.1 L2351.5 1758.7 L2354.5 1759.1 L2357.4 1759.5 L2360.3 1759.7 L2363.3 1759.8 L2366.2 1759.8 L2369.1 1759.8 L2372.1 1759.7 L2375 1759.5 L2377.9 1759.2 L2380.9 1758.9 L2383.8 1758.5 L2386.7 1758.2 L2389.7 1757.8 L2392.6 1757.3 L2395.5 1756.9 L2398.5 1756.5 L2401.4 1756.1 L2404.3 1755.7 L2407.2 1755.3 L2410.2 1754.9 L2413.1 1754.6 L2416 1754.4 L2419 1754.2 L2421.9 1754 L2424.8 1753.8 L2427.8 1753.7 L2430.7 1753.6 L2433.6 1753.6 L2436.6 1753.6 L2439.5 1753.6 L2442.4 1753.6 L2445.4 1753.7 L2448.3 1753.8 L2451.2 1753.9 L2454.2 1754 L2457.1 1754.1 L2460 1754.3 L2463 1754.4 L2465.9 1754.6 L2468.8 1754.8 L2471.8 1755 L2474.7 1755.1 L2477.6 1755.3 L2480.6 1755.5" fill="none" stroke="#ff0000" stroke-width="3" stroke-linejoin="round"/><circle cx="1495.4" cy="1991.7" r="11.1" fill="#ff0000"/><circle cx="1565.7" cy="1976.5" r="11.1" fill="#ff0000"/><circle cx="1636.1" cy="1744" r="11.1" fill="#ff0000"/><circle cx="1706.5" cy="1986.8" r="11.1" fill="#ff0000"/><circle cx="1776.8" cy="1611.7" r="11.1" fill="#ff0000"/><circle cx="1847.2" cy="1554.6" r="11.1" fill="#ff0000"/><circle cx="1917.6" cy="1644.5" r="11.1" fill="#ff0000"/><circle cx="1988" cy="1691.2" r="11.1" fill="#ff0000"/><circle cx="2058.3" cy="1717.3" r="11.1" fill="#ff0000"/><circle cx="2128.7" cy="1739.2" r="11.1" fill="#ff0000"/><circle cx="2199.1" cy="1895.8" r="11.1" fill="#ff0000"/><circle cx="2269.4" cy="1761" r="11.1" fill="#ff0000"/><circle cx="2339.8" cy="1755.5" r="11.1" fill="#ff0000"/><circle cx="2410.2" cy="1754.9" r="11.1" fill="#ff0000"/><circle cx="2480.6" cy="1755.5" r="11.1" fill="#ff0000"/></g>
<g><path d="M1495.4 1991.7 L1498.3 1994.4 L1501.2 1997 L1504.2 1999.6 L1507.1 2002.1 L1510 2004.5 L1513 2006.7 L1515.9 2008.6 L1518.8 2010.3 L1521.8 2011.8 L1524.7 2012.9 L1527.6 2013.7 L1530.6 2014.1 L1533.5 2014.1 L1536.4 2013.6 L1539.4 2012.7 L1542.3 2011.2 L1545.2 2009.2 L1548.1 2006.6 L1551.1 2003.3 L1554 1999.4 L1556.9 1994.8 L1559.9 1989.5 L1562.8 1983.4 L1565.7 1976.5 L1568.7 1968.8 L1571.6 1960.3 L1574.5 1951.3 L1577.5 1941.6 L1580.4 1931.6 L1583.3 1921.2 L1586.3 1910.6 L1589.2 1899.9 L1592.1 1889.1 L1595.1 1878.4 L1598 1867.8 L1600.9 1857.5 L1603.9 1847.6 L1606.8 1838.2 L1609.7 1829.3 L1612.7 1821.1 L1615.6 1813.6 L1618.5 1807 L1621.4 1801.4 L1624.4 1796.9 L1627.3 1793.5 L1630.2 1791.4 L1633.2 1790.6 L1636.1 1791.4 L1639 1793.6 L1642 1797.3 L1644.9 1802.2 L1647.8 1808.3 L1650.8 1815.3 L1653.7 1823.2 L1656.6 1831.7 L1659.6 1840.8 L1662.5 1850.2 L1665.4 1859.9 L1668.4 1869.7 L1671.3 1879.4 L1674.2 1888.9 L1677.2 1898 L1680.1 1906.6 L1683 1914.5 L1686 1921.6 L1688.9 1927.8 L1691.8 1932.9 L1694.8 1936.7 L1697.7 1939.1 L1700.6 1940 L1703.5 1939.1 L1706.5 1936.4 L1709.4 1931.8 L1712.3 1925.3 L1715.3 1917 L1718.2 1907.2 L1721.1 1895.9 L1724.1 1883.3 L1727 1869.5 L1729.9 1854.6 L1732.9 1838.8 L1735.8 1822.2 L1738.7 1804.9 L1741.7 1787.1 L1744.6 1768.9 L1747.5 1750.5 L1750.5 1731.9 L1753.4 1713.4 L1756.3 1694.9 L1759.3 1676.8 L1762.2 1659.1 L1765.1 1641.9 L1768.1 1625.4 L1771 1609.7 L1773.9 1595 L1776.8 1581.3 L1779.8 1568.9 L1782.7 1557.6 L1785.6 1547.4 L1788.6 1538.3 L1791.5 1530.2 L1794.4 1523.1 L1797.4 1517 L1800.3 1511.8 L1803.2 1507.5 L1806.2 1503.9 L1809.1 1501.1 L1812 1499.1 L1815 1497.7 L1817.9 1497 L1820.8 1496.9 L1823.8 1497.3 L1826.7 1498.2 L1829.6 1499.6 L1832.6 1501.4 L1835.5 1503.6 L1838.4 1506.1 L1841.4 1508.9 L1844.3 1511.9 L1847.2 1515.2 L1850.2 1518.6 L1853.1 1522.1 L1856 1525.7 L1858.9 1529.5 L1861.9 1533.3 L1864.8 1537.2 L1867.7 1541.2 L1870.7 1545.3 L1873.6 1549.4 L1876.5 1553.5 L1879.5 1557.6 L1882.4 1561.7 L1885.3 1565.9 L1888.3 1570 L1891.2 1574 L1894.1 1578 L1897.1 1581.9 L1900 1585.7 L1902.9 1589.5 L1905.9 1593.1 L1908.8 1596.6 L1911.7 1600 L1914.7 1603.2 L1917.6 1606.2 L1920.5 1609.1 L1923.5 1611.8 L1926.4 1614.3 L1929.3 1616.7 L1932.3 1618.9 L1935.2 1621 L1938.1 1623 L1941 1624.9 L1944 1626.7 L1946.9 1628.3 L1949.8 1629.9 L1952.8 1631.4 L1955.7 1632.9 L1958.6 1634.2 L1961.6 1635.6 L1964.5 1636.9 L1967.4 1638.1 L1970.4 1639.4 L1973.3 1640.6 L1976.2 1641.8 L1979.2 1643 L1982.1 1644.3 L1985 1645.6 L1988 1646.9 L1990.9 1648.2 L1993.8 1649.6 L1996.8 1651.1 L1999.7 1652.5 L2002.6 1653.9 L2005.6 1655.4 L2008.5 1656.8 L2011.4 1658.2 L2014.3 1659.6 L2017.3 1661 L2020.2 1662.3 L2023.1 1663.6 L2026.1 1664.8 L2029 1665.9 L2031.9 1666.9 L2034.9 1667.9 L2037.8 1668.7 L2040.7 1669.5 L2043.7 1670.1 L2046.6 1670.6 L2049.5 1671 L2052.5 1671.2 L2055.4 1671.3 L2058.3 1671.2 L2061.3 1670.9 L2064.2 1670.5 L2067.1 1670 L2070.1 1669.5 L2073 1668.9 L2075.9 1668.3 L2078.9 1667.8 L2081.8 1667.3 L2084.7 1667 L2087.7 1666.8 L2090.6 1666.8 L2093.5 1667 L2096.4 1667.5 L2099.4 1668.2 L2102.3 1669.3 L2105.2 1670.8 L2108.2 1672.6 L2111.1 1674.9 L2114 1677.7 L2117 1680.9 L2119.9 1684.7 L2122.8 1689.1 L2125.8 1694.1 L2128.7 1699.7 L2131.6 1706 L2134.6 1712.9 L2137.5 1720.3 L2140.4 1728.2 L2143.4 1736.4 L2146.3 1745 L2149.2 1753.7 L2152.2 1762.6 L2155.1 1771.6 L2158 1780.5 L2161 1789.3 L2163.9 1798 L2166.8 1806.4 L2169.7 1814.5 L2172.7 1822.2 L2175.6 1829.3 L2178.5 1836 L2181.5 1841.9 L2184.4 1847.2 L2187.3 1851.7 L2190.3 1855.2 L2193.2 1857.9 L2196.1 1859.5 L2199.1 1859.9 L2202 1859.3 L2204.9 1857.5 L2207.9 1854.7 L2210.8 1850.9 L2213.7 1846.3 L2216.7 1840.9 L2219.6 1834.8 L2222.5 1828 L2225.5 1820.7 L2228.4 1813 L2231.3 1804.9 L2234.3 1796.4 L2237.2 1787.8 L2240.1 1779 L2243.1 1770.1 L2246 1761.3 L2248.9 1752.5 L2251.8 1744 L2254.8 1735.7 L2257.7 1727.7 L2260.6 1720.2 L2263.6 1713.2 L2266.5 1706.7 L2269.4 1700.9 L2272.4 1695.8 L2275.3 1691.5 L2278.2 1687.8 L2281.2 1684.7 L2284.1 1682.2 L2287 1680.3 L2290 1678.9 L2292.9 1677.9 L2295.8 1677.4 L2298.8 1677.3 L2301.7 1677.5 L2304.6 1678.1 L2307.6 1678.9 L2310.5 1680 L2313.4 1681.3 L2316.4 1682.7 L2319.3 1684.3 L2322.2 1685.9 L2325.1 1687.6 L2328.1 1689.3 L2331 1691 L2333.9 1692.6 L2336.9 1694.1 L2339.8 1695.4 L2342.7 1696.6 L2345.7 1697.6 L2348.6 1698.4 L2351.5 1699.1 L2354.5 1699.6 L2357.4 1700 L2360.3 1700.3 L2363.3 1700.4 L2366.2 1700.5 L2369.1 1700.4 L2372.1 1700.3 L2375 1700 L2377.9 1699.7 L2380.9 1699.4 L2383.8 1699 L2386.7 1698.6 L2389.7 1698.1 L2392.6 1697.6 L2395.5 1697.1 L2398.5 1696.6 L2401.4 1696.1 L2404.3 1695.7 L2407.2 1695.2 L2410.2 1694.8 L2413.1 1694.5 L2416 1694.2 L2419 1693.9 L2421.9 1693.7 L2424.8 1693.6 L2427.8 1693.4 L2430.7 1693.3 L2433.6 1693.3 L2436.6 1693.3 L2439.5 1693.3 L2442.4 1693.3 L2445.4 1693.4 L2448.3 1693.4 L2451.2 1693.6 L2454.2 1693.7 L2457.1 1693.8 L2460 1694 L2463 1694.2 L2465.9 1694.4 L2468.8 1694.6 L2471.8 1694.8 L2474.7 1695 L2477.6 1695.2 L2480.6 1695.4" fill="none" stroke="#0000ff" stroke-width="3" stroke-linejoin="round"/><polygon points="1495.4,1979.9 1509,2003.4 1481.7,2003.4" fill="#0000ff"/><polygon points="1565.7,1964.7 1579.4,1988.2 1552.1,1988.2" fill="#0000ff"/><polygon points="1636.1,1779.6 1649.8,1803.1 1622.5,1803.1" fill="#0000ff"/><polygon points="1706.5,1924.7 1720.1,1948.2 1692.8,1948.2" fill="#0000ff"/><polygon points="1776.8,1569.6 1790.5,1593.1 1763.2,1593.1" fill="#0000ff"/><polygon points="1847.2,1503.4 1860.9,1526.9 1833.6,1526.9" fill="#0000ff"/><polygon points="1917.6,1594.5 1931.2,1618 1903.9,1618" fill="#0000ff"/><polygon points="1988,1635.1 2001.6,1658.6 1974.3,1658.6" fill="#0000ff"/><polygon points="2058.3,1659.4 2072,1682.9 2044.7,1682.9" fill="#0000ff"/><polygon points="2128.7,1687.9 2142.3,1711.4 2115,1711.4" fill="#0000ff"/><polygon points="2199.1,1848.2 2212.7,1871.7 2185.4,1871.7" fill="#0000ff"/><polygon points="2269.4,1689.2 2283.1,1712.7 2255.8,1712.7" fill="#0000ff"/><polygon points="2339.8,1683.7 2353.5,1707.2 2326.2,1707.2" fill="#0000ff"/><polygon points="2410.2,1683.1 2423.8,1706.6 2396.5,1706.6" fill="#0000ff"/><polygon points="2480.6,1683.7 2494.2,1707.2 2466.9,1707.2" fill="#0000ff"/></g>
<g><path d="M1495.4 1978.9 L1498.3 1971.7 L1501.2 1964.4 L1504.2 1957.1 L1507.1 1949.8 L1510 1942.4 L1513 1935 L1515.9 1927.5 L1518.8 1920 L1521.8 1912.4 L1524.7 1904.6 L1527.6 1896.8 L1530.6 1888.9 L1533.5 1880.8 L1536.4 1872.6 L1539.4 1864.3 L1542.3 1855.8 L1545.2 1847.1 L1548.1 1838.3 L1551.1 1829.3 L1554 1820.1 L1556.9 1810.6 L1559.9 1801 L1562.8 1791.1 L1565.7 1781 L1568.7 1770.7 L1571.6 1760.1 L1574.5 1749.4 L1577.5 1738.5 L1580.4 1727.5 L1583.3 1716.4 L1586.3 1705.2 L1589.2 1694.1 L1592.1 1682.9 L1595.1 1671.7 L1598 1660.7 L1600.9 1649.7 L1603.9 1638.9 L1606.8 1628.2 L1609.7 1617.7 L1612.7 1607.5 L1615.6 1597.5 L1618.5 1587.8 L1621.4 1578.5 L1624.4 1569.5 L1627.3 1560.8 L1630.2 1552.6 L1633.2 1544.9 L1636.1 1537.6 L1639 1530.9 L1642 1524.6 L1644.9 1518.9 L1647.8 1513.6 L1650.8 1508.8 L1653.7 1504.4 L1656.6 1500.5 L1659.6 1497.1 L1662.5 1494 L1665.4 1491.4 L1668.4 1489.2 L1671.3 1487.4 L1674.2 1486 L1677.2 1485 L1680.1 1484.3 L1683 1483.9 L1686 1484 L1688.9 1484.3 L1691.8 1485 L1694.8 1485.9 L1697.7 1487.2 L1700.6 1488.8 L1703.5 1490.6 L1706.5 1492.7 L1709.4 1495.1 L1712.3 1497.7 L1715.3 1500.4 L1718.2 1503.4 L1721.1 1506.5 L1724.1 1509.8 L1727 1513.1 L1729.9 1516.5 L1732.9 1519.9 L1735.8 1523.4 L1738.7 1526.8 L1741.7 1530.2 L1744.6 1533.6 L1747.5 1536.8 L1750.5 1540 L1753.4 1542.9 L1756.3 1545.7 L1759.3 1548.3 L1762.2 1550.7 L1765.1 1552.8 L1768.1 1554.7 L1771 1556.2 L1773.9 1557.4 L1776.8 1558.3 L1779.8 1558.7 L1782.7 1558.8 L1785.6 1558.6 L1788.6 1558.2 L1791.5 1557.5 L1794.4 1556.5 L1797.4 1555.5 L1800.3 1554.3 L1803.2 1553 L1806.2 1551.6 L1809.1 1550.3 L1812 1548.9 L1815 1547.7 L1817.9 1546.5 L1820.8 1545.5 L1823.8 1544.6 L1826.7 1544 L1829.6 1543.6 L1832.6 1543.5 L1835.5 1543.7 L1838.4 1544.3 L1841.4 1545.2 L1844.3 1546.7 L1847.2 1548.6 L1850.2 1550.9 L1853.1 1553.8 L1856 1557.2 L1858.9 1560.9 L1861.9 1565.1 L1864.8 1569.6 L1867.7 1574.5 L1870.7 1579.8 L1873.6 1585.3 L1876.5 1591 L1879.5 1597.1 L1882.4 1603.3 L1885.3 1609.7 L1888.3 1616.3 L1891.2 1622.9 L1894.1 1629.7 L1897.1 1636.6 L1900 1643.5 L1902.9 1650.5 L1905.9 1657.4 L1908.8 1664.3 L1911.7 1671.1 L1914.7 1677.9 L1917.6 1684.5 L1920.5 1691 L1923.5 1697.4 L1926.4 1703.6 L1929.3 1709.6 L1932.3 1715.5 L1935.2 1721.2 L1938.1 1726.8 L1941 1732.3 L1944 1737.5 L1946.9 1742.6 L1949.8 1747.6 L1952.8 1752.4 L1955.7 1757 L1958.6 1761.4 L1961.6 1765.7 L1964.5 1769.8 L1967.4 1773.7 L1970.4 1777.5 L1973.3 1781.1 L1976.2 1784.5 L1979.2 1787.7 L1982.1 1790.7 L1985 1793.6 L1988 1796.2 L1990.9 1798.7 L1993.8 1801 L1996.8 1803.1 L1999.7 1805.1 L2002.6 1806.9 L2005.6 1808.5 L2008.5 1810 L2011.4 1811.4 L2014.3 1812.7 L2017.3 1813.9 L2020.2 1814.9 L2023.1 1815.9 L2026.1 1816.8 L2029 1817.6 L2031.9 1818.4 L2034.9 1819 L2037.8 1819.7 L2040.7 1820.3 L2043.7 1820.8 L2046.6 1821.4 L2049.5 1821.9 L2052.5 1822.5 L2055.4 1823 L2058.3 1823.5 L2061.3 1824.1 L2064.2 1824.7 L2067.1 1825.3 L2070.1 1825.9 L2073 1826.5 L2075.9 1827.2 L2078.9 1827.9 L2081.8 1828.6 L2084.7 1829.3 L2087.7 1830.1 L2090.6 1830.8 L2093.5 1831.6 L2096.4 1832.4 L2099.4 1833.2 L2102.3 1834.1 L2105.2 1834.9 L2108.2 1835.8 L2111.1 1836.7 L2114 1837.6 L2117 1838.5 L2119.9 1839.4 L2122.8 1840.4 L2125.8 1841.4 L2128.7 1842.3 L2131.6 1843.3 L2134.6 1844.4 L2137.5 1845.4 L2140.4 1846.5 L2143.4 1847.6 L2146.3 1848.7 L2149.2 1849.9 L2152.2 1851.2 L2155.1 1852.5 L2158 1853.8 L2161 1855.2 L2163.9 1856.7 L2166.8 1858.2 L2169.7 1859.9 L2172.7 1861.6 L2175.6 1863.3 L2178.5 1865.2 L2181.5 1867.2 L2184.4 1869.2 L2187.3 1871.4 L2190.3 1873.7 L2193.2 1876.1 L2196.1 1878.6 L2199.1 1881.2 L2202 1883.9 L2204.9 1886.8 L2207.9 1889.7 L2210.8 1892.8 L2213.7 1895.9 L2216.7 1899 L2219.6 1902.2 L2222.5 1905.4 L2225.5 1908.6 L2228.4 1911.8 L2231.3 1915 L2234.3 1918.1 L2237.2 1921.2 L2240.1 1924.3 L2243.1 1927.2 L2246 1930 L2248.9 1932.7 L2251.8 1935.3 L2254.8 1937.8 L2257.7 1940.1 L2260.6 1942.2 L2263.6 1944.1 L2266.5 1945.8 L2269.4 1947.4 L2272.4 1948.6 L2275.3 1949.7 L2278.2 1950.5 L2281.2 1951.2 L2284.1 1951.7 L2287 1952 L2290 1952.1 L2292.9 1952.1 L2295.8 1952 L2298.8 1951.8 L2301.7 1951.4 L2304.6 1951 L2307.6 1950.4 L2310.5 1949.9 L2313.4 1949.2 L2316.4 1948.5 L2319.3 1947.8 L2322.2 1947.1 L2325.1 1946.4 L2328.1 1945.6 L2331 1944.9 L2333.9 1944.3 L2336.9 1943.7 L2339.8 1943.1 L2342.7 1942.6 L2345.7 1942.2 L2348.6 1941.9 L2351.5 1941.6 L2354.5 1941.4 L2357.4 1941.2 L2360.3 1941.1 L2363.3 1941 L2366.2 1941 L2369.1 1941 L2372.1 1941 L2375 1941.1 L2377.9 1941.2 L2380.9 1941.3 L2383.8 1941.5 L2386.7 1941.7 L2389.7 1941.8 L2392.6 1942 L2395.5 1942.2 L2398.5 1942.4 L2401.4 1942.6 L2404.3 1942.8 L2407.2 1942.9 L2410.2 1943.1 L2413.1 1943.2 L2416 1943.4 L2419 1943.5 L2421.9 1943.6 L2424.8 1943.6 L2427.8 1943.7 L2430.7 1943.7 L2433.6 1943.8 L2436.6 1943.8 L2439.5 1943.8 L2442.4 1943.8 L2445.4 1943.8 L2448.3 1943.7 L2451.2 1943.7 L2454.2 1943.7 L2457.1 1943.6 L2460 1943.6 L2463 1943.5 L2465.9 1943.5 L2468.8 1943.4 L2471.8 1943.3 L2474.7 1943.3 L2477.6 1943.2 L2480.6 1943.1" fill="none" stroke="#000000" stroke-width="3.2" stroke-dasharray="13 20" stroke-linecap="round" stroke-linejoin="round"/><rect x="1485.8" y="1969.3" width="19.2" height="19.2" fill="#fff" stroke="#000000" stroke-width="1.6"/><rect x="1556.1" y="1771.4" width="19.2" height="19.2" fill="#fff" stroke="#000000" stroke-width="1.6"/><rect x="1626.5" y="1528" width="19.2" height="19.2" fill="#fff" stroke="#000000" stroke-width="1.6"/><rect x="1696.9" y="1483.1" width="19.2" height="19.2" fill="#fff" stroke="#000000" stroke-width="1.6"/><rect x="1767.2" y="1548.7" width="19.2" height="19.2" fill="#fff" stroke="#000000" stroke-width="1.6"/><rect x="1837.6" y="1539" width="19.2" height="19.2" fill="#fff" stroke="#000000" stroke-width="1.6"/><rect x="1908" y="1674.9" width="19.2" height="19.2" fill="#fff" stroke="#000000" stroke-width="1.6"/><rect x="1978.4" y="1786.6" width="19.2" height="19.2" fill="#fff" stroke="#000000" stroke-width="1.6"/><rect x="2048.7" y="1813.9" width="19.2" height="19.2" fill="#fff" stroke="#000000" stroke-width="1.6"/><rect x="2119.1" y="1832.7" width="19.2" height="19.2" fill="#fff" stroke="#000000" stroke-width="1.6"/><rect x="2189.5" y="1871.6" width="19.2" height="19.2" fill="#fff" stroke="#000000" stroke-width="1.6"/><rect x="2259.8" y="1937.8" width="19.2" height="19.2" fill="#fff" stroke="#000000" stroke-width="1.6"/><rect x="2330.2" y="1933.5" width="19.2" height="19.2" fill="#fff" stroke="#000000" stroke-width="1.6"/><rect x="2400.6" y="1933.5" width="19.2" height="19.2" fill="#fff" stroke="#000000" stroke-width="1.6"/><rect x="2471" y="1933.5" width="19.2" height="19.2" fill="#fff" stroke="#000000" stroke-width="1.6"/></g>
<g><path d="M1495.4 1988.6 L1498.3 1965.2 L1501.2 1941.8 L1504.2 1918.5 L1507.1 1895.3 L1510 1872.3 L1513 1849.6 L1515.9 1827 L1518.8 1804.8 L1521.8 1782.9 L1524.7 1761.4 L1527.6 1740.3 L1530.6 1719.7 L1533.5 1699.7 L1536.4 1680.1 L1539.4 1661.2 L1542.3 1642.9 L1545.2 1625.3 L1548.1 1608.4 L1551.1 1592.3 L1554 1577 L1556.9 1562.6 L1559.9 1549.1 L1562.8 1536.5 L1565.7 1524.9 L1568.7 1514.3 L1571.6 1504.7 L1574.5 1496 L1577.5 1488.3 L1580.4 1481.4 L1583.3 1475.4 L1586.3 1470.1 L1589.2 1465.6 L1592.1 1461.8 L1595.1 1458.6 L1598 1456.1 L1600.9 1454.2 L1603.9 1452.8 L1606.8 1451.9 L1609.7 1451.5 L1612.7 1451.6 L1615.6 1452 L1618.5 1452.7 L1621.4 1453.8 L1624.4 1455.1 L1627.3 1456.7 L1630.2 1458.5 L1633.2 1460.4 L1636.1 1462.4 L1639 1464.4 L1642 1466.6 L1644.9 1468.8 L1647.8 1471.2 L1650.8 1473.6 L1653.7 1476.1 L1656.6 1478.7 L1659.6 1481.5 L1662.5 1484.3 L1665.4 1487.3 L1668.4 1490.5 L1671.3 1493.7 L1674.2 1497.2 L1677.2 1500.8 L1680.1 1504.5 L1683 1508.4 L1686 1512.5 L1688.9 1516.8 L1691.8 1521.3 L1694.8 1525.9 L1697.7 1530.8 L1700.6 1535.9 L1703.5 1541.2 L1706.5 1546.7 L1709.4 1552.5 L1712.3 1558.4 L1715.3 1564.5 L1718.2 1570.8 L1721.1 1577.1 L1724.1 1583.4 L1727 1589.8 L1729.9 1596.1 L1732.9 1602.3 L1735.8 1608.5 L1738.7 1614.5 L1741.7 1620.3 L1744.6 1625.8 L1747.5 1631.2 L1750.5 1636.2 L1753.4 1640.8 L1756.3 1645.1 L1759.3 1649 L1762.2 1652.4 L1765.1 1655.4 L1768.1 1657.8 L1771 1659.6 L1773.9 1660.9 L1776.8 1661.5 L1779.8 1661.4 L1782.7 1660.7 L1785.6 1659.4 L1788.6 1657.6 L1791.5 1655.4 L1794.4 1652.7 L1797.4 1649.7 L1800.3 1646.5 L1803.2 1642.9 L1806.2 1639.2 L1809.1 1635.4 L1812 1631.5 L1815 1627.7 L1817.9 1623.8 L1820.8 1620.1 L1823.8 1616.5 L1826.7 1613.1 L1829.6 1610 L1832.6 1607.2 L1835.5 1604.8 L1838.4 1602.9 L1841.4 1601.4 L1844.3 1600.5 L1847.2 1600.2 L1850.2 1600.5 L1853.1 1601.4 L1856 1603 L1858.9 1605.1 L1861.9 1607.7 L1864.8 1610.8 L1867.7 1614.4 L1870.7 1618.4 L1873.6 1622.8 L1876.5 1627.5 L1879.5 1632.5 L1882.4 1637.8 L1885.3 1643.4 L1888.3 1649.1 L1891.2 1655.1 L1894.1 1661.2 L1897.1 1667.3 L1900 1673.6 L1902.9 1679.9 L1905.9 1686.2 L1908.8 1692.4 L1911.7 1698.6 L1914.7 1704.7 L1917.6 1710.6 L1920.5 1716.4 L1923.5 1722 L1926.4 1727.4 L1929.3 1732.7 L1932.3 1737.9 L1935.2 1742.8 L1938.1 1747.7 L1941 1752.4 L1944 1756.9 L1946.9 1761.4 L1949.8 1765.7 L1952.8 1769.9 L1955.7 1773.9 L1958.6 1777.9 L1961.6 1781.8 L1964.5 1785.5 L1967.4 1789.2 L1970.4 1792.8 L1973.3 1796.3 L1976.2 1799.7 L1979.2 1803 L1982.1 1806.3 L1985 1809.5 L1988 1812.6 L1990.9 1815.7 L1993.8 1818.7 L1996.8 1821.7 L1999.7 1824.6 L2002.6 1827.4 L2005.6 1830.2 L2008.5 1833 L2011.4 1835.7 L2014.3 1838.3 L2017.3 1840.9 L2020.2 1843.4 L2023.1 1845.9 L2026.1 1848.3 L2029 1850.7 L2031.9 1853 L2034.9 1855.3 L2037.8 1857.5 L2040.7 1859.6 L2043.7 1861.7 L2046.6 1863.8 L2049.5 1865.8 L2052.5 1867.7 L2055.4 1869.6 L2058.3 1871.5 L2061.3 1873.3 L2064.2 1875 L2067.1 1876.7 L2070.1 1878.4 L2073 1880 L2075.9 1881.5 L2078.9 1883 L2081.8 1884.5 L2084.7 1886 L2087.7 1887.4 L2090.6 1888.7 L2093.5 1890.1 L2096.4 1891.4 L2099.4 1892.7 L2102.3 1893.9 L2105.2 1895.2 L2108.2 1896.4 L2111.1 1897.5 L2114 1898.7 L2117 1899.8 L2119.9 1901 L2122.8 1902.1 L2125.8 1903.2 L2128.7 1904.3 L2131.6 1905.3 L2134.6 1906.4 L2137.5 1907.4 L2140.4 1908.5 L2143.4 1909.5 L2146.3 1910.5 L2149.2 1911.5 L2152.2 1912.5 L2155.1 1913.5 L2158 1914.5 L2161 1915.4 L2163.9 1916.3 L2166.8 1917.3 L2169.7 1918.2 L2172.7 1919 L2175.6 1919.9 L2178.5 1920.7 L2181.5 1921.6 L2184.4 1922.4 L2187.3 1923.2 L2190.3 1923.9 L2193.2 1924.7 L2196.1 1925.4 L2199.1 1926.1 L2202 1926.8 L2204.9 1927.5 L2207.9 1928.1 L2210.8 1928.7 L2213.7 1929.3 L2216.7 1929.9 L2219.6 1930.5 L2222.5 1931.1 L2225.5 1931.6 L2228.4 1932.1 L2231.3 1932.7 L2234.3 1933.2 L2237.2 1933.7 L2240.1 1934.2 L2243.1 1934.8 L2246 1935.3 L2248.9 1935.8 L2251.8 1936.3 L2254.8 1936.8 L2257.7 1937.3 L2260.6 1937.9 L2263.6 1938.4 L2266.5 1938.9 L2269.4 1939.5 L2272.4 1940 L2275.3 1940.6 L2278.2 1941.2 L2281.2 1941.7 L2284.1 1942.3 L2287 1942.9 L2290 1943.5 L2292.9 1944.1 L2295.8 1944.7 L2298.8 1945.2 L2301.7 1945.8 L2304.6 1946.4 L2307.6 1947 L2310.5 1947.5 L2313.4 1948.1 L2316.4 1948.6 L2319.3 1949.1 L2322.2 1949.6 L2325.1 1950.1 L2328.1 1950.6 L2331 1951 L2333.9 1951.4 L2336.9 1951.8 L2339.8 1952.2 L2342.7 1952.6 L2345.7 1952.9 L2348.6 1953.2 L2351.5 1953.5 L2354.5 1953.7 L2357.4 1954 L2360.3 1954.2 L2363.3 1954.4 L2366.2 1954.6 L2369.1 1954.8 L2372.1 1954.9 L2375 1955.1 L2377.9 1955.2 L2380.9 1955.4 L2383.8 1955.5 L2386.7 1955.6 L2389.7 1955.7 L2392.6 1955.8 L2395.5 1955.9 L2398.5 1956 L2401.4 1956.1 L2404.3 1956.2 L2407.2 1956.3 L2410.2 1956.5 L2413.1 1956.6 L2416 1956.7 L2419 1956.8 L2421.9 1956.9 L2424.8 1957.1 L2427.8 1957.2 L2430.7 1957.4 L2433.6 1957.5 L2436.6 1957.6 L2439.5 1957.8 L2442.4 1957.9 L2445.4 1958.1 L2448.3 1958.3 L2451.2 1958.4 L2454.2 1958.6 L2457.1 1958.7 L2460 1958.9 L2463 1959.1 L2465.9 1959.2 L2468.8 1959.4 L2471.8 1959.6 L2474.7 1959.8 L2477.6 1959.9 L2480.6 1960.1" fill="none" stroke="#ff0000" stroke-width="3.2" stroke-dasharray="13 20" stroke-linecap="round" stroke-linejoin="round"/><circle cx="1495.4" cy="1988.6" r="10" fill="#fff" stroke="#ff0000" stroke-width="1.6"/><circle cx="1565.7" cy="1524.9" r="10" fill="#fff" stroke="#ff0000" stroke-width="1.6"/><circle cx="1636.1" cy="1462.4" r="10" fill="#fff" stroke="#ff0000" stroke-width="1.6"/><circle cx="1706.5" cy="1546.7" r="10" fill="#fff" stroke="#ff0000" stroke-width="1.6"/><circle cx="1776.8" cy="1661.5" r="10" fill="#fff" stroke="#ff0000" stroke-width="1.6"/><circle cx="1847.2" cy="1600.2" r="10" fill="#fff" stroke="#ff0000" stroke-width="1.6"/><circle cx="1917.6" cy="1710.6" r="10" fill="#fff" stroke="#ff0000" stroke-width="1.6"/><circle cx="1988" cy="1812.6" r="10" fill="#fff" stroke="#ff0000" stroke-width="1.6"/><circle cx="2058.3" cy="1871.5" r="10" fill="#fff" stroke="#ff0000" stroke-width="1.6"/><circle cx="2128.7" cy="1904.3" r="10" fill="#fff" stroke="#ff0000" stroke-width="1.6"/><circle cx="2199.1" cy="1926.1" r="10" fill="#fff" stroke="#ff0000" stroke-width="1.6"/><circle cx="2269.4" cy="1939.5" r="10" fill="#fff" stroke="#ff0000" stroke-width="1.6"/><circle cx="2339.8" cy="1952.2" r="10" fill="#fff" stroke="#ff0000" stroke-width="1.6"/><circle cx="2410.2" cy="1956.5" r="10" fill="#fff" stroke="#ff0000" stroke-width="1.6"/><circle cx="2480.6" cy="1960.1" r="10" fill="#fff" stroke="#ff0000" stroke-width="1.6"/></g>
<g><path d="M1495.4 1988.6 L1498.3 1993.2 L1501.2 1997.8 L1504.2 2002.2 L1507.1 2006.5 L1510 2010.7 L1513 2014.5 L1515.9 2018.1 L1518.8 2021.4 L1521.8 2024.3 L1524.7 2026.7 L1527.6 2028.7 L1530.6 2030.1 L1533.5 2030.9 L1536.4 2031.2 L1539.4 2030.7 L1542.3 2029.6 L1545.2 2027.7 L1548.1 2024.9 L1551.1 2021.3 L1554 2016.8 L1556.9 2011.3 L1559.9 2004.8 L1562.8 1997.3 L1565.7 1988.6 L1568.7 1978.9 L1571.6 1968 L1574.5 1956.1 L1577.5 1943.3 L1580.4 1929.7 L1583.3 1915.2 L1586.3 1900 L1589.2 1884.2 L1592.1 1867.8 L1595.1 1850.9 L1598 1833.5 L1600.9 1815.8 L1603.9 1797.8 L1606.8 1779.6 L1609.7 1761.3 L1612.7 1742.8 L1615.6 1724.4 L1618.5 1706.1 L1621.4 1687.8 L1624.4 1669.8 L1627.3 1652.1 L1630.2 1634.7 L1633.2 1617.8 L1636.1 1601.4 L1639 1585.5 L1642 1570.2 L1644.9 1555.6 L1647.8 1541.6 L1650.8 1528.2 L1653.7 1515.6 L1656.6 1503.6 L1659.6 1492.4 L1662.5 1482 L1665.4 1472.4 L1668.4 1463.5 L1671.3 1455.5 L1674.2 1448.4 L1677.2 1442.1 L1680.1 1436.8 L1683 1432.3 L1686 1428.9 L1688.9 1426.4 L1691.8 1424.9 L1694.8 1424.4 L1697.7 1425 L1700.6 1426.6 L1703.5 1429.4 L1706.5 1433.2 L1709.4 1438.2 L1712.3 1444.3 L1715.3 1451.3 L1718.2 1459.1 L1721.1 1467.8 L1724.1 1477.1 L1727 1487.1 L1729.9 1497.5 L1732.9 1508.4 L1735.8 1519.6 L1738.7 1531.1 L1741.7 1542.7 L1744.6 1554.3 L1747.5 1565.9 L1750.5 1577.4 L1753.4 1588.7 L1756.3 1599.6 L1759.3 1610.2 L1762.2 1620.3 L1765.1 1629.8 L1768.1 1638.6 L1771 1646.7 L1773.9 1654 L1776.8 1660.2 L1779.8 1665.5 L1782.7 1669.8 L1785.6 1673.3 L1788.6 1675.9 L1791.5 1677.7 L1794.4 1678.8 L1797.4 1679.3 L1800.3 1679.2 L1803.2 1678.6 L1806.2 1677.6 L1809.1 1676.1 L1812 1674.4 L1815 1672.5 L1817.9 1670.3 L1820.8 1668.1 L1823.8 1665.8 L1826.7 1663.5 L1829.6 1661.3 L1832.6 1659.2 L1835.5 1657.4 L1838.4 1655.9 L1841.4 1654.7 L1844.3 1653.9 L1847.2 1653.6 L1850.2 1653.8 L1853.1 1654.5 L1856 1655.7 L1858.9 1657.4 L1861.9 1659.5 L1864.8 1662 L1867.7 1664.9 L1870.7 1668.2 L1873.6 1671.7 L1876.5 1675.6 L1879.5 1679.7 L1882.4 1684.1 L1885.3 1688.6 L1888.3 1693.4 L1891.2 1698.3 L1894.1 1703.3 L1897.1 1708.4 L1900 1713.6 L1902.9 1718.8 L1905.9 1724.1 L1908.8 1729.3 L1911.7 1734.5 L1914.7 1739.6 L1917.6 1744.6 L1920.5 1749.5 L1923.5 1754.3 L1926.4 1758.9 L1929.3 1763.4 L1932.3 1767.8 L1935.2 1772.1 L1938.1 1776.2 L1941 1780.2 L1944 1784.1 L1946.9 1787.8 L1949.8 1791.4 L1952.8 1794.9 L1955.7 1798.2 L1958.6 1801.4 L1961.6 1804.5 L1964.5 1807.4 L1967.4 1810.2 L1970.4 1812.9 L1973.3 1815.4 L1976.2 1817.8 L1979.2 1820 L1982.1 1822.1 L1985 1824.1 L1988 1826 L1990.9 1827.7 L1993.8 1829.2 L1996.8 1830.7 L1999.7 1832 L2002.6 1833.2 L2005.6 1834.3 L2008.5 1835.3 L2011.4 1836.2 L2014.3 1837 L2017.3 1837.7 L2020.2 1838.4 L2023.1 1839 L2026.1 1839.6 L2029 1840 L2031.9 1840.5 L2034.9 1840.9 L2037.8 1841.3 L2040.7 1841.6 L2043.7 1842 L2046.6 1842.3 L2049.5 1842.6 L2052.5 1842.9 L2055.4 1843.2 L2058.3 1843.6 L2061.3 1843.9 L2064.2 1844.3 L2067.1 1844.7 L2070.1 1845.1 L2073 1845.6 L2075.9 1846.1 L2078.9 1846.6 L2081.8 1847.1 L2084.7 1847.7 L2087.7 1848.3 L2090.6 1849 L2093.5 1849.6 L2096.4 1850.4 L2099.4 1851.1 L2102.3 1851.9 L2105.2 1852.8 L2108.2 1853.7 L2111.1 1854.6 L2114 1855.6 L2117 1856.6 L2119.9 1857.6 L2122.8 1858.8 L2125.8 1859.9 L2128.7 1861.2 L2131.6 1862.4 L2134.6 1863.8 L2137.5 1865.1 L2140.4 1866.6 L2143.4 1868 L2146.3 1869.6 L2149.2 1871.1 L2152.2 1872.7 L2155.1 1874.4 L2158 1876 L2161 1877.8 L2163.9 1879.5 L2166.8 1881.3 L2169.7 1883.1 L2172.7 1884.9 L2175.6 1886.8 L2178.5 1888.7 L2181.5 1890.6 L2184.4 1892.5 L2187.3 1894.5 L2190.3 1896.4 L2193.2 1898.4 L2196.1 1900.4 L2199.1 1902.4 L2202 1904.5 L2204.9 1906.5 L2207.9 1908.5 L2210.8 1910.5 L2213.7 1912.5 L2216.7 1914.5 L2219.6 1916.5 L2222.5 1918.4 L2225.5 1920.3 L2228.4 1922.2 L2231.3 1924.1 L2234.3 1925.9 L2237.2 1927.6 L2240.1 1929.3 L2243.1 1930.9 L2246 1932.5 L2248.9 1933.9 L2251.8 1935.3 L2254.8 1936.7 L2257.7 1937.9 L2260.6 1939.1 L2263.6 1940.1 L2266.5 1941.1 L2269.4 1941.9 L2272.4 1942.6 L2275.3 1943.2 L2278.2 1943.8 L2281.2 1944.2 L2284.1 1944.5 L2287 1944.8 L2290 1945 L2292.9 1945.1 L2295.8 1945.1 L2298.8 1945.1 L2301.7 1945 L2304.6 1944.9 L2307.6 1944.7 L2310.5 1944.5 L2313.4 1944.3 L2316.4 1944.1 L2319.3 1943.8 L2322.2 1943.5 L2325.1 1943.2 L2328.1 1942.9 L2331 1942.6 L2333.9 1942.4 L2336.9 1942.1 L2339.8 1941.9 L2342.7 1941.7 L2345.7 1941.5 L2348.6 1941.4 L2351.5 1941.2 L2354.5 1941.1 L2357.4 1941.1 L2360.3 1941 L2363.3 1941 L2366.2 1941 L2369.1 1941 L2372.1 1941 L2375 1941 L2377.9 1941 L2380.9 1941.1 L2383.8 1941.1 L2386.7 1941.2 L2389.7 1941.3 L2392.6 1941.4 L2395.5 1941.5 L2398.5 1941.5 L2401.4 1941.6 L2404.3 1941.7 L2407.2 1941.8 L2410.2 1941.9 L2413.1 1942 L2416 1942.1 L2419 1942.1 L2421.9 1942.2 L2424.8 1942.3 L2427.8 1942.3 L2430.7 1942.4 L2433.6 1942.4 L2436.6 1942.5 L2439.5 1942.5 L2442.4 1942.6 L2445.4 1942.6 L2448.3 1942.7 L2451.2 1942.7 L2454.2 1942.8 L2457.1 1942.8 L2460 1942.9 L2463 1942.9 L2465.9 1942.9 L2468.8 1943 L2471.8 1943 L2474.7 1943 L2477.6 1943.1 L2480.6 1943.1" fill="none" stroke="#0000ff" stroke-width="3.2" stroke-dasharray="13 20" stroke-linecap="round" stroke-linejoin="round"/><polygon points="1495.4,1976.9 1509,2000.4 1481.7,2000.4" fill="#fff" stroke="#0000ff" stroke-width="1.6"/><polygon points="1565.7,1976.9 1579.4,2000.4 1552.1,2000.4" fill="#fff" stroke="#0000ff" stroke-width="1.6"/><polygon points="1636.1,1589.6 1649.8,1613.1 1622.5,1613.1" fill="#fff" stroke="#0000ff" stroke-width="1.6"/><polygon points="1706.5,1421.5 1720.1,1445 1692.8,1445" fill="#fff" stroke="#0000ff" stroke-width="1.6"/><polygon points="1776.8,1648.5 1790.5,1672 1763.2,1672" fill="#fff" stroke="#0000ff" stroke-width="1.6"/><polygon points="1847.2,1641.8 1860.9,1665.3 1833.6,1665.3" fill="#fff" stroke="#0000ff" stroke-width="1.6"/><polygon points="1917.6,1732.9 1931.2,1756.4 1903.9,1756.4" fill="#fff" stroke="#0000ff" stroke-width="1.6"/><polygon points="1988,1814.2 2001.6,1837.7 1974.3,1837.7" fill="#fff" stroke="#0000ff" stroke-width="1.6"/><polygon points="2058.3,1831.8 2072,1855.3 2044.7,1855.3" fill="#fff" stroke="#0000ff" stroke-width="1.6"/><polygon points="2128.7,1849.4 2142.3,1872.9 2115,1872.9" fill="#fff" stroke="#0000ff" stroke-width="1.6"/><polygon points="2199.1,1890.7 2212.7,1914.2 2185.4,1914.2" fill="#fff" stroke="#0000ff" stroke-width="1.6"/><polygon points="2269.4,1930.1 2283.1,1953.6 2255.8,1953.6" fill="#fff" stroke="#0000ff" stroke-width="1.6"/><polygon points="2339.8,1930.1 2353.5,1953.6 2326.2,1953.6" fill="#fff" stroke="#0000ff" stroke-width="1.6"/><polygon points="2410.2,1930.1 2423.8,1953.6 2396.5,1953.6" fill="#fff" stroke="#0000ff" stroke-width="1.6"/><polygon points="2480.6,1931.4 2494.2,1954.9 2466.9,1954.9" fill="#fff" stroke="#0000ff" stroke-width="1.6"/></g>
<g><path d="M1495.4 1971 L1498.3 1968.8 L1501.2 1966.6 L1504.2 1964.4 L1507.1 1962.3 L1510 1960.2 L1513 1958.2 L1515.9 1956.3 L1518.8 1954.6 L1521.8 1953 L1524.7 1951.5 L1527.6 1950.2 L1530.6 1949.1 L1533.5 1948.2 L1536.4 1947.5 L1539.4 1947 L1542.3 1946.8 L1545.2 1946.9 L1548.1 1947.3 L1551.1 1947.9 L1554 1948.9 L1556.9 1950.3 L1559.9 1951.9 L1562.8 1954 L1565.7 1956.5 L1568.7 1959.3 L1571.6 1962.5 L1574.5 1965.9 L1577.5 1969.5 L1580.4 1973.3 L1583.3 1977 L1586.3 1980.7 L1589.2 1984.4 L1592.1 1987.8 L1595.1 1990.9 L1598 1993.7 L1600.9 1996.1 L1603.9 1998.1 L1606.8 1999.4 L1609.7 2000.1 L1612.7 2000.1 L1615.6 1999.3 L1618.5 1997.7 L1621.4 1995.1 L1624.4 1991.5 L1627.3 1986.8 L1630.2 1981 L1633.2 1973.9 L1636.1 1965.6 L1639 1955.8 L1642 1944.9 L1644.9 1932.8 L1647.8 1919.8 L1650.8 1905.9 L1653.7 1891.4 L1656.6 1876.3 L1659.6 1860.8 L1662.5 1845.1 L1665.4 1829.2 L1668.4 1813.4 L1671.3 1797.8 L1674.2 1782.4 L1677.2 1767.5 L1680.1 1753.1 L1683 1739.5 L1686 1726.8 L1688.9 1715 L1691.8 1704.4 L1694.8 1695.1 L1697.7 1687.3 L1700.6 1681 L1703.5 1676.3 L1706.5 1673.6 L1709.4 1672.8 L1712.3 1673.8 L1715.3 1676.6 L1718.2 1681 L1721.1 1686.9 L1724.1 1694.1 L1727 1702.6 L1729.9 1712.1 L1732.9 1722.6 L1735.8 1734 L1738.7 1746.1 L1741.7 1758.7 L1744.6 1771.8 L1747.5 1785.3 L1750.5 1798.9 L1753.4 1812.6 L1756.3 1826.3 L1759.3 1839.8 L1762.2 1852.9 L1765.1 1865.7 L1768.1 1877.9 L1771 1889.3 L1773.9 1900 L1776.8 1909.7 L1779.8 1918.4 L1782.7 1926 L1785.6 1932.7 L1788.6 1938.5 L1791.5 1943.5 L1794.4 1947.6 L1797.4 1951 L1800.3 1953.7 L1803.2 1955.7 L1806.2 1957.2 L1809.1 1958.2 L1812 1958.7 L1815 1958.8 L1817.9 1958.6 L1820.8 1958 L1823.8 1957.2 L1826.7 1956.2 L1829.6 1955.1 L1832.6 1953.9 L1835.5 1952.6 L1838.4 1951.4 L1841.4 1950.3 L1844.3 1949.3 L1847.2 1948.6 L1850.2 1948 L1853.1 1947.7 L1856 1947.7 L1858.9 1947.8 L1861.9 1948.1 L1864.8 1948.6 L1867.7 1949.3 L1870.7 1950.1 L1873.6 1951.1 L1876.5 1952.1 L1879.5 1953.3 L1882.4 1954.6 L1885.3 1955.9 L1888.3 1957.3 L1891.2 1958.7 L1894.1 1960.2 L1897.1 1961.6 L1900 1963.1 L1902.9 1964.6 L1905.9 1966 L1908.8 1967.4 L1911.7 1968.7 L1914.7 1969.9 L1917.6 1971 L1920.5 1972.1 L1923.5 1973 L1926.4 1973.8 L1929.3 1974.6 L1932.3 1975.2 L1935.2 1975.8 L1938.1 1976.3 L1941 1976.7 L1944 1977.1 L1946.9 1977.4 L1949.8 1977.6 L1952.8 1977.8 L1955.7 1978 L1958.6 1978.1 L1961.6 1978.2 L1964.5 1978.2 L1967.4 1978.3 L1970.4 1978.3 L1973.3 1978.3 L1976.2 1978.3 L1979.2 1978.3 L1982.1 1978.3 L1985 1978.3 L1988 1978.3 L1990.9 1978.4 L1993.8 1978.4 L1996.8 1978.5 L1999.7 1978.6 L2002.6 1978.7 L2005.6 1978.8 L2008.5 1978.9 L2011.4 1979.1 L2014.3 1979.2 L2017.3 1979.4 L2020.2 1979.6 L2023.1 1979.7 L2026.1 1979.9 L2029 1980.1 L2031.9 1980.3 L2034.9 1980.5 L2037.8 1980.7 L2040.7 1980.9 L2043.7 1981.1 L2046.6 1981.3 L2049.5 1981.4 L2052.5 1981.6 L2055.4 1981.8 L2058.3 1982 L2061.3 1982.1 L2064.2 1982.3 L2067.1 1982.4 L2070.1 1982.5 L2073 1982.7 L2075.9 1982.8 L2078.9 1982.9 L2081.8 1983 L2084.7 1983.1 L2087.7 1983.2 L2090.6 1983.4 L2093.5 1983.5 L2096.4 1983.6 L2099.4 1983.7 L2102.3 1983.8 L2105.2 1983.9 L2108.2 1984 L2111.1 1984.1 L2114 1984.3 L2117 1984.4 L2119.9 1984.5 L2122.8 1984.7 L2125.8 1984.8 L2128.7 1985 L2131.6 1985.2 L2134.6 1985.3 L2137.5 1985.5 L2140.4 1985.7 L2143.4 1985.9 L2146.3 1986.1 L2149.2 1986.3 L2152.2 1986.5 L2155.1 1986.7 L2158 1986.9 L2161 1987.1 L2163.9 1987.2 L2166.8 1987.4 L2169.7 1987.6 L2172.7 1987.8 L2175.6 1987.9 L2178.5 1988.1 L2181.5 1988.2 L2184.4 1988.3 L2187.3 1988.4 L2190.3 1988.5 L2193.2 1988.6 L2196.1 1988.6 L2199.1 1988.6 L2202 1988.6 L2204.9 1988.6 L2207.9 1988.6 L2210.8 1988.5 L2213.7 1988.5 L2216.7 1988.4 L2219.6 1988.3 L2222.5 1988.2 L2225.5 1988.1 L2228.4 1988 L2231.3 1987.9 L2234.3 1987.7 L2237.2 1987.6 L2240.1 1987.5 L2243.1 1987.3 L2246 1987.2 L2248.9 1987 L2251.8 1986.9 L2254.8 1986.8 L2257.7 1986.6 L2260.6 1986.5 L2263.6 1986.4 L2266.5 1986.3 L2269.4 1986.2 L2272.4 1986.1 L2275.3 1986.1 L2278.2 1986 L2281.2 1985.9 L2284.1 1985.9 L2287 1985.9 L2290 1985.9 L2292.9 1985.9 L2295.8 1985.8 L2298.8 1985.9 L2301.7 1985.9 L2304.6 1985.9 L2307.6 1985.9 L2310.5 1985.9 L2313.4 1985.9 L2316.4 1986 L2319.3 1986 L2322.2 1986 L2325.1 1986.1 L2328.1 1986.1 L2331 1986.1 L2333.9 1986.1 L2336.9 1986.2 L2339.8 1986.2 L2342.7 1986.2 L2345.7 1986.2 L2348.6 1986.3 L2351.5 1986.3 L2354.5 1986.3 L2357.4 1986.3 L2360.3 1986.3 L2363.3 1986.3 L2366.2 1986.3 L2369.1 1986.3 L2372.1 1986.3 L2375 1986.3 L2377.9 1986.3 L2380.9 1986.3 L2383.8 1986.3 L2386.7 1986.3 L2389.7 1986.3 L2392.6 1986.3 L2395.5 1986.2 L2398.5 1986.2 L2401.4 1986.2 L2404.3 1986.2 L2407.2 1986.2 L2410.2 1986.2 L2413.1 1986.2 L2416 1986.2 L2419 1986.2 L2421.9 1986.2 L2424.8 1986.2 L2427.8 1986.2 L2430.7 1986.2 L2433.6 1986.2 L2436.6 1986.2 L2439.5 1986.2 L2442.4 1986.2 L2445.4 1986.2 L2448.3 1986.2 L2451.2 1986.2 L2454.2 1986.2 L2457.1 1986.2 L2460 1986.2 L2463 1986.2 L2465.9 1986.2 L2468.8 1986.2 L2471.8 1986.2 L2474.7 1986.2 L2477.6 1986.2 L2480.6 1986.2" fill="none" stroke="#000000" stroke-width="3.4" stroke-dasharray="0 6.6" stroke-linecap="round" stroke-linejoin="round"/><polygon points="1483.6,1971 1507.1,1957.8 1507.1,1984.2" fill="#000000"/><polygon points="1554,1956.5 1577.5,1943.3 1577.5,1969.7" fill="#000000"/><polygon points="1624.4,1965.6 1647.9,1952.4 1647.9,1978.8" fill="#000000"/><polygon points="1694.7,1673.6 1718.2,1660.4 1718.2,1686.8" fill="#000000"/><polygon points="1765.1,1909.7 1788.6,1896.5 1788.6,1922.9" fill="#000000"/><polygon points="1835.5,1948.6 1859,1935.4 1859,1961.8" fill="#000000"/><polygon points="1905.8,1971 1929.3,1957.8 1929.3,1984.2" fill="#000000"/><polygon points="1976.2,1978.3 1999.7,1965.1 1999.7,1991.5" fill="#000000"/><polygon points="2046.6,1982 2070.1,1968.8 2070.1,1995.2" fill="#000000"/><polygon points="2116.9,1985 2140.4,1971.8 2140.4,1998.2" fill="#000000"/><polygon points="2187.3,1988.6 2210.8,1975.4 2210.8,2001.8" fill="#000000"/><polygon points="2257.7,1986.2 2281.2,1973 2281.2,1999.4" fill="#000000"/><polygon points="2328.1,1986.2 2351.6,1973 2351.6,1999.4" fill="#000000"/><polygon points="2398.4,1986.2 2421.9,1973 2421.9,1999.4" fill="#000000"/><polygon points="2468.8,1986.2 2492.3,1973 2492.3,1999.4" fill="#000000"/></g>
<g><path d="M1495.4 1991.7 L1498.3 1990.1 L1501.2 1988.6 L1504.2 1987.1 L1507.1 1985.6 L1510 1984.2 L1513 1982.8 L1515.9 1981.5 L1518.8 1980.3 L1521.8 1979.1 L1524.7 1978.1 L1527.6 1977.2 L1530.6 1976.4 L1533.5 1975.8 L1536.4 1975.3 L1539.4 1975 L1542.3 1974.8 L1545.2 1974.9 L1548.1 1975.1 L1551.1 1975.5 L1554 1976.2 L1556.9 1977.1 L1559.9 1978.3 L1562.8 1979.7 L1565.7 1981.3 L1568.7 1983.3 L1571.6 1985.4 L1574.5 1987.7 L1577.5 1990.1 L1580.4 1992.5 L1583.3 1994.8 L1586.3 1997 L1589.2 1999 L1592.1 2000.8 L1595.1 2002.2 L1598 2003.2 L1600.9 2003.8 L1603.9 2003.8 L1606.8 2003.3 L1609.7 2002 L1612.7 2000.1 L1615.6 1997.3 L1618.5 1993.7 L1621.4 1989.1 L1624.4 1983.5 L1627.3 1976.8 L1630.2 1969.1 L1633.2 1960.1 L1636.1 1949.8 L1639 1938.2 L1642 1925.4 L1644.9 1911.5 L1647.8 1896.7 L1650.8 1881 L1653.7 1864.7 L1656.6 1847.8 L1659.6 1830.4 L1662.5 1812.8 L1665.4 1795 L1668.4 1777.1 L1671.3 1759.3 L1674.2 1741.8 L1677.2 1724.6 L1680.1 1707.8 L1683 1691.7 L1686 1676.3 L1688.9 1661.8 L1691.8 1648.3 L1694.8 1635.9 L1697.7 1624.7 L1700.6 1615 L1703.5 1606.7 L1706.5 1600.2 L1709.4 1595.3 L1712.3 1592.1 L1715.3 1590.5 L1718.2 1590.4 L1721.1 1591.7 L1724.1 1594.3 L1727 1598 L1729.9 1602.8 L1732.9 1608.7 L1735.8 1615.4 L1738.7 1622.9 L1741.7 1631.2 L1744.6 1640 L1747.5 1649.3 L1750.5 1659.1 L1753.4 1669.1 L1756.3 1679.4 L1759.3 1689.8 L1762.2 1700.1 L1765.1 1710.4 L1768.1 1720.6 L1771 1730.4 L1773.9 1739.9 L1776.8 1748.9 L1779.8 1757.3 L1782.7 1765.2 L1785.6 1772.6 L1788.6 1779.4 L1791.5 1785.9 L1794.4 1791.8 L1797.4 1797.4 L1800.3 1802.6 L1803.2 1807.4 L1806.2 1811.9 L1809.1 1816 L1812 1819.9 L1815 1823.6 L1817.9 1827 L1820.8 1830.2 L1823.8 1833.2 L1826.7 1836.1 L1829.6 1838.9 L1832.6 1841.6 L1835.5 1844.2 L1838.4 1846.8 L1841.4 1849.3 L1844.3 1851.9 L1847.2 1854.5 L1850.2 1857.1 L1853.1 1859.9 L1856 1862.6 L1858.9 1865.5 L1861.9 1868.3 L1864.8 1871.2 L1867.7 1874.1 L1870.7 1877 L1873.6 1879.9 L1876.5 1882.8 L1879.5 1885.7 L1882.4 1888.5 L1885.3 1891.3 L1888.3 1894.1 L1891.2 1896.9 L1894.1 1899.6 L1897.1 1902.2 L1900 1904.8 L1902.9 1907.2 L1905.9 1909.6 L1908.8 1911.9 L1911.7 1914.2 L1914.7 1916.2 L1917.6 1918.2 L1920.5 1920.1 L1923.5 1921.8 L1926.4 1923.4 L1929.3 1924.9 L1932.3 1926.3 L1935.2 1927.6 L1938.1 1928.8 L1941 1930 L1944 1931 L1946.9 1932 L1949.8 1932.9 L1952.8 1933.7 L1955.7 1934.5 L1958.6 1935.2 L1961.6 1935.9 L1964.5 1936.5 L1967.4 1937.1 L1970.4 1937.7 L1973.3 1938.2 L1976.2 1938.7 L1979.2 1939.2 L1982.1 1939.7 L1985 1940.2 L1988 1940.7 L1990.9 1941.2 L1993.8 1941.7 L1996.8 1942.2 L1999.7 1942.7 L2002.6 1943.2 L2005.6 1943.7 L2008.5 1944.2 L2011.4 1944.7 L2014.3 1945.2 L2017.3 1945.7 L2020.2 1946.1 L2023.1 1946.6 L2026.1 1947.1 L2029 1947.5 L2031.9 1947.9 L2034.9 1948.4 L2037.8 1948.8 L2040.7 1949.2 L2043.7 1949.5 L2046.6 1949.9 L2049.5 1950.2 L2052.5 1950.5 L2055.4 1950.8 L2058.3 1951 L2061.3 1951.2 L2064.2 1951.4 L2067.1 1951.6 L2070.1 1951.7 L2073 1951.9 L2075.9 1952 L2078.9 1952.1 L2081.8 1952.3 L2084.7 1952.4 L2087.7 1952.6 L2090.6 1952.7 L2093.5 1952.9 L2096.4 1953.1 L2099.4 1953.3 L2102.3 1953.5 L2105.2 1953.8 L2108.2 1954.1 L2111.1 1954.5 L2114 1954.9 L2117 1955.3 L2119.9 1955.8 L2122.8 1956.4 L2125.8 1957 L2128.7 1957.7 L2131.6 1958.4 L2134.6 1959.2 L2137.5 1960.1 L2140.4 1961 L2143.4 1961.9 L2146.3 1962.9 L2149.2 1963.9 L2152.2 1964.9 L2155.1 1965.9 L2158 1966.9 L2161 1967.9 L2163.9 1968.9 L2166.8 1969.9 L2169.7 1970.8 L2172.7 1971.7 L2175.6 1972.5 L2178.5 1973.3 L2181.5 1974 L2184.4 1974.6 L2187.3 1975.2 L2190.3 1975.7 L2193.2 1976.1 L2196.1 1976.3 L2199.1 1976.5 L2202 1976.5 L2204.9 1976.5 L2207.9 1976.3 L2210.8 1976 L2213.7 1975.7 L2216.7 1975.3 L2219.6 1974.7 L2222.5 1974.2 L2225.5 1973.6 L2228.4 1972.9 L2231.3 1972.2 L2234.3 1971.5 L2237.2 1970.7 L2240.1 1969.9 L2243.1 1969.1 L2246 1968.4 L2248.9 1967.6 L2251.8 1966.8 L2254.8 1966.1 L2257.7 1965.4 L2260.6 1964.8 L2263.6 1964.2 L2266.5 1963.6 L2269.4 1963.1 L2272.4 1962.7 L2275.3 1962.4 L2278.2 1962.1 L2281.2 1961.9 L2284.1 1961.8 L2287 1961.7 L2290 1961.6 L2292.9 1961.6 L2295.8 1961.6 L2298.8 1961.7 L2301.7 1961.8 L2304.6 1961.9 L2307.6 1962.1 L2310.5 1962.3 L2313.4 1962.5 L2316.4 1962.7 L2319.3 1962.9 L2322.2 1963.1 L2325.1 1963.4 L2328.1 1963.6 L2331 1963.8 L2333.9 1964 L2336.9 1964.2 L2339.8 1964.4 L2342.7 1964.5 L2345.7 1964.6 L2348.6 1964.7 L2351.5 1964.8 L2354.5 1964.9 L2357.4 1964.9 L2360.3 1964.9 L2363.3 1964.9 L2366.2 1964.9 L2369.1 1964.9 L2372.1 1964.9 L2375 1964.9 L2377.9 1964.8 L2380.9 1964.8 L2383.8 1964.8 L2386.7 1964.7 L2389.7 1964.7 L2392.6 1964.6 L2395.5 1964.5 L2398.5 1964.5 L2401.4 1964.5 L2404.3 1964.4 L2407.2 1964.4 L2410.2 1964.4 L2413.1 1964.3 L2416 1964.3 L2419 1964.3 L2421.9 1964.3 L2424.8 1964.3 L2427.8 1964.4 L2430.7 1964.4 L2433.6 1964.4 L2436.6 1964.5 L2439.5 1964.5 L2442.4 1964.6 L2445.4 1964.6 L2448.3 1964.7 L2451.2 1964.8 L2454.2 1964.8 L2457.1 1964.9 L2460 1965 L2463 1965.1 L2465.9 1965.1 L2468.8 1965.2 L2471.8 1965.3 L2474.7 1965.4 L2477.6 1965.5 L2480.6 1965.6" fill="none" stroke="#ff0000" stroke-width="3.4" stroke-dasharray="0 6.6" stroke-linecap="round" stroke-linejoin="round"/><polygon points="1495.4,1978.5 1508.6,1991.7 1495.4,2004.9 1482.2,1991.7" fill="#fff" stroke="#ff0000" stroke-width="1.6"/><polygon points="1482.2,1991.7 1508.6,1991.7 1495.4,2004.9" fill="#ff0000"/><polygon points="1565.7,1968.1 1578.9,1981.3 1565.7,1994.5 1552.5,1981.3" fill="#fff" stroke="#ff0000" stroke-width="1.6"/><polygon points="1552.5,1981.3 1578.9,1981.3 1565.7,1994.5" fill="#ff0000"/><polygon points="1636.1,1936.6 1649.3,1949.8 1636.1,1963 1622.9,1949.8" fill="#fff" stroke="#ff0000" stroke-width="1.6"/><polygon points="1622.9,1949.8 1649.3,1949.8 1636.1,1963" fill="#ff0000"/><polygon points="1706.5,1587 1719.7,1600.2 1706.5,1613.4 1693.3,1600.2" fill="#fff" stroke="#ff0000" stroke-width="1.6"/><polygon points="1693.3,1600.2 1719.7,1600.2 1706.5,1613.4" fill="#ff0000"/><polygon points="1776.8,1735.7 1790,1748.9 1776.8,1762.1 1763.6,1748.9" fill="#fff" stroke="#ff0000" stroke-width="1.6"/><polygon points="1763.6,1748.9 1790,1748.9 1776.8,1762.1" fill="#ff0000"/><polygon points="1847.2,1841.3 1860.4,1854.5 1847.2,1867.7 1834,1854.5" fill="#fff" stroke="#ff0000" stroke-width="1.6"/><polygon points="1834,1854.5 1860.4,1854.5 1847.2,1867.7" fill="#ff0000"/><polygon points="1917.6,1905 1930.8,1918.2 1917.6,1931.4 1904.4,1918.2" fill="#fff" stroke="#ff0000" stroke-width="1.6"/><polygon points="1904.4,1918.2 1930.8,1918.2 1917.6,1931.4" fill="#ff0000"/><polygon points="1988,1927.5 2001.2,1940.7 1988,1953.9 1974.8,1940.7" fill="#fff" stroke="#ff0000" stroke-width="1.6"/><polygon points="1974.8,1940.7 2001.2,1940.7 1988,1953.9" fill="#ff0000"/><polygon points="2058.3,1937.8 2071.5,1951 2058.3,1964.2 2045.1,1951" fill="#fff" stroke="#ff0000" stroke-width="1.6"/><polygon points="2045.1,1951 2071.5,1951 2058.3,1964.2" fill="#ff0000"/><polygon points="2128.7,1944.5 2141.9,1957.7 2128.7,1970.9 2115.5,1957.7" fill="#fff" stroke="#ff0000" stroke-width="1.6"/><polygon points="2115.5,1957.7 2141.9,1957.7 2128.7,1970.9" fill="#ff0000"/><polygon points="2199.1,1963.3 2212.3,1976.5 2199.1,1989.7 2185.9,1976.5" fill="#fff" stroke="#ff0000" stroke-width="1.6"/><polygon points="2185.9,1976.5 2212.3,1976.5 2199.1,1989.7" fill="#ff0000"/><polygon points="2269.4,1949.9 2282.6,1963.1 2269.4,1976.3 2256.2,1963.1" fill="#fff" stroke="#ff0000" stroke-width="1.6"/><polygon points="2256.2,1963.1 2282.6,1963.1 2269.4,1976.3" fill="#ff0000"/><polygon points="2339.8,1951.2 2353,1964.4 2339.8,1977.6 2326.6,1964.4" fill="#fff" stroke="#ff0000" stroke-width="1.6"/><polygon points="2326.6,1964.4 2353,1964.4 2339.8,1977.6" fill="#ff0000"/><polygon points="2410.2,1951.2 2423.4,1964.4 2410.2,1977.6 2397,1964.4" fill="#fff" stroke="#ff0000" stroke-width="1.6"/><polygon points="2397,1964.4 2423.4,1964.4 2410.2,1977.6" fill="#ff0000"/><polygon points="2480.6,1952.4 2493.8,1965.6 2480.6,1978.8 2467.4,1965.6" fill="#fff" stroke="#ff0000" stroke-width="1.6"/><polygon points="2467.4,1965.6 2493.8,1965.6 2480.6,1978.8" fill="#ff0000"/></g>
<g><path d="M1495.4 1991.7 L1498.3 1991.3 L1501.2 1991 L1504.2 1990.6 L1507.1 1990.3 L1510 1990 L1513 1989.7 L1515.9 1989.3 L1518.8 1989.1 L1521.8 1988.8 L1524.7 1988.5 L1527.6 1988.3 L1530.6 1988.1 L1533.5 1987.9 L1536.4 1987.7 L1539.4 1987.6 L1542.3 1987.5 L1545.2 1987.4 L1548.1 1987.4 L1551.1 1987.4 L1554 1987.4 L1556.9 1987.5 L1559.9 1987.6 L1562.8 1987.8 L1565.7 1988 L1568.7 1988.3 L1571.6 1988.6 L1574.5 1988.8 L1577.5 1989.1 L1580.4 1989.2 L1583.3 1989.3 L1586.3 1989.3 L1589.2 1989.1 L1592.1 1988.7 L1595.1 1988.1 L1598 1987.3 L1600.9 1986.2 L1603.9 1984.8 L1606.8 1983.1 L1609.7 1981 L1612.7 1978.6 L1615.6 1975.7 L1618.5 1972.4 L1621.4 1968.7 L1624.4 1964.4 L1627.3 1959.6 L1630.2 1954.3 L1633.2 1948.4 L1636.1 1941.9 L1639 1934.8 L1642 1927 L1644.9 1918.8 L1647.8 1910.2 L1650.8 1901.2 L1653.7 1891.9 L1656.6 1882.3 L1659.6 1872.6 L1662.5 1862.8 L1665.4 1853 L1668.4 1843.2 L1671.3 1833.6 L1674.2 1824.1 L1677.2 1814.9 L1680.1 1806 L1683 1797.4 L1686 1789.4 L1688.9 1781.8 L1691.8 1774.9 L1694.8 1768.6 L1697.7 1763 L1700.6 1758.2 L1703.5 1754.3 L1706.5 1751.3 L1709.4 1749.3 L1712.3 1748.2 L1715.3 1748 L1718.2 1748.7 L1721.1 1750.1 L1724.1 1752.3 L1727 1755.1 L1729.9 1758.5 L1732.9 1762.4 L1735.8 1766.9 L1738.7 1771.8 L1741.7 1777 L1744.6 1782.6 L1747.5 1788.4 L1750.5 1794.5 L1753.4 1800.7 L1756.3 1807 L1759.3 1813.3 L1762.2 1819.7 L1765.1 1825.9 L1768.1 1832 L1771 1837.9 L1773.9 1843.6 L1776.8 1849 L1779.8 1854.1 L1782.7 1858.8 L1785.6 1863.1 L1788.6 1867.2 L1791.5 1871 L1794.4 1874.5 L1797.4 1877.8 L1800.3 1880.8 L1803.2 1883.5 L1806.2 1886.1 L1809.1 1888.5 L1812 1890.7 L1815 1892.8 L1817.9 1894.7 L1820.8 1896.5 L1823.8 1898.2 L1826.7 1899.8 L1829.6 1901.3 L1832.6 1902.7 L1835.5 1904.1 L1838.4 1905.5 L1841.4 1906.9 L1844.3 1908.3 L1847.2 1909.7 L1850.2 1911.2 L1853.1 1912.7 L1856 1914.2 L1858.9 1915.7 L1861.9 1917.3 L1864.8 1918.9 L1867.7 1920.5 L1870.7 1922.1 L1873.6 1923.7 L1876.5 1925.3 L1879.5 1927 L1882.4 1928.6 L1885.3 1930.2 L1888.3 1931.7 L1891.2 1933.3 L1894.1 1934.8 L1897.1 1936.3 L1900 1937.8 L1902.9 1939.2 L1905.9 1940.6 L1908.8 1941.9 L1911.7 1943.2 L1914.7 1944.4 L1917.6 1945.5 L1920.5 1946.6 L1923.5 1947.6 L1926.4 1948.6 L1929.3 1949.5 L1932.3 1950.3 L1935.2 1951.1 L1938.1 1951.9 L1941 1952.6 L1944 1953.2 L1946.9 1953.8 L1949.8 1954.4 L1952.8 1954.9 L1955.7 1955.4 L1958.6 1955.9 L1961.6 1956.3 L1964.5 1956.7 L1967.4 1957.1 L1970.4 1957.5 L1973.3 1957.9 L1976.2 1958.2 L1979.2 1958.5 L1982.1 1958.9 L1985 1959.2 L1988 1959.5 L1990.9 1959.8 L1993.8 1960.1 L1996.8 1960.5 L1999.7 1960.8 L2002.6 1961.1 L2005.6 1961.4 L2008.5 1961.7 L2011.4 1962 L2014.3 1962.3 L2017.3 1962.6 L2020.2 1962.9 L2023.1 1963.2 L2026.1 1963.5 L2029 1963.8 L2031.9 1964.1 L2034.9 1964.3 L2037.8 1964.6 L2040.7 1964.9 L2043.7 1965.1 L2046.6 1965.3 L2049.5 1965.6 L2052.5 1965.8 L2055.4 1966 L2058.3 1966.2 L2061.3 1966.4 L2064.2 1966.5 L2067.1 1966.7 L2070.1 1966.8 L2073 1967 L2075.9 1967.2 L2078.9 1967.3 L2081.8 1967.5 L2084.7 1967.6 L2087.7 1967.8 L2090.6 1967.9 L2093.5 1968.1 L2096.4 1968.3 L2099.4 1968.5 L2102.3 1968.7 L2105.2 1969 L2108.2 1969.2 L2111.1 1969.5 L2114 1969.8 L2117 1970.1 L2119.9 1970.4 L2122.8 1970.8 L2125.8 1971.2 L2128.7 1971.6 L2131.6 1972.1 L2134.6 1972.6 L2137.5 1973.1 L2140.4 1973.6 L2143.4 1974.2 L2146.3 1974.8 L2149.2 1975.3 L2152.2 1975.9 L2155.1 1976.5 L2158 1977.1 L2161 1977.6 L2163.9 1978.2 L2166.8 1978.7 L2169.7 1979.2 L2172.7 1979.7 L2175.6 1980.1 L2178.5 1980.5 L2181.5 1980.9 L2184.4 1981.2 L2187.3 1981.5 L2190.3 1981.7 L2193.2 1981.8 L2196.1 1981.9 L2199.1 1982 L2202 1981.9 L2204.9 1981.8 L2207.9 1981.6 L2210.8 1981.4 L2213.7 1981.1 L2216.7 1980.8 L2219.6 1980.5 L2222.5 1980.1 L2225.5 1979.6 L2228.4 1979.2 L2231.3 1978.7 L2234.3 1978.2 L2237.2 1977.7 L2240.1 1977.2 L2243.1 1976.7 L2246 1976.2 L2248.9 1975.7 L2251.8 1975.2 L2254.8 1974.7 L2257.7 1974.3 L2260.6 1973.9 L2263.6 1973.5 L2266.5 1973.1 L2269.4 1972.8 L2272.4 1972.6 L2275.3 1972.4 L2278.2 1972.2 L2281.2 1972.1 L2284.1 1972 L2287 1972 L2290 1972 L2292.9 1972 L2295.8 1972 L2298.8 1972.1 L2301.7 1972.2 L2304.6 1972.3 L2307.6 1972.4 L2310.5 1972.5 L2313.4 1972.7 L2316.4 1972.9 L2319.3 1973 L2322.2 1973.2 L2325.1 1973.3 L2328.1 1973.5 L2331 1973.7 L2333.9 1973.8 L2336.9 1973.9 L2339.8 1974.1 L2342.7 1974.2 L2345.7 1974.3 L2348.6 1974.3 L2351.5 1974.4 L2354.5 1974.4 L2357.4 1974.5 L2360.3 1974.5 L2363.3 1974.5 L2366.2 1974.5 L2369.1 1974.5 L2372.1 1974.5 L2375 1974.5 L2377.9 1974.5 L2380.9 1974.5 L2383.8 1974.4 L2386.7 1974.4 L2389.7 1974.3 L2392.6 1974.3 L2395.5 1974.3 L2398.5 1974.2 L2401.4 1974.2 L2404.3 1974.1 L2407.2 1974.1 L2410.2 1974.1 L2413.1 1974 L2416 1974 L2419 1974 L2421.9 1974 L2424.8 1973.9 L2427.8 1973.9 L2430.7 1973.9 L2433.6 1973.9 L2436.6 1973.9 L2439.5 1973.9 L2442.4 1973.9 L2445.4 1973.9 L2448.3 1973.9 L2451.2 1973.9 L2454.2 1973.9 L2457.1 1973.9 L2460 1974 L2463 1974 L2465.9 1974 L2468.8 1974 L2471.8 1974 L2474.7 1974 L2477.6 1974 L2480.6 1974.1" fill="none" stroke="#0000ff" stroke-width="3.4" stroke-dasharray="0 6.6" stroke-linecap="round" stroke-linejoin="round"/><polygon points="1495.4,1979.5 1498.9,1987.9 1507.9,1988.6 1501,1994.5 1503.1,2003.3 1495.4,1998.6 1487.6,2003.3 1489.7,1994.5 1482.8,1988.6 1491.9,1987.9" fill="#0000ff"/><polygon points="1565.7,1975.8 1569.2,1984.2 1578.3,1984.9 1571.4,1990.9 1573.5,1999.7 1565.7,1995 1558,1999.7 1560.1,1990.9 1553.2,1984.9 1562.2,1984.2" fill="#0000ff"/><polygon points="1636.1,1929.7 1639.6,1938.1 1648.7,1938.8 1641.8,1944.7 1643.9,1953.6 1636.1,1948.8 1628.4,1953.6 1630.5,1944.7 1623.6,1938.8 1632.6,1938.1" fill="#0000ff"/><polygon points="1706.5,1739.1 1710,1747.5 1719,1748.2 1712.1,1754.1 1714.2,1763 1706.5,1758.2 1698.7,1763 1700.8,1754.1 1693.9,1748.2 1703,1747.5" fill="#0000ff"/><polygon points="1776.8,1836.8 1780.3,1845.2 1789.4,1845.9 1782.5,1851.9 1784.6,1860.7 1776.8,1856 1769.1,1860.7 1771.2,1851.9 1764.3,1845.9 1773.4,1845.2" fill="#0000ff"/><polygon points="1847.2,1897.5 1850.7,1905.9 1859.8,1906.6 1852.9,1912.6 1855,1921.4 1847.2,1916.7 1839.5,1921.4 1841.6,1912.6 1834.7,1906.6 1843.7,1905.9" fill="#0000ff"/><polygon points="1917.6,1933.3 1921.1,1941.7 1930.1,1942.5 1923.2,1948.4 1925.3,1957.2 1917.6,1952.5 1909.8,1957.2 1911.9,1948.4 1905,1942.5 1914.1,1941.7" fill="#0000ff"/><polygon points="1988,1947.3 1991.5,1955.7 2000.5,1956.4 1993.6,1962.3 1995.7,1971.2 1988,1966.4 1980.2,1971.2 1982.3,1962.3 1975.4,1956.4 1984.5,1955.7" fill="#0000ff"/><polygon points="2058.3,1954 2061.8,1962.4 2070.9,1963.1 2064,1969 2066.1,1977.9 2058.3,1973.1 2050.6,1977.9 2052.7,1969 2045.8,1963.1 2054.8,1962.4" fill="#0000ff"/><polygon points="2128.7,1959.4 2132.2,1967.8 2141.3,1968.6 2134.3,1974.5 2136.5,1983.3 2128.7,1978.6 2120.9,1983.3 2123.1,1974.5 2116.1,1968.6 2125.2,1967.8" fill="#0000ff"/><polygon points="2199.1,1969.8 2202.6,1978.1 2211.6,1978.9 2204.7,1984.8 2206.8,1993.6 2199.1,1988.9 2191.3,1993.6 2193.4,1984.8 2186.5,1978.9 2195.6,1978.1" fill="#0000ff"/><polygon points="2269.4,1960.6 2272.9,1969 2282,1969.8 2275.1,1975.7 2277.2,1984.5 2269.4,1979.8 2261.7,1984.5 2263.8,1975.7 2256.9,1969.8 2265.9,1969" fill="#0000ff"/><polygon points="2339.8,1961.9 2343.3,1970.3 2352.4,1971 2345.5,1976.9 2347.6,1985.7 2339.8,1981 2332.1,1985.7 2334.2,1976.9 2327.3,1971 2336.3,1970.3" fill="#0000ff"/><polygon points="2410.2,1961.9 2413.7,1970.3 2422.7,1971 2415.8,1976.9 2417.9,1985.7 2410.2,1981 2402.4,1985.7 2404.5,1976.9 2397.6,1971 2406.7,1970.3" fill="#0000ff"/><polygon points="2480.6,1961.9 2484,1970.3 2493.1,1971 2486.2,1976.9 2488.3,1985.7 2480.6,1981 2472.8,1985.7 2474.9,1976.9 2468,1971 2477.1,1970.3" fill="#0000ff"/></g>
</g>
<g transform="translate(2016.7,1303.5) scale(0.22930)">
<rect x="130" y="32" width="1878" height="1330" fill="#fff"/>
<polygon points="190,440 330,420 450,1090 210,1040" fill="#a09c98" opacity="0.32" filter="url(#blur)"/>
<polygon points="290,130 1355,100 1950,970 1925,1245 445,1305" fill="url(#water)"/>
<polygon points="632,110 780,545 778,865 632,420" fill="#f0957a"/>
<polygon points="632,110 1155,97 1408,520 780,545" fill="#f2916f" stroke="#111" stroke-width="6" stroke-linejoin="round"/>
<polygon points="780,545 1408,520 1385,845 778,865" fill="#f2916f" stroke="#111" stroke-width="5" stroke-linejoin="round"/>
<polygon points="632,290 778,740 1392,722 1385,845 778,865 632,420" fill="#c3d3cd"/>
<polygon points="880,640 1298,625 1292,752 880,768" fill="#c6d6d0" stroke="#111" stroke-width="5"/>
<polygon points="1240,632 1298,627 1296,722" fill="#f2916f"/>
<path d="M880,722 L880,768 L1292,752 L1294,722" fill="none" stroke="#3cc" stroke-width="4"/>
<path d="M778,740 L778,865 L1385,845 L1392,722" fill="none" stroke="#5cc" stroke-width="4"/>
<path d="M632,110 L780,545 L778,740" fill="none" stroke="#111" stroke-width="5"/>
<path d="M398,283 C500,280 590,300 615,375 L648,590 C655,640 615,690 575,690 C510,690 458,662 452,622 L398,330 Z" fill="#ffff26" stroke="#111" stroke-width="5"/>
<path d="M452,620 L648,612 C655,650 615,690 575,690 C510,690 458,662 452,622 Z" fill="#cdeab5" stroke="#3aa" stroke-width="3"/>
<path d="M445,505 C560,500 630,540 648,595" fill="none" stroke="#111" stroke-width="5"/>
<path d="M586,367 L660,367" stroke="#45458a" stroke-width="27" stroke-linecap="round"/>
<path d="M566,621 L736,611" stroke="#45458a" stroke-width="27" stroke-linecap="round"/>
<path d="M775,872 C740,990 680,1050 590,1092" fill="none" stroke="#a8a8a8" stroke-width="5"/>
<path d="M1388,852 C1430,960 1500,1030 1630,1052" fill="none" stroke="#a8a8a8" stroke-width="5"/>
</g>
<rect x="1434" y="1153.5" width="839.4" height="166.7" fill="#fff" stroke="#222" stroke-width="1.6"/>
<path d="M1438.6 1181.5H1517.6" stroke="#000000" stroke-width="3" fill="none" stroke-linecap="round"/>
<rect x="1469.8" y="1173.2" width="16.6" height="16.6" fill="#000000"/>
<text x="1535.2" y="1193.7" font-family="'Liberation Serif', 'Times New Roman', serif" font-size="34" xml:space="preserve">θ =  0<tspan dy="-14" font-size="23">o</tspan><tspan dy="14"> </tspan><tspan font-weight="bold">-</tspan> ζ<tspan dy="8.5" dx="2" font-size="24.5">33</tspan></text>
<path d="M1438.7 1236.1H1449.6M1464.6 1236.1H1470.1M1486.1 1236.1H1495.9M1516.7 1236.1H1517" stroke="#000000" stroke-width="3.2" fill="none" stroke-linecap="round"/>
<rect x="1470.5" y="1228.5" width="15.2" height="15.2" fill="#fff" stroke="#000000" stroke-width="1.6"/>
<text x="1535.2" y="1248.3" font-family="'Liberation Serif', 'Times New Roman', serif" font-size="34" xml:space="preserve">θ =  0<tspan dy="-14" font-size="23">o</tspan><tspan dy="14"> </tspan><tspan font-weight="bold">-</tspan> ζ<tspan dy="8.5" dx="2" font-size="24.5">44</tspan></text>
<path d="M1440.1 1290.3h0M1446.7 1290.3h0M1453.3 1290.3h0M1459.9 1290.3h0M1466.5 1290.3h0M1486.3 1290.3h0M1492.9 1290.3h0M1499.5 1290.3h0M1506.1 1290.3h0M1512.7 1290.3h0" stroke="#000000" stroke-width="3.4" fill="none" stroke-linecap="round"/>
<polygon points="1468.8,1290.3 1487.4,1279.9 1487.4,1300.7" fill="#000000"/>
<text x="1535.2" y="1302.5" font-family="'Liberation Serif', 'Times New Roman', serif" font-size="34" xml:space="preserve">θ =  0<tspan dy="-14" font-size="23">o</tspan><tspan dy="14"> </tspan><tspan font-weight="bold">-</tspan> ζ<tspan dy="8.5" dx="2" font-size="24.5">55</tspan></text>
<path d="M1711.5 1181.5H1790.5" stroke="#ff0000" stroke-width="3" fill="none" stroke-linecap="round"/>
<circle cx="1751" cy="1181.5" r="8.8" fill="#ff0000"/>
<text x="1807.8" y="1193.7" font-family="'Liberation Serif', 'Times New Roman', serif" font-size="34" xml:space="preserve">θ = 30<tspan dy="-14" font-size="23">o</tspan><tspan dy="14"> </tspan><tspan font-weight="bold">-</tspan> ζ<tspan dy="8.5" dx="2" font-size="24.5">33</tspan></text>
<path d="M1711.6 1236.1H1722.5M1737.5 1236.1H1743M1759 1236.1H1768.8M1789.6 1236.1H1789.9" stroke="#ff0000" stroke-width="3.2" fill="none" stroke-linecap="round"/>
<circle cx="1751" cy="1236.1" r="7.9" fill="#fff" stroke="#ff0000" stroke-width="1.6"/>
<text x="1807.8" y="1248.3" font-family="'Liberation Serif', 'Times New Roman', serif" font-size="34" xml:space="preserve">θ = 30<tspan dy="-14" font-size="23">o</tspan><tspan dy="14"> </tspan><tspan font-weight="bold">-</tspan> ζ<tspan dy="8.5" dx="2" font-size="24.5">44</tspan></text>
<path d="M1713 1290.3h0M1719.6 1290.3h0M1726.2 1290.3h0M1732.8 1290.3h0M1739.4 1290.3h0M1759.2 1290.3h0M1765.8 1290.3h0M1772.4 1290.3h0M1779 1290.3h0M1785.6 1290.3h0" stroke="#ff0000" stroke-width="3.4" fill="none" stroke-linecap="round"/>
<polygon points="1751,1279.9 1761.4,1290.3 1751,1300.7 1740.6,1290.3" fill="#fff" stroke="#ff0000" stroke-width="1.6"/><polygon points="1740.6,1290.3 1761.4,1290.3 1751,1300.7" fill="#ff0000"/>
<text x="1807.8" y="1302.5" font-family="'Liberation Serif', 'Times New Roman', serif" font-size="34" xml:space="preserve">θ = 30<tspan dy="-14" font-size="23">o</tspan><tspan dy="14"> </tspan><tspan font-weight="bold">-</tspan> ζ<tspan dy="8.5" dx="2" font-size="24.5">55</tspan></text>
<path d="M1993.8 1181.5H2072.8" stroke="#0000ff" stroke-width="3" fill="none" stroke-linecap="round"/>
<polygon points="2033.3,1172.2 2044.1,1190.8 2022.5,1190.8" fill="#0000ff"/>
<text x="2090.6" y="1193.7" font-family="'Liberation Serif', 'Times New Roman', serif" font-size="34" xml:space="preserve">θ = 45<tspan dy="-14" font-size="23">o</tspan><tspan dy="14"> </tspan><tspan font-weight="bold">-</tspan> ζ<tspan dy="8.5" dx="2" font-size="24.5">33</tspan></text>
<path d="M1993.9 1236.1H2004.8M2019.8 1236.1H2025.3M2041.3 1236.1H2051.1M2071.9 1236.1H2072.2" stroke="#0000ff" stroke-width="3.2" fill="none" stroke-linecap="round"/>
<polygon points="2033.3,1226.8 2044.1,1245.4 2022.5,1245.4" fill="#fff" stroke="#0000ff" stroke-width="1.6"/>
<text x="2090.6" y="1248.3" font-family="'Liberation Serif', 'Times New Roman', serif" font-size="34" xml:space="preserve">θ = 45<tspan dy="-14" font-size="23">o</tspan><tspan dy="14"> </tspan><tspan font-weight="bold">-</tspan> ζ<tspan dy="8.5" dx="2" font-size="24.5">44</tspan></text>
<path d="M1995.3 1290.3h0M2001.9 1290.3h0M2008.5 1290.3h0M2015.1 1290.3h0M2021.7 1290.3h0M2041.5 1290.3h0M2048.1 1290.3h0M2054.7 1290.3h0M2061.3 1290.3h0M2067.9 1290.3h0" stroke="#0000ff" stroke-width="3.4" fill="none" stroke-linecap="round"/>
<polygon points="2033.3,1280.7 2036.1,1287.3 2043.2,1287.9 2037.8,1292.5 2039.4,1299.5 2033.3,1295.8 2027.2,1299.5 2028.8,1292.5 2023.4,1287.9 2030.5,1287.3" fill="#0000ff"/>
<text x="2090.6" y="1302.5" font-family="'Liberation Serif', 'Times New Roman', serif" font-size="34" xml:space="preserve">θ = 45<tspan dy="-14" font-size="23">o</tspan><tspan dy="14"> </tspan><tspan font-weight="bold">-</tspan> ζ<tspan dy="8.5" dx="2" font-size="24.5">55</tspan></text>
<path d="M1425 1994.7v8M1495.4 1994.7v15.5M1565.7 1994.7v8M1636.1 1994.7v15.5M1706.5 1994.7v8M1776.8 1994.7v15.5M1847.2 1994.7v8M1917.6 1994.7v15.5M1988 1994.7v8M2058.3 1994.7v15.5M2128.7 1994.7v8M2199.1 1994.7v15.5M2269.4 1994.7v8M2339.8 1994.7v15.5M2410.2 1994.7v8M2480.6 1994.7v15.5M1425 1994.7h-16.8M1425 1934h-8.4M1425 1873.3h-16.8M1425 1812.6h-8.4M1425 1751.9h-16.8M1425 1691.2h-8.4M1425 1630.5h-16.8M1425 1569.8h-8.4M1425 1509.1h-16.8M1425 1448.4h-8.4M1425 1387.7h-16.8M1425 1327h-8.4M1425 1266.3h-16.8M1425 1205.6h-8.4M1425 1144.9h-16.8" stroke="#000" stroke-width="3" fill="none"/>
<rect x="1425" y="1144.9" width="1055.6" height="849.8" fill="none" stroke="#000" stroke-width="3"/>
<g font-family="'Liberation Sans', Arial, sans-serif" font-size="35.2" fill="#000"><text transform="translate(1495.4,2050.8) scale(1,1.045)" text-anchor="middle">1</text><text transform="translate(1636.1,2050.8) scale(1,1.045)" text-anchor="middle">3</text><text transform="translate(1776.8,2050.8) scale(1,1.045)" text-anchor="middle">5</text><text transform="translate(1917.6,2050.8) scale(1,1.045)" text-anchor="middle">7</text><text transform="translate(2058.3,2050.8) scale(1,1.045)" text-anchor="middle">9</text><text transform="translate(2199.1,2050.8) scale(1,1.045)" text-anchor="middle">11</text><text transform="translate(2339.8,2050.8) scale(1,1.045)" text-anchor="middle">13</text><text transform="translate(2480.6,2050.8) scale(1,1.045)" text-anchor="middle">15</text><text transform="translate(1396,2005.1) scale(1,1.045)" text-anchor="end">0.0</text><text transform="translate(1396,1883.7) scale(1,1.045)" text-anchor="end">0.2</text><text transform="translate(1396,1762.3) scale(1,1.045)" text-anchor="end">0.4</text><text transform="translate(1396,1640.9) scale(1,1.045)" text-anchor="end">0.6</text><text transform="translate(1396,1519.5) scale(1,1.045)" text-anchor="end">0.8</text><text transform="translate(1396,1398.1) scale(1,1.045)" text-anchor="end">1.0</text><text transform="translate(1396,1276.7) scale(1,1.045)" text-anchor="end">1.2</text><text transform="translate(1396,1155.3) scale(1,1.045)" text-anchor="end">1.4</text></g>
<text transform="translate(1952.8,2103.4) scale(1,1.04)" text-anchor="middle" font-family="'Liberation Sans', Arial, sans-serif" font-size="36.8">Time Period (<tspan font-style="italic">s</tspan>)</text>
<text transform="translate(1319.5,1569.8) rotate(-90) scale(1,1.04)" text-anchor="middle" font-family="'Liberation Sans', Arial, sans-serif" font-size="36.6">Capture width ratio (<tspan font-style="italic">CWR</tspan>)</text>
<text x="696.5" y="1057" text-anchor="middle" font-family="'Liberation Serif', 'Times New Roman', serif" font-size="56.5">(a)</text>
<text x="1983.5" y="1056.5" text-anchor="middle" font-family="'Liberation Serif', 'Times New Roman', serif" font-size="56.5">(c)</text>
<text x="698.3" y="2187.5" text-anchor="middle" font-family="'Liberation Serif', 'Times New Roman', serif" font-size="56.5">(b)</text>
<text x="1984.5" y="2187.5" text-anchor="middle" font-family="'Liberation Serif', 'Times New Roman', serif" font-size="56.5">(d)</text>
</svg></body></html>
